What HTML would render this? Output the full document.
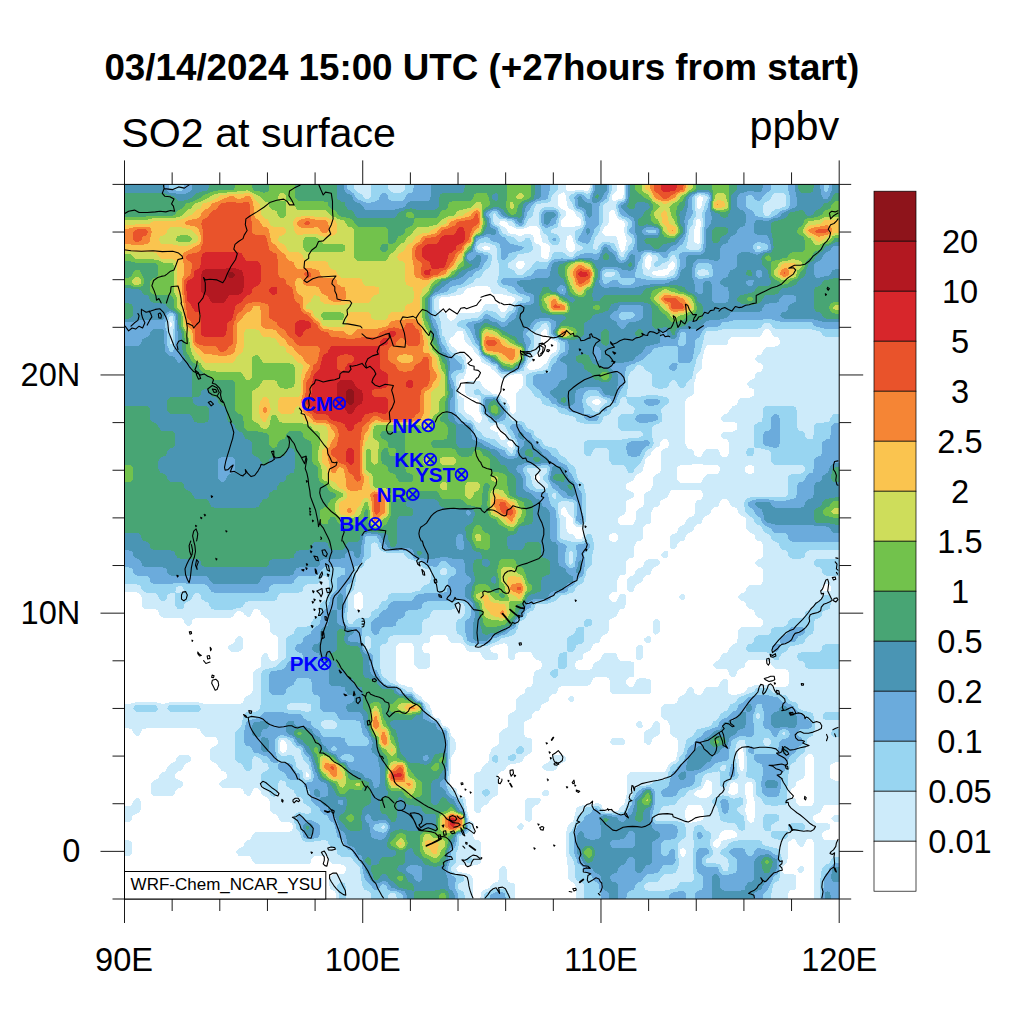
<!DOCTYPE html>
<html><head><meta charset="utf-8"><title>SO2 at surface</title>
<style>
html,body{margin:0;padding:0;background:#fff;}
body{width:1024px;height:1024px;overflow:hidden;position:relative;font-family:"Liberation Sans",sans-serif;}
svg{position:absolute;left:0;top:0;}
text{font-family:"Liberation Sans",sans-serif;fill:#000;}
</style></head><body>
<svg width="1024" height="1024" viewBox="0 0 1024 1024">
<rect width="1024" height="1024" fill="#fff"/>
<text x="481.8" y="80" font-size="36.75" font-weight="bold" text-anchor="middle">03/14/2024 15:00 UTC (+27hours from start)</text>
<text x="121.3" y="147" font-size="41.2">SO2 at surface</text>
<text x="839.3" y="140" font-size="41.4" text-anchor="end">ppbv</text>
<defs><clipPath id="mc"><rect x="124.5" y="184.4" width="714.7" height="714.6"/></clipPath></defs>
<g id="map" clip-path="url(#mc)" shape-rendering="crispEdges">
<rect x="124" y="184" width="716" height="716" fill="#fff"/>
<path fill="#cdebfa" d="M117,177 119,177 121,177 123,177 125,177 128,177 130,177 132,177 134,177 136,177 138,177 140,177 142,177 145,177 147,177 149,177 151,177 153,177 155,177 157,177 160,177 162,177 164,177 166,177 168,177 170,177 172,177 174,177 177,177 179,177 181,177 183,177 185,177 187,177 189,177 191,177 194,177 196,177 198,177 200,177 202,177 204,177 206,177 208,177 211,177 213,177 215,177 217,177 219,177 221,177 223,177 225,177 228,177 230,177 232,177 234,177 236,177 238,177 240,177 242,177 245,177 247,177 249,177 251,177 253,177 255,177 257,177 259,177 262,177 264,177 266,177 268,177 270,177 272,177 274,177 277,177 279,177 281,177 283,177 285,177 287,177 289,177 291,177 294,177 296,177 298,177 300,177 302,177 304,177 306,177 308,177 311,177 313,177 315,177 317,177 319,177 321,177 323,177 325,177 328,177 330,177 332,177 334,177 336,177 338,177 340,177 342,177 345,177 347,177 349,177 351,177 353,177 355,177 357,177 359,177 362,177 364,177 366,177 368,177 370,177 372,177 374,177 376,177 379,177 381,177 383,177 385,177 387,177 389,177 391,177 394,177 396,177 398,177 400,177 402,177 404,177 406,177 408,177 411,177 413,177 415,177 417,177 419,177 421,177 423,177 425,177 428,177 430,177 432,177 434,177 436,177 438,177 440,177 442,177 445,177 447,177 449,177 451,177 453,177 455,177 457,177 459,177 462,177 464,177 466,177 468,177 470,177 472,177 474,177 476,177 479,177 481,177 483,177 485,177 487,177 489,177 491,177 494,177 496,177 498,177 500,177 502,177 504,177 506,177 508,177 511,177 513,177 515,177 517,177 519,177 521,177 523,177 525,177 528,177 530,177 532,177 534,177 536,177 538,177 540,177 542,177 545,177 547,177 549,177 551,177 553,177 555,177 557,177 559,177 562,177 564,177 566,177 566,177 566,179 566,181 566,183 566,185 566,187 566,190 568,191 570,191 572,191 574,191 576,190 579,190 581,190 583,190 585,191 587,191 589,190 589,190 590,187 590,185 590,183 590,181 590,179 590,177 591,177 593,177 596,177 598,177 600,177 602,177 604,177 606,177 608,177 611,177 613,177 615,177 617,177 617,177 617,179 617,181 617,183 617,185 617,187 617,190 617,190 615,192 615,192 613,194 613,194 612,196 612,198 612,200 613,201 615,201 616,200 617,200 619,199 621,199 622,198 623,197 623,196 624,194 624,192 624,190 624,187 624,185 624,183 624,181 624,179 624,177 625,177 628,177 630,177 632,177 634,177 636,177 638,177 640,177 642,177 645,177 647,177 649,177 651,177 653,177 655,177 657,177 659,177 662,177 664,177 666,177 668,177 670,177 672,177 674,177 676,177 679,177 681,177 683,177 685,177 687,177 689,177 691,177 693,177 696,177 698,177 700,177 702,177 704,177 706,177 708,177 710,177 713,177 715,177 717,177 719,177 721,177 723,177 725,177 728,177 730,177 732,177 734,177 736,177 738,177 740,177 742,177 745,177 747,177 749,177 751,177 753,177 755,177 757,177 759,177 762,177 764,177 766,177 768,177 770,177 772,177 774,177 776,177 779,177 781,177 783,177 785,177 787,177 789,177 791,177 793,177 796,177 798,177 800,177 802,177 804,177 806,177 808,177 810,177 813,177 815,177 817,177 819,177 821,177 823,177 825,177 827,177 830,177 832,177 834,177 836,177 838,177 840,177 842,177 845,177 847,177 847,179 847,181 847,183 847,185 847,187 847,190 847,192 847,194 847,196 847,198 847,200 847,202 847,205 847,207 847,209 847,211 847,213 847,215 847,217 847,219 847,222 847,224 847,226 847,228 847,230 847,232 847,234 847,236 847,239 847,241 847,243 847,245 847,247 847,249 847,251 847,253 847,256 847,258 847,260 847,262 847,264 847,266 847,268 847,270 847,273 847,275 847,277 847,279 847,281 847,283 847,285 847,287 847,290 847,292 847,294 847,296 847,298 847,300 847,302 847,304 847,307 847,309 847,311 847,313 847,315 847,317 847,319 847,322 847,324 847,326 847,328 847,330 847,332 847,334 847,336 847,339 847,341 847,343 847,345 847,347 847,349 847,351 847,353 847,356 847,358 847,360 847,362 847,364 847,366 847,368 847,370 847,373 847,375 847,377 847,379 847,381 847,383 847,385 847,387 847,390 847,392 847,394 847,396 847,398 847,400 847,402 847,404 847,407 847,409 847,411 847,413 847,415 847,417 847,419 847,422 847,424 847,426 847,428 847,430 847,432 847,434 847,436 847,439 847,441 847,443 847,445 847,447 847,449 847,451 847,453 847,456 847,458 847,460 847,462 847,464 847,466 847,468 847,470 847,473 847,475 847,477 847,479 847,481 847,483 847,485 847,487 847,490 847,492 847,494 847,496 847,498 847,500 847,502 847,504 847,507 847,509 847,511 847,513 847,515 847,517 847,519 847,521 847,524 847,526 847,528 847,530 847,532 847,534 847,536 847,539 847,541 847,543 847,545 847,547 847,549 847,551 847,553 847,556 847,558 847,560 847,562 847,564 847,566 847,568 847,570 847,573 847,575 847,577 847,579 847,581 847,583 847,585 847,587 847,590 847,592 847,594 847,596 847,598 847,600 847,602 847,604 847,607 847,609 847,611 847,613 847,615 847,617 847,619 847,621 847,624 847,626 847,628 847,630 847,632 847,634 847,636 847,638 847,641 847,643 847,645 847,647 847,649 847,651 847,653 847,656 847,658 847,660 847,662 847,664 847,666 847,668 847,670 847,673 847,675 847,677 847,679 847,681 847,683 847,685 847,687 847,690 847,692 847,694 847,696 847,698 847,700 847,702 847,704 847,707 847,709 847,711 847,713 847,715 847,717 847,719 847,721 847,724 847,726 847,728 847,730 847,732 847,734 847,736 847,738 847,741 847,743 847,745 847,747 847,749 847,751 847,753 847,756 847,758 847,760 847,762 847,762 845,762 842,762 840,762 838,762 836,762 834,763 832,764 831,764 830,766 830,768 830,770 830,773 830,775 830,777 831,779 832,779 834,780 836,781 838,781 840,781 842,781 845,781 847,781 847,781 847,783 847,785 847,787 847,790 847,792 847,794 847,796 847,798 847,800 847,802 847,804 847,805 845,805 842,805 840,805 838,805 836,805 834,805 832,805 830,805 827,805 825,805 823,806 823,807 822,809 821,811 821,811 819,813 819,813 817,814 815,815 814,815 813,817 813,819 814,821 815,822 817,823 819,823 821,823 823,823 825,823 827,823 829,824 830,825 830,826 830,828 830,828 828,830 827,830 825,831 823,832 823,832 822,834 822,836 823,838 823,839 825,840 827,840 830,840 832,840 834,840 836,840 838,840 840,840 842,840 845,840 847,840 847,841 847,843 847,845 847,847 847,849 847,851 847,853 847,855 847,858 847,860 847,862 847,864 847,866 847,868 847,870 847,873 847,875 847,877 847,879 847,881 847,883 847,885 847,887 847,890 847,892 847,894 847,896 847,898 847,900 847,902 847,904 847,907 845,907 842,907 840,907 838,907 836,907 834,907 832,907 830,907 827,907 825,907 823,907 821,907 819,907 817,907 815,907 814,907 814,904 814,902 814,900 814,898 814,896 814,894 814,892 814,890 814,887 814,885 814,883 814,881 814,879 814,877 814,875 814,873 814,870 814,868 814,866 814,864 814,862 814,860 814,858 814,855 814,853 814,851 814,849 814,847 814,845 814,843 813,841 813,840 810,839 808,839 806,840 806,841 805,843 804,845 804,845 802,847 802,847 800,847 800,847 798,845 798,845 797,843 796,841 796,840 793,839 791,840 790,841 789,841 788,843 788,845 788,847 788,849 788,851 788,853 788,855 788,858 787,860 787,862 787,862 786,864 785,864 783,866 783,867 782,868 782,870 783,873 783,873 785,874 787,874 789,874 791,874 793,874 795,875 796,876 796,877 796,879 796,881 796,883 796,885 796,887 796,888 794,890 793,890 791,890 789,891 789,892 788,894 788,896 788,898 788,900 788,902 788,904 788,907 787,907 785,907 783,907 781,907 779,907 776,907 774,907 772,907 770,907 768,907 766,907 764,907 762,907 759,907 757,907 755,907 753,907 751,907 749,907 747,907 745,907 742,907 740,907 738,907 736,907 734,907 732,907 730,907 728,907 725,907 723,907 721,907 719,907 717,907 715,907 713,907 710,907 708,907 706,907 704,907 702,907 700,907 698,907 696,907 693,907 691,907 689,907 687,907 685,907 683,907 681,907 679,907 676,907 674,907 672,907 670,907 668,907 666,907 664,907 662,907 659,907 657,907 655,907 653,907 651,907 649,907 647,907 645,907 642,907 640,907 638,907 636,907 634,907 632,907 630,907 628,907 625,907 623,907 621,907 619,907 617,907 615,907 613,907 611,907 608,907 606,907 604,907 602,907 600,907 598,907 596,907 593,907 591,907 589,907 587,907 585,907 583,907 581,907 579,907 576,907 576,907 576,904 576,902 576,900 576,898 576,896 576,894 576,892 576,890 576,887 575,885 574,884 574,883 572,882 570,881 570,881 568,879 568,879 568,877 568,875 568,873 568,870 568,868 568,866 567,864 567,862 567,860 567,858 566,855 566,854 566,853 566,851 566,849 566,847 566,845 566,843 566,841 566,838 566,836 566,834 566,834 566,832 567,830 567,828 568,826 568,825 570,824 570,823 572,822 573,821 574,819 574,817 574,816 575,815 575,813 576,811 576,809 576,808 578,807 579,806 581,806 583,805 585,805 586,804 587,804 589,804 591,804 593,804 596,803 598,803 600,804 600,804 602,806 602,807 603,809 604,810 605,811 606,811 608,811 611,811 613,811 615,811 617,811 617,811 619,809 619,808 621,807 621,806 623,805 624,804 625,802 625,800 625,799 626,798 626,796 627,794 627,792 627,790 627,787 627,785 627,783 627,781 627,779 627,777 627,775 628,774 629,773 630,772 632,772 634,772 636,772 638,772 640,772 642,772 645,772 647,772 649,772 651,772 653,772 655,772 657,772 659,772 662,772 664,772 666,771 666,770 667,768 668,766 668,766 669,764 670,763 672,762 672,762 674,761 676,760 676,758 676,757 677,756 677,753 678,751 678,749 678,747 678,745 678,743 678,741 677,738 676,738 674,737 672,736 672,736 670,734 670,734 670,732 670,730 670,728 670,726 669,724 668,721 668,721 666,720 664,720 663,719 662,718 661,717 661,715 661,713 661,711 661,709 661,707 662,706 664,704 664,704 666,704 668,704 670,704 672,704 674,704 676,703 677,702 678,700 678,698 679,698 680,696 681,696 683,695 685,694 685,694 686,692 687,690 687,689 689,687 689,687 691,687 691,687 693,689 694,690 694,692 695,694 696,694 698,695 700,695 702,694 702,694 703,692 704,690 704,689 706,687 706,687 708,687 710,687 713,687 715,687 717,687 719,686 719,685 720,683 721,681 721,681 723,679 723,679 725,679 726,679 728,680 728,681 728,683 728,685 728,687 728,690 728,692 729,694 730,694 732,695 734,695 736,695 738,694 739,694 740,694 742,693 745,692 745,692 746,690 747,689 748,687 749,687 751,687 753,686 755,685 757,685 757,685 759,685 762,685 764,685 766,685 768,685 769,685 770,685 772,686 774,687 776,687 779,687 781,687 783,687 785,687 787,686 788,685 789,683 789,681 789,679 789,677 789,675 789,673 788,670 787,670 785,669 783,669 781,669 779,669 776,669 774,668 774,668 772,666 772,666 771,664 770,662 770,662 768,661 766,660 764,660 762,660 759,660 757,660 755,660 753,660 751,660 749,660 747,661 746,662 745,664 745,666 745,666 743,668 742,668 740,669 738,670 738,670 737,673 736,675 736,675 734,677 734,677 732,677 731,677 730,676 729,675 729,673 728,670 728,670 725,669 723,669 721,669 719,669 717,669 715,668 715,668 713,666 713,666 713,664 713,664 715,662 715,662 717,661 719,660 719,660 720,658 721,656 721,655 723,653 723,653 725,653 728,652 728,651 729,649 730,647 730,647 732,645 732,645 734,644 736,643 737,643 737,641 738,638 738,636 738,634 738,632 738,630 738,630 740,628 740,628 742,627 745,627 747,627 749,627 751,627 753,627 755,627 757,627 759,627 762,626 762,626 763,624 763,621 762,619 762,619 759,618 757,617 757,617 755,615 755,615 755,613 754,611 753,610 751,609 749,609 749,609 747,607 747,607 746,604 745,602 745,602 742,601 740,600 740,600 738,598 738,598 738,596 738,596 740,594 740,594 742,593 745,592 745,592 746,590 747,587 747,587 749,585 749,585 751,585 753,585 755,585 757,585 759,585 762,584 762,583 763,581 763,579 763,577 763,575 763,573 763,570 762,568 762,568 759,567 757,566 757,566 755,564 755,564 755,562 755,562 757,560 757,560 759,559 762,558 762,558 763,556 763,553 763,551 763,549 763,547 763,545 762,543 762,542 759,541 757,541 757,541 755,539 755,539 755,536 754,534 753,534 751,533 749,532 749,532 747,530 747,530 746,528 746,526 746,524 746,521 746,519 745,518 744,517 742,516 740,515 740,515 738,513 738,513 738,511 737,509 736,508 734,507 732,507 732,507 730,505 730,504 729,502 728,500 728,500 725,499 723,499 721,500 721,500 720,502 719,504 719,505 717,507 717,507 715,507 713,508 712,509 711,511 711,513 710,513 709,515 708,515 706,516 704,517 704,517 703,519 702,521 702,522 700,524 700,524 698,524 696,525 695,526 694,528 694,530 693,530 692,532 691,532 689,533 687,534 687,534 686,536 685,539 685,539 683,541 683,541 681,541 679,542 678,543 677,545 677,547 676,547 674,549 674,549 672,549 671,549 670,548 670,547 670,545 670,543 670,541 670,539 670,536 670,536 672,534 672,534 674,534 676,533 677,532 678,530 678,528 679,528 680,526 681,526 683,525 685,524 685,524 686,521 687,519 687,519 689,517 689,517 691,517 693,516 694,515 695,513 695,511 695,509 695,507 695,504 696,502 696,502 697,500 698,500 700,500 702,499 702,498 703,496 703,494 702,492 702,491 700,490 698,490 696,490 693,490 691,490 689,490 687,490 685,490 683,490 681,490 679,490 676,490 674,490 672,490 670,491 670,492 669,494 668,496 668,496 666,498 666,498 664,499 662,500 661,500 660,502 660,504 659,505 658,507 657,507 655,507 653,508 653,509 652,511 651,513 651,515 651,517 651,519 651,521 651,522 649,524 649,524 647,524 645,525 644,526 643,528 643,530 643,532 643,534 643,536 643,539 642,539 641,541 640,541 638,541 636,542 636,543 635,545 634,547 634,549 634,551 634,553 634,556 634,556 632,558 632,558 630,558 628,559 627,560 626,562 626,564 626,566 626,568 626,570 626,573 625,574 624,575 623,575 621,575 619,576 619,577 618,579 617,581 617,583 617,585 617,587 617,590 617,591 616,592 615,592 613,592 611,593 610,594 609,596 609,598 610,600 611,601 613,602 615,602 617,601 617,600 618,598 619,596 619,595 620,594 621,594 623,594 624,594 625,595 626,596 626,598 626,600 626,602 626,604 625,607 625,607 624,609 623,609 621,609 619,610 619,611 618,613 617,615 617,615 615,617 615,617 613,618 611,619 610,619 609,621 609,624 609,626 609,628 609,630 608,632 608,632 606,634 606,634 604,635 602,636 602,636 601,638 600,641 600,641 598,643 598,643 596,643 593,644 593,645 592,647 591,649 591,649 589,651 589,651 587,652 585,653 584,653 583,656 583,658 583,658 581,660 581,660 579,660 576,661 576,662 575,664 575,666 576,668 576,669 579,670 581,670 583,670 585,670 587,670 589,670 591,669 592,668 593,666 593,664 593,664 595,662 596,662 598,661 600,660 600,660 601,658 602,656 602,655 604,653 604,653 606,653 608,653 611,653 613,653 615,653 615,653 617,655 617,656 618,658 619,660 619,660 621,661 623,661 625,661 628,661 630,661 632,662 633,662 634,663 634,664 634,666 634,668 634,670 634,673 634,675 634,676 633,677 632,677 630,677 628,678 627,679 626,681 626,683 627,685 628,686 630,687 632,687 634,686 634,685 635,683 636,681 636,680 637,679 638,679 640,678 642,678 645,678 647,679 649,679 649,679 651,681 651,681 651,683 651,685 651,687 651,690 651,692 651,692 649,694 649,694 647,694 645,694 642,694 640,694 638,694 636,694 634,694 632,694 630,694 628,694 625,694 623,694 621,694 619,694 617,694 615,694 613,694 612,694 611,692 610,692 610,690 610,687 610,685 610,683 610,681 609,679 608,678 606,677 604,677 602,677 600,677 598,677 596,677 593,678 593,679 592,681 591,683 591,683 589,685 589,685 587,686 585,686 583,686 581,686 579,686 576,686 574,686 572,686 570,686 568,686 566,686 564,686 562,686 559,687 559,687 558,690 557,692 557,692 555,694 555,694 553,694 551,695 550,696 549,698 549,700 549,700 547,702 547,702 545,703 542,704 542,704 541,707 540,709 540,709 538,711 538,711 536,711 534,712 533,713 532,715 532,717 532,717 530,719 530,719 528,720 525,721 525,721 524,724 524,726 524,728 524,730 524,732 524,734 525,736 525,737 528,738 530,738 530,738 532,740 532,741 532,743 532,745 532,747 532,749 532,751 532,751 530,753 530,754 528,754 526,756 525,756 524,758 523,760 523,760 521,762 521,762 519,763 517,763 515,764 513,764 513,764 511,764 508,765 507,766 506,768 506,769 504,770 504,771 502,771 500,772 499,773 498,775 498,777 498,779 498,781 498,783 498,785 498,787 498,790 498,792 498,794 498,794 496,796 496,796 494,797 492,798 491,799 490,800 489,802 489,803 487,804 487,805 485,805 483,806 482,807 481,809 481,811 481,811 479,813 479,813 476,813 476,813 474,811 474,811 474,809 474,807 474,804 474,802 474,800 474,798 474,796 474,794 474,792 474,790 474,787 474,785 474,783 474,781 474,779 474,777 474,775 474,774 476,773 476,772 479,772 481,771 481,770 482,768 483,766 483,766 485,764 485,764 487,763 488,762 489,760 489,758 489,757 489,756 490,753 491,751 491,749 491,749 493,747 494,747 496,746 498,745 498,745 499,743 499,741 499,738 499,736 499,734 500,732 500,732 502,730 502,730 504,729 506,728 507,728 508,726 508,724 508,721 508,719 508,717 508,715 508,715 510,713 511,713 513,712 515,711 515,711 516,709 516,707 516,704 516,702 516,700 517,698 517,698 519,696 519,696 521,695 523,694 524,694 525,692 525,690 525,689 527,687 528,687 530,687 532,686 532,685 533,683 533,681 533,679 533,677 534,675 534,673 534,672 536,670 536,670 538,670 540,669 541,668 542,666 542,664 541,662 540,661 538,660 536,660 536,660 534,658 534,658 533,656 532,653 532,653 530,652 528,652 525,652 523,652 521,652 519,652 517,653 516,653 515,656 515,658 515,658 513,660 513,660 511,660 510,660 508,658 508,658 508,656 508,653 508,651 508,649 508,647 507,645 506,644 504,643 502,644 500,644 498,645 497,645 496,645 494,646 491,647 491,647 490,649 491,651 491,652 494,653 496,653 496,653 498,655 498,656 498,658 498,658 496,660 496,660 494,660 491,660 489,660 487,660 485,660 485,660 483,658 483,658 482,656 481,653 481,653 479,652 476,652 474,652 472,652 470,652 468,651 468,651 466,650 466,649 465,647 464,646 463,645 462,644 459,643 457,643 455,643 453,643 451,643 451,643 449,641 449,641 448,638 447,636 447,636 445,635 442,635 440,635 438,635 436,635 434,635 432,636 431,636 430,638 430,641 430,641 428,643 428,643 425,643 423,644 423,645 422,647 422,649 423,651 423,652 425,653 428,653 428,653 430,655 430,656 430,658 430,660 430,662 430,664 430,666 430,666 428,668 428,668 425,669 423,669 421,669 419,669 417,668 417,668 415,666 415,666 414,664 414,662 414,660 414,658 414,656 414,653 414,651 414,649 414,647 413,645 413,644 411,643 408,643 406,643 404,643 402,643 400,643 398,644 397,645 396,647 396,649 396,651 396,653 396,656 396,658 396,660 396,662 396,664 396,666 396,668 396,670 396,673 396,675 396,677 396,679 396,681 398,683 398,683 400,684 402,685 403,685 404,685 406,686 408,687 411,687 411,687 413,689 413,690 414,692 415,692 416,694 417,694 419,696 420,696 421,697 422,698 423,700 423,700 425,702 426,702 428,704 428,704 430,706 430,707 431,709 432,711 432,711 432,713 433,715 434,717 434,717 436,718 438,718 440,719 440,720 441,721 442,724 442,725 443,726 445,726 447,727 448,728 449,729 450,730 450,732 451,734 451,736 451,736 453,738 454,738 455,740 455,741 456,743 456,745 456,747 456,749 455,751 455,751 454,753 453,754 452,756 451,758 451,758 451,760 451,762 451,764 451,766 451,768 451,770 451,773 450,775 450,777 450,779 450,781 450,783 450,785 451,786 453,787 453,787 455,788 457,790 457,791 457,792 458,794 459,795 462,796 462,796 464,797 465,798 466,800 466,800 466,802 466,804 467,807 467,809 467,811 468,813 468,814 468,815 469,817 469,819 470,821 471,821 472,822 474,824 474,826 474,826 474,828 474,828 474,830 474,832 473,834 473,836 474,838 474,839 476,840 479,840 479,841 481,843 481,843 481,845 481,847 481,849 481,851 481,853 481,855 481,858 481,860 481,862 481,862 479,864 479,864 476,865 474,865 472,866 471,866 470,866 468,866 467,866 466,866 464,865 462,865 459,865 458,866 457,867 456,868 457,870 457,871 459,872 462,872 462,873 464,873 466,873 468,874 470,874 470,875 472,877 472,877 473,879 473,881 473,883 473,885 473,887 473,890 473,892 473,894 473,896 473,898 473,900 473,902 473,904 473,907 472,907 470,907 468,907 466,907 464,907 462,907 459,907 457,907 455,907 453,907 451,907 449,907 447,907 445,907 442,907 440,907 438,907 436,907 434,907 432,907 430,907 428,907 425,907 423,907 421,907 419,907 417,907 415,907 413,907 411,907 408,907 406,907 404,907 402,907 400,907 398,907 396,907 394,907 391,907 389,907 387,907 385,907 383,907 381,907 379,907 376,907 374,907 372,907 370,907 368,907 366,907 364,907 362,907 359,907 357,907 355,907 353,907 351,907 349,907 347,907 345,907 342,907 340,907 338,907 336,907 336,907 336,904 336,902 336,900 336,898 336,896 336,894 335,892 334,891 332,890 331,890 330,888 330,887 329,885 329,883 329,881 329,879 330,877 330,877 332,875 332,875 334,874 336,874 338,874 340,874 342,874 345,873 345,873 346,870 346,868 345,866 345,866 342,865 340,864 338,864 336,864 334,864 332,864 332,864 330,862 330,862 329,860 328,858 328,857 325,856 323,856 321,856 319,856 317,856 315,856 313,857 312,858 311,860 311,862 311,862 309,864 308,864 306,864 304,864 302,864 300,864 298,864 296,864 294,864 291,864 289,864 287,864 285,864 283,864 281,864 279,864 277,864 274,864 272,864 270,864 268,864 266,864 264,864 262,864 259,864 257,864 255,864 255,864 253,862 253,862 252,860 251,858 251,857 249,856 247,856 245,856 242,856 240,856 238,856 238,855 236,853 236,853 236,851 236,851 238,849 238,849 240,848 242,847 243,847 244,845 244,843 245,842 246,841 247,840 249,840 251,839 251,838 252,836 253,834 253,834 255,832 255,832 257,832 259,832 262,832 264,832 266,832 268,832 270,832 272,832 274,832 277,832 279,832 281,832 283,832 285,832 287,832 289,832 291,831 292,830 293,828 293,826 292,824 291,823 289,822 287,822 285,822 283,822 281,822 281,821 279,820 279,819 278,817 277,815 277,815 274,814 272,813 272,813 270,811 270,811 270,809 270,807 270,804 270,802 269,800 268,799 268,798 266,797 264,796 263,796 262,794 261,794 261,792 259,790 259,790 257,788 255,788 253,789 253,790 252,792 251,794 251,794 249,796 249,796 247,796 247,796 245,794 244,794 244,792 243,790 242,789 240,788 238,788 236,788 234,788 232,788 230,788 228,788 225,788 223,788 221,787 221,787 219,785 219,785 219,783 219,783 221,781 221,781 223,780 225,779 226,779 227,777 227,775 226,773 225,772 223,771 221,771 221,770 219,768 219,768 218,766 217,764 217,764 215,763 213,762 212,762 211,760 210,760 210,758 210,756 210,753 210,751 210,749 211,749 212,747 213,747 215,746 217,745 217,745 218,743 218,741 217,738 217,738 215,737 213,737 211,737 208,737 206,737 204,736 204,736 202,734 202,734 201,732 200,730 200,729 198,729 196,728 194,728 191,728 189,728 187,728 185,728 183,728 181,728 179,728 177,728 174,728 172,728 170,728 168,728 166,728 164,728 162,728 160,728 157,728 155,728 153,728 151,728 149,728 147,728 145,729 142,729 142,730 141,732 140,734 140,734 138,736 138,736 136,736 136,736 134,734 134,734 133,732 132,730 132,729 130,729 128,728 125,728 123,728 121,728 119,728 117,728 117,728 117,726 117,724 117,721 117,719 117,717 117,715 117,713 117,711 117,709 117,707 117,704 117,704 119,704 121,704 123,704 125,704 128,704 130,704 132,703 134,703 135,702 136,702 138,702 140,702 142,702 145,702 147,702 149,702 151,702 153,702 155,702 156,702 157,703 160,703 162,704 164,704 166,703 168,703 169,702 170,702 172,702 174,702 177,702 179,702 181,702 183,702 185,702 187,702 189,702 191,702 194,702 196,702 198,702 198,702 200,703 202,703 204,704 206,704 208,704 211,704 213,704 215,704 217,704 219,704 221,704 223,704 225,704 228,704 230,704 232,704 234,704 236,704 238,704 240,704 242,703 243,702 244,700 244,698 245,698 246,696 247,696 249,695 251,694 251,694 252,692 253,690 253,687 253,685 253,683 253,681 253,679 253,677 253,675 253,673 253,672 255,670 255,670 257,669 259,668 259,668 261,666 261,664 261,662 261,660 261,658 262,656 262,655 264,653 264,653 266,653 266,653 268,655 268,656 269,658 270,660 270,660 272,661 274,661 276,660 277,659 278,658 278,656 278,653 278,651 278,649 278,647 278,645 278,643 278,641 278,638 277,636 277,636 274,635 272,634 272,634 270,632 270,632 270,630 270,628 270,626 270,624 269,621 268,619 268,619 266,618 264,617 264,617 262,615 261,615 261,613 260,611 259,610 257,609 255,609 253,610 253,611 252,613 251,615 251,615 249,617 249,617 247,617 247,617 245,615 244,615 244,613 242,612 240,611 238,611 236,612 235,613 234,615 234,615 232,617 232,617 230,618 228,618 225,618 223,618 221,618 219,618 217,618 215,618 213,618 211,618 208,618 206,618 204,618 202,618 200,618 198,618 196,618 194,619 193,619 192,621 192,624 191,624 189,626 189,626 187,626 187,626 185,624 185,624 184,621 183,619 183,619 181,618 179,618 177,618 174,618 172,618 170,618 168,618 166,618 164,618 162,617 161,617 160,615 159,615 159,613 158,611 157,610 155,609 153,609 151,609 149,609 147,609 145,609 144,609 142,607 142,607 142,604 142,602 142,600 142,598 141,596 140,594 140,594 138,593 136,592 134,592 132,592 130,592 128,592 125,592 123,592 121,592 119,592 117,592 117,592 117,590 117,587 117,585 117,583 117,581 117,579 117,577 117,575 117,573 117,570 117,568 117,566 117,564 117,562 117,560 117,558 117,556 117,553 117,551 117,549 117,547 117,545 117,543 117,541 117,539 117,536 117,534 117,532 117,530 117,528 117,526 117,524 117,521 117,519 117,517 117,515 117,513 117,511 117,509 117,507 117,504 117,502 117,500 117,498 117,496 117,494 117,492 117,490 117,487 117,485 117,483 117,481 117,479 117,477 117,475 117,473 117,470 117,468 117,466 117,464 117,462 117,460 117,458 117,456 117,453 117,451 117,449 117,447 117,445 117,443 117,441 117,439 117,436 117,434 117,432 117,430 117,428 117,426 117,424 117,422 117,419 117,417 117,415 117,413 117,411 117,409 117,407 117,404 117,402 117,400 117,398 117,396 117,394 117,392 117,390 117,387 117,385 117,383 117,381 117,379 117,377 117,375 117,373 117,370 117,368 117,366 117,364 117,362 117,360 117,358 117,356 117,353 117,351 117,349 117,347 117,345 117,343 117,341 117,339 117,336 117,334 117,332 117,330 117,328 117,326 117,324 117,322 117,319 117,317 117,315 117,313 117,311 117,309 117,307 117,304 117,302 117,300 117,298 117,296 117,294 117,292 117,290 117,287 117,285 117,283 117,281 117,279 117,277 117,275 117,273 117,270 117,268 117,266 117,264 117,262 117,260 117,258 117,256 117,253 117,251 117,249 117,247 117,245 117,243 117,241 117,239 117,236 117,234 117,232 117,230 117,228 117,226 117,224 117,222 117,219 117,217 117,215 117,213 117,211 117,209 117,207 117,205 117,202 117,200 117,198 117,196 117,194 117,192 117,190 117,187 117,185 117,183 117,181 117,179ZM170,322 170,324 170,326 170,327 172,326 172,326 172,324 172,323ZM281,740 281,741 280,743 280,745 280,747 280,749 280,751 281,752 283,753 285,752 286,751 287,749 287,747 287,745 286,743 285,741 285,741 283,740ZM306,772 306,773 306,775 306,777 306,777 308,777 309,777 309,775 308,773 308,773ZM357,593 356,594 355,594 354,596 354,598 354,600 354,602 354,604 354,607 355,609 355,609 357,610 359,610 362,609 362,609 363,607 363,604 363,602 363,600 363,598 363,596 362,594 362,593 359,592ZM472,287 471,287 470,288 468,288 466,289 465,290 464,292 464,292 462,294 462,294 459,295 457,295 455,296 454,296 453,296 451,296 449,297 447,297 445,297 442,297 440,298 440,298 439,300 439,302 439,304 439,307 439,309 440,310 441,311 442,312 445,313 445,313 447,315 447,315 447,317 448,319 449,320 451,321 453,320 455,319 455,319 456,317 457,315 457,315 459,313 459,313 462,313 464,313 466,313 468,313 470,313 472,313 474,313 476,312 479,312 480,311 481,310 482,309 483,307 483,306 485,304 485,304 487,304 489,304 491,304 494,304 496,304 496,304 498,306 498,307 499,309 500,310 500,311 502,312 504,312 505,311 506,310 507,309 508,307 508,306 510,304 511,304 513,303 513,302 515,301 515,300 515,298 515,298 513,297 511,296 510,296 508,296 506,295 504,295 502,294 500,294 498,294 496,294 494,294 493,294 491,292 491,292 491,290 490,287 489,287 487,286 485,286 483,286 481,286 479,286 476,286 474,287ZM483,247 482,247 483,249 483,249 485,250 487,250 489,250 490,249 490,247 489,247 487,246 485,246ZM500,221 500,222 499,224 500,224 501,226 502,226 504,227 506,228 506,229 507,230 508,232 508,233 511,234 513,234 514,234 515,234 517,235 519,236 521,236 523,235 525,234 527,234 528,234 529,234 530,234 532,235 533,236 534,238 534,239 534,241 535,243 536,244 538,244 539,245 540,246 541,247 541,249 541,251 541,253 541,256 542,258 542,258 545,259 547,259 548,258 549,256 549,255 549,253 550,251 550,249 550,247 549,246 548,245 547,244 545,243 543,243 542,242 542,241 542,239 541,236 540,234 540,233 540,232 540,230 538,228 538,228 536,226 534,226 532,226 530,226 528,227 526,228 525,228 523,229 521,229 519,229 517,229 515,228 514,228 513,227 511,226 509,226 508,225 508,224 506,222 505,222 504,221 502,221ZM562,193 560,194 559,194 558,196 558,198 558,200 558,202 558,205 559,207 559,207 561,209 562,209 564,210 565,211 566,212 566,213 566,215 566,215 564,217 564,218 562,219 562,219 561,222 561,224 561,226 562,227 564,227 566,227 568,227 570,227 572,227 574,227 576,226 577,226 579,226 581,224 581,224 581,222 581,219 581,219 579,218 578,217 576,216 576,215 575,213 574,212 573,211 572,210 570,209 569,209 568,208 568,207 567,205 567,202 566,200 566,199 566,198 566,196 565,194 564,192ZM593,400 593,400 592,402 593,404 594,404 596,405 598,405 599,404 600,403 601,402 600,400 600,400 598,399 596,399ZM611,210 610,211 609,213 609,215 609,217 609,219 609,222 608,224 608,224 607,226 606,226 604,227 604,228 603,230 602,232 603,234 604,235 606,236 608,236 611,236 613,236 615,236 615,236 617,238 617,239 618,241 618,243 619,245 619,246 619,247 620,249 621,251 621,252 623,252 623,251 625,249 625,247 625,246 626,245 626,243 627,241 626,239 626,236 625,236 625,234 624,232 624,230 624,228 625,226 625,224 624,222 623,221 621,220 619,220 619,219 617,218 617,217 616,215 615,213 615,211 615,211 613,210ZM649,255 647,256 647,256 646,258 645,260 645,262 645,264 645,266 646,268 647,269 649,270 650,268 651,266 651,264 651,263 651,262 652,260 652,258 651,256 650,256ZM672,261 671,262 670,263 669,264 668,266 668,268 667,268 666,269 664,269 662,270 659,270 658,270 657,271 655,271 653,271 652,273 653,275 653,275 655,275 657,276 659,276 662,276 664,276 666,275 668,275 668,275 669,273 670,271 671,270 672,270 674,268 674,268 675,266 675,264 674,262 674,262ZM679,466 678,466 677,468 677,470 677,473 677,475 677,477 677,479 678,481 679,482 681,483 683,483 685,483 687,483 689,483 691,483 693,483 696,483 698,483 700,483 702,482 702,481 703,479 704,477 704,477 706,475 706,475 708,474 710,474 713,474 715,474 717,474 719,473 719,473 720,470 720,468 719,466 719,466 717,465 715,465 713,465 710,465 708,465 706,465 704,465 702,464 700,464 698,464 696,464 693,464 691,465 689,465 687,465 685,465 683,465 681,465ZM700,196 699,196 698,197 697,198 697,200 697,202 697,205 697,207 698,209 698,209 700,209 700,209 701,207 702,205 702,204 702,202 703,200 703,198 702,197 700,196ZM766,329 764,330 764,330 763,332 762,334 762,335 760,336 759,337 757,337 755,337 753,337 751,337 749,337 747,337 745,337 742,337 740,337 738,337 736,337 734,337 732,337 730,338 729,339 728,341 728,343 728,343 726,345 725,345 723,345 721,345 719,345 717,345 715,345 713,345 710,345 708,345 706,346 706,347 705,349 704,351 704,352 704,353 703,356 703,358 702,360 702,362 702,364 702,366 702,368 702,369 700,370 700,371 698,372 697,373 696,375 696,377 696,378 695,379 695,381 694,383 694,385 694,387 694,390 694,392 694,394 693,394 692,396 691,396 689,397 687,398 687,398 686,400 685,402 685,404 685,407 685,409 685,411 685,413 685,415 685,417 685,419 685,422 685,424 685,426 685,428 685,430 685,432 685,434 685,436 685,439 685,441 685,443 686,445 687,447 687,448 689,449 691,449 692,449 693,451 694,451 694,453 695,456 696,456 698,457 700,457 702,456 702,456 703,453 704,451 704,451 706,449 706,449 708,449 710,449 713,449 715,449 717,449 717,449 719,451 719,451 720,453 721,456 721,456 723,457 725,457 728,456 728,456 729,453 729,451 729,449 729,447 729,445 729,443 728,441 728,440 725,439 723,439 723,439 721,436 721,436 721,434 721,434 723,432 723,432 725,432 728,432 730,432 732,432 734,431 736,430 737,430 737,428 737,426 737,424 736,423 734,422 732,422 730,422 728,422 725,422 723,422 723,422 721,419 721,419 721,417 721,417 723,415 723,415 725,414 728,413 728,413 729,411 730,409 730,409 732,407 732,406 734,406 736,405 737,404 738,402 738,400 738,400 740,398 740,398 742,398 745,398 747,398 749,398 751,397 753,396 754,396 754,394 754,392 754,390 753,389 751,388 749,388 749,387 747,385 747,385 747,383 747,383 749,381 749,381 751,380 753,379 754,379 755,377 755,375 755,374 757,373 757,372 759,372 762,371 762,370 763,368 763,366 762,364 762,364 759,363 757,362 757,362 755,360 755,360 755,358 755,358 757,356 757,355 759,355 762,354 762,353 763,351 764,349 764,349 766,347 766,347 768,347 770,347 772,347 774,347 776,346 779,345 779,345 780,343 780,341 779,339 779,338 776,337 774,337 774,336 772,335 772,334 771,332 770,330 770,330 768,329ZM808,754 807,756 806,756 805,758 805,760 805,762 805,764 805,766 805,768 805,770 805,773 805,775 804,777 804,777 802,779 802,779 800,780 798,781 797,781 796,783 796,785 796,786 794,787 793,788 791,789 791,790 790,792 790,794 791,796 791,797 793,798 794,798 796,800 796,800 796,802 797,804 798,805 800,806 802,806 804,806 806,806 808,806 810,806 813,805 813,804 814,802 814,800 814,798 814,796 814,794 814,792 814,790 814,787 814,785 814,783 814,781 814,779 814,777 814,775 814,773 814,770 814,768 814,766 814,764 814,762 814,760 814,758 813,756 813,755 810,754ZM823,585 823,585 822,587 822,590 823,591 825,591 827,591 830,591 831,590 831,587 830,585 830,585 827,584 825,584ZM681,849 680,849 680,851 680,853 681,855 681,856 683,857 685,856 685,855 686,853 686,851 685,849 685,849 683,848ZM687,806 687,807 686,809 685,811 685,813 685,815 685,817 686,819 687,821 688,821 689,823 691,823 693,822 696,822 697,821 698,821 700,821 702,820 703,819 704,817 704,815 704,813 704,811 703,809 702,807 702,806 700,805 698,805 696,805 693,805 691,805 689,805ZM706,780 706,781 705,783 704,785 704,785 703,787 702,789 700,790 700,790 698,790 696,791 695,792 694,794 695,796 696,796 698,797 700,798 702,798 704,798 706,798 708,797 710,796 710,795 712,794 712,792 712,790 712,787 712,785 712,783 711,781 710,781 708,780ZM721,832 721,832 720,834 719,836 719,838 718,838 717,839 715,840 714,841 713,843 713,845 714,847 715,847 717,848 718,847 719,846 720,845 721,843 721,841 722,841 723,840 725,840 728,839 730,839 731,838 732,838 734,838 736,837 737,836 737,834 736,833 736,832 734,831 732,830 730,830 728,830 725,830 723,831ZM732,783 731,783 730,785 730,786 729,787 729,790 728,792 729,794 730,794 732,795 734,795 736,794 737,794 738,792 738,790 738,787 738,785 737,783 736,783 734,782ZM740,746 740,747 739,749 738,751 738,753 738,756 738,758 739,760 739,762 739,764 739,766 740,768 740,770 740,770 742,771 743,770 744,768 744,766 744,764 744,762 744,760 744,758 744,756 744,753 743,751 743,749 743,747 742,747ZM747,782 746,783 745,785 745,787 745,790 745,792 745,794 746,796 746,798 747,800 747,800 747,802 747,803 746,804 746,807 745,809 745,811 746,813 746,815 747,816 747,817 747,819 748,821 749,822 751,823 753,822 754,821 754,819 755,817 755,815 755,813 755,811 755,809 755,807 755,804 755,802 754,800 754,798 753,796 753,794 753,794 753,792 753,790 753,787 753,785 752,783 751,782 749,782ZM457,331 456,332 455,334 455,335 453,336 453,337 451,337 450,339 449,341 449,343 451,345 451,346 453,347 454,347 455,349 455,349 457,351 457,352 459,353 462,353 462,353 464,354 465,356 466,358 466,358 466,360 466,362 467,364 467,366 467,368 466,370 466,372 466,373 465,375 464,377 464,378 463,379 462,379 459,381 459,381 459,383 459,385 459,387 459,390 459,392 459,394 459,396 460,396 462,398 463,398 464,399 464,400 464,402 464,404 464,407 464,409 465,411 466,413 466,413 468,414 470,415 470,415 472,417 473,417 474,419 474,420 476,422 476,422 479,423 481,422 481,422 482,419 482,417 481,416 481,415 480,413 479,411 479,409 479,407 479,404 479,402 479,400 479,400 476,398 475,398 474,398 472,397 470,397 468,396 467,396 466,395 466,394 465,392 465,390 465,387 465,385 466,383 466,382 467,381 468,381 470,381 472,381 474,381 476,381 479,381 479,381 481,383 481,383 482,385 483,387 483,387 485,389 487,389 487,390 489,391 490,392 491,393 493,394 494,394 496,394 498,395 500,395 501,396 502,397 504,398 505,398 506,400 507,400 507,402 508,404 509,404 510,407 510,409 510,411 511,413 511,413 513,414 515,413 515,413 516,411 516,409 516,407 516,404 516,402 516,400 516,398 516,396 516,394 517,392 517,392 519,390 519,389 521,389 522,387 523,385 523,383 523,381 523,379 523,377 522,375 521,374 519,374 517,374 515,374 513,375 511,375 511,375 508,376 507,377 506,378 504,379 504,379 502,379 502,379 500,377 500,377 498,375 498,374 496,373 496,372 494,371 493,370 491,369 491,368 489,366 489,366 487,365 485,364 485,364 483,363 481,362 481,360 481,360 480,358 479,356 478,356 476,354 476,353 474,352 474,351 473,349 472,348 471,347 470,346 468,345 468,345 466,343 466,343 465,341 464,339 464,336 464,335 463,334 463,332 462,331 459,331ZM519,261 517,262 517,262 516,264 516,266 517,268 517,268 519,269 521,269 523,268 523,268 524,266 525,264 524,262 523,261 521,261ZM545,329 543,330 542,331 541,332 541,334 541,336 541,339 541,341 541,343 541,345 541,347 541,349 540,351 540,351 538,353 538,354 536,354 534,356 534,356 533,358 532,360 532,360 530,362 530,362 528,364 528,365 527,366 527,368 528,369 530,370 532,370 534,370 536,369 538,369 540,368 541,368 542,366 542,366 544,364 545,364 547,363 547,362 548,360 549,358 549,358 550,356 551,354 553,353 553,353 555,352 556,351 557,349 557,347 557,345 557,343 555,341 555,341 553,340 551,339 550,339 549,338 548,336 547,334 547,332 547,330 546,330ZM562,508 561,509 561,511 561,513 561,515 562,515 564,517 565,517 566,518 566,519 566,521 566,524 566,526 566,528 567,530 567,532 568,533 570,534 572,534 572,534 574,536 575,536 576,539 576,539 579,539 581,539 582,539 583,536 583,535 583,534 584,532 584,530 583,528 583,528 581,527 579,527 576,527 575,526 574,525 573,524 573,521 573,519 572,518 572,517 570,516 569,515 568,514 568,513 567,511 566,509 566,508 564,507ZM568,236 567,236 567,239 566,241 566,243 566,245 566,247 567,249 568,251 568,251 570,252 572,252 573,251 574,250 575,249 575,247 575,245 574,244 574,243 573,241 573,239 572,236 572,236 570,235ZM611,534 610,534 609,536 609,539 610,541 611,541 613,542 615,542 617,541 617,541 618,539 618,536 617,534 617,534 615,533 613,533ZM662,440 661,441 660,443 660,445 659,446 659,447 657,447 655,448 654,449 653,450 652,451 651,453 651,454 649,456 649,456 647,457 646,458 645,460 645,462 645,463 644,464 644,466 643,468 643,470 642,471 641,473 640,473 638,474 636,475 636,475 635,477 634,479 634,479 632,481 632,481 630,482 628,483 627,483 626,485 626,487 627,490 628,490 630,491 632,492 632,492 634,494 634,494 634,496 634,496 632,498 632,498 630,499 628,500 627,500 626,502 626,504 626,507 626,509 626,511 625,513 625,513 624,515 623,515 621,516 619,517 619,517 618,519 618,521 619,524 619,524 621,525 623,525 625,525 628,525 630,525 632,525 634,524 634,524 635,521 636,519 636,517 636,515 636,513 636,511 636,511 638,509 638,509 640,508 642,507 643,507 644,504 644,502 644,500 644,498 644,496 644,494 645,494 646,492 647,492 649,491 651,490 651,490 652,487 653,485 653,483 653,481 653,479 653,477 653,477 655,475 655,475 657,474 659,473 660,473 661,470 661,468 661,466 661,464 661,462 661,460 661,458 661,456 661,453 661,451 662,450 663,449 664,449 666,448 668,448 668,447 669,445 669,443 668,441 668,440 666,439 664,439ZM698,219 697,219 696,222 696,224 696,225 695,226 695,228 694,230 694,232 694,234 694,236 694,239 694,241 695,243 696,243 698,244 699,243 700,242 700,241 700,239 700,236 700,234 700,232 700,230 700,228 701,226 701,224 701,222 700,219 700,219ZM747,466 746,466 745,468 745,470 746,473 747,473 749,474 751,474 753,473 754,473 754,470 754,468 754,466 753,466 751,465 749,465ZM491,426 491,426 490,428 491,430 491,430 494,431 496,432 497,432 498,433 498,434 499,436 500,438 500,439 502,440 504,440 506,439 506,436 506,434 505,432 504,432 502,431 501,430 500,429 499,428 498,426 497,426 496,425 494,425ZM508,441 507,443 508,445 508,446 510,447 511,448 512,447 513,447 513,445 513,443 513,442 511,441ZM536,474 535,475 534,477 535,479 535,481 536,482 538,482 539,481 540,479 540,477 539,475 538,474ZM664,551 664,551 666,551 667,551 668,552 668,553 668,556 668,556 666,558 666,558 664,558 663,558 662,556 661,556 662,553 662,553ZM646,560 647,560 649,559 651,559 653,559 655,559 657,559 658,560 659,561 660,562 660,564 659,564 658,566 657,566 655,567 653,568 653,568 652,570 651,573 651,573 649,575 649,575 647,575 645,576 644,577 643,579 643,581 642,581 641,583 640,583 638,584 636,585 636,585 635,587 634,590 634,590 632,592 632,592 630,592 629,592 628,591 627,590 627,587 627,585 627,583 627,581 627,579 628,578 629,577 630,576 632,576 634,575 634,575 635,573 636,570 636,570 638,568 638,568 640,568 642,567 643,566 644,564 644,562 645,562ZM681,594 681,594 683,594 683,594 685,596 685,596 685,598 685,598 683,600 683,600 681,600 681,600 679,598 679,598 679,596 679,596ZM655,619 655,619 657,619 657,619 659,621 660,621 660,624 660,626 660,628 660,630 660,632 659,632 657,634 657,634 655,635 654,634 653,633 653,632 653,630 653,628 653,626 653,624 653,621 653,621ZM238,636 238,636 240,636 240,636 242,638 243,638 243,641 243,643 243,645 243,647 243,649 242,649 241,651 240,651 238,652 236,652 234,652 232,652 230,651 230,651 228,649 228,649 228,647 228,647 229,645 230,645 232,644 234,643 234,643 235,641 236,638 236,638ZM647,636 647,636 649,636 650,636 651,638 651,638 651,641 651,641 649,643 649,643 647,643 646,643 645,642 644,641 644,638 645,638ZM638,645 638,645 640,645 641,645 642,646 643,647 643,649 643,651 643,653 643,656 643,658 642,658 640,660 640,660 638,660 637,660 636,659 636,658 636,656 636,653 636,651 636,649 636,647 636,647ZM570,696 570,696 572,696 572,696 574,698 574,698 574,700 574,700 572,702 572,702 570,702 570,702 568,700 568,700 568,698 568,698ZM638,721 638,721 640,721 640,721 642,723 642,724 643,726 642,727 641,728 640,728 638,728 638,728 636,726 636,726 636,724 636,724ZM655,721 655,721 657,721 658,721 659,723 660,724 660,726 660,728 660,730 660,732 660,734 659,734 658,736 657,736 655,737 653,738 653,738 652,741 651,743 651,743 649,745 649,745 647,745 647,745 645,743 644,743 644,741 644,738 644,736 644,734 644,732 645,731 646,730 647,730 649,729 651,728 651,728 652,726 653,724 653,723ZM612,738 613,738 615,738 617,738 619,738 621,738 623,738 623,738 625,741 625,741 625,743 625,743 623,745 623,745 621,745 619,745 617,745 615,745 613,745 612,745 611,743 610,743 610,741 611,741ZM178,756 179,755 181,755 183,755 185,755 187,755 189,755 189,756 191,758 191,758 191,760 191,760 190,762 189,762 187,763 185,764 185,764 184,766 183,768 183,768 181,770 181,771 179,771 177,772 176,773 175,775 175,777 176,779 177,779 179,780 181,781 181,781 183,783 183,783 183,785 183,785 181,787 181,788 179,788 177,789 176,790 175,792 175,794 174,794 172,796 172,796 170,796 168,796 166,796 164,796 162,796 160,796 157,796 155,796 153,796 153,796 151,794 151,794 151,792 151,790 151,787 151,785 151,783 151,783 153,781 153,781 155,780 157,779 158,779 159,777 159,775 160,774 161,773 162,772 164,772 166,771 166,770 167,768 168,766 168,766 170,764 170,764 172,763 174,762 175,762 176,760 176,758 177,757ZM553,756 553,755 555,755 557,755 559,755 562,755 564,755 564,756 566,758 566,758 566,760 566,760 564,762 564,762 562,763 559,764 559,764 558,766 557,768 557,768 555,770 555,770 553,771 551,771 549,771 547,771 545,770 544,770 542,768 542,768 542,766 542,766 544,764 545,764 547,763 549,762 549,762 550,760 551,758 551,757ZM544,790 545,790 547,790 547,790 549,792 549,792 549,794 549,794 547,796 547,796 545,796 544,796 542,795 542,794 542,792 542,792ZM136,798 136,798 138,798 138,798 140,800 140,800 141,802 141,804 141,807 141,809 140,811 140,811 138,813 138,813 136,814 134,815 133,815 132,817 132,819 132,820 130,821 130,822 128,822 125,822 123,822 121,822 119,822 117,822 117,821 117,819 117,817 117,815 117,813 117,811 117,809 117,807 117,806 119,806 121,806 123,806 125,806 128,806 130,806 132,805 132,804 133,802 134,800 134,800ZM527,798 528,798 530,798 532,798 534,798 536,798 538,798 539,798 540,799 541,800 540,802 540,802 538,804 538,805 536,805 534,806 533,807 532,809 532,811 532,813 532,815 532,817 532,819 532,819 530,821 530,822 528,822 527,821 525,820 525,819 525,817 525,815 525,813 525,811 525,809 525,807 525,804 525,802 525,800 525,800ZM834,815 834,815 836,815 838,815 840,815 842,815 845,815 847,815 847,815 847,817 847,819 847,821 847,822 845,822 842,822 840,822 838,822 836,822 834,822 833,821 832,820 831,819 832,817 832,817ZM519,824 519,824 521,823 522,824 523,825 524,826 523,828 523,828 521,830 521,830 519,830 519,830 517,828 517,828 517,826 517,826ZM117,841 117,840 119,840 121,840 123,840 125,840 128,840 130,841 130,841 132,843 132,843 132,845 132,847 132,849 132,851 132,853 132,854 130,855 130,856 128,856 125,856 123,856 121,856 119,856 117,856 117,855 117,853 117,851 117,849 117,847 117,845 117,843ZM502,866 502,866 504,866 504,866 506,868 506,868 507,870 507,873 507,875 507,877 507,879 508,881 508,882 511,883 513,883 513,883 515,885 515,885 515,887 515,890 515,892 515,894 515,896 515,898 515,900 515,902 515,904 515,907 515,907 513,907 511,907 508,907 506,907 504,907 502,907 500,907 498,907 496,907 494,907 491,907 489,907 487,907 485,907 483,907 481,907 480,907 480,904 480,902 480,900 480,898 481,896 481,894 481,894 481,892 483,890 485,890 485,889 487,889 489,888 490,887 491,885 491,885 493,883 494,883 496,882 498,882 498,881 499,879 499,877 499,875 499,873 499,870 500,868 500,868ZM800,866 800,866 802,866 802,866 804,868 804,868 804,870 804,870 802,873 802,873 800,873 799,873 798,871 797,870 798,868 798,868Z"/>
<path fill="#98d5f1" d="M117,177 119,177 121,177 123,177 125,177 128,177 130,177 132,177 134,177 136,177 138,177 140,177 142,177 145,177 147,177 149,177 151,177 153,177 155,177 157,177 160,177 162,177 164,177 166,177 168,177 170,177 172,177 174,177 177,177 179,177 181,177 183,177 185,177 187,177 189,177 191,177 194,177 196,177 198,177 200,177 202,177 204,177 206,177 208,177 211,177 213,177 215,177 217,177 219,177 221,177 223,177 225,177 228,177 230,177 232,177 234,177 236,177 238,177 240,177 242,177 245,177 247,177 249,177 251,177 253,177 255,177 257,177 259,177 262,177 264,177 266,177 268,177 270,177 272,177 274,177 277,177 279,177 281,177 283,177 285,177 287,177 289,177 291,177 294,177 296,177 298,177 300,177 302,177 304,177 306,177 308,177 311,177 313,177 315,177 317,177 319,177 321,177 323,177 325,177 328,177 330,177 332,177 334,177 336,177 338,177 340,177 342,177 345,177 347,177 349,177 351,177 353,177 354,177 354,179 354,181 354,183 354,185 354,187 355,190 355,190 357,192 357,192 359,193 361,194 362,194 363,196 364,198 364,198 366,199 368,199 370,198 370,198 371,196 371,194 371,192 371,190 371,187 371,185 371,183 371,181 371,179 371,177 372,177 374,177 376,177 379,177 381,177 383,177 385,177 387,177 388,177 388,179 388,181 388,183 388,185 388,187 389,190 389,190 391,192 391,192 394,193 396,193 398,193 400,193 402,192 403,192 404,190 405,190 405,187 405,185 405,183 405,181 405,179 405,177 406,177 408,177 411,177 413,177 415,177 417,177 419,177 421,177 423,177 425,177 428,177 430,177 432,177 434,177 436,177 438,177 440,177 442,177 445,177 447,177 449,177 451,177 453,177 455,177 457,177 459,177 462,177 464,177 466,177 468,177 470,177 472,177 474,177 476,177 479,177 481,177 483,177 485,177 487,177 489,177 491,177 494,177 496,177 498,177 500,177 502,177 504,177 506,177 508,177 511,177 513,177 515,177 517,177 519,177 521,177 523,177 525,177 528,177 530,177 532,177 534,177 536,177 538,177 540,177 542,177 545,177 547,177 549,177 551,177 553,177 555,177 557,177 558,177 558,179 558,181 558,183 558,185 558,187 558,190 557,190 556,192 555,192 553,194 553,194 552,196 551,198 551,199 551,200 549,202 548,202 547,203 545,203 542,203 540,204 538,204 536,204 536,205 535,207 534,209 534,210 534,211 533,213 533,215 532,217 531,217 530,218 528,219 528,220 527,222 526,224 525,225 525,226 523,227 521,227 519,227 517,227 515,226 515,225 514,224 513,222 512,222 511,221 508,221 506,220 505,219 504,219 502,219 500,219 498,218 497,217 496,215 496,214 494,213 493,215 493,217 493,219 493,222 494,223 494,224 496,225 497,226 498,226 500,228 500,228 501,230 502,232 502,233 504,234 505,234 506,235 508,236 510,236 511,237 513,237 515,238 515,239 517,241 517,241 519,242 521,242 523,241 524,241 525,239 525,238 528,238 530,238 530,239 531,241 532,243 532,244 532,245 533,247 533,249 532,251 531,251 530,252 528,253 525,253 524,253 523,254 521,254 519,254 517,255 517,256 515,258 515,259 513,260 513,260 511,261 510,262 508,263 508,264 508,266 508,268 509,268 511,269 513,270 513,270 515,272 515,273 517,275 517,275 519,275 521,275 523,275 523,274 525,273 525,272 527,270 528,270 530,269 530,268 532,267 532,266 533,264 534,263 535,262 536,261 538,261 540,262 542,262 542,262 545,262 546,262 547,262 549,260 549,260 551,258 551,258 552,256 553,253 553,253 555,252 557,252 559,252 562,252 564,253 564,253 566,255 567,256 568,256 570,257 572,257 574,256 574,255 575,253 576,252 578,251 579,251 581,250 583,249 583,249 583,247 583,247 581,246 579,245 579,245 576,243 576,243 576,241 575,239 575,236 575,234 575,232 576,230 576,230 579,229 580,228 581,228 583,226 583,226 584,224 584,222 583,219 583,218 582,217 582,215 581,213 581,213 579,212 577,211 576,211 574,209 574,208 573,207 573,205 572,203 572,202 570,201 570,200 569,198 569,196 570,195 572,194 573,194 574,193 576,192 579,192 581,192 583,192 585,193 587,194 589,193 590,192 591,190 591,190 592,187 592,185 592,183 592,181 592,179 592,177 593,177 596,177 598,177 600,177 602,177 604,177 606,177 608,177 611,177 612,177 612,179 612,181 612,183 612,185 612,187 612,190 611,192 611,193 610,194 610,196 609,198 609,200 608,201 607,202 606,203 604,204 603,205 603,207 603,209 603,211 603,213 603,215 603,217 603,219 603,222 602,224 602,224 601,226 600,228 600,229 600,230 599,232 598,234 598,235 596,236 596,236 595,239 594,241 594,243 593,244 593,245 593,247 593,249 593,249 596,250 598,249 598,249 598,247 599,245 600,244 601,243 602,242 604,242 606,242 608,242 611,243 611,243 613,243 615,245 615,245 616,247 617,249 617,249 618,251 619,253 619,253 620,256 621,257 623,257 624,256 625,253 625,253 626,251 628,249 628,249 628,247 629,245 630,245 631,243 632,242 632,241 632,239 632,238 630,237 629,236 628,235 627,234 627,232 627,230 627,228 627,226 628,225 628,224 628,223 627,222 625,219 625,219 623,219 621,218 620,217 619,217 618,215 618,213 617,211 617,210 616,209 616,207 616,205 617,203 617,202 619,201 621,201 623,200 623,200 625,198 625,196 625,194 625,192 625,190 625,187 625,185 625,183 625,181 625,179 625,177 625,177 628,177 630,177 632,177 634,177 636,177 638,177 640,177 642,177 645,177 647,177 649,177 651,177 653,177 655,177 657,177 659,177 662,177 664,177 666,177 668,177 670,177 672,177 674,177 676,177 679,177 681,177 683,177 685,177 687,177 689,177 691,177 693,177 696,177 698,177 700,177 702,177 704,177 706,177 708,177 710,177 713,177 715,177 717,177 719,177 721,177 723,177 725,177 728,177 730,177 732,177 734,177 736,177 738,177 740,177 742,177 745,177 747,177 749,177 751,177 753,177 755,177 757,177 759,177 762,177 764,177 766,177 768,177 770,177 772,177 774,177 776,177 779,177 781,177 783,177 785,177 787,177 789,177 791,177 793,177 796,177 798,177 800,177 802,177 804,177 806,177 808,177 810,177 813,177 815,177 817,177 819,177 821,177 823,177 825,177 827,177 830,177 832,177 834,177 836,177 838,177 840,177 842,177 845,177 847,177 847,179 847,181 847,183 847,185 847,187 847,190 847,192 847,194 847,196 847,198 847,200 847,202 847,205 847,207 847,209 847,211 847,213 847,215 847,217 847,219 847,222 847,224 847,226 847,228 847,230 847,232 847,234 847,236 847,239 847,241 847,243 847,245 847,247 847,249 847,251 847,253 847,256 847,258 847,260 847,262 847,264 847,266 847,268 847,270 847,273 847,275 847,277 847,279 847,281 847,283 847,285 847,287 847,290 847,292 847,294 847,296 847,298 847,300 847,302 847,304 847,307 847,309 847,311 847,313 847,315 847,317 847,319 847,322 847,324 847,326 847,328 847,330 847,332 847,334 847,336 847,337 845,337 842,337 840,337 838,337 836,337 834,337 832,337 830,337 827,337 825,337 824,336 823,336 822,334 821,332 821,332 819,331 817,331 815,330 814,330 813,330 810,329 808,329 806,329 804,329 802,329 800,329 798,329 796,329 793,329 791,329 789,329 787,329 785,329 783,329 781,329 779,329 776,329 774,328 774,328 772,327 772,326 770,324 770,323 768,323 766,323 764,323 763,324 762,326 762,327 760,328 759,328 757,329 755,329 753,329 751,329 749,329 747,329 745,329 742,329 740,329 738,329 736,329 734,329 732,329 730,329 728,329 725,329 723,329 721,330 720,330 719,330 717,331 715,331 713,331 710,331 708,331 706,331 706,332 705,334 704,336 704,337 704,339 703,341 703,343 702,345 702,346 702,347 701,349 701,351 700,353 700,354 698,355 698,356 697,358 696,360 696,362 696,363 695,364 695,366 694,368 694,370 693,372 693,373 693,375 692,377 692,379 691,379 689,380 688,381 687,382 686,383 686,385 685,387 684,387 683,388 681,388 679,387 679,387 678,385 677,383 676,382 676,381 674,380 672,380 671,381 670,382 669,383 669,385 668,387 667,387 666,388 664,388 662,389 659,389 657,388 655,388 654,387 653,387 652,385 652,383 652,381 652,379 652,377 652,375 651,373 650,373 649,372 647,371 645,370 645,370 644,368 643,366 642,366 640,365 638,365 636,366 636,366 635,368 634,370 633,370 632,371 630,372 630,373 629,375 628,377 628,379 628,381 628,383 628,385 628,387 628,388 627,390 627,392 627,394 626,396 628,397 630,397 632,397 634,397 636,397 638,397 640,397 642,396 644,396 645,396 647,395 649,395 651,395 653,395 655,395 657,395 659,396 660,396 662,396 664,397 666,397 667,398 668,399 669,400 669,402 668,404 667,404 666,405 664,406 663,407 662,408 661,409 661,411 661,413 662,414 662,415 662,417 662,419 662,421 661,422 659,423 659,424 657,424 655,425 653,426 653,426 652,428 652,430 652,432 652,434 652,436 653,439 653,440 653,441 654,443 653,445 653,445 652,447 651,448 649,449 649,449 647,450 646,451 645,453 645,454 644,456 643,458 642,459 642,460 641,462 640,464 640,464 638,465 637,466 636,467 635,468 634,470 634,471 632,473 632,473 630,473 628,473 628,472 627,470 626,468 625,467 625,466 623,465 621,465 619,465 617,465 615,465 613,465 611,464 611,463 610,462 609,460 609,458 609,456 609,453 609,451 608,450 608,449 606,448 604,448 602,448 600,448 598,448 596,448 594,449 593,450 593,451 592,453 591,455 591,456 589,456 587,456 586,456 585,455 584,453 584,451 584,449 584,447 584,445 584,443 585,441 586,441 587,440 589,440 591,440 593,440 596,440 598,440 600,440 602,440 604,440 606,440 608,440 611,440 613,440 615,440 617,440 619,440 621,440 623,439 625,439 627,439 628,438 630,438 632,438 634,438 636,438 638,438 640,437 642,436 643,436 643,434 642,433 642,432 640,431 638,431 636,431 634,431 632,431 630,431 628,431 625,431 623,431 621,431 620,430 619,429 618,428 618,426 618,424 618,422 618,419 618,417 619,416 620,415 621,414 623,414 625,414 628,414 630,414 632,414 633,413 634,412 634,411 635,409 634,407 633,407 632,406 630,405 628,404 628,404 627,402 627,400 626,398 625,397 623,397 621,398 621,398 620,400 620,402 619,404 619,404 617,406 616,407 615,407 613,408 612,409 611,411 611,412 610,413 608,415 608,415 606,416 604,416 603,417 603,419 602,421 602,422 600,423 599,424 598,424 596,424 593,424 591,424 589,424 587,424 585,424 584,424 583,423 581,423 579,422 577,422 576,421 576,419 575,417 574,417 572,416 570,416 568,415 567,415 566,415 564,414 562,414 560,413 559,413 558,411 557,409 557,409 555,408 553,407 551,407 550,407 549,406 547,406 545,405 543,404 542,404 542,402 541,400 540,399 539,398 538,398 536,397 534,396 534,395 533,394 532,392 532,391 530,390 530,389 528,388 527,387 526,385 526,383 526,381 526,379 526,377 526,375 528,374 530,373 531,373 532,372 534,372 536,372 538,371 540,371 542,371 543,370 545,370 547,369 548,368 548,366 549,366 549,364 550,362 551,360 551,360 552,358 553,357 555,356 555,356 557,354 558,353 559,351 559,351 560,349 560,347 560,345 560,343 559,343 558,341 557,340 555,339 555,339 553,338 551,337 550,336 549,334 549,332 549,330 549,329 549,328 548,326 547,324 547,323 545,323 543,324 542,324 541,326 540,327 539,328 538,329 536,330 536,330 534,332 534,332 533,334 534,336 534,338 534,339 534,341 534,343 534,345 534,346 534,347 533,349 532,351 532,352 531,353 530,354 529,356 528,358 528,359 527,360 527,362 526,364 525,365 525,366 524,368 524,370 523,371 521,371 519,372 517,372 516,373 515,373 513,373 511,373 508,374 506,374 504,374 502,374 500,373 499,373 498,371 497,370 496,368 496,367 495,366 494,366 491,365 490,364 489,363 487,362 487,362 485,361 484,360 483,359 482,358 481,356 480,356 479,353 479,352 478,351 478,349 476,348 476,347 474,346 473,345 472,343 472,343 471,341 470,339 470,338 468,337 468,336 467,334 466,332 466,332 465,330 464,329 462,328 462,328 459,327 457,326 457,326 457,324 457,323 459,322 459,321 462,320 464,320 465,319 466,319 468,319 470,319 472,318 474,318 476,318 479,317 479,317 480,315 481,315 482,313 483,312 485,311 485,311 487,310 489,311 490,311 491,311 494,312 496,312 496,313 498,314 498,315 500,317 500,317 502,318 504,318 505,317 506,315 506,315 507,313 508,312 510,311 511,311 513,309 513,309 514,307 515,305 515,304 517,303 517,302 519,301 521,301 522,300 523,298 521,297 519,296 518,296 517,295 515,294 513,294 513,294 511,293 508,292 508,292 507,290 506,289 504,288 502,288 501,287 500,287 498,285 498,284 497,283 497,281 498,279 498,278 498,277 499,275 499,273 499,270 499,268 499,266 499,264 498,262 498,261 497,260 497,258 497,256 497,253 497,251 497,249 496,247 496,246 494,245 493,245 491,244 489,243 488,243 487,243 485,242 483,243 482,243 481,243 479,244 478,245 477,247 477,249 479,250 481,251 482,251 483,252 485,252 487,252 489,253 490,253 491,255 492,256 492,258 492,260 491,261 491,262 491,264 490,266 489,268 489,268 487,269 485,270 485,270 483,272 483,273 482,275 481,276 480,277 479,278 476,278 476,279 474,280 474,281 472,283 472,283 470,284 468,285 467,285 466,286 464,287 462,287 462,288 459,288 457,289 457,290 455,292 455,292 453,293 451,293 450,294 449,294 447,295 445,295 442,295 440,296 439,296 438,296 436,297 435,298 434,299 434,300 434,302 434,304 434,307 434,309 434,309 435,311 436,312 437,313 438,314 439,315 439,317 440,319 440,321 441,322 441,324 441,326 441,328 442,330 442,332 442,334 442,336 443,336 445,338 445,339 446,341 446,343 447,343 447,345 448,347 449,348 449,349 450,351 451,352 453,353 454,353 455,354 457,355 459,356 459,356 462,357 462,358 463,360 464,361 464,362 464,364 465,366 465,368 464,370 464,371 462,373 462,373 459,373 457,375 457,375 456,377 456,379 456,381 456,383 456,385 457,387 457,390 457,392 457,394 457,396 457,397 457,398 458,400 458,402 458,404 458,407 458,409 458,411 459,413 459,413 462,414 462,415 464,416 464,417 466,419 466,419 468,420 470,420 472,422 472,422 474,424 474,424 475,426 476,428 476,429 477,430 479,431 480,432 481,433 482,434 483,436 483,436 485,437 487,438 489,438 490,439 491,439 494,439 496,440 496,441 498,442 498,443 500,445 500,445 502,446 504,447 504,447 506,448 507,449 508,451 509,451 510,453 511,454 512,453 513,453 513,451 514,449 515,448 515,447 516,445 516,443 515,441 515,441 513,439 512,439 511,437 510,436 509,434 508,434 508,432 507,430 506,429 506,428 505,426 504,425 502,424 500,424 499,424 498,423 496,423 494,423 491,423 489,422 489,422 488,419 487,417 487,417 485,416 484,415 483,415 482,413 481,411 481,409 481,407 481,404 481,402 481,400 481,398 481,397 480,396 479,395 476,395 474,394 474,394 474,392 474,390 475,390 476,389 479,389 479,390 481,391 481,392 482,394 483,394 485,395 487,395 489,395 491,395 494,396 496,396 496,396 498,396 500,398 500,398 501,400 502,402 502,402 504,403 506,404 506,405 507,407 508,409 508,411 508,413 508,414 509,415 509,417 510,419 511,420 513,421 515,421 517,421 519,421 521,421 522,422 523,422 525,424 525,424 526,426 527,428 528,429 530,429 531,430 532,430 534,432 534,433 534,434 535,436 536,437 538,438 540,439 540,439 542,441 542,441 543,443 544,445 545,446 547,446 549,447 550,447 551,447 553,448 555,448 557,449 557,450 558,451 559,453 559,454 561,456 562,456 564,457 565,458 566,458 567,460 568,462 568,462 570,464 570,464 572,465 574,466 574,467 575,468 576,470 576,473 576,474 577,475 577,477 578,479 579,481 579,481 581,482 582,483 583,484 584,485 584,487 585,490 585,491 585,492 586,494 586,496 586,498 586,500 586,502 586,504 586,507 586,509 586,511 586,513 586,515 586,517 586,519 586,521 585,524 585,524 583,525 581,525 579,525 576,524 576,524 575,521 575,519 574,517 574,516 574,515 574,513 574,511 574,509 574,507 574,504 573,502 572,502 570,502 568,501 566,501 564,501 562,501 559,502 559,502 558,504 558,507 558,509 558,511 558,513 559,515 559,517 559,518 560,519 560,521 560,524 560,526 560,528 560,530 560,532 560,534 560,536 561,539 562,539 564,540 566,540 567,541 568,541 570,541 572,542 574,542 576,542 579,542 581,542 583,541 583,541 585,539 585,539 586,536 587,534 587,534 589,534 591,534 591,535 592,536 593,539 593,541 593,542 594,543 594,545 594,547 594,549 593,550 593,551 593,553 592,556 592,558 592,560 592,562 592,564 591,566 591,566 589,567 588,568 587,569 587,570 586,573 586,575 585,577 585,577 584,579 584,581 583,583 582,583 581,584 579,585 578,585 576,587 576,587 575,590 574,591 574,592 572,593 570,593 568,594 568,594 566,595 564,595 562,595 560,596 559,597 558,598 557,600 557,600 555,601 553,602 551,602 551,603 549,603 547,604 545,604 542,604 540,604 538,604 536,604 536,604 535,607 534,608 534,609 532,611 531,611 530,611 528,613 527,613 527,615 526,617 525,618 524,619 523,620 521,621 520,621 519,622 519,624 518,626 518,628 517,629 516,630 516,632 515,634 514,634 513,635 511,636 509,636 508,637 506,637 504,638 502,638 501,638 500,639 498,641 498,641 496,642 494,643 493,643 491,644 489,645 489,645 487,646 485,646 483,646 481,646 479,646 476,646 474,646 472,646 470,646 468,645 468,645 466,644 465,643 464,641 464,641 463,638 462,636 462,636 459,635 458,634 457,634 457,632 456,630 456,628 456,626 456,624 457,621 457,620 458,619 459,619 462,618 462,617 464,616 464,615 465,613 465,611 465,609 465,607 464,605 464,604 462,603 459,603 457,604 457,604 456,607 455,608 455,609 453,609 451,610 449,610 447,610 445,610 442,610 440,610 438,610 436,610 434,610 432,611 432,611 431,613 430,615 430,617 429,617 428,618 425,619 424,619 423,620 423,621 422,624 422,626 422,628 422,630 422,632 421,634 421,634 419,635 417,635 415,635 413,635 411,635 408,635 406,635 404,635 402,635 400,635 398,635 396,635 394,635 391,636 390,636 389,637 388,638 388,641 387,642 387,643 385,644 383,644 381,645 381,645 380,647 380,649 380,651 380,653 380,656 380,658 380,660 380,662 380,664 380,666 380,668 381,670 381,670 381,673 382,675 383,677 383,677 385,678 387,679 387,679 388,681 389,682 391,683 391,683 394,684 396,685 397,685 398,686 400,687 400,687 402,688 404,689 405,690 406,691 408,692 408,692 411,692 413,693 413,694 415,695 415,696 416,698 417,699 419,700 420,700 421,701 423,702 423,703 425,704 425,706 426,707 426,709 428,710 428,711 430,713 430,713 431,715 431,717 432,718 434,719 434,719 436,720 438,721 439,721 440,724 440,726 440,726 442,728 443,728 445,728 447,729 447,730 448,732 449,734 449,736 449,736 450,738 450,741 450,743 450,745 450,747 450,749 450,751 450,753 450,756 450,758 449,760 449,762 449,764 449,766 449,768 449,770 449,771 449,773 449,775 448,777 448,779 448,781 448,783 448,785 449,787 449,787 451,789 451,790 453,791 454,792 455,794 455,794 457,796 457,797 459,798 460,798 462,799 463,800 463,802 464,804 464,804 464,807 465,809 465,811 466,812 466,813 467,815 467,817 468,819 468,821 468,822 470,824 470,824 471,826 471,828 470,830 470,830 468,832 468,832 466,834 464,834 464,834 462,835 459,836 459,836 459,838 459,841 459,843 459,845 458,847 458,849 457,850 457,851 456,853 456,855 456,858 456,860 456,862 455,863 454,864 453,865 452,866 451,867 451,868 451,870 451,871 453,872 454,873 455,873 457,874 459,875 459,875 462,876 464,877 464,877 464,879 464,880 463,881 462,882 459,883 459,883 458,885 458,887 459,890 459,890 462,891 463,892 464,892 464,894 465,896 465,898 465,900 465,902 465,904 465,907 464,907 462,907 459,907 457,907 455,907 453,907 451,907 449,907 447,907 445,907 442,907 440,907 438,907 436,907 434,907 432,907 430,907 428,907 425,907 423,907 421,907 419,907 417,907 415,907 413,907 411,907 408,907 406,907 404,907 402,907 400,907 398,907 397,907 397,904 397,902 397,900 397,898 396,896 396,895 395,894 394,893 391,893 389,894 389,894 388,896 388,898 388,900 388,902 388,904 388,907 387,907 385,907 383,907 381,907 379,907 376,907 374,907 372,907 371,907 371,904 371,902 371,900 371,898 371,896 371,894 370,893 369,892 368,891 366,890 364,890 364,889 363,887 362,885 362,883 362,882 361,881 361,879 361,877 361,875 360,873 360,870 360,868 359,867 359,866 357,865 356,864 355,863 354,862 353,860 353,859 351,858 351,857 349,857 347,857 345,857 342,857 340,856 339,855 338,855 337,853 337,851 336,850 335,849 334,848 332,848 330,847 330,846 329,845 328,843 328,841 327,841 325,840 323,840 321,840 320,841 319,841 317,841 315,841 313,842 311,842 308,842 306,842 304,841 303,841 302,839 301,838 301,836 300,834 300,833 299,832 298,831 297,830 296,828 296,826 296,825 295,824 294,821 294,820 293,819 293,817 294,816 294,815 296,813 297,813 298,812 300,812 302,813 303,813 304,813 306,814 308,814 310,813 311,812 311,811 311,809 311,808 309,807 308,806 306,805 305,804 304,804 303,802 303,800 302,799 301,798 300,797 298,797 296,796 296,795 295,794 294,792 294,790 293,790 291,789 289,788 288,787 287,787 286,785 286,783 285,782 284,781 283,781 281,780 279,781 279,782 278,783 278,785 278,787 278,790 278,792 277,794 277,795 276,796 274,797 272,796 272,796 270,795 270,794 269,792 268,790 267,790 266,789 264,788 263,787 262,786 261,785 261,783 261,781 261,779 261,777 261,775 262,773 262,773 264,772 266,771 267,770 268,770 269,768 268,766 268,765 267,764 266,763 264,763 262,762 262,761 261,760 259,758 259,758 257,757 255,756 253,757 253,758 252,760 252,762 252,764 252,766 252,768 251,770 250,770 249,771 247,771 245,770 245,770 244,768 243,766 242,765 242,764 240,763 238,763 237,762 236,761 235,760 235,758 235,756 235,753 235,751 235,749 235,747 235,745 235,743 235,741 235,738 235,736 235,734 235,732 236,731 237,730 238,729 240,728 240,728 241,726 242,724 242,721 242,721 243,719 243,717 244,715 245,714 245,713 247,712 249,712 251,712 253,712 255,712 257,711 258,711 259,709 260,709 260,707 261,704 261,702 261,700 261,698 261,696 261,694 261,692 261,690 261,687 261,685 261,683 261,681 261,679 261,677 261,675 261,673 262,672 263,670 264,670 266,669 268,669 269,668 270,668 272,668 274,667 277,666 277,666 278,664 279,663 280,662 281,661 283,660 284,660 285,658 286,658 286,656 286,653 286,651 286,649 286,647 286,645 286,643 286,641 286,638 287,637 288,636 289,636 291,635 293,634 294,634 294,632 295,630 296,628 296,628 298,627 300,627 302,627 304,627 306,627 308,626 309,626 311,624 311,624 312,621 313,620 313,619 315,618 317,617 317,617 318,615 318,613 319,611 319,610 319,609 320,607 320,604 321,603 322,602 323,601 325,600 326,600 327,598 327,596 327,594 328,593 328,592 328,590 329,587 329,585 329,583 329,581 328,579 328,577 327,577 325,576 323,576 323,577 321,578 321,579 320,581 319,583 318,583 317,584 315,584 313,584 311,584 308,584 306,585 305,585 304,586 303,587 303,590 302,591 301,592 300,592 298,593 296,593 294,593 291,593 289,593 287,593 285,593 283,593 281,593 279,594 279,594 278,596 277,598 277,600 276,600 274,601 272,601 270,601 268,601 266,601 264,601 262,601 259,601 257,601 255,601 253,601 251,601 249,601 247,602 245,602 245,603 244,604 243,607 242,607 240,608 238,608 236,608 235,609 234,609 232,610 230,610 228,610 225,610 223,610 221,610 219,610 217,610 215,610 213,609 211,609 211,608 210,607 209,604 208,603 208,602 206,602 204,601 203,600 202,600 201,598 201,596 200,594 199,594 198,593 196,593 194,594 194,594 193,596 192,598 191,600 191,600 189,601 187,602 186,602 185,603 184,604 184,607 183,608 182,609 181,609 179,609 177,609 177,608 176,607 175,604 175,602 175,600 175,598 175,596 175,594 174,593 172,593 170,593 169,594 168,594 167,596 167,598 166,600 165,600 164,601 162,601 160,600 160,600 159,598 158,596 157,594 157,594 155,593 153,593 151,593 149,593 147,593 145,592 144,592 142,590 142,590 141,587 140,586 140,585 138,585 136,584 134,584 132,584 130,584 128,584 125,584 123,584 121,584 119,584 117,584 117,583 117,581 117,579 117,577 117,575 117,573 117,570 117,568 117,566 117,564 117,562 117,560 117,558 117,556 117,553 117,551 117,549 117,547 117,545 117,543 117,541 117,539 117,536 117,534 117,532 117,530 117,528 117,526 117,524 117,521 117,519 117,517 117,515 117,513 117,511 117,509 117,507 117,504 117,502 117,500 117,498 117,496 117,494 117,492 117,490 117,487 117,485 117,483 117,481 117,479 117,477 117,475 117,473 117,470 117,468 117,466 117,464 117,462 117,460 117,458 117,456 117,453 117,451 117,449 117,447 117,445 117,443 117,441 117,439 117,436 117,434 117,432 117,430 117,428 117,426 117,424 117,422 117,419 117,417 117,415 117,413 117,411 117,409 117,407 117,404 117,402 117,400 117,398 117,396 117,394 117,392 117,390 117,387 117,385 117,383 117,381 117,379 117,377 117,375 117,373 117,370 117,368 117,366 117,364 117,362 117,360 117,358 117,356 117,353 117,351 117,349 117,347 117,345 117,343 117,341 117,339 117,336 117,334 117,332 117,330 117,328 117,326 117,324 117,322 117,319 117,317 117,315 117,313 117,311 117,309 117,307 117,304 117,302 117,300 117,298 117,296 117,294 117,292 117,290 117,287 117,285 117,283 117,281 117,279 117,277 117,275 117,273 117,270 117,268 117,266 117,264 117,262 117,260 117,258 117,256 117,253 117,251 117,249 117,247 117,245 117,243 117,241 117,239 117,236 117,234 117,232 117,230 117,228 117,226 117,224 117,222 117,219 117,217 117,215 117,213 117,211 117,209 117,207 117,205 117,202 117,200 117,198 117,196 117,194 117,192 117,190 117,187 117,185 117,183 117,181 117,179ZM170,316 169,317 169,319 168,320 168,322 167,324 167,326 168,328 168,329 169,330 169,332 169,334 170,336 170,339 170,341 170,343 170,344 172,344 173,343 173,341 173,339 173,336 173,334 173,332 173,330 174,328 174,326 174,324 174,322 173,319 173,317 172,316ZM177,587 176,587 176,590 175,592 177,593 179,593 181,592 182,592 183,591 184,590 183,587 183,587 181,586 179,586ZM374,542 373,543 372,543 371,545 371,547 371,549 371,551 371,553 371,556 370,557 370,558 368,559 366,560 366,560 365,562 364,564 364,565 363,566 362,568 361,568 359,569 357,570 357,570 356,573 356,575 356,577 356,579 356,581 355,583 355,584 355,585 354,587 354,590 353,590 352,592 351,592 349,594 349,594 348,596 348,598 348,600 348,602 348,604 348,607 348,609 348,611 347,613 347,615 347,617 347,619 348,621 349,624 349,624 351,624 353,624 353,623 354,621 355,620 356,619 357,619 359,618 362,618 364,618 366,618 368,618 369,617 370,616 371,615 371,613 372,611 373,611 374,610 376,609 377,609 379,607 379,607 380,604 381,603 381,602 383,601 385,601 386,600 387,599 388,598 388,596 389,594 390,594 391,593 394,593 396,593 398,593 400,593 402,593 404,593 406,593 408,593 411,593 413,592 414,592 415,591 417,591 419,591 421,590 421,590 422,587 423,586 424,585 425,585 428,584 429,583 430,583 430,581 431,579 431,577 431,575 431,573 430,570 430,570 428,569 425,569 424,568 423,568 421,566 421,566 421,564 419,562 419,562 417,562 415,561 413,560 411,560 411,559 408,559 407,558 406,557 405,556 404,554 404,553 402,553 400,553 398,553 396,553 394,553 391,553 389,553 387,553 385,552 383,552 382,551 381,551 379,549 379,548 378,547 378,545 376,543 376,543ZM593,396 593,396 591,396 589,397 587,398 587,398 586,400 586,402 587,404 587,405 589,406 590,407 591,408 592,409 593,411 593,411 596,412 598,412 599,411 600,409 600,408 601,407 602,406 604,404 604,404 606,403 607,402 607,400 606,400 604,399 602,398 602,398 600,397 598,396 598,396 596,396ZM606,272 605,273 604,274 604,275 604,275 605,277 606,277 608,277 610,277 611,277 613,276 615,275 615,275 615,273 615,272 613,272 611,272 608,272ZM647,253 647,253 645,255 644,256 643,258 643,260 643,262 642,263 642,264 642,266 642,268 642,269 643,270 643,273 644,275 645,275 647,276 649,276 650,277 651,277 653,278 655,278 657,278 659,278 662,278 664,278 666,278 668,277 669,277 670,276 672,276 674,275 674,275 675,273 676,270 676,270 677,268 677,266 677,264 677,262 677,260 676,259 676,258 675,256 674,255 672,255 671,256 670,258 670,258 669,260 668,261 666,262 666,262 664,263 662,263 661,264 660,266 659,266 657,267 655,267 654,266 654,264 655,262 655,262 657,261 658,260 658,258 657,256 657,256 655,255 653,255 651,254 650,253 649,253ZM696,196 695,196 695,198 695,200 695,202 695,205 695,207 695,209 695,211 696,212 696,213 696,215 696,216 695,217 694,219 693,221 693,222 693,224 692,226 691,226 690,228 689,229 689,230 689,232 689,234 688,236 688,239 688,241 687,243 687,244 687,245 686,247 687,249 688,249 689,250 691,250 693,250 696,250 698,250 700,249 700,249 701,247 701,245 702,243 702,242 702,241 702,239 702,236 702,234 702,232 702,230 702,228 703,226 703,224 703,222 703,219 702,217 702,216 702,215 702,213 702,212 703,211 704,209 704,207 704,207 705,205 706,202 706,202 707,200 708,198 707,196 706,196 704,195 702,195 700,194 698,195ZM757,246 757,247 757,249 757,249 759,249 760,249 761,247 759,246ZM774,193 774,194 772,195 772,196 771,198 770,200 770,200 768,201 766,202 765,202 764,204 763,205 763,207 763,209 763,211 763,213 764,214 764,215 766,216 768,216 769,215 770,214 771,213 772,211 773,211 774,210 776,209 778,209 779,209 781,208 783,207 785,207 785,207 786,205 786,202 786,200 786,198 786,196 785,194 785,194 783,193 781,193 779,193 776,193ZM442,568 442,568 440,570 440,570 440,573 440,574 441,575 442,575 445,575 445,575 447,573 447,573 447,570 447,570 445,568 445,568ZM528,468 527,468 527,470 528,473 528,473 530,474 530,475 531,477 531,479 532,481 532,482 532,483 533,485 534,487 534,487 536,489 538,489 540,489 542,489 545,489 547,488 548,487 548,485 547,483 546,483 545,482 544,481 543,479 543,477 544,475 545,474 546,473 547,472 547,470 547,469 547,468 545,468 542,468 540,468 538,468 536,468 534,468 532,468 530,468ZM553,493 552,494 552,496 553,498 553,498 555,499 556,498 556,496 556,494 555,493ZM570,551 570,551 569,553 569,556 569,558 569,560 569,562 569,564 570,565 572,564 572,564 573,562 573,560 573,558 573,556 573,553 572,551 572,551ZM383,825 382,826 381,828 383,829 385,828 385,828 385,827 384,826ZM281,738 279,738 279,739 278,741 278,743 278,745 278,747 278,749 278,751 278,753 279,754 281,756 281,756 283,756 285,756 286,756 287,755 289,755 291,755 293,756 294,756 294,758 295,760 295,762 296,763 296,764 296,766 297,768 298,769 300,770 301,770 302,771 303,773 303,775 303,777 304,779 304,779 306,780 308,780 310,779 311,778 311,777 311,775 311,773 311,771 310,770 309,768 309,766 308,765 308,764 306,763 305,762 304,761 303,760 303,758 302,756 302,756 301,753 301,751 300,749 300,749 298,748 296,748 295,747 294,746 293,745 292,743 291,741 291,741 289,740 287,739 286,738 285,738 283,738ZM289,704 288,704 287,705 287,707 287,709 287,709 289,710 291,710 294,710 296,710 298,710 300,710 302,711 303,711 304,711 306,712 308,712 310,711 311,710 311,709 311,707 311,705 310,704 308,704 306,703 304,703 302,703 300,703 298,703 296,703 294,703 291,703ZM323,721 322,721 321,722 321,724 321,726 321,726 323,728 323,728 325,729 328,729 330,729 332,729 334,729 335,728 336,727 337,726 337,724 336,723 335,721 334,721 332,720 330,720 328,720 325,720ZM366,636 366,636 365,638 365,641 365,643 365,645 366,647 366,648 367,649 368,650 370,649 370,649 371,647 371,645 371,643 371,641 371,638 370,638 369,636 368,636ZM700,270 698,270 698,271 697,273 698,275 698,275 700,276 702,276 704,276 706,275 708,275 709,275 709,273 708,270 708,270 706,270 704,269 702,269ZM541,209 542,208 545,207 547,207 549,207 551,207 553,207 555,208 557,209 557,209 559,211 559,211 560,213 561,215 560,217 559,218 559,219 559,222 558,224 558,226 557,227 556,228 555,228 553,229 551,230 551,231 550,232 551,233 553,233 555,234 557,234 557,235 559,236 559,237 560,239 560,241 559,242 559,243 557,245 556,245 555,245 553,245 553,245 551,244 550,243 549,241 549,241 548,239 548,236 547,236 545,234 544,234 543,232 542,230 542,230 541,228 540,226 540,226 539,224 539,222 539,219 539,217 539,215 539,213 540,211 540,210ZM764,407 766,406 768,406 770,406 772,406 774,406 776,406 779,406 781,406 783,406 785,406 787,406 789,406 791,406 793,406 795,407 796,407 796,409 797,411 797,413 797,415 797,417 797,419 797,422 797,424 797,426 797,428 798,429 798,430 800,431 802,431 804,432 804,433 805,434 805,436 806,438 807,439 808,439 810,439 812,439 813,438 813,436 814,434 814,432 814,430 814,428 814,426 815,424 815,424 817,423 819,423 821,423 823,423 825,422 827,422 828,422 830,420 830,419 831,417 832,416 832,415 834,414 836,414 838,414 840,414 842,414 845,414 847,414 847,415 847,417 847,419 847,422 847,424 847,426 847,428 847,430 847,432 847,434 847,436 847,439 847,441 847,443 847,445 847,447 847,449 847,451 847,453 847,456 847,458 847,460 847,462 847,464 847,466 847,468 847,470 847,473 847,475 847,477 847,479 847,481 847,483 847,485 847,487 847,490 847,492 847,494 847,496 847,498 847,500 847,502 847,504 847,507 847,509 847,511 847,513 847,515 847,517 847,519 847,521 847,524 847,526 847,528 847,530 847,532 847,534 847,536 847,539 847,541 847,543 847,545 847,547 847,549 847,550 845,550 842,550 840,550 838,550 836,550 834,550 832,550 830,550 827,550 825,550 823,550 821,550 819,550 817,550 815,550 813,550 810,550 808,551 807,551 806,552 805,553 805,556 804,557 803,558 802,558 800,559 798,559 796,559 793,559 791,558 790,558 789,557 788,556 788,553 787,552 786,551 785,550 783,550 781,549 781,549 780,547 779,545 779,543 778,543 776,542 774,541 773,541 772,540 771,539 771,536 770,536 769,534 768,534 766,533 764,532 764,532 763,530 762,528 762,527 760,526 759,525 757,525 756,524 755,523 754,521 754,519 753,519 752,517 751,517 749,516 748,515 747,514 746,513 745,511 745,509 745,507 744,507 744,504 744,502 745,501 745,500 747,498 747,498 749,498 751,497 753,497 755,497 757,497 759,497 762,497 764,497 766,497 768,497 770,497 772,497 774,497 776,497 779,497 781,497 783,497 785,497 787,496 787,496 788,494 788,492 788,490 788,487 788,485 788,483 788,481 788,479 788,477 789,475 790,475 791,474 793,474 796,474 798,474 800,474 802,473 803,473 804,471 805,470 805,468 804,467 803,466 802,465 800,465 798,465 796,465 793,465 791,465 789,465 787,465 785,465 783,465 781,465 779,465 776,465 774,465 773,464 772,463 771,462 771,460 771,458 771,456 771,453 770,451 770,451 768,450 766,450 764,449 763,449 762,449 759,448 757,448 755,448 754,447 754,445 754,443 754,441 754,439 754,436 754,434 754,432 754,430 754,428 754,426 755,424 756,424 757,423 759,422 761,422 762,421 762,419 763,417 763,415 763,413 763,411 763,409 764,407ZM747,449 749,448 751,448 753,448 754,449 754,451 754,453 753,455 752,456 751,456 749,456 747,456 747,455 746,453 746,451 747,450ZM815,560 817,559 819,559 821,559 823,559 825,559 827,559 830,559 832,559 834,559 836,559 838,559 840,559 842,559 845,559 847,559 847,560 847,562 847,564 847,566 847,568 847,570 847,573 847,575 847,576 845,576 842,576 840,576 838,576 836,576 834,576 832,576 830,576 827,576 825,575 824,575 823,574 822,573 822,570 821,569 821,568 819,567 817,567 815,566 815,566 814,564 814,562 815,560ZM823,596 823,596 825,595 827,595 830,596 830,596 831,598 831,600 831,602 831,604 830,607 830,608 829,609 827,610 825,610 824,611 823,611 822,613 822,615 821,617 821,617 819,618 817,619 815,619 815,620 814,621 814,624 814,626 814,628 814,630 813,632 813,634 812,634 810,635 808,636 808,636 806,638 806,638 805,641 804,642 804,643 802,644 800,644 798,645 796,645 796,645 793,646 791,646 789,647 789,647 788,649 787,651 787,651 785,652 783,653 782,653 781,655 780,656 779,658 779,659 778,660 776,660 774,660 774,660 772,658 772,658 771,656 770,655 769,653 768,653 766,652 764,652 762,652 759,652 757,652 755,652 753,652 751,652 749,652 747,651 747,651 746,649 746,647 747,646 747,645 749,644 751,644 752,643 753,642 754,641 754,638 755,637 756,636 757,636 759,635 762,635 764,635 766,635 768,635 769,634 770,634 771,632 771,630 772,628 773,628 774,627 776,627 779,627 781,627 783,627 785,626 786,626 787,624 788,624 788,621 789,620 790,619 791,619 793,618 796,618 798,618 800,618 802,618 803,617 804,617 805,615 805,613 806,611 807,611 808,610 810,610 812,609 813,608 813,607 814,604 815,603 815,602 817,602 819,601 821,600 821,600 822,598ZM586,619 587,619 589,619 591,619 591,620 592,621 592,624 591,625 591,626 589,626 587,627 585,627 584,626 584,624 584,621 585,620ZM577,628 579,627 581,627 583,627 584,628 584,630 584,632 584,634 584,636 584,638 584,641 583,642 582,643 581,644 579,644 577,645 576,645 576,647 575,649 574,651 574,651 572,652 570,652 568,652 567,651 567,649 567,647 567,645 567,643 567,641 567,638 568,637 569,636 570,636 572,635 574,634 574,634 575,632 576,630 576,628ZM824,645 825,644 827,644 830,644 832,644 834,644 836,644 838,644 840,644 842,644 845,644 847,644 847,645 847,647 847,649 847,651 847,653 847,656 847,658 847,660 847,662 847,664 847,666 847,668 847,669 845,669 842,669 840,669 838,669 836,669 834,669 832,669 830,669 827,669 825,669 823,669 821,669 819,669 817,669 815,669 813,669 810,669 808,669 807,668 806,668 805,666 805,664 804,662 804,662 802,661 800,661 798,660 798,659 797,658 797,656 798,654 798,653 800,653 802,652 804,652 806,652 808,652 810,652 813,652 815,652 817,652 819,652 821,651 821,651 822,649 822,647 823,645ZM560,653 562,653 564,652 566,652 567,653 567,656 567,658 567,660 567,662 567,664 567,666 566,668 565,668 564,669 562,669 559,669 558,668 558,666 558,664 558,662 558,660 558,658 559,656 559,654ZM552,670 553,670 555,669 557,669 558,670 558,673 558,675 557,676 557,677 555,678 553,678 552,677 551,676 550,675 550,673 551,671ZM755,690 755,689 757,688 759,688 762,688 764,688 766,688 768,688 770,689 770,690 772,692 772,692 774,693 776,693 779,694 779,694 781,694 783,695 785,695 787,696 787,696 788,698 789,700 789,700 791,701 793,702 795,702 796,703 797,704 798,705 798,707 799,709 800,709 802,710 804,711 805,711 806,711 808,712 810,712 812,713 813,714 813,715 814,717 814,719 815,721 815,721 815,724 815,726 815,728 815,729 814,730 814,732 813,734 813,736 812,736 810,737 808,738 808,738 807,741 807,743 806,745 806,746 806,747 805,749 805,751 804,752 803,753 802,754 800,755 799,756 798,757 797,758 796,760 796,761 795,762 793,763 791,764 791,764 790,766 790,768 789,770 789,771 789,773 788,775 788,777 788,779 788,781 788,783 788,785 787,787 787,789 787,790 787,792 787,794 787,796 787,797 787,798 788,800 788,802 787,804 786,804 785,805 783,805 781,805 779,805 776,806 774,806 772,806 770,805 768,805 766,805 764,804 764,804 763,802 762,800 762,799 760,798 759,797 757,796 757,796 756,794 756,792 756,790 756,787 756,785 756,783 755,782 755,781 753,779 752,779 751,778 749,778 747,777 746,777 746,775 746,773 747,771 747,770 747,768 747,766 747,764 747,762 747,760 747,758 747,756 746,756 746,753 746,751 746,749 746,747 746,745 745,743 745,741 745,740 742,740 740,740 738,741 738,741 737,743 736,745 736,746 736,747 735,749 735,751 735,753 735,756 735,758 736,760 736,761 736,762 737,764 737,766 737,768 737,770 738,773 738,773 739,775 738,777 738,777 737,779 736,779 734,780 732,780 730,780 729,781 728,782 727,783 727,785 725,787 725,788 723,788 722,787 721,787 720,785 720,783 720,781 720,779 720,777 720,775 720,773 719,771 717,772 715,772 713,772 711,773 710,773 708,773 706,774 704,775 704,775 703,777 702,779 702,780 702,781 701,783 701,785 700,786 698,787 697,787 696,788 693,789 692,790 691,790 689,790 687,792 687,792 686,794 685,795 684,796 683,797 681,797 680,798 679,799 678,800 677,802 676,804 676,804 674,805 672,805 670,805 668,806 666,806 664,806 662,807 662,807 661,809 660,811 659,812 659,813 657,814 656,815 655,816 655,817 655,819 655,820 657,821 659,821 662,821 664,821 666,821 668,821 670,821 672,821 674,821 676,821 677,821 679,822 681,822 683,823 684,824 685,825 685,826 686,828 686,830 686,832 686,834 686,836 685,838 684,838 683,839 681,840 680,841 679,842 678,843 678,845 678,847 678,849 678,851 678,853 678,855 678,858 679,859 679,860 679,862 679,864 679,865 678,866 678,868 677,870 676,872 676,873 674,873 672,874 670,874 668,874 666,874 664,874 663,875 662,876 661,877 660,879 659,880 659,881 657,882 655,882 653,882 651,882 649,882 647,883 646,883 645,885 644,885 644,887 645,889 645,890 647,890 649,891 651,891 653,891 655,891 657,891 659,891 662,891 664,891 666,890 668,890 669,890 670,889 672,889 674,889 676,888 677,887 678,885 679,884 679,883 681,882 683,882 685,882 687,882 689,882 691,882 693,881 693,880 694,879 694,877 694,875 693,873 693,873 693,870 693,868 693,866 693,864 693,862 693,860 693,858 693,855 693,853 693,851 693,849 693,848 694,847 694,845 694,843 694,841 693,839 693,838 693,836 693,834 693,832 693,831 694,830 694,828 695,826 696,826 698,825 700,825 702,825 702,826 704,828 704,829 705,830 706,831 708,831 710,832 710,833 711,834 711,836 711,838 710,840 710,841 710,843 710,845 710,845 711,847 712,849 713,851 713,851 713,853 713,855 712,855 710,857 710,858 708,858 706,859 706,860 706,862 706,863 708,863 710,863 713,863 715,863 717,864 718,864 719,864 721,866 721,867 722,868 723,870 723,871 725,871 728,871 728,870 728,868 729,866 729,864 728,862 728,860 728,859 726,858 725,857 723,856 722,855 721,855 720,853 721,851 721,851 722,849 723,849 725,848 726,847 728,846 728,845 729,843 730,843 732,842 734,841 736,841 737,841 738,840 740,840 742,840 745,840 747,840 749,840 751,840 753,840 755,840 757,840 759,840 761,841 762,841 762,843 763,845 764,845 766,846 768,846 770,847 771,847 772,847 774,848 776,848 778,849 779,850 779,851 780,853 781,855 781,855 782,858 782,860 782,862 781,864 781,866 781,866 780,868 780,870 780,873 780,875 780,877 779,879 779,880 778,881 776,882 774,883 774,883 773,885 773,887 772,890 772,890 772,892 771,894 771,896 771,898 771,900 771,902 771,904 771,907 770,907 768,907 766,907 764,907 762,907 759,907 757,907 755,907 753,907 751,907 749,907 747,907 745,907 742,907 740,907 738,907 736,907 734,907 732,907 730,907 728,907 725,907 723,907 721,907 719,907 717,907 715,907 713,907 710,907 708,907 706,907 704,907 702,907 700,907 698,907 696,907 693,907 691,907 689,907 687,907 685,907 683,907 681,907 679,907 676,907 674,907 672,907 670,907 668,907 666,907 664,907 662,907 659,907 657,907 655,907 653,907 651,907 649,907 647,907 645,907 642,907 640,907 638,907 636,907 634,907 632,907 630,907 628,907 625,907 623,907 621,907 619,907 617,907 615,907 613,907 611,907 608,907 606,907 604,907 602,907 600,907 598,907 596,907 593,907 591,907 589,907 587,907 585,907 584,907 584,904 584,902 584,900 584,898 584,896 584,894 584,892 584,890 584,887 584,885 583,884 582,883 581,882 579,882 578,881 576,880 576,879 575,877 575,875 575,873 575,870 575,868 575,866 574,865 574,864 574,862 573,860 572,858 572,858 570,856 570,855 569,853 569,851 569,849 569,847 569,845 569,843 569,841 569,838 569,836 569,834 570,832 570,832 572,830 572,830 573,828 574,826 574,825 575,824 576,821 576,820 577,819 577,817 578,815 579,815 581,814 582,813 583,812 583,811 585,809 585,808 587,807 589,807 591,807 591,806 593,806 596,806 598,806 599,807 600,807 601,809 601,811 602,811 604,812 606,813 608,813 609,813 611,813 613,813 615,813 617,813 618,813 619,813 621,812 623,812 624,811 625,809 625,808 626,807 627,804 628,803 628,802 628,800 629,798 630,798 632,796 632,796 633,794 633,792 634,790 634,790 636,788 637,787 638,787 640,786 642,786 645,786 647,785 649,785 649,785 651,784 652,783 653,782 654,781 655,780 657,780 659,780 662,780 664,780 666,779 666,779 667,777 668,775 668,774 668,773 670,770 670,769 670,768 671,766 672,765 674,764 675,764 676,763 678,762 679,760 679,760 679,758 680,756 681,755 683,753 683,753 684,751 684,749 685,747 685,746 685,745 686,743 686,741 687,739 688,738 689,738 691,737 692,736 693,735 694,734 695,732 696,731 696,730 698,729 700,729 702,728 703,728 704,728 706,727 708,727 710,726 710,726 712,724 713,722 713,721 715,721 717,720 717,719 719,718 719,717 720,715 721,713 722,713 723,712 725,711 726,711 728,709 728,709 729,707 730,705 730,704 732,704 734,703 735,702 736,701 737,700 738,698 738,698 740,697 742,696 743,696 745,695 747,694 748,694 749,693 751,693 753,692 753,692ZM757,713 756,715 756,717 757,719 757,719 759,719 759,719 760,717 760,715 759,713ZM766,738 764,738 764,739 763,741 763,743 764,744 764,745 766,746 768,746 769,745 770,744 771,743 771,741 770,740 769,738 768,738ZM783,732 783,732 782,734 783,735 785,735 785,734 785,732 785,732ZM721,766 721,766 720,768 720,770 721,771 723,771 725,771 725,770 726,768 726,766 725,765 723,765ZM134,707 134,706 136,705 138,705 140,705 142,705 145,705 147,705 149,705 151,705 153,705 155,705 157,706 157,707 158,709 157,710 157,711 155,712 153,712 151,712 149,712 147,712 145,712 142,712 140,712 138,712 136,712 135,711 134,710 133,709ZM168,707 168,706 170,705 172,705 174,705 177,705 179,705 181,705 183,705 185,705 187,705 189,705 191,705 194,705 196,705 198,705 200,706 200,707 201,709 200,710 199,711 198,712 196,712 194,712 191,712 189,712 187,712 185,712 183,712 181,712 179,712 177,712 174,712 172,712 170,712 169,711 168,710 167,709ZM824,713 825,712 827,712 830,712 832,712 834,712 836,712 838,712 840,712 842,712 845,712 847,712 847,713 847,715 847,717 847,719 847,720 845,720 842,720 840,720 838,720 836,720 834,720 832,720 830,720 827,720 825,720 824,719 823,719 823,717 823,715 823,714ZM832,730 834,729 836,729 838,729 840,729 842,729 845,729 847,729 847,730 847,732 847,734 847,736 847,737 845,737 842,737 840,737 838,737 836,737 834,737 832,736 832,736 831,734 831,732 832,731ZM518,747 519,746 521,746 523,747 523,748 524,749 524,751 523,752 522,753 521,754 519,754 517,754 516,753 516,751 516,749 517,748ZM493,756 494,755 496,755 497,756 498,756 498,758 498,760 498,761 497,762 496,763 494,762 493,762 492,760 492,758ZM509,756 511,755 513,754 515,754 516,756 516,758 515,760 515,760 513,761 511,761 508,760 508,760 508,758 508,756ZM484,790 485,789 487,789 489,790 489,790 490,792 490,794 489,794 488,796 487,796 485,797 484,796 483,795 482,794 482,792 483,790ZM720,796 721,796 723,795 725,796 726,796 728,796 730,798 731,798 732,798 734,799 736,798 737,798 738,798 740,797 742,798 743,798 743,800 743,802 743,804 742,805 740,806 739,807 738,807 737,809 737,811 738,812 739,813 740,814 742,815 743,815 744,817 744,819 744,821 745,822 745,824 745,826 745,828 745,829 744,830 742,831 740,830 740,830 738,829 738,828 737,826 736,824 735,824 734,823 732,823 730,823 728,823 725,822 723,822 722,821 721,821 720,819 720,817 719,815 719,814 719,813 718,811 718,809 717,807 717,806 715,805 713,804 713,804 712,802 712,800 713,799 714,798 715,797 717,797 719,796ZM764,815 766,814 768,814 770,814 772,814 774,814 776,814 778,815 779,816 779,817 779,819 779,821 778,821 776,822 774,823 773,824 772,824 771,826 771,828 771,830 770,831 768,831 766,831 764,830 764,829 763,828 763,826 763,824 763,821 763,819 763,817 764,816ZM790,824 791,823 793,823 796,823 798,823 800,823 802,823 803,824 804,824 805,826 805,828 804,829 803,830 802,831 800,831 798,831 796,831 793,831 791,831 789,831 788,830 788,828 788,826 789,824ZM771,832 772,831 774,831 776,831 779,831 781,831 783,831 785,831 787,831 788,832 788,834 788,836 787,837 786,838 785,839 783,839 781,840 779,840 776,839 774,839 773,838 772,838 771,836 771,834ZM467,858 468,857 470,857 472,858 472,858 473,860 472,862 472,862 470,863 468,863 466,862 466,862 465,860 466,858ZM832,858 834,857 836,857 838,857 840,857 842,857 845,857 847,857 847,858 847,860 847,862 847,864 847,866 847,868 847,870 847,873 847,875 847,877 847,879 847,881 847,883 847,885 847,887 847,890 847,892 847,894 847,896 847,898 847,900 847,902 847,904 847,907 845,907 842,907 840,907 838,907 836,907 834,907 832,907 830,907 827,907 825,907 823,907 821,907 820,907 820,904 820,902 820,900 820,898 820,896 820,894 820,892 820,890 820,887 820,885 820,883 820,881 820,879 821,877 821,875 821,874 821,873 822,870 822,868 823,867 824,866 825,865 827,864 828,864 830,862 830,862 831,860 832,858ZM339,883 340,882 342,882 344,883 345,884 345,885 346,887 346,890 346,892 346,894 346,896 346,898 346,900 346,902 346,904 346,907 345,907 342,907 340,907 339,907 339,904 339,902 339,900 339,898 339,896 339,894 338,892 338,891 338,890 337,887 337,885 338,884ZM493,890 494,889 496,889 498,889 500,889 502,889 504,889 505,890 506,890 508,892 508,892 509,894 509,896 509,898 509,900 509,902 509,904 509,907 508,907 506,907 504,907 502,907 500,907 498,907 496,907 494,907 491,907 489,907 487,907 485,907 484,907 484,904 484,902 484,900 484,898 484,896 484,894 485,893 487,892 488,892 489,891 491,890Z"/>
<path fill="#6babdc" d="M117,177 119,177 121,177 123,177 125,177 128,177 130,177 132,177 134,177 136,177 138,177 140,177 142,177 145,177 147,177 149,177 151,177 153,177 155,177 157,177 160,177 162,177 164,177 166,177 168,177 169,177 169,179 169,181 169,183 169,185 169,187 170,190 170,190 172,190 174,190 177,191 179,191 181,191 183,190 183,190 184,187 184,185 184,183 184,181 184,179 184,177 185,177 187,177 189,177 191,177 194,177 196,177 198,177 200,177 202,177 204,177 206,177 208,177 211,177 213,177 215,177 217,177 219,177 221,177 223,177 225,177 228,177 230,177 232,177 234,177 236,177 238,177 240,177 242,177 245,177 247,177 249,177 251,177 253,177 255,177 257,177 259,177 262,177 264,177 266,177 268,177 270,177 272,177 274,177 277,177 279,177 281,177 283,177 285,177 287,177 289,177 291,177 294,177 296,177 298,177 300,177 302,177 304,177 306,177 308,177 311,177 313,177 315,177 317,177 319,177 321,177 323,177 325,177 328,177 330,177 332,177 334,177 336,177 338,177 340,177 342,177 345,177 347,177 347,177 347,179 347,181 347,183 347,185 347,187 348,190 349,190 351,191 351,192 353,193 354,194 355,196 355,196 356,198 357,199 359,200 360,200 362,201 364,202 365,202 366,203 368,203 370,203 371,202 372,202 374,202 376,201 378,200 379,200 379,198 380,196 381,194 381,194 383,193 385,193 386,194 387,195 388,196 388,198 389,200 390,200 391,201 394,201 396,201 398,201 400,201 402,201 403,200 404,199 405,198 406,196 406,195 408,194 408,193 411,193 412,192 413,191 413,190 414,187 414,185 414,183 414,181 414,179 414,177 415,177 417,177 419,177 421,177 423,177 425,177 428,177 430,177 432,177 434,177 436,177 438,177 440,177 442,177 445,177 447,177 449,177 451,177 453,177 455,177 457,177 459,177 462,177 464,177 466,177 468,177 470,177 472,177 474,177 476,177 479,177 481,177 483,177 485,177 487,177 489,177 491,177 494,177 496,177 498,177 500,177 502,177 504,177 506,177 508,177 511,177 513,177 515,177 517,177 519,177 521,177 523,177 525,177 528,177 530,177 532,177 534,177 536,177 538,177 540,177 542,177 545,177 547,177 549,177 550,177 550,179 550,181 550,183 550,185 550,187 550,190 549,192 549,193 549,194 548,196 548,198 547,199 545,200 543,200 542,200 540,201 538,201 536,202 535,202 534,203 532,205 532,205 531,207 530,209 530,209 528,211 528,211 527,213 527,215 526,217 525,218 525,219 524,222 524,224 523,224 521,226 519,226 517,224 516,224 515,222 515,221 513,220 511,219 510,219 508,219 506,218 504,218 502,217 502,217 500,216 499,215 498,213 498,212 496,211 495,211 494,211 493,211 491,212 490,213 489,215 490,217 491,219 491,222 491,224 491,224 493,226 494,226 496,227 497,228 498,229 498,230 499,232 499,234 500,235 501,236 502,237 504,237 506,239 506,239 507,241 508,242 509,243 511,244 513,244 515,245 516,245 517,245 519,246 521,246 523,247 524,247 523,249 523,249 521,250 519,251 517,251 516,251 515,252 513,252 511,253 509,253 508,254 508,256 507,258 506,258 505,260 504,260 502,260 502,260 501,258 501,256 501,253 501,251 501,249 500,247 500,246 500,245 498,243 497,243 496,242 494,242 491,241 491,241 490,239 489,238 487,237 485,237 483,238 481,238 480,239 479,239 477,241 476,242 476,243 476,245 475,247 475,249 476,251 476,252 479,253 481,253 482,253 483,254 485,255 487,255 488,256 488,258 487,260 487,260 485,262 485,262 484,264 483,266 483,266 482,268 481,269 479,270 479,271 476,271 474,273 474,273 473,275 472,276 471,277 470,277 468,278 467,279 466,280 465,281 464,283 464,283 462,284 459,285 457,285 456,285 455,286 453,286 451,287 450,287 449,289 448,290 447,291 446,292 445,292 442,293 440,293 439,294 438,294 436,295 434,296 433,296 432,298 432,299 432,300 432,302 432,304 432,307 432,309 432,311 432,311 432,313 433,315 433,317 434,319 434,319 436,321 436,322 437,324 438,326 438,327 438,328 439,330 439,332 439,334 440,336 440,338 441,339 441,341 442,343 442,344 443,345 445,347 445,347 446,349 447,351 447,351 448,353 449,354 451,356 451,356 453,357 455,358 455,358 456,360 457,361 458,362 459,363 461,364 462,365 462,366 462,368 462,369 459,370 457,370 456,370 455,371 453,372 452,373 451,375 451,377 452,379 453,381 453,381 454,383 454,385 455,387 455,390 455,390 455,392 455,394 455,396 455,397 455,398 455,400 455,402 455,404 455,407 455,409 455,411 455,411 456,413 457,415 457,417 458,417 459,419 459,420 462,421 463,422 464,422 466,422 468,423 470,423 471,424 472,425 473,426 473,428 474,430 474,432 474,433 475,434 476,436 476,437 479,438 479,439 481,439 483,440 484,441 485,441 487,442 489,443 490,443 491,445 491,445 494,446 496,447 496,447 498,448 500,449 501,449 502,450 504,450 505,451 506,453 506,454 508,456 508,456 511,456 513,456 514,456 515,455 516,453 516,451 517,449 517,448 517,447 518,445 518,443 517,441 517,440 516,439 515,436 515,436 514,434 513,432 513,432 511,430 511,430 510,428 510,426 511,425 513,424 515,424 517,424 519,424 521,425 522,426 523,428 523,428 524,430 525,431 527,432 528,432 530,433 531,434 532,436 532,437 533,439 534,440 536,441 536,441 538,442 539,443 540,445 540,445 541,447 542,448 544,449 545,449 547,450 549,451 549,451 550,453 551,454 552,456 553,456 555,457 556,458 557,459 558,460 559,462 559,462 562,463 564,464 564,464 566,465 567,466 568,468 568,468 569,470 570,473 570,473 572,474 572,475 573,477 574,479 574,479 575,481 576,483 577,483 578,485 578,487 579,489 579,490 581,491 581,492 582,494 582,496 582,498 582,500 582,502 582,504 582,507 582,509 582,511 582,513 583,514 583,515 584,517 584,519 583,521 583,522 581,524 581,524 580,524 579,523 577,521 576,521 576,519 576,517 576,516 577,515 577,513 577,511 577,509 577,507 577,504 577,502 576,502 575,500 574,500 572,499 570,499 568,499 566,498 565,498 564,498 562,497 561,496 560,494 559,494 558,492 557,491 555,490 555,489 553,489 552,487 551,485 551,485 550,483 549,481 549,481 548,479 548,477 548,475 549,474 549,473 550,470 550,468 549,466 549,466 547,465 545,465 542,465 540,466 538,466 536,466 534,466 532,465 530,465 528,465 525,466 525,466 523,468 523,469 523,470 523,471 524,473 525,475 525,476 526,477 526,479 526,481 526,483 526,485 527,487 528,488 530,489 530,490 532,490 534,491 535,492 536,492 538,492 540,492 542,492 545,492 547,493 548,494 548,496 549,498 549,499 549,500 550,502 550,504 551,505 552,507 553,507 555,509 555,509 556,511 556,513 556,515 556,517 557,519 557,521 557,524 557,526 557,528 557,530 557,532 557,534 557,536 557,539 557,539 558,541 559,542 561,543 562,543 564,544 566,545 566,545 567,547 566,549 566,550 566,551 565,553 565,556 565,558 565,560 565,562 566,564 566,564 567,566 568,567 570,568 570,568 571,568 572,568 574,567 575,566 575,564 575,562 576,560 576,558 576,557 577,556 577,553 577,551 576,550 576,549 576,547 576,545 577,545 579,544 581,544 583,544 585,543 586,543 587,542 589,543 589,543 590,545 590,547 589,549 589,549 587,550 586,551 585,552 584,553 584,556 585,558 585,559 585,560 585,562 585,564 585,565 585,566 584,568 584,570 584,573 583,575 583,575 581,577 581,577 579,578 578,579 577,581 576,581 575,583 574,584 573,585 572,586 570,587 569,587 568,590 568,590 566,592 566,592 564,593 562,593 559,593 557,594 557,594 555,594 553,595 552,596 551,598 551,598 549,600 549,600 547,601 545,601 542,601 540,601 538,601 536,601 534,602 534,602 532,604 532,604 531,607 530,608 528,609 528,609 525,611 525,611 525,613 524,615 523,617 523,617 521,618 519,619 518,619 517,621 517,621 516,624 516,626 515,627 514,628 513,629 511,630 510,630 509,632 508,632 507,634 506,634 504,635 502,635 500,636 499,636 498,637 496,638 494,638 493,638 491,640 491,641 489,643 489,643 487,644 485,644 483,644 481,644 479,644 476,644 474,643 472,643 471,643 470,642 468,641 467,641 467,638 466,636 466,635 466,634 465,632 465,630 465,628 465,626 465,624 465,621 466,621 467,619 468,619 470,617 470,617 471,615 471,613 471,611 471,609 471,607 470,604 470,604 468,603 467,602 466,602 464,601 462,600 462,600 459,600 457,600 456,600 455,601 453,601 451,601 449,601 447,601 445,601 442,601 440,601 438,601 436,601 434,601 432,601 430,601 428,601 425,602 424,602 423,603 422,604 422,607 421,608 421,609 419,609 417,610 415,610 413,610 411,610 408,610 407,611 406,611 405,613 405,615 404,617 404,617 402,618 400,619 398,619 398,620 397,621 396,624 396,625 395,626 394,626 391,627 389,627 387,627 385,627 383,627 381,628 381,628 380,630 379,632 379,634 378,634 376,635 374,635 374,634 372,633 372,632 371,630 371,628 371,626 371,624 372,621 372,621 374,619 374,619 376,618 378,617 379,617 379,615 380,613 381,612 382,611 383,610 385,610 387,609 387,608 388,607 389,604 389,604 391,602 391,602 394,601 396,601 398,601 400,601 402,601 404,601 406,601 408,601 411,601 412,600 413,600 414,598 415,596 415,596 417,595 419,594 421,594 422,594 423,594 425,593 428,593 430,593 432,593 434,593 436,593 438,593 440,593 442,593 445,592 446,592 447,591 447,590 448,587 448,585 448,583 448,581 448,579 449,578 450,577 451,576 453,576 455,575 455,574 456,573 456,570 455,569 455,568 453,567 451,567 450,566 449,565 448,564 447,562 447,562 445,561 442,561 440,562 440,562 439,564 438,565 437,566 436,567 434,567 432,566 431,566 430,566 428,566 425,565 425,564 423,562 423,562 421,560 420,560 419,560 417,559 415,559 413,558 413,557 412,556 411,553 411,553 408,552 407,551 406,551 404,551 402,550 400,550 398,551 396,551 394,551 391,551 389,551 387,550 385,549 385,549 383,548 382,547 381,545 381,544 380,543 379,541 379,539 378,539 377,536 376,536 374,536 372,536 370,536 368,536 366,536 366,536 365,539 365,541 365,543 364,545 364,547 364,549 364,551 364,553 364,556 364,556 363,558 362,560 362,561 361,562 360,564 359,565 357,566 356,566 355,566 353,568 353,569 353,570 352,573 352,575 352,577 352,579 352,581 351,583 351,583 349,584 347,585 347,586 346,587 346,590 346,592 346,594 346,596 346,598 346,600 346,602 346,604 346,607 345,609 345,611 345,612 344,613 344,615 344,617 344,619 344,621 345,623 345,624 347,626 347,626 349,627 351,627 353,627 355,627 357,627 359,627 361,628 362,628 362,630 362,632 362,634 362,636 361,636 361,638 361,641 362,641 362,643 363,645 363,647 364,649 364,649 365,651 366,652 368,652 370,653 371,653 372,655 373,656 373,658 373,660 373,662 373,664 373,666 374,668 374,669 376,670 377,670 378,673 379,675 379,675 380,677 381,679 381,679 382,681 383,683 383,683 385,684 387,685 389,685 390,685 391,686 394,686 396,687 397,687 398,689 399,690 400,691 400,692 402,692 404,693 406,694 407,694 408,694 411,694 413,696 413,696 414,698 415,699 416,700 417,701 419,701 421,702 421,702 423,704 423,704 424,707 425,709 425,711 425,712 426,713 428,715 428,715 429,717 430,719 430,719 432,720 434,721 436,721 436,722 438,724 438,724 439,726 440,728 440,729 442,730 444,730 445,730 447,732 447,732 447,734 447,736 447,738 448,741 448,743 448,745 448,747 448,749 448,751 448,753 448,756 448,758 448,760 448,762 448,764 448,766 448,768 448,770 447,773 447,775 447,777 447,779 447,779 446,781 446,783 446,785 447,787 447,788 448,790 449,792 449,792 450,794 451,795 453,796 453,796 455,797 456,798 457,800 457,800 458,802 459,804 459,804 461,807 462,807 462,809 464,811 464,811 465,813 466,815 466,815 466,817 467,819 467,821 467,824 468,826 468,828 467,830 466,831 465,832 464,833 462,833 459,834 458,834 457,836 457,836 457,838 457,841 456,843 456,845 455,847 455,847 453,849 453,849 451,851 451,851 451,853 451,855 450,858 450,860 450,862 449,864 449,865 448,866 448,868 448,870 449,873 449,873 451,875 451,875 453,876 455,877 455,877 456,879 456,881 455,882 455,883 455,885 455,887 455,888 456,890 457,892 457,893 458,894 458,896 458,898 458,900 458,902 458,904 458,907 457,907 455,907 453,907 451,907 449,907 447,907 445,907 442,907 440,907 438,907 436,907 434,907 432,907 430,907 428,907 425,907 423,907 421,907 419,907 417,907 415,907 413,907 411,907 408,907 406,907 404,907 403,907 403,904 403,902 403,900 403,898 403,896 402,894 402,894 400,893 398,892 397,892 396,891 394,891 391,891 389,890 388,890 387,888 387,887 386,885 385,885 383,884 381,885 381,885 380,887 379,889 378,890 376,890 374,890 374,890 372,888 372,887 371,885 370,885 368,883 368,883 366,881 366,881 365,879 364,877 364,875 364,875 363,873 363,870 362,868 362,866 362,865 361,864 360,862 360,860 359,859 357,858 357,858 355,857 354,855 353,854 353,853 352,851 351,850 349,850 347,849 347,849 345,847 345,846 344,845 344,843 343,841 342,840 340,839 339,838 338,838 337,836 337,834 336,832 336,831 336,830 335,828 335,826 334,824 334,824 332,822 330,821 330,821 329,819 328,817 328,816 326,815 325,815 323,814 322,813 321,812 320,811 320,809 319,808 318,807 317,806 315,805 314,804 313,803 312,802 311,800 311,798 311,797 310,796 310,794 310,792 309,790 308,789 306,788 305,787 304,787 304,785 304,783 304,783 306,783 308,782 311,782 312,781 313,780 313,779 314,777 314,775 313,773 313,772 312,770 312,768 311,766 311,764 311,763 310,762 309,760 309,758 308,757 306,756 306,756 304,754 304,753 303,751 303,749 302,748 301,747 300,746 298,746 296,745 296,744 295,743 294,741 294,740 292,738 291,738 289,737 287,737 286,736 285,736 283,735 281,735 279,736 278,736 277,737 276,738 275,741 275,743 275,745 275,747 275,749 275,751 276,753 276,756 277,756 277,758 277,760 278,762 277,763 274,763 272,762 272,762 270,761 270,760 268,758 268,757 266,756 264,756 263,756 262,755 259,754 258,753 257,753 255,753 253,752 253,751 252,749 251,748 250,747 249,746 247,746 245,745 245,744 244,743 244,741 244,738 244,736 244,734 244,732 244,730 245,729 245,728 245,726 246,724 247,721 247,721 249,720 251,720 252,719 253,719 255,719 257,718 259,717 260,717 261,715 262,714 263,713 264,712 266,712 268,712 270,712 272,712 274,712 277,712 279,712 281,712 283,712 285,713 286,713 287,713 289,714 291,714 294,714 296,714 298,714 300,714 302,715 302,715 303,717 304,719 305,719 306,720 308,721 310,721 311,722 311,724 312,726 313,726 314,728 315,728 317,729 318,730 319,731 320,732 321,734 321,735 323,736 323,737 325,737 328,737 330,737 332,737 334,737 336,737 338,737 340,737 342,738 344,738 345,739 345,741 346,743 347,744 347,745 349,746 351,746 353,746 355,746 357,746 359,746 362,746 364,746 366,746 368,745 368,745 369,743 369,741 368,739 367,738 366,737 364,736 364,736 363,734 362,732 362,730 362,729 361,728 361,726 361,724 360,721 359,721 357,721 355,720 353,720 351,720 349,720 347,720 345,720 342,720 340,720 340,719 338,718 338,717 337,715 336,714 335,713 334,712 332,712 330,712 328,712 325,712 323,712 322,711 321,710 320,709 320,707 320,704 320,702 320,700 320,698 319,697 318,696 317,695 315,695 313,694 313,693 312,692 312,690 312,687 312,685 312,683 311,681 311,680 310,679 308,678 306,678 304,678 302,678 300,678 298,678 296,679 296,680 295,681 294,683 294,685 293,685 291,686 289,687 288,687 287,688 286,690 286,692 285,693 284,694 283,695 281,695 279,695 277,695 274,695 272,695 271,694 270,693 269,692 269,690 269,687 269,685 269,683 269,681 269,679 269,677 269,675 270,673 270,672 272,671 274,671 277,671 277,670 279,670 281,670 283,669 284,668 285,668 286,666 287,664 287,663 289,662 289,661 291,661 294,661 296,661 298,661 300,661 301,660 302,659 303,658 303,656 302,654 301,653 300,653 298,652 296,651 296,651 295,649 295,647 296,646 296,645 298,644 300,644 301,643 302,642 303,641 303,638 304,637 305,636 306,636 308,635 310,634 311,634 311,632 312,630 313,629 314,628 315,627 317,626 318,626 319,624 320,624 320,621 321,619 321,618 321,617 322,615 322,613 323,611 323,611 325,609 326,609 328,607 328,607 329,604 329,602 330,601 330,600 330,598 331,596 332,594 332,594 334,592 335,592 336,590 337,590 337,587 337,585 337,583 337,581 337,579 338,577 339,577 340,576 342,575 344,575 345,574 345,573 345,570 345,569 344,568 342,568 340,567 338,567 336,567 334,567 332,567 330,567 328,567 325,567 323,568 323,568 321,570 321,570 320,573 319,573 318,575 317,575 315,576 313,576 311,576 308,576 306,576 304,576 302,576 300,576 298,576 297,577 296,578 295,579 294,581 294,583 293,583 291,584 289,584 287,584 285,584 283,584 281,584 279,584 277,584 274,584 272,585 271,585 270,586 269,587 269,590 268,591 267,592 266,592 264,593 262,593 259,593 257,593 255,593 253,593 251,593 249,593 247,593 245,593 242,593 240,593 238,593 236,593 234,593 232,593 230,593 228,593 225,593 223,593 221,593 219,593 217,593 215,593 213,592 211,592 211,591 210,590 209,587 208,587 207,585 206,585 204,584 202,584 200,584 198,584 196,584 194,584 191,584 189,584 187,584 185,583 184,583 183,583 181,583 179,583 177,583 176,583 174,583 172,584 170,584 168,584 166,584 164,584 162,584 160,584 157,584 155,584 153,584 152,583 151,583 150,581 150,579 149,577 148,577 147,576 145,576 142,576 140,576 138,576 136,575 135,575 134,574 133,573 133,570 132,569 131,568 130,568 128,567 125,567 123,567 121,567 119,567 117,567 117,566 117,564 117,562 117,560 117,558 117,556 117,553 117,551 117,549 117,547 117,545 117,543 117,541 117,539 117,536 117,534 117,532 117,530 117,528 117,526 117,524 117,521 117,519 117,517 117,515 117,513 117,511 117,509 117,507 117,504 117,502 117,500 117,498 117,496 117,494 117,492 117,490 117,487 117,485 117,483 117,481 117,479 117,477 117,475 117,473 117,470 117,468 117,466 117,464 117,462 117,460 117,458 117,456 117,453 117,451 117,449 117,447 117,445 117,443 117,441 117,439 117,436 117,434 117,432 117,430 117,428 117,426 117,424 117,422 117,419 117,417 117,415 117,413 117,411 117,409 117,407 117,404 117,402 117,400 117,398 117,396 117,394 117,392 117,390 117,387 117,385 117,383 117,381 117,379 117,377 117,375 117,373 117,370 117,368 117,366 117,364 117,362 117,360 117,358 117,356 117,353 117,351 117,349 117,347 117,345 117,343 117,341 117,339 117,336 117,334 117,332 117,330 117,328 117,326 117,324 117,322 117,319 117,317 117,315 117,313 117,311 117,309 117,307 117,304 117,302 117,300 117,298 117,296 117,294 117,292 117,290 117,287 117,285 117,283 117,281 117,279 117,277 117,275 117,273 117,270 117,268 117,266 117,264 117,262 117,260 117,258 117,256 117,253 117,251 117,249 117,247 117,245 117,243 117,241 117,239 117,236 117,234 117,232 117,230 117,228 117,226 117,224 117,222 117,219 117,217 117,215 117,213 117,211 117,209 117,207 117,205 117,202 117,200 117,198 117,196 117,194 117,192 117,190 117,187 117,185 117,183 117,181 117,179ZM170,313 170,313 168,314 167,315 167,317 166,319 166,321 165,322 165,324 165,326 165,328 166,329 166,330 167,332 167,334 167,336 167,339 167,341 167,343 167,345 168,347 168,348 169,349 169,351 170,352 172,352 173,351 174,349 174,348 175,347 175,345 175,343 175,341 175,339 175,336 175,334 175,332 175,330 175,328 175,326 175,324 175,322 175,319 175,317 174,316 174,315 172,313 170,313ZM379,823 378,824 376,824 374,825 374,826 373,828 374,830 374,830 376,831 379,832 380,832 381,832 383,833 384,832 385,832 387,830 387,830 388,828 388,826 387,825 386,824 385,823 383,823 381,823ZM332,747 332,747 331,749 332,751 333,751 334,751 335,751 336,750 337,749 336,748 335,747 334,746ZM342,755 341,756 340,757 340,758 340,758 342,760 342,760 345,760 347,761 349,762 349,762 351,762 352,762 353,761 354,760 354,758 353,756 352,756 351,755 349,754 347,754 345,754ZM593,177 593,177 596,177 598,177 600,177 602,177 604,177 606,177 608,177 609,177 609,179 609,181 609,183 609,185 609,187 609,190 609,192 608,193 608,194 607,196 607,198 606,199 604,200 604,200 602,202 601,202 600,205 600,205 599,207 599,209 599,211 599,213 599,215 599,217 599,219 599,222 599,224 598,226 598,226 596,227 595,228 594,230 594,232 593,233 593,234 592,236 591,238 591,239 590,241 589,243 589,243 587,244 585,243 584,243 583,243 581,242 579,241 578,241 578,239 579,237 579,236 581,235 581,234 582,232 583,230 583,230 584,228 585,226 585,226 586,224 586,222 585,219 585,218 585,217 584,215 584,213 583,211 582,211 581,210 579,209 577,209 576,208 576,207 575,205 575,202 575,200 574,199 574,198 574,197 575,196 576,195 578,194 579,194 581,194 581,194 583,195 585,196 585,196 586,198 587,199 589,199 590,198 590,196 591,194 591,194 592,192 593,190 593,187 593,185 593,183 593,181 593,179ZM626,177 628,177 630,177 632,177 634,177 636,177 638,177 640,177 642,177 645,177 647,177 649,177 651,177 653,177 655,177 657,177 659,177 662,177 664,177 666,177 668,177 670,177 672,177 674,177 676,177 679,177 681,177 683,177 685,177 687,177 689,177 691,177 693,177 696,177 698,177 700,177 702,177 704,177 706,177 708,177 710,177 713,177 715,177 717,177 719,177 721,177 723,177 725,177 728,177 730,177 732,177 734,177 736,177 738,177 740,177 742,177 745,177 747,177 749,177 751,177 753,177 755,177 757,177 759,177 762,177 764,177 766,177 768,177 770,177 771,177 771,179 771,181 771,183 771,185 771,187 771,190 770,190 769,192 768,192 766,193 765,194 764,195 763,196 762,198 762,199 760,200 759,201 757,201 756,200 755,200 754,198 753,196 753,196 751,195 749,195 747,196 746,196 746,198 746,200 746,202 746,205 746,207 747,207 748,209 749,209 751,210 752,211 753,211 754,213 755,215 755,216 757,216 759,217 761,217 762,217 764,218 766,218 768,218 770,218 771,217 772,217 774,216 776,215 777,215 778,213 779,213 780,211 781,211 783,210 785,210 787,209 787,209 789,207 789,206 790,205 790,202 790,200 790,198 790,196 789,194 789,193 789,192 788,190 788,187 788,185 788,183 788,181 788,179 788,177 789,177 791,177 793,177 796,177 798,177 800,177 802,177 804,177 806,177 808,177 810,177 813,177 815,177 817,177 819,177 821,177 823,177 824,177 824,179 824,181 824,183 824,185 824,187 824,190 825,192 827,192 828,190 829,187 829,185 829,183 829,181 829,179 829,177 830,177 832,177 834,177 836,177 838,177 840,177 842,177 845,177 847,177 847,179 847,181 847,183 847,185 847,187 847,190 847,192 847,194 847,196 847,198 847,200 847,202 847,205 847,207 847,209 847,211 847,213 847,215 847,217 847,219 847,222 847,224 847,226 847,228 847,230 847,232 847,234 847,236 847,239 847,241 847,243 847,245 847,247 847,249 847,251 847,253 847,256 847,258 847,260 847,262 847,264 847,266 847,268 847,270 847,273 847,275 847,277 847,279 847,281 847,283 847,285 847,287 847,290 847,292 847,294 847,296 847,298 847,300 847,302 847,304 847,307 847,309 847,311 847,313 847,315 847,317 847,319 847,322 847,324 847,326 847,328 847,329 845,329 842,329 840,329 838,329 836,329 834,329 832,329 830,329 827,329 825,329 823,328 822,328 821,328 819,327 817,327 815,326 814,326 813,324 813,323 810,322 808,322 806,322 804,322 802,322 800,322 798,322 796,322 793,322 791,322 789,322 787,322 785,322 783,322 781,322 780,322 779,321 776,321 774,320 772,320 771,319 770,319 768,319 766,319 764,319 763,319 762,320 759,320 757,320 755,320 753,320 751,320 749,320 747,320 745,320 742,320 740,320 738,320 736,320 734,320 732,321 730,321 728,322 728,322 725,322 723,322 721,323 721,324 719,326 719,326 717,327 715,327 713,327 710,327 708,327 706,328 706,328 704,329 703,330 702,332 702,332 701,334 700,336 700,337 698,338 696,339 696,339 695,341 695,343 695,345 695,347 694,349 694,351 694,353 693,355 693,356 693,358 692,360 691,362 691,362 689,363 687,363 685,363 683,363 681,363 679,363 678,362 678,360 678,358 678,356 678,353 678,351 678,349 678,347 676,346 674,346 672,346 670,346 668,346 666,346 664,346 662,347 660,347 659,347 657,348 655,348 653,349 653,349 652,351 651,353 650,353 649,354 647,355 646,356 645,357 644,358 643,360 642,360 640,361 638,362 638,362 636,362 634,364 632,364 632,364 630,365 628,366 627,366 626,368 626,370 625,372 625,373 625,375 625,377 625,379 625,381 625,383 624,385 623,387 623,388 621,389 621,390 620,392 619,394 619,394 618,396 617,398 617,400 616,400 616,402 615,403 613,403 612,402 611,400 611,400 609,398 608,398 606,397 604,397 602,396 602,396 600,394 600,394 599,392 598,391 596,390 593,390 591,390 589,390 587,391 585,392 585,392 584,394 583,396 583,397 583,398 582,400 582,402 583,404 583,405 583,407 584,409 584,411 584,413 583,414 581,414 579,414 576,413 575,413 574,413 572,412 570,412 568,411 568,411 566,409 566,409 564,408 562,408 559,407 559,407 557,406 555,404 555,404 553,404 551,403 551,402 549,400 549,399 548,398 547,398 545,397 544,396 542,395 542,394 541,392 540,390 540,390 538,389 536,388 535,387 534,386 533,385 533,383 533,381 533,379 533,377 534,375 535,375 536,374 538,374 540,374 542,374 545,373 547,373 548,373 549,372 551,370 551,370 551,368 552,366 553,364 553,364 555,363 556,362 557,360 557,358 557,358 559,356 559,355 562,353 562,353 564,352 565,351 565,349 565,347 565,345 565,343 564,342 562,341 562,341 559,340 558,339 557,338 555,337 553,336 553,336 551,334 551,334 551,332 551,330 551,329 551,328 551,326 551,324 551,324 549,322 549,321 547,321 545,321 542,321 540,321 539,322 538,322 536,323 535,324 534,326 534,326 533,328 532,329 530,330 530,330 528,331 527,332 526,334 527,336 528,337 530,338 530,339 531,341 531,343 530,345 530,345 529,347 528,349 528,350 527,351 527,353 527,356 526,358 526,360 525,361 525,362 524,364 523,366 523,366 521,368 521,369 519,370 518,370 517,371 515,372 513,372 511,372 508,372 506,372 504,372 502,372 500,371 499,370 498,368 498,367 498,366 496,364 495,364 494,364 491,363 490,362 489,361 488,360 487,359 485,358 485,358 483,356 482,356 481,354 481,353 480,351 479,349 479,347 479,346 477,345 476,344 475,343 475,341 474,340 474,339 473,336 472,335 472,334 471,332 470,330 470,330 468,328 468,328 466,326 466,326 466,324 466,324 468,322 470,322 471,322 472,321 474,321 476,321 479,320 481,319 481,319 483,317 483,317 484,315 485,314 487,314 489,315 490,315 491,317 491,317 494,318 496,319 496,319 498,320 500,321 502,322 502,322 504,322 504,322 506,320 507,319 508,318 509,317 510,315 511,314 513,313 513,313 515,311 515,311 516,309 516,307 517,305 518,304 519,304 521,303 523,303 525,303 526,302 528,302 530,301 530,300 530,298 530,297 528,296 527,296 525,295 523,294 522,294 521,294 519,293 517,292 517,292 515,290 515,289 513,287 513,287 511,286 508,286 507,285 506,285 504,285 502,284 501,283 501,281 502,279 502,279 504,278 506,278 508,278 511,278 513,278 515,278 517,278 519,278 521,278 523,278 525,277 526,277 528,276 530,276 532,275 532,275 533,273 534,272 535,270 536,270 538,269 540,269 542,269 545,269 547,269 547,268 548,266 549,264 549,264 550,262 551,261 553,260 553,260 555,259 557,259 559,259 562,258 564,259 566,259 568,259 570,259 572,259 574,258 575,258 576,256 578,256 579,255 581,254 583,254 584,253 585,253 587,253 589,253 591,253 593,253 593,254 596,254 597,253 598,253 600,251 600,251 601,249 601,247 602,246 603,245 604,244 606,244 608,245 609,245 611,247 611,247 612,249 613,250 615,251 615,251 617,253 617,254 618,256 618,258 619,259 620,260 621,261 623,260 624,260 625,259 626,258 627,256 628,254 628,253 630,251 630,251 632,250 633,249 633,247 634,246 634,245 635,243 635,241 635,239 634,236 634,236 632,234 632,234 630,233 629,232 629,230 630,228 630,228 632,226 632,226 632,224 632,222 632,221 630,220 630,219 628,218 626,217 625,217 623,216 621,215 621,215 620,213 619,211 619,210 619,209 618,207 618,205 619,204 621,202 621,202 623,202 625,200 625,200 626,198 626,196 626,194 626,192 626,190 626,187 626,185 626,183 626,181 626,179ZM647,230 646,230 646,232 647,232 649,233 651,233 653,233 655,233 656,232 656,230 655,230 653,230 651,230 649,230ZM698,193 696,194 696,194 693,196 693,196 692,198 692,200 692,202 692,205 692,207 692,209 693,211 693,213 692,215 691,217 691,217 689,219 689,219 688,222 688,224 687,226 687,226 687,228 687,230 687,232 686,234 686,236 685,238 685,239 684,241 683,243 683,243 681,245 680,245 679,247 678,247 677,249 676,250 674,251 672,251 672,251 670,252 669,253 668,255 668,256 667,258 666,258 664,258 663,258 662,256 662,256 659,254 658,253 657,253 655,253 653,253 651,252 649,252 647,252 645,252 643,253 642,254 641,256 641,258 640,259 640,260 638,262 638,262 638,264 637,266 637,268 636,270 636,271 635,273 635,275 635,277 636,278 638,278 640,278 642,279 644,279 645,279 647,280 649,280 651,280 653,280 655,280 657,280 659,280 662,280 664,280 666,280 668,279 669,279 670,279 672,278 674,278 676,277 676,276 677,275 678,273 678,270 679,269 679,268 680,266 680,264 680,262 680,260 679,258 679,256 680,253 681,253 683,252 685,252 687,252 689,252 691,252 693,252 696,252 698,252 700,252 701,251 702,251 703,249 703,247 703,245 704,243 704,241 704,239 704,236 704,234 704,232 704,230 704,228 704,228 705,226 705,224 705,222 705,219 705,217 705,215 705,213 706,211 706,211 707,209 708,207 708,205 708,204 709,202 709,200 710,198 709,196 708,194 707,194 706,194 704,193 702,193 700,193ZM757,242 756,243 755,243 753,245 753,246 753,247 753,249 753,249 755,251 755,252 757,252 759,252 762,251 762,251 764,250 766,250 767,249 768,248 768,247 768,246 767,245 766,244 764,243 762,243 762,243 759,242ZM562,289 561,290 562,291 563,290ZM604,270 603,270 602,272 602,273 602,275 602,277 602,278 602,279 603,281 603,283 604,284 606,284 608,283 609,283 610,281 611,281 613,280 615,280 617,280 618,281 619,283 619,283 621,284 623,285 625,285 628,285 630,285 632,284 634,283 634,283 635,281 635,279 634,278 632,278 630,278 628,278 625,278 623,278 621,278 620,277 620,275 619,273 619,273 617,270 617,270 615,270 613,269 611,269 608,269 606,269ZM683,332 681,332 681,332 680,334 680,336 679,339 679,339 678,341 678,343 678,345 679,346 681,346 683,346 684,345 685,344 686,343 686,341 686,339 686,336 686,334 685,333 684,332ZM698,263 697,264 696,266 696,268 695,268 695,270 695,273 695,275 695,277 696,277 698,279 698,279 700,279 701,279 702,279 704,278 706,278 708,278 710,277 712,277 713,275 713,275 713,273 713,270 713,270 712,268 712,266 711,264 710,264 708,263 706,263 704,263 702,263 700,263ZM621,312 620,313 619,314 619,315 619,317 619,318 620,319 621,320 623,320 625,320 627,319 628,319 630,319 632,318 634,317 634,317 635,315 634,314 633,313 632,312 630,312 628,312 625,312 623,312ZM543,211 545,210 547,210 549,210 551,210 553,210 555,210 556,211 557,212 558,213 558,215 558,217 557,218 557,219 556,222 556,224 555,224 553,225 552,226 551,226 549,227 547,228 547,228 546,228 545,228 543,226 542,226 542,224 541,222 541,219 541,217 541,215 542,213 542,212ZM552,239 553,238 555,238 556,239 556,241 555,241 553,241 553,241ZM671,364 672,363 674,363 676,363 678,364 677,366 677,368 676,370 676,370 674,371 672,371 671,370 670,370 669,368 669,366 670,365ZM484,398 485,397 487,397 489,397 491,397 494,397 496,397 498,398 498,398 499,400 500,402 500,402 501,404 502,405 504,406 505,407 506,409 506,409 506,411 506,413 506,414 506,415 506,417 505,419 504,420 502,421 500,421 499,422 498,422 496,422 494,422 493,422 491,420 491,419 490,417 489,416 488,415 487,415 485,414 484,413 483,411 483,411 483,409 483,407 483,404 483,402 483,400 483,400ZM644,400 645,400 647,399 649,399 651,399 653,399 655,399 657,399 659,400 660,400 660,402 659,403 658,404 657,405 655,405 653,406 651,406 649,406 647,405 645,404 645,404 644,402ZM604,409 604,408 606,408 607,409 607,411 606,411 604,412 603,411ZM584,415 585,414 587,414 589,414 591,415 593,415 593,415 596,416 598,416 599,417 598,419 598,420 596,421 593,421 591,421 589,421 587,420 585,419 585,419 584,417ZM637,415 638,415 640,414 642,414 645,414 647,414 649,414 651,414 653,414 655,414 657,415 657,415 658,417 658,419 657,420 655,421 653,421 652,422 651,422 649,422 647,423 645,423 642,423 640,423 638,422 637,422 636,421 635,419 636,417 636,417ZM773,415 774,414 776,414 778,415 779,416 779,417 780,419 780,422 780,424 780,426 780,428 780,430 780,432 780,434 780,436 780,439 780,441 780,443 779,445 779,446 778,447 776,448 774,448 772,447 771,447 770,447 768,446 766,446 764,445 764,445 763,443 763,441 763,439 763,436 763,434 764,433 764,432 766,431 768,431 769,430 770,429 771,428 771,426 771,424 771,422 771,419 771,417 772,416ZM833,424 834,423 836,423 838,423 840,423 842,423 845,423 847,423 847,424 847,426 847,428 847,430 847,432 847,434 847,436 847,439 847,441 847,443 847,445 847,447 847,449 847,451 847,453 847,456 847,458 847,460 847,462 847,464 847,466 847,468 847,470 847,473 847,475 847,477 847,479 847,481 847,483 847,485 847,487 847,490 847,492 847,494 847,496 847,498 847,500 847,502 847,504 847,507 847,509 847,511 847,513 847,515 847,517 847,519 847,521 847,524 847,526 847,528 847,530 847,532 847,534 847,536 847,539 847,541 847,542 845,542 842,542 840,542 838,542 836,542 834,542 832,542 830,542 827,542 825,542 823,542 821,542 819,542 817,542 815,542 813,542 810,542 808,542 806,542 804,542 802,542 800,542 798,542 796,542 793,542 791,541 790,541 789,540 788,539 788,536 787,535 786,534 785,533 783,533 781,533 779,533 776,533 774,533 774,532 772,531 772,530 770,528 770,528 768,527 766,526 766,526 764,525 763,524 762,522 761,521 761,519 760,517 759,517 757,516 756,515 755,514 755,513 754,511 753,510 752,509 751,508 749,507 749,507 748,504 748,502 749,502 751,501 752,500 753,500 755,500 757,499 759,499 762,499 764,499 766,499 768,499 770,500 772,500 773,500 774,501 776,501 779,501 781,501 783,501 785,501 787,500 788,500 789,500 791,499 793,499 795,498 796,497 796,496 797,494 797,492 797,490 797,487 797,485 798,484 798,483 800,482 802,482 804,481 804,481 805,479 806,477 806,476 808,475 808,474 810,473 812,473 813,472 813,470 814,468 814,466 814,464 814,462 814,460 815,458 815,458 817,457 819,456 821,456 821,455 822,453 822,451 822,449 822,447 822,445 822,443 823,441 824,441 825,440 827,439 829,439 830,438 830,436 831,434 831,432 831,430 831,428 831,426 832,425ZM643,441 645,440 647,440 649,441 649,441 650,443 649,445 649,446 647,446 645,447 645,447 643,449 642,450 642,451 641,453 640,456 640,456 638,456 636,457 634,457 632,457 630,456 628,456 628,455 627,453 627,451 626,449 626,447 627,445 627,443 628,443 630,442 632,441 634,441 636,441 638,441 640,441 642,441ZM791,628 791,627 793,627 796,627 798,627 800,627 802,627 803,628 804,629 805,630 805,632 804,633 803,634 802,635 800,636 798,636 798,637 797,638 796,641 796,641 793,642 791,642 789,642 788,643 787,643 785,644 783,644 781,644 780,643 780,641 780,638 781,637 781,636 783,636 785,635 786,634 787,634 788,632 789,630 789,629ZM773,645 774,644 776,644 779,644 780,645 780,647 779,649 779,650 777,651 776,652 774,652 774,651 772,650 772,649 772,647 772,646ZM754,696 755,696 757,695 759,695 762,695 764,695 766,695 768,695 770,696 771,696 772,696 774,697 776,697 779,698 779,698 780,700 781,701 783,702 785,702 786,702 787,703 789,704 791,704 791,705 793,706 794,707 795,709 796,709 797,711 798,712 800,713 800,713 802,714 804,715 804,715 805,717 806,719 807,719 808,720 810,721 811,721 812,724 812,726 811,728 810,728 808,729 806,729 804,729 802,729 800,729 799,730 798,731 797,732 797,734 798,736 798,736 800,737 802,738 802,738 803,741 803,743 802,745 802,745 800,746 798,747 798,748 797,749 796,751 796,752 794,753 793,754 791,755 791,756 789,757 789,758 788,760 787,762 787,763 787,764 786,766 786,768 785,770 785,771 783,772 781,773 781,773 780,775 780,777 780,779 781,780 781,781 781,783 781,785 781,787 781,788 780,790 780,792 779,794 779,795 778,796 776,797 774,797 772,797 770,797 768,797 766,796 765,796 764,795 763,794 762,792 762,790 762,788 761,787 761,785 761,783 761,781 762,780 762,779 762,777 763,775 763,773 763,770 763,768 762,766 762,765 761,764 759,763 757,763 756,762 755,761 754,760 754,758 754,756 755,754 757,754 759,754 762,754 764,754 766,754 768,754 770,754 772,754 774,754 776,754 777,753 778,751 778,749 778,747 779,746 779,745 779,743 780,741 781,740 783,739 785,739 786,738 787,738 789,736 789,735 790,734 789,732 789,732 787,730 787,730 785,729 783,729 781,730 780,730 779,732 779,732 778,734 777,736 776,737 774,737 774,736 772,735 772,734 771,732 770,731 769,730 768,729 766,729 764,728 764,727 763,726 763,724 763,721 764,720 764,719 764,717 764,715 764,713 764,712 763,711 763,709 762,707 762,705 761,704 759,704 757,704 757,704 756,707 755,709 755,709 755,711 754,713 753,715 753,715 753,717 753,719 753,720 753,721 754,724 754,726 754,728 754,730 754,732 754,734 753,736 752,736 751,737 749,737 747,737 745,736 745,736 742,736 740,736 740,736 738,737 736,738 735,738 734,739 732,740 731,741 731,743 731,745 730,747 730,748 729,749 729,751 729,753 729,756 729,758 728,760 728,760 725,761 723,761 721,762 720,762 719,762 717,763 715,763 714,764 713,765 712,766 711,768 710,768 708,769 706,770 706,770 704,771 702,772 700,773 700,773 698,773 696,775 695,775 695,777 695,779 695,781 694,783 693,785 693,785 691,786 689,787 687,787 686,787 685,788 683,788 681,789 679,790 679,790 678,792 677,794 676,795 675,796 674,796 672,797 670,797 668,797 666,797 664,797 662,796 662,795 661,794 661,792 662,790 662,790 664,789 666,788 667,787 668,787 669,785 669,783 670,781 670,780 670,779 671,777 671,775 672,773 672,772 674,771 675,770 676,769 677,768 678,766 679,766 680,764 681,764 683,762 683,762 684,760 685,758 685,757 685,756 687,753 687,752 687,751 688,749 689,747 689,747 691,745 692,745 693,744 694,743 695,741 696,740 697,738 698,738 700,737 701,736 702,735 703,734 704,732 704,732 706,731 708,730 709,730 710,729 713,728 714,728 715,727 717,727 718,726 719,724 719,723 720,721 721,720 723,719 723,719 725,718 728,717 728,717 729,715 730,714 731,713 732,712 734,711 735,711 736,710 737,709 738,707 738,706 739,704 740,704 742,703 743,702 745,701 745,700 747,698 747,698 749,697 751,697 753,696ZM750,747 751,746 752,747 753,748 754,749 754,751 754,753 753,754 751,754 750,753 749,753 748,751 748,749 749,748ZM278,764 279,763 281,763 283,763 285,763 287,763 289,763 291,764 292,764 293,766 293,768 294,770 294,770 296,772 296,773 298,773 300,774 300,775 300,777 300,779 300,779 298,780 296,780 294,780 291,780 289,779 289,779 287,778 287,777 286,775 285,773 284,773 283,772 281,771 279,770 279,770 278,768 278,766ZM731,764 732,764 733,764 734,765 734,766 735,768 735,770 735,773 735,775 734,777 734,777 732,777 730,777 730,777 729,775 729,773 730,771 730,770 730,768 731,766ZM646,787 647,787 649,787 650,787 651,788 653,789 654,790 655,792 655,794 655,796 655,798 655,800 655,802 655,804 654,807 654,809 653,811 653,812 653,813 652,815 652,817 652,819 653,821 653,822 655,824 655,824 657,824 659,824 662,824 664,824 666,824 668,824 670,824 672,824 674,825 676,826 677,826 677,828 678,830 678,832 677,834 677,836 676,837 675,838 674,839 672,839 670,840 668,840 666,840 664,840 663,841 662,842 661,843 661,845 661,847 661,849 661,851 661,853 662,855 662,855 664,856 666,856 667,855 668,855 669,853 669,851 670,850 671,849 672,849 674,849 674,850 675,851 675,853 675,855 675,858 676,860 675,862 674,864 674,864 672,865 670,865 668,865 666,865 664,865 662,866 662,867 661,868 660,870 659,871 658,873 657,873 655,873 653,874 651,874 649,874 647,874 646,875 645,876 644,877 643,879 642,880 641,881 640,882 638,882 637,883 636,884 635,885 635,887 634,889 633,890 632,890 630,891 628,892 628,892 627,894 627,896 626,898 626,900 626,902 626,904 626,907 625,907 623,907 621,907 619,907 617,907 615,907 613,907 611,907 608,907 606,907 604,907 602,907 601,907 601,904 601,902 601,900 601,898 601,896 601,894 600,892 600,890 600,890 599,887 599,885 598,883 598,883 596,882 594,881 593,880 593,879 592,877 591,876 590,875 589,874 587,873 586,873 585,872 584,870 583,868 583,868 581,866 581,866 579,864 578,864 577,862 577,860 576,859 576,858 575,855 574,854 574,853 574,851 574,849 574,847 574,845 574,843 574,841 574,838 574,836 574,834 574,834 575,832 576,830 576,828 577,828 577,826 579,824 579,824 581,822 582,821 583,821 584,819 584,817 585,816 586,815 587,815 589,814 591,813 591,812 592,811 593,809 594,809 596,808 598,809 598,809 599,811 600,813 600,813 602,814 604,814 606,814 608,814 611,814 613,815 615,815 617,815 618,815 619,815 621,815 623,815 623,815 625,814 627,813 628,811 628,811 628,809 630,807 630,806 632,804 632,804 632,802 633,800 634,798 634,798 635,796 636,794 636,794 637,792 638,791 640,790 640,790 642,788 645,788ZM721,800 721,800 723,799 725,799 727,800 728,800 728,802 729,804 729,807 729,809 728,811 728,812 727,813 725,814 723,813 723,813 722,811 722,809 721,807 721,806 721,804 720,802ZM297,817 298,816 300,816 302,817 302,817 304,819 304,820 306,820 308,820 311,820 313,821 313,821 315,822 317,823 319,824 319,824 320,826 320,828 320,830 320,832 320,834 319,836 319,836 317,838 315,838 314,838 313,839 311,839 308,839 306,839 305,838 304,838 303,836 303,834 302,832 302,831 302,830 301,828 301,826 300,824 300,823 298,821 298,821 297,819ZM698,832 698,832 700,832 700,832 702,834 702,834 703,836 702,838 701,838 700,839 698,839 698,838 697,836 697,834ZM698,849 698,849 700,848 702,848 704,848 706,848 708,849 708,849 709,851 709,853 708,854 706,855 705,855 704,856 702,858 702,858 702,860 702,862 702,863 702,864 704,866 705,866 706,867 708,867 710,867 713,867 715,867 717,867 718,868 719,870 719,871 720,873 721,874 723,875 723,875 725,875 728,875 728,875 730,874 732,874 734,873 735,873 736,872 737,870 737,868 737,866 737,864 737,862 737,860 736,858 735,858 734,857 732,856 731,855 730,854 729,853 729,851 730,851 731,849 732,849 734,848 736,848 738,848 740,848 742,848 744,849 745,850 745,851 746,853 747,855 747,855 749,856 751,856 752,855 753,854 754,853 754,851 755,850 756,849 757,848 759,848 762,849 763,849 764,849 766,850 768,850 770,851 770,851 772,853 772,853 774,854 776,855 777,855 779,857 779,858 779,860 780,862 779,864 779,866 779,868 779,870 779,871 778,873 776,875 776,875 774,876 773,877 773,879 772,880 772,881 771,883 770,885 770,885 769,887 768,890 768,890 766,891 765,892 764,893 763,894 763,896 763,898 763,900 763,902 763,904 763,907 762,907 759,907 757,907 755,907 753,907 751,907 749,907 747,907 745,907 742,907 740,907 738,907 736,907 734,907 732,907 730,907 728,907 725,907 723,907 721,907 719,907 717,907 715,907 713,907 710,907 708,907 706,907 704,907 702,907 700,907 698,907 696,907 695,907 695,904 695,902 695,900 695,898 695,896 695,894 696,892 696,892 698,891 700,890 701,890 702,889 703,887 703,885 703,883 703,881 703,879 703,877 702,875 701,875 700,874 698,873 698,873 697,870 696,868 696,866 696,864 696,862 696,860 696,858 696,855 696,853 697,851ZM834,864 834,864 836,863 838,863 840,863 842,863 845,863 847,863 847,864 847,866 847,868 847,870 847,873 847,875 847,877 847,879 847,881 847,883 847,885 847,887 847,890 847,892 847,894 847,896 847,898 847,900 847,902 847,904 847,907 845,907 842,907 840,907 838,907 836,907 834,907 832,907 830,907 827,907 825,907 823,907 822,907 822,904 822,902 822,900 822,898 822,896 822,894 823,892 823,890 823,889 824,887 824,885 824,883 824,881 824,879 824,877 825,875 825,874 827,873 828,873 829,870 829,868 830,868 831,866 832,865ZM677,892 679,891 681,891 683,891 684,892 685,892 686,894 686,896 686,898 686,900 686,902 686,904 686,907 685,907 683,907 681,907 679,907 676,907 674,907 672,907 670,907 669,907 669,904 669,902 669,900 669,898 669,896 670,894 670,894 672,893 674,892 676,892ZM491,894 494,893 496,892 498,892 500,892 502,892 504,893 505,894 505,896 506,898 506,900 506,902 506,904 506,907 504,907 502,907 500,907 498,907 496,907 494,907 491,907 490,907 490,904 490,902 490,900 490,898 490,896 491,894Z"/>
<path fill="#4a95b4" d="M117,177 119,177 121,177 123,177 125,177 128,177 130,177 132,177 134,177 136,177 138,177 140,177 142,177 145,177 147,177 149,177 151,177 153,177 155,177 157,177 160,177 162,177 164,177 165,177 165,179 165,181 165,183 165,185 165,187 166,190 166,190 168,192 168,192 170,193 172,193 174,193 177,194 177,194 179,194 181,194 183,194 184,194 185,194 187,193 189,192 190,192 191,190 192,190 192,187 192,185 192,183 192,181 192,179 192,177 194,177 196,177 198,177 200,177 202,177 204,177 206,177 208,177 211,177 213,177 215,177 217,177 219,177 221,177 223,177 225,177 228,177 230,177 232,177 234,177 236,177 238,177 240,177 242,177 245,177 247,177 249,177 251,177 253,177 255,177 257,177 259,177 262,177 264,177 266,177 268,177 270,177 272,177 274,177 277,177 279,177 281,177 283,177 285,177 287,177 289,177 291,177 294,177 296,177 298,177 300,177 302,177 304,177 306,177 308,177 311,177 313,177 315,177 317,177 319,177 321,177 323,177 325,177 328,177 330,177 332,177 334,177 336,177 338,177 340,177 342,177 344,177 344,179 344,181 344,183 344,185 344,187 344,190 345,191 345,192 347,194 347,194 349,194 351,195 352,196 353,198 353,200 353,200 355,202 356,202 357,203 359,203 362,205 362,205 363,207 364,208 364,209 366,210 368,210 370,210 372,210 374,210 376,210 379,210 381,210 383,210 385,210 387,210 389,210 391,210 394,210 396,209 397,209 398,209 400,208 402,208 404,207 404,207 406,205 406,204 408,202 408,202 411,201 413,201 415,201 417,201 419,201 421,201 423,201 425,201 428,201 429,200 430,200 430,198 431,196 431,194 431,192 431,190 431,187 431,185 431,183 431,181 431,179 431,177 432,177 434,177 436,177 438,177 440,177 442,177 445,177 447,177 449,177 451,177 453,177 455,177 457,177 459,177 462,177 464,177 466,177 468,177 470,177 472,177 474,177 476,177 479,177 481,177 483,177 485,177 487,177 489,177 491,177 494,177 496,177 498,177 500,177 502,177 504,177 506,177 508,177 511,177 513,177 515,177 517,177 519,177 521,177 523,177 525,177 528,177 530,177 532,177 534,177 536,177 538,177 540,177 541,177 541,179 541,181 541,183 541,185 541,187 541,190 541,192 541,194 541,196 540,197 540,198 538,199 536,199 535,200 534,201 532,202 531,202 530,203 528,204 527,205 526,207 525,208 525,209 525,211 524,213 524,215 524,217 523,218 523,219 522,222 521,223 519,223 518,222 517,220 516,219 515,219 513,218 511,218 508,218 507,217 506,217 504,216 502,215 502,215 501,213 500,212 499,211 498,210 496,209 494,209 491,210 489,211 489,211 487,212 486,213 486,215 487,217 487,217 489,219 489,221 489,222 490,224 490,226 491,228 491,228 494,229 495,230 496,230 496,232 496,234 495,234 494,235 491,235 490,234 489,234 487,234 486,234 485,235 483,236 481,236 481,236 479,237 476,238 476,239 476,241 475,243 474,244 474,245 474,247 473,249 473,251 472,252 470,253 469,253 468,254 467,256 467,258 468,260 468,260 470,261 472,260 473,260 474,258 475,258 476,256 476,255 479,255 480,256 481,257 481,258 481,260 481,261 480,262 480,264 479,266 479,267 476,268 476,268 474,269 472,270 471,270 470,271 468,271 466,273 466,273 464,275 464,276 462,277 462,277 459,278 458,279 457,279 455,280 453,280 451,281 450,281 449,282 448,283 447,284 445,285 445,286 442,287 442,287 440,289 440,290 438,291 438,292 436,292 434,293 433,294 432,295 431,296 430,298 430,300 430,302 430,304 430,307 430,309 430,311 430,313 431,315 431,317 431,319 432,321 432,322 433,324 433,326 434,327 434,328 436,330 436,330 437,332 437,334 438,336 438,337 439,339 439,341 439,343 440,345 440,346 441,347 442,349 442,351 442,352 445,353 445,353 447,355 447,356 449,358 449,358 449,360 450,362 450,364 450,366 450,368 450,370 449,373 449,375 449,377 449,379 450,381 450,383 451,385 451,386 451,387 453,390 453,391 453,392 453,394 453,395 453,396 451,398 451,399 450,400 450,402 450,404 450,407 450,409 450,411 451,413 451,413 453,415 453,415 454,417 455,419 455,420 456,422 457,423 459,424 459,424 462,424 464,425 466,425 468,425 470,426 470,426 471,428 471,430 471,432 471,434 472,436 472,438 472,439 474,440 475,441 476,441 479,442 481,443 481,443 483,445 483,445 485,446 487,447 488,447 489,448 491,449 493,449 494,449 496,450 498,451 498,451 499,453 500,454 501,456 502,456 504,457 506,458 506,458 508,459 511,459 513,459 515,458 516,458 517,457 518,456 518,453 519,451 519,450 520,449 521,448 522,447 523,446 524,445 524,443 524,441 525,440 528,440 530,440 530,441 532,442 532,443 533,445 534,446 535,447 536,448 538,449 539,449 540,451 541,451 542,453 542,454 544,456 545,456 547,457 547,458 549,459 549,460 549,462 549,462 547,463 545,463 542,463 540,464 540,464 538,464 536,464 534,464 534,464 532,463 530,463 528,463 525,463 523,464 523,464 521,465 519,465 517,466 517,467 516,468 516,470 517,471 518,473 519,473 521,475 521,475 522,477 523,479 523,481 523,483 523,485 523,487 523,489 524,490 525,491 526,492 528,492 530,493 532,494 532,494 533,496 534,497 535,498 536,499 538,499 540,500 540,501 541,502 542,504 542,506 543,507 545,507 547,508 547,509 549,510 549,511 550,513 550,515 550,517 550,519 550,521 550,524 550,526 550,528 550,530 550,532 550,534 550,536 550,539 551,540 551,541 553,542 555,542 556,543 557,545 558,545 558,547 558,549 558,551 558,553 558,556 558,558 558,560 558,562 559,564 559,566 560,566 562,567 564,568 564,568 566,570 566,570 567,573 568,574 569,575 570,575 572,576 573,577 573,579 573,581 572,582 570,583 569,583 568,583 566,585 566,586 565,587 564,590 564,590 562,590 559,590 557,591 555,591 553,591 552,592 551,592 549,594 549,595 548,596 547,598 547,598 545,599 542,599 540,599 538,599 536,599 534,599 532,600 531,600 530,601 528,602 528,603 527,604 526,607 525,607 524,609 523,611 523,611 522,613 521,615 521,615 519,616 518,617 517,618 516,619 515,621 515,624 515,624 513,626 513,626 511,627 509,628 508,628 506,630 506,630 505,632 504,632 502,633 500,634 499,634 498,635 496,635 494,635 491,636 491,636 489,638 489,638 487,641 487,641 485,641 483,641 481,641 479,641 476,641 475,641 474,640 473,638 473,636 473,634 473,632 473,630 473,628 473,626 473,624 474,621 474,619 474,618 475,617 475,615 475,613 474,612 474,611 474,609 473,607 473,604 472,603 472,602 470,601 469,600 468,599 466,598 466,598 465,596 465,594 465,592 465,590 465,587 466,586 466,585 468,584 470,583 470,583 471,581 471,579 470,577 470,577 468,576 466,575 466,574 465,573 465,570 465,568 465,566 465,564 464,562 464,560 463,560 462,559 459,559 457,559 455,559 453,559 451,558 449,558 448,558 447,557 445,557 442,557 440,557 439,558 438,558 436,558 434,559 432,559 430,559 428,559 425,559 423,558 421,558 419,558 417,558 417,558 415,556 414,556 414,553 413,551 413,550 411,549 411,549 408,548 406,548 404,548 402,548 400,548 398,548 396,549 395,549 394,549 391,549 391,549 389,548 387,547 387,546 386,545 385,543 385,542 383,541 383,541 382,539 381,536 381,536 379,535 377,534 376,534 374,534 372,534 370,533 368,533 366,534 364,534 364,535 363,536 363,539 362,541 362,543 362,544 361,545 361,547 361,549 361,551 361,553 360,556 359,558 359,558 357,558 356,558 355,557 354,556 354,553 353,552 352,551 351,551 349,551 348,551 347,553 346,553 345,556 345,557 344,558 342,558 340,559 338,559 336,559 334,559 332,559 330,559 328,559 325,559 323,559 322,560 321,560 320,562 320,564 319,565 318,566 317,567 315,567 313,567 311,567 308,567 306,567 304,567 302,567 300,567 298,568 296,568 296,569 295,570 294,573 294,573 292,575 291,575 289,576 287,576 285,576 283,576 281,576 279,576 277,576 274,576 272,576 270,576 268,576 266,576 264,576 262,577 262,577 261,579 260,581 259,583 259,583 257,584 255,584 253,584 251,584 249,584 247,584 245,584 242,584 240,584 238,584 236,584 234,584 232,584 230,584 228,584 225,584 223,584 221,584 219,584 217,584 215,584 213,584 212,583 211,582 210,581 209,579 208,577 208,577 206,576 204,576 202,576 200,576 198,576 196,576 194,576 191,576 189,576 187,576 185,576 183,576 181,576 179,576 177,576 174,576 172,576 170,575 169,575 168,574 167,573 167,570 166,569 165,568 164,568 162,567 160,567 157,567 155,567 153,567 151,567 149,567 147,567 145,567 143,566 142,566 142,564 141,562 140,560 140,560 138,559 136,558 135,558 134,557 133,556 133,553 132,552 131,551 130,551 128,550 125,550 123,550 121,550 119,550 117,550 117,549 117,547 117,545 117,543 117,541 117,539 117,536 117,534 117,532 117,530 117,528 117,526 117,524 117,521 117,519 117,517 117,515 117,513 117,511 117,509 117,507 117,504 117,502 117,500 117,498 117,496 117,494 117,492 117,490 117,487 117,485 117,483 117,481 117,479 117,477 117,475 117,473 117,470 117,468 117,466 117,464 117,462 117,460 117,458 117,456 117,453 117,451 117,449 117,447 117,445 117,443 117,441 117,439 117,436 117,434 117,432 117,430 117,428 117,426 117,424 117,422 117,419 117,417 117,415 117,413 117,411 117,409 117,407 117,404 117,402 117,400 117,398 117,396 117,394 117,392 117,390 117,387 117,385 117,383 117,381 117,379 117,377 117,375 117,373 117,370 117,368 117,366 117,364 117,362 117,360 117,358 117,356 117,353 117,351 117,349 117,347 117,346 119,346 121,346 123,346 125,346 128,346 130,346 132,346 134,346 136,346 138,346 140,345 140,344 141,343 142,341 142,339 143,339 145,338 147,337 148,336 149,336 150,334 150,332 151,331 152,330 153,329 155,329 157,329 160,329 162,329 163,330 164,331 164,332 164,334 164,336 164,339 164,341 164,343 165,345 165,347 165,349 165,351 166,353 166,353 168,355 169,356 170,356 172,356 174,357 175,358 176,360 177,361 177,362 179,363 181,362 181,362 182,360 182,358 181,356 181,356 179,354 178,353 177,351 177,349 177,347 178,345 178,343 178,341 178,339 178,336 178,334 178,332 177,330 177,328 177,326 177,324 177,322 177,321 176,319 176,317 176,315 175,313 174,313 172,312 170,311 168,312 166,313 166,313 165,315 164,317 164,319 163,319 162,320 160,320 157,320 155,320 153,320 151,320 149,320 147,320 145,320 142,320 140,320 138,320 136,321 134,321 133,322 132,322 130,322 128,322 125,322 123,322 121,322 119,322 117,322 117,322 117,319 117,317 117,315 117,313 117,311 117,309 117,307 117,304 117,302 117,300 117,298 117,296 117,294 117,292 117,290 117,287 117,285 117,283 117,281 117,279 117,277 117,275 117,273 117,270 117,268 117,266 117,264 117,262 117,260 117,258 117,256 117,253 117,251 117,249 117,247 117,245 117,243 117,241 117,239 117,236 117,234 117,232 117,230 117,228 117,226 117,224 117,222 117,219 117,217 117,215 117,213 117,211 117,209 117,207 117,205 117,202 117,200 117,198 117,196 117,194 117,192 117,190 117,187 117,185 117,183 117,181 117,179ZM221,457 220,458 219,458 218,460 218,462 218,464 218,466 218,468 218,470 218,473 218,475 218,477 218,479 219,480 220,481 221,482 223,482 225,481 225,480 226,479 227,477 228,475 228,475 230,474 232,473 233,473 234,472 235,470 235,468 235,466 235,464 235,462 235,460 234,458 233,458 232,457 230,457 228,457 225,457 223,457ZM459,534 458,534 457,535 457,536 456,539 456,541 456,543 456,545 457,547 457,549 458,549 459,550 462,550 463,549 464,549 464,547 464,545 464,543 464,542 463,541 463,539 463,536 462,534 462,534ZM468,510 466,511 466,512 465,513 466,514 467,515 468,516 470,515 470,515 471,513 470,511 470,511ZM595,177 596,177 598,177 600,177 602,177 604,177 606,177 607,177 607,179 607,181 607,183 607,185 607,187 607,190 606,191 606,192 604,193 604,194 603,196 602,198 602,198 600,200 600,201 598,202 597,202 596,203 593,203 592,202 592,200 592,198 593,196 593,194 593,193 594,192 595,190 595,187 595,185 595,183 595,181 595,179ZM628,177 630,177 632,177 634,177 636,177 638,177 640,177 642,177 645,177 647,177 649,177 651,177 653,177 655,177 657,177 659,177 662,177 664,177 666,177 668,177 670,177 672,177 674,177 676,177 679,177 681,177 683,177 685,177 687,177 689,177 691,177 693,177 696,177 698,177 700,177 702,177 704,177 706,177 708,177 710,177 713,177 715,177 717,177 719,177 721,177 723,177 725,177 728,177 730,177 732,177 734,177 736,177 738,177 740,177 742,177 745,177 747,177 749,177 751,177 753,177 755,177 757,177 759,177 762,177 763,177 763,179 763,181 763,183 763,185 763,187 762,190 762,190 760,192 759,192 757,192 755,192 754,192 753,191 751,191 749,191 747,191 746,192 745,192 742,193 740,193 739,194 738,195 738,196 737,198 737,200 737,202 737,205 737,207 738,208 739,209 740,210 742,210 743,211 745,212 745,213 746,215 746,217 746,219 746,222 745,224 745,225 744,226 742,227 740,227 739,228 738,229 737,230 737,232 736,234 735,234 734,235 732,236 731,236 730,238 729,239 728,241 728,242 727,243 725,244 723,244 722,245 721,246 721,247 720,249 720,251 720,253 720,256 720,258 719,259 718,260 717,261 715,261 713,260 711,260 710,260 708,259 706,259 704,259 702,259 700,259 698,259 696,260 696,260 694,262 693,263 693,264 693,266 692,268 692,270 692,273 692,275 692,277 693,279 693,280 694,281 694,283 695,285 695,287 695,290 695,292 696,292 698,294 698,294 700,294 701,294 702,293 703,292 703,290 703,287 703,285 703,283 704,282 705,281 706,281 708,281 710,281 710,281 711,283 712,285 712,287 712,290 712,292 712,294 712,296 712,298 712,300 713,302 713,302 715,303 717,303 719,303 721,303 723,303 725,303 727,302 728,302 728,300 729,298 729,296 729,294 729,292 728,290 728,288 727,287 725,287 723,286 722,285 721,285 720,283 720,281 721,280 722,279 723,278 725,278 727,277 728,276 728,275 729,273 730,271 730,270 732,270 734,269 735,268 736,268 737,266 737,264 737,262 737,260 737,258 737,256 738,254 739,253 740,253 742,252 745,252 747,252 749,252 751,253 752,253 753,254 755,254 757,255 759,254 761,253 762,253 764,252 766,252 768,251 768,251 770,250 771,249 771,247 771,245 770,243 770,242 770,241 769,239 768,236 768,236 766,235 764,235 762,235 759,235 757,235 756,234 755,234 754,232 754,230 754,228 754,226 754,224 755,222 755,221 757,220 759,220 762,220 764,221 766,221 768,221 770,220 771,219 772,219 774,218 776,218 779,217 779,217 781,215 781,215 782,213 783,213 785,212 787,211 787,211 789,210 791,209 791,209 793,208 796,207 796,207 797,205 797,202 797,200 797,198 796,196 796,194 796,193 795,192 795,190 795,187 795,185 795,183 795,181 795,179 795,177 796,177 798,177 800,177 802,177 804,177 806,177 808,177 810,177 813,177 815,177 817,177 819,177 820,177 820,179 820,181 820,183 820,185 820,187 821,190 821,192 821,193 821,194 822,196 823,198 823,199 825,199 827,199 828,198 829,196 830,195 830,194 831,192 832,190 832,190 832,187 832,185 832,183 832,181 832,179 832,177 834,177 836,177 838,177 840,177 842,177 845,177 847,177 847,179 847,181 847,183 847,185 847,187 847,190 847,192 847,194 847,196 847,198 847,200 847,202 847,205 847,207 847,209 847,211 847,213 847,215 847,217 847,219 847,222 847,224 847,226 847,228 847,230 847,232 847,234 847,236 847,239 847,241 847,243 847,245 847,246 845,246 842,246 840,246 838,246 836,246 834,246 832,247 832,247 831,249 830,251 829,251 827,252 825,253 825,253 823,255 823,256 822,258 821,259 821,260 819,261 817,262 816,262 815,264 814,264 814,266 814,268 814,270 814,273 814,275 815,276 815,277 817,278 819,278 821,277 822,277 823,277 825,276 827,276 830,275 830,275 831,273 832,271 832,270 834,270 836,269 838,269 840,269 842,269 845,269 847,269 847,270 847,273 847,275 847,277 847,279 847,281 847,283 847,285 847,287 847,290 847,292 847,294 847,296 847,298 847,300 847,302 847,304 847,307 847,309 847,311 847,313 847,315 847,317 847,319 847,322 847,322 845,322 842,322 840,322 838,322 836,322 834,322 832,322 830,322 827,322 825,322 823,322 822,322 821,321 819,321 817,320 815,320 813,319 813,319 810,319 808,319 806,319 804,319 802,319 800,319 798,319 796,319 793,319 791,319 789,319 787,319 785,319 783,318 781,317 781,317 780,315 781,314 781,313 783,312 785,312 786,311 787,310 788,309 788,307 789,305 790,304 791,304 793,303 795,302 796,302 796,300 796,298 796,297 795,296 793,295 791,295 789,295 787,295 785,295 783,295 782,296 781,297 780,298 779,300 779,302 778,302 776,303 774,303 772,303 770,303 768,304 766,304 765,304 764,306 763,307 762,309 762,310 761,311 759,312 757,312 755,312 753,312 751,312 749,312 747,312 745,312 742,312 740,312 738,312 736,312 734,312 732,312 730,313 730,314 729,315 728,317 728,317 725,318 723,319 721,319 720,319 719,320 717,320 715,320 713,320 710,320 708,321 706,321 705,322 704,323 703,324 702,326 702,326 700,328 700,328 698,329 696,329 693,329 691,329 689,329 687,329 685,329 683,329 681,329 679,330 679,331 678,332 677,334 677,336 676,337 674,339 674,339 672,339 671,339 670,338 668,336 668,336 667,334 667,332 666,331 664,331 662,332 661,332 661,334 661,336 660,339 660,341 660,343 659,343 657,344 655,344 653,345 652,345 651,345 649,346 647,346 645,347 645,348 644,349 643,351 642,352 641,353 640,354 638,355 637,356 636,356 635,358 634,360 634,360 632,361 630,361 628,362 627,362 625,362 623,363 621,363 619,363 617,363 615,363 613,363 611,364 611,365 610,366 610,368 611,368 612,370 613,371 615,372 616,373 617,373 618,375 618,377 618,379 618,381 618,383 618,385 617,387 617,389 617,390 616,392 616,394 615,396 615,396 613,396 611,396 611,396 608,395 606,395 604,394 604,394 603,392 602,390 602,390 600,388 599,387 598,387 596,387 593,387 591,387 589,387 587,387 585,387 584,387 583,388 581,388 579,389 577,390 576,390 576,392 575,394 575,396 575,398 575,400 575,402 574,404 574,404 572,405 570,406 568,406 566,406 564,406 562,405 560,404 559,404 557,402 557,402 557,400 556,398 555,398 553,397 552,396 551,395 550,394 550,392 551,390 552,390 553,389 555,388 557,387 557,387 558,385 559,383 559,382 560,381 562,380 564,380 565,379 566,378 567,377 567,375 567,373 567,370 567,368 567,366 566,365 565,364 564,363 562,362 561,362 560,360 561,358 562,357 564,356 565,356 566,355 568,353 568,353 568,351 569,349 569,347 569,345 568,343 568,342 567,341 566,340 564,340 562,340 559,339 559,339 557,337 556,336 555,336 553,334 553,333 553,332 553,331 553,330 555,328 555,327 556,326 556,324 556,322 555,321 553,320 551,319 551,319 549,318 547,318 545,318 542,318 540,318 538,319 536,319 535,319 534,320 532,322 532,322 531,324 530,326 530,327 528,327 526,328 525,328 524,330 523,331 523,332 523,334 523,336 523,337 524,339 524,341 525,343 525,344 526,345 526,347 526,349 526,351 526,353 525,354 525,356 525,358 525,360 524,362 523,363 522,364 521,365 519,366 519,366 517,368 517,369 515,370 514,370 513,371 511,371 508,371 506,371 504,371 503,370 502,370 500,368 500,368 499,366 498,364 498,364 496,363 494,362 493,362 491,361 491,360 489,358 489,358 487,357 485,356 484,356 483,355 482,353 481,351 481,351 480,349 480,347 479,345 479,343 479,342 478,341 477,339 476,337 476,336 475,334 475,332 475,330 474,329 474,328 474,326 474,324 475,324 476,323 479,323 481,322 481,322 483,320 485,319 485,319 487,319 488,319 489,320 491,321 493,322 494,322 496,322 498,324 498,324 500,326 500,326 502,327 504,327 506,326 507,326 508,324 508,323 510,322 511,321 513,320 514,319 515,319 516,317 516,315 517,314 517,313 518,311 518,309 519,307 519,307 521,306 523,306 525,305 528,305 530,305 531,304 532,304 534,302 534,301 534,300 534,298 534,297 534,296 532,294 531,294 530,293 528,293 525,292 525,292 524,290 523,288 523,287 521,287 519,286 518,285 517,284 517,283 517,282 517,281 519,281 521,280 523,280 525,280 528,280 530,280 532,279 533,279 534,279 536,278 538,278 540,278 542,278 545,278 547,278 548,277 549,276 550,275 550,273 551,270 551,269 551,268 552,266 552,264 553,263 555,262 557,262 557,262 559,261 562,261 564,261 566,261 568,260 570,260 572,260 574,260 574,260 576,259 579,258 581,258 583,258 585,258 587,258 589,258 591,258 593,259 595,260 596,260 598,260 598,260 599,258 600,256 600,256 601,253 602,252 602,251 603,249 604,247 605,247 606,247 607,247 608,249 608,250 609,251 611,252 612,253 613,254 615,255 615,256 616,258 616,260 617,261 618,262 619,263 621,263 623,263 625,262 625,262 627,260 628,260 629,258 629,256 630,255 632,254 634,255 635,256 635,258 635,260 635,262 635,264 635,266 634,268 634,269 632,270 632,270 630,271 628,271 627,270 625,270 623,270 621,269 620,268 619,268 617,267 615,267 613,267 611,267 608,267 606,267 604,267 602,268 602,268 601,270 600,273 600,275 600,277 600,278 600,279 599,281 599,283 600,284 600,285 602,287 603,287 604,288 606,288 608,288 609,287 611,287 613,287 615,287 617,287 618,287 619,288 621,288 623,288 625,288 628,288 630,288 632,288 634,288 635,287 636,287 638,287 640,286 642,286 644,285 645,285 647,285 649,285 651,284 653,284 655,284 657,284 659,284 662,284 664,284 666,283 667,283 668,283 670,281 671,281 672,281 674,280 676,280 677,279 679,278 679,277 680,275 680,273 681,271 681,270 683,269 684,268 685,268 686,266 686,264 686,262 686,260 686,258 687,256 687,256 689,255 691,255 693,255 696,255 698,255 700,255 702,254 703,253 704,252 705,251 705,249 706,247 706,245 706,243 706,241 706,239 706,236 706,234 706,232 706,230 706,229 707,228 708,227 709,226 710,224 711,224 711,222 712,219 712,217 711,215 711,213 710,212 710,211 710,209 710,207 710,205 710,202 710,201 711,200 711,198 711,196 710,195 710,194 708,192 706,192 704,192 702,192 702,192 700,192 699,192 698,192 696,193 693,194 693,194 691,195 690,196 689,197 689,198 688,200 688,202 688,205 688,207 687,209 687,210 687,211 686,213 686,215 685,217 685,219 685,219 684,222 685,224 685,226 685,226 685,228 685,230 685,232 685,233 684,234 683,236 683,236 681,238 680,239 679,241 679,241 678,243 676,244 675,245 674,245 672,246 670,247 670,247 668,249 668,250 666,251 666,252 664,252 662,252 659,252 657,252 655,251 654,251 653,251 651,250 649,250 647,250 645,250 642,251 641,251 640,252 638,252 638,251 637,249 637,247 637,245 637,243 637,241 637,239 637,236 636,234 636,234 635,232 635,230 635,228 635,226 635,224 635,222 634,219 634,218 632,217 632,217 630,216 628,215 628,215 626,213 625,212 624,211 623,210 622,209 621,208 621,207 621,205 622,205 623,204 625,203 626,202 627,200 628,198 628,198 628,196 628,194 628,192 628,190 628,187 628,185 628,183 628,181 628,179ZM645,228 644,228 642,230 642,230 642,232 642,233 643,234 645,235 647,235 649,235 651,235 653,235 655,235 657,235 658,234 659,232 659,230 657,228 656,228 655,228 653,227 651,227 649,227 647,227ZM747,281 746,281 746,283 747,285 747,285 749,286 751,286 752,285 753,284 753,283 754,281 753,280 751,280 749,280ZM757,270 757,270 756,273 756,275 757,277 757,277 759,278 761,277 762,276 762,275 762,273 762,272 760,270 759,270ZM562,285 561,285 559,286 558,287 557,289 557,290 557,290 558,292 559,293 561,294 562,294 564,295 565,294 566,292 566,292 566,290 566,289 565,287 564,286 562,285ZM596,346 594,347 593,348 593,349 593,351 593,353 593,355 594,356 594,358 595,360 596,361 598,361 600,360 600,360 601,358 601,356 601,353 601,351 600,349 600,348 598,347 598,347ZM619,306 619,307 618,309 617,310 616,311 615,311 613,312 612,313 611,314 610,315 610,317 611,319 611,319 613,320 615,321 616,322 617,323 617,324 618,326 619,327 620,328 621,329 623,329 625,328 625,327 626,326 627,324 628,323 630,322 632,322 634,322 635,322 636,321 638,321 640,320 642,319 642,319 643,317 643,315 643,313 643,311 643,309 643,307 642,306 640,305 638,305 636,305 634,305 632,305 630,305 628,305 625,305 623,305 621,305ZM577,198 579,196 581,196 582,198 583,200 583,200 585,202 586,202 587,203 589,203 591,203 592,205 592,207 592,209 592,211 592,213 592,215 591,217 591,217 589,218 588,217 587,216 587,215 586,213 586,211 585,210 584,209 583,208 581,207 579,207 579,207 578,205 578,202 578,200ZM545,213 547,212 549,212 551,212 553,212 555,213 555,213 556,215 555,216 554,217 553,218 551,219 551,220 550,222 549,224 549,224 547,225 545,224 544,224 544,222 544,219 544,217 544,215 545,213ZM589,228 589,228 589,228 590,230 590,232 589,234 588,234 587,235 587,234 586,232 586,230 587,228ZM485,400 487,399 489,399 491,399 494,398 496,399 497,400 498,401 498,402 499,404 500,405 501,407 502,407 504,409 504,410 504,411 504,412 504,413 502,415 502,415 500,417 500,417 498,419 497,419 496,420 494,419 494,419 492,417 491,417 490,415 489,414 488,413 487,412 485,411 485,410 485,409 485,407 485,404 485,402 485,401ZM519,432 519,432 521,432 521,432 523,434 524,434 524,436 524,439 523,440 521,439 520,439 519,438 518,436 518,434ZM833,464 834,464 836,463 838,463 840,463 842,463 845,463 847,463 847,464 847,466 847,468 847,470 847,473 847,475 847,477 847,479 847,481 847,483 847,485 847,487 847,490 847,492 847,494 847,496 847,498 847,500 847,502 847,504 847,507 847,509 847,511 847,513 847,515 847,517 847,519 847,521 847,524 847,526 847,528 847,530 847,532 847,533 845,533 842,533 840,533 838,533 836,533 834,533 832,532 832,532 831,530 830,528 830,528 827,527 825,526 823,526 821,526 819,526 817,526 815,526 814,526 813,525 810,525 808,525 806,525 804,525 802,525 800,525 798,525 796,525 793,525 791,525 789,525 787,525 785,525 783,525 781,525 779,525 776,525 774,524 772,524 771,524 770,523 768,523 766,522 765,521 764,519 764,517 764,516 763,515 763,513 762,511 762,509 761,509 759,508 757,507 757,507 755,505 755,504 755,504 756,502 757,502 759,502 762,502 764,502 766,502 768,502 769,502 770,503 771,504 772,506 773,507 774,507 776,508 779,508 781,508 783,508 785,508 787,508 789,508 791,508 793,508 796,508 798,508 800,508 802,507 803,507 804,506 805,504 805,502 806,501 807,500 808,499 810,499 812,498 813,497 813,496 814,494 814,492 814,490 814,487 814,485 815,484 815,483 817,482 819,482 821,481 821,480 822,479 822,477 823,475 824,475 825,474 827,473 828,473 829,470 829,468 830,467 830,466 832,464ZM553,466 553,466 555,465 557,466 559,466 559,466 562,467 564,468 564,468 565,470 566,471 566,473 567,475 568,476 568,477 569,479 570,480 572,481 572,481 574,483 574,483 575,485 575,487 575,490 575,492 575,494 574,496 574,496 572,497 570,496 568,496 568,496 567,494 566,493 565,492 564,491 562,490 561,490 559,488 559,487 558,485 557,485 555,484 554,483 553,483 551,481 551,481 550,479 550,477 551,475 551,474 551,473 552,470 552,468ZM579,519 581,519 581,519 581,520ZM578,562 579,561 581,560 582,562 582,564 582,566 582,568 581,570 581,573 581,573 579,574 576,573 576,573 576,570 576,569 577,568 578,566 578,564ZM340,594 340,593 341,594 342,594 343,596 343,598 343,600 343,602 343,604 343,607 342,608 342,609 340,610 338,610 337,609 337,607 337,604 337,602 337,600 337,598 338,596 338,595ZM331,611 332,610 334,610 336,610 337,611 337,613 337,615 337,617 337,619 337,621 338,624 338,624 340,625 342,626 343,626 345,627 346,628 347,628 349,629 351,629 353,630 353,631 354,632 353,633 353,634 351,635 349,636 349,636 348,638 348,641 349,641 351,642 353,642 355,642 357,642 359,643 359,643 361,645 362,646 362,647 362,649 363,651 364,653 364,653 366,654 368,655 368,656 369,658 369,660 369,662 369,664 370,666 370,668 370,669 370,670 371,673 372,675 372,675 374,676 376,677 376,677 379,679 379,679 379,681 380,683 381,685 381,685 383,686 385,686 387,687 389,687 391,687 393,687 394,687 396,689 396,690 397,692 398,693 400,694 400,694 402,694 404,695 406,695 408,696 410,696 411,696 413,698 413,698 414,700 415,701 417,702 418,702 419,702 421,703 422,704 423,707 423,708 423,709 423,711 423,711 423,713 423,715 423,717 423,719 424,719 425,720 428,721 428,721 430,722 432,723 434,723 435,724 436,725 436,726 437,728 438,730 439,730 440,731 442,732 443,732 445,733 445,734 445,736 445,738 445,741 445,743 445,745 445,747 445,749 446,751 446,753 447,754 447,756 447,758 447,760 447,762 447,764 447,765 447,766 446,768 446,770 445,773 445,775 445,777 445,778 444,779 442,780 441,781 440,782 440,783 440,785 440,787 441,787 442,788 444,790 445,790 446,792 446,794 447,794 448,796 449,797 451,798 451,798 453,799 454,800 455,802 455,802 456,804 457,806 457,807 459,809 459,810 461,811 462,811 464,813 464,813 465,815 466,817 466,819 466,821 466,821 466,824 467,826 467,828 466,829 465,830 464,831 462,832 461,832 459,833 457,834 456,834 456,836 455,838 455,838 455,841 454,843 453,845 453,845 452,847 451,847 450,849 449,851 449,851 449,853 448,855 448,858 448,860 448,862 447,864 447,865 446,866 446,868 445,870 446,873 446,875 447,875 447,877 448,879 448,881 448,883 448,885 449,887 449,888 450,890 451,890 453,892 453,892 454,894 455,896 455,898 455,900 455,902 455,904 455,907 453,907 451,907 449,907 447,907 445,907 442,907 440,907 438,907 436,907 434,907 432,907 430,907 428,907 425,907 423,907 421,907 419,907 417,907 415,907 413,907 411,907 408,907 407,907 407,904 407,902 407,900 407,898 407,896 406,894 406,894 405,892 404,891 402,891 400,890 398,890 397,890 396,889 394,888 391,888 391,887 390,885 389,885 388,883 387,882 385,881 385,881 383,881 382,881 381,882 379,883 377,883 376,883 374,883 374,883 372,882 371,881 370,879 370,879 369,877 368,875 368,874 366,873 366,872 365,870 365,868 364,866 364,865 363,864 363,862 363,860 362,858 362,856 360,855 359,855 357,854 357,853 356,851 355,850 355,849 353,847 352,847 351,846 349,846 348,845 347,843 347,841 347,840 346,838 346,836 345,834 345,833 343,832 342,831 340,830 340,830 339,828 339,826 338,825 338,824 337,821 336,820 336,819 335,817 334,815 334,815 332,814 331,813 330,812 329,811 328,809 328,807 327,807 325,806 323,805 323,804 321,803 321,802 320,800 320,798 321,797 323,797 325,797 327,796 328,795 328,794 328,792 328,790 328,788 327,787 327,785 326,783 325,783 323,782 321,782 320,781 319,780 318,779 318,777 317,775 317,773 316,773 315,770 315,770 314,768 314,766 313,764 313,763 312,762 312,760 311,758 311,756 310,756 308,753 308,753 306,752 306,751 305,749 304,747 304,747 302,745 302,745 300,744 298,743 298,743 297,741 296,740 295,738 294,737 292,736 291,735 289,735 288,734 287,733 286,732 286,730 286,728 286,726 286,724 287,722 288,721 289,721 291,721 293,721 294,722 294,724 296,726 296,726 298,726 300,726 302,727 304,727 306,727 308,728 309,728 311,729 312,730 313,732 313,732 314,734 315,735 317,736 317,736 319,737 320,738 321,740 321,741 322,743 323,745 323,745 325,746 326,747 327,749 328,750 328,751 330,752 332,753 332,753 334,754 336,754 337,756 338,758 338,759 339,760 340,761 342,762 343,762 345,762 347,764 347,764 348,766 349,768 349,768 351,770 353,770 354,770 355,771 357,771 359,772 361,773 362,773 363,775 364,776 364,777 366,778 368,778 369,779 370,779 372,781 372,782 373,783 373,785 374,787 374,788 376,788 378,787 379,787 379,785 380,783 380,781 380,779 380,777 380,775 380,773 380,770 380,768 379,766 379,764 379,763 378,762 378,760 378,758 376,756 376,756 374,754 373,753 372,753 372,751 371,749 372,747 372,746 372,745 373,743 372,741 372,741 371,738 370,737 369,736 369,734 368,732 368,732 367,730 366,728 365,728 365,726 364,724 364,721 364,721 363,719 363,717 362,715 362,714 360,713 359,712 357,712 355,712 353,712 351,712 349,712 347,711 347,710 346,709 346,707 347,705 347,704 349,704 351,703 352,702 353,702 354,700 354,698 353,697 352,696 351,695 349,695 347,694 347,693 346,692 345,690 345,688 344,687 342,687 340,686 338,686 336,686 334,686 332,686 330,685 330,685 329,683 329,681 329,679 329,677 329,675 329,673 329,670 329,668 329,666 328,664 328,663 326,662 325,661 323,661 322,660 321,659 320,658 320,656 319,654 318,653 317,653 315,652 313,651 313,651 312,649 312,647 313,646 313,645 315,644 317,644 318,643 319,642 320,641 320,638 320,636 320,634 320,632 321,630 321,629 323,628 323,627 325,627 327,626 328,625 328,624 329,621 329,619 329,617 329,615 329,613 330,612ZM408,866 408,866 406,868 406,868 406,870 406,871 408,873 408,873 411,874 412,875 413,875 414,877 414,879 415,880 416,881 417,881 419,882 420,881 421,880 422,879 422,877 422,875 422,873 422,870 422,868 421,867 420,866 419,866 417,865 415,865 413,865 411,865ZM425,755 424,756 423,756 423,758 423,760 423,760 425,761 428,760 428,760 429,758 428,756 428,755ZM340,800 338,800 338,801 338,802 338,804 339,804 340,805 342,805 343,804 343,802 343,800 342,800ZM366,815 366,815 365,817 365,819 366,821 366,822 368,823 369,824 369,826 370,828 370,830 370,831 370,832 371,834 371,836 372,838 373,838 374,839 376,839 379,840 381,840 383,839 385,838 385,838 386,836 387,834 387,834 388,832 389,830 389,830 390,828 390,826 389,824 389,824 387,822 387,821 385,820 383,820 381,820 379,820 376,821 374,821 372,820 371,819 371,817 370,816 369,815 368,814ZM748,704 749,704 751,704 751,704 752,707 752,709 751,711 751,711 749,712 747,712 746,711 746,709 746,707 747,706ZM780,707 781,706 783,705 785,706 787,707 787,707 788,709 789,710 790,711 791,712 793,713 794,713 796,715 796,715 797,717 797,719 797,721 797,724 796,726 796,726 794,728 793,728 791,728 790,728 789,728 787,727 785,727 783,727 781,727 779,728 778,728 776,728 774,728 774,728 772,726 772,726 771,724 771,721 771,719 771,717 771,715 772,714 773,713 774,712 776,712 778,711 779,710 779,709ZM740,713 740,712 742,712 745,712 746,713 746,715 746,717 746,719 746,721 746,724 745,726 745,727 744,728 742,729 740,729 739,730 738,730 737,732 736,734 736,734 734,735 732,736 731,736 730,737 729,738 729,741 728,743 728,745 728,745 725,747 725,747 723,748 721,749 721,749 720,751 719,753 718,753 717,754 715,755 713,756 713,756 712,758 711,760 710,761 709,762 708,762 706,763 705,764 704,765 703,766 702,768 702,768 700,769 698,770 696,770 695,770 693,771 691,771 689,771 687,771 686,770 686,768 686,766 687,764 687,763 687,762 688,760 688,758 689,756 689,756 691,754 693,753 693,753 694,751 695,749 696,748 697,747 698,746 700,746 701,745 702,744 703,743 704,741 704,740 705,738 706,738 708,737 709,736 710,735 711,734 713,732 713,732 715,731 717,730 718,730 719,730 721,728 721,727 722,726 723,724 723,723 725,722 728,722 728,721 730,721 732,721 734,720 735,719 736,719 737,717 738,715 738,714ZM260,721 262,721 264,721 266,721 267,721 268,722 269,724 269,726 268,727 267,728 266,729 264,729 262,730 262,731 261,732 261,734 261,736 259,737 257,737 255,737 254,736 253,736 252,734 252,732 252,730 252,728 252,726 253,724 253,723 255,722 257,722 259,722ZM261,738 262,737 264,737 266,738 267,738 268,739 269,741 269,743 269,745 269,747 269,749 268,751 268,752 266,752 264,752 262,751 262,751 261,749 261,747 261,745 261,743 261,741ZM783,747 783,747 785,746 786,747 787,748 788,749 788,751 787,752 786,753 785,754 783,754 783,753 782,751 782,749ZM680,773 681,772 683,772 685,771 686,773 686,775 686,777 685,778 684,779 683,780 681,780 679,779 679,778 678,777 678,775 679,774ZM766,781 766,781 768,780 770,780 772,780 774,780 776,781 777,781 778,783 778,785 777,787 776,788 774,788 772,788 770,788 768,788 766,788 766,787 765,785 765,783ZM314,790 315,789 317,789 318,790 319,790 320,792 320,794 320,796 319,797 317,797 315,796 315,796 314,794 314,792ZM644,790 645,789 647,789 649,789 651,789 651,790 652,792 653,794 653,796 653,798 653,798 653,800 653,802 653,803 653,804 652,807 651,809 651,809 650,811 650,813 650,815 650,817 650,819 650,821 651,824 651,824 652,826 652,828 653,829 654,830 655,831 657,831 659,832 659,833 660,834 660,836 659,837 658,838 657,839 655,840 654,841 653,841 652,843 652,845 652,847 652,849 652,851 652,853 652,855 652,858 652,860 652,862 651,863 650,864 649,865 647,865 645,866 645,867 644,868 643,870 642,871 641,873 640,873 638,873 637,873 636,872 635,870 635,868 635,866 635,864 635,862 635,860 634,858 633,858 632,857 630,857 628,858 628,858 627,860 626,862 625,863 625,864 623,865 621,865 620,866 619,867 618,868 618,870 617,872 616,873 615,873 613,874 611,875 611,875 610,877 610,879 611,880 611,881 613,882 615,882 616,883 617,884 618,885 618,887 618,890 618,892 618,894 618,896 618,898 618,900 618,902 618,904 618,907 617,907 615,907 613,907 611,907 609,907 609,904 609,902 609,900 609,898 609,896 609,894 608,892 608,892 606,891 604,890 604,890 603,887 603,885 602,883 602,882 602,881 601,879 601,877 600,875 599,875 598,874 596,873 595,873 593,871 593,870 592,868 591,868 589,867 587,866 587,866 585,865 584,864 583,862 583,862 582,860 581,858 581,858 579,856 578,855 577,853 577,851 577,849 577,847 577,845 577,843 577,841 577,838 577,836 578,834 579,832 579,832 581,831 582,832 583,833 584,834 584,836 585,838 586,838 587,839 589,839 591,840 593,840 596,839 598,839 599,838 600,838 601,836 601,834 601,832 601,830 601,828 601,826 600,824 600,822 600,821 599,819 600,817 600,817 602,816 604,815 606,815 608,816 611,816 613,817 615,817 616,817 617,818 618,819 619,821 620,821 621,822 623,822 625,821 625,821 626,819 627,817 628,817 629,815 630,815 632,813 632,813 633,811 633,809 634,807 634,807 635,804 635,802 635,800 636,798 636,798 638,796 638,796 640,794 641,794 642,792 642,791ZM630,831 628,832 628,833 627,834 626,836 625,838 625,838 623,839 621,839 619,840 617,840 615,840 613,840 611,841 611,841 610,843 610,845 611,846 611,847 613,848 615,848 617,848 619,848 621,848 623,848 625,848 628,848 630,848 632,848 633,847 634,846 635,845 635,843 635,841 635,838 635,836 635,834 634,833 633,832 632,831ZM304,824 306,823 308,823 311,823 311,824 313,826 313,826 313,828 313,830 313,831 312,832 312,834 311,836 310,836 308,837 306,836 306,836 305,834 305,832 304,831 304,830 303,828 303,826 304,824ZM761,855 762,855 764,855 766,854 768,854 770,855 770,855 772,857 774,858 774,858 776,859 777,860 777,862 777,864 777,866 777,868 776,870 776,870 774,872 774,873 772,874 771,875 770,876 770,877 769,879 768,881 768,881 766,882 764,883 764,884 763,885 762,887 762,888 760,890 759,890 757,891 756,892 755,892 754,894 754,896 754,898 754,900 754,902 754,904 754,907 753,907 751,907 749,907 747,907 745,907 742,907 740,907 738,907 736,907 734,907 732,907 730,907 728,907 725,907 723,907 721,907 719,907 717,907 715,907 713,907 712,907 712,904 712,902 712,900 712,898 712,896 712,894 712,892 712,890 712,887 712,885 712,883 712,881 712,879 712,877 713,875 713,875 715,874 717,874 717,875 719,876 719,877 720,879 720,881 720,883 720,885 720,887 721,889 722,890 723,890 725,891 728,891 730,891 732,891 734,891 736,891 738,891 740,891 742,890 744,890 745,889 745,887 746,885 747,884 747,883 749,882 751,882 752,881 753,880 754,879 754,877 754,875 754,873 754,870 754,868 754,866 754,864 754,862 755,860 755,859 756,858 757,857 759,856ZM833,868 834,868 836,867 838,867 840,867 842,867 845,867 847,867 847,868 847,870 847,873 847,875 847,877 847,879 847,881 847,882 845,882 842,882 840,882 838,882 836,882 834,882 832,881 832,880 831,879 831,877 831,875 832,873 832,873 832,870ZM826,892 827,891 829,892 830,892 830,894 831,896 831,898 831,900 831,902 831,904 831,907 830,907 827,907 825,907 825,907 825,904 825,902 825,900 825,898 825,896 825,894 825,892Z"/>
<path fill="#48a574" d="M209,177 211,177 213,177 215,177 217,177 219,177 221,177 223,177 225,177 228,177 230,177 232,177 234,177 236,177 238,177 240,177 242,177 245,177 247,177 249,177 251,177 253,177 255,177 257,177 259,177 262,177 264,177 266,177 268,177 270,177 272,177 274,177 277,177 279,177 281,177 283,177 285,177 287,177 289,177 291,177 294,177 296,177 298,177 300,177 302,177 304,177 306,177 308,177 311,177 313,177 315,177 317,177 319,177 321,177 323,177 325,177 328,177 330,177 332,177 334,177 336,177 337,177 337,179 337,181 337,183 337,185 337,187 337,190 337,192 337,194 337,196 337,198 338,200 339,200 340,201 342,202 344,202 345,203 345,205 346,207 347,208 347,209 349,210 351,210 353,211 353,211 354,213 355,215 355,216 357,217 357,218 359,218 362,218 364,218 366,218 368,218 370,218 372,218 374,218 376,218 379,218 381,218 383,218 385,218 387,218 389,218 391,218 394,218 395,217 396,217 397,215 398,213 398,213 400,212 402,211 403,211 404,210 406,209 408,209 408,209 411,208 413,209 414,209 415,209 417,210 419,210 421,210 423,210 425,210 428,210 430,210 432,210 434,210 436,209 437,209 438,207 439,207 439,205 439,202 439,200 439,198 440,196 440,194 441,194 442,193 445,193 447,193 449,193 451,193 453,193 455,193 457,193 459,193 462,193 463,192 464,191 464,190 465,187 465,185 465,183 465,181 465,179 465,177 466,177 468,177 470,177 472,177 474,177 476,177 479,177 481,177 483,177 485,177 487,177 489,177 491,177 494,177 496,177 498,177 500,177 502,177 504,177 506,177 508,177 511,177 513,177 515,177 517,177 519,177 521,177 523,177 525,177 528,177 530,177 532,177 534,177 535,177 535,179 535,181 535,183 535,185 535,187 535,190 535,192 535,194 534,196 534,197 534,198 532,200 531,200 530,201 528,202 526,202 525,202 523,205 523,205 523,207 522,209 522,211 522,213 522,215 521,216 520,217 519,218 517,217 515,217 515,217 513,217 511,217 508,216 507,215 506,214 505,213 504,211 504,211 502,209 501,209 500,208 498,207 496,207 494,207 491,208 490,209 489,209 487,210 485,211 485,211 484,213 484,215 485,217 485,218 486,219 487,221 487,222 487,224 487,226 487,226 486,228 485,229 485,230 484,232 483,234 482,234 481,235 479,236 476,236 476,236 475,239 474,241 474,241 474,243 473,245 472,247 472,248 472,249 470,251 470,251 468,252 467,253 466,255 466,256 465,258 466,260 466,260 467,262 468,263 470,264 472,264 472,266 470,267 468,268 467,268 466,269 464,270 462,270 462,271 459,272 459,273 457,275 457,275 456,277 455,277 453,278 451,278 449,279 449,279 447,280 445,281 443,281 442,281 441,283 440,284 439,285 438,286 436,287 436,288 434,289 434,290 433,292 432,293 431,294 430,296 430,296 428,298 428,300 428,302 428,304 428,307 428,309 428,311 428,313 428,315 429,317 429,319 430,320 430,322 431,324 431,326 431,328 432,329 432,330 433,332 433,334 434,336 434,336 436,339 436,339 437,341 437,343 438,345 438,346 439,347 439,349 440,351 440,353 441,353 442,355 443,356 445,357 445,358 446,360 447,361 447,362 447,364 448,366 448,368 448,370 448,373 448,375 448,377 448,379 448,381 448,383 449,385 449,387 449,387 449,390 450,392 450,394 449,396 449,397 448,398 448,400 448,402 448,404 448,407 448,409 448,411 448,413 448,415 448,417 448,419 449,420 450,422 451,422 453,423 454,424 455,425 456,426 456,428 456,430 456,432 456,434 456,436 456,439 456,441 456,443 457,445 457,446 459,447 459,448 462,448 464,448 466,448 468,448 470,448 472,447 474,447 474,447 476,447 479,447 479,447 481,448 483,449 484,449 485,449 487,450 489,451 489,451 491,453 491,454 493,456 494,456 496,457 496,458 498,459 498,460 499,462 500,463 500,464 502,465 504,465 506,466 506,467 507,468 508,470 508,471 510,473 511,473 513,474 513,475 515,476 515,477 516,479 516,481 516,483 516,485 516,487 516,490 516,492 516,494 517,496 517,496 519,497 521,497 523,498 524,498 525,498 528,499 530,500 530,500 532,502 532,502 533,504 533,507 533,509 533,511 533,513 533,515 533,517 533,519 533,521 532,523 531,524 530,524 528,525 525,525 524,526 523,526 521,526 519,527 518,528 518,530 517,531 517,532 515,534 514,534 513,535 511,535 508,536 508,536 507,539 507,541 507,543 507,545 508,547 508,549 509,549 511,550 513,550 515,550 517,550 519,550 521,550 523,549 523,549 524,547 525,545 525,543 526,543 528,542 530,542 532,542 534,542 536,542 538,542 540,543 540,543 541,545 541,547 541,549 541,551 541,553 542,556 542,557 543,558 545,558 547,559 548,560 549,560 550,562 550,564 550,566 550,568 550,570 550,573 549,574 548,575 547,575 545,576 543,577 542,577 542,579 541,581 541,583 541,585 541,587 541,590 540,591 540,592 538,592 536,593 534,594 533,594 532,594 530,595 528,596 528,596 527,598 526,600 525,601 525,602 523,604 523,605 522,607 521,609 521,609 519,610 519,611 518,613 517,615 517,615 515,617 515,618 514,619 513,621 513,623 512,624 511,625 508,626 508,626 506,627 504,628 504,628 502,629 500,630 499,630 498,632 497,632 496,633 494,633 491,633 489,634 489,634 487,635 485,635 484,634 483,634 482,632 482,630 481,628 481,627 480,626 480,624 480,621 480,619 480,617 479,615 479,613 479,611 478,611 477,609 476,608 476,607 475,604 474,603 474,602 473,600 472,599 471,598 471,596 471,594 471,592 472,590 472,587 472,587 473,585 474,583 474,582 475,581 475,579 475,577 474,576 474,575 474,573 473,570 473,568 473,566 473,564 474,562 474,560 475,560 476,559 479,559 481,559 482,558 482,556 481,553 481,553 479,552 476,552 475,551 474,551 472,549 472,548 472,547 471,545 470,543 470,543 468,541 468,541 467,539 466,536 466,534 466,533 466,532 465,530 465,528 466,526 466,526 468,525 470,524 471,524 472,522 473,521 473,519 474,517 474,516 475,515 475,513 474,511 474,511 473,509 472,509 470,508 468,508 466,508 464,508 462,508 459,508 457,508 455,508 453,508 451,508 449,508 447,508 445,508 442,507 441,507 440,506 439,504 439,502 438,502 437,500 436,500 434,499 432,499 430,499 428,499 425,499 423,499 421,499 419,499 417,499 415,500 414,500 413,500 411,501 408,501 406,502 406,502 406,504 406,506 407,507 408,507 411,508 412,509 413,509 413,511 413,513 413,514 412,515 411,516 408,516 406,516 404,516 402,516 400,516 398,517 398,518 397,519 397,521 397,524 397,526 397,528 397,530 397,532 397,534 397,536 397,539 397,541 397,543 396,545 396,546 394,547 394,547 392,547 391,547 390,545 390,543 389,542 389,541 388,539 388,536 387,535 387,534 385,533 383,533 381,533 379,533 376,532 374,532 373,532 372,532 370,531 368,531 366,531 364,531 363,532 362,533 361,534 360,536 360,539 359,540 359,541 357,542 355,542 353,542 351,542 349,542 347,543 347,543 346,545 345,547 345,548 343,549 342,550 340,550 338,550 336,550 334,550 332,550 330,549 330,549 329,547 328,545 328,543 327,543 325,542 323,542 321,542 319,542 317,542 315,542 313,543 313,543 312,545 311,547 311,549 310,549 308,550 306,550 304,550 302,550 300,550 298,551 296,551 296,552 295,553 294,556 294,557 293,558 291,558 289,559 287,559 285,559 283,559 281,559 279,559 277,559 274,559 272,559 271,560 270,560 269,562 269,564 268,566 267,566 266,567 264,567 262,567 259,567 257,567 255,567 253,567 251,567 249,567 247,567 245,567 242,567 240,567 238,567 236,567 234,567 232,567 230,567 228,567 225,567 223,567 221,567 219,567 217,567 215,567 213,567 211,567 208,567 206,567 204,567 203,566 202,566 201,564 201,562 200,560 199,560 198,559 196,559 194,559 191,559 189,559 187,559 185,559 183,559 181,559 179,558 177,558 177,557 176,556 175,553 174,552 174,551 172,551 170,550 168,550 166,550 164,550 162,550 160,550 157,550 155,550 153,550 152,549 151,549 150,547 150,545 149,543 148,543 147,542 145,541 143,541 142,540 142,539 141,536 140,535 140,534 138,533 136,533 134,533 132,533 130,533 128,533 125,533 123,533 121,533 119,533 117,533 117,532 117,530 117,528 117,526 117,524 117,521 117,519 117,517 117,515 117,513 117,511 117,509 117,507 117,504 117,502 117,500 117,498 117,496 117,494 117,492 117,490 117,487 117,485 117,483 117,481 117,479 117,477 117,475 117,473 117,470 117,468 117,466 117,464 117,462 117,460 117,458 117,456 117,453 117,451 117,449 117,447 117,445 117,443 117,441 117,439 117,436 117,434 117,432 117,430 117,428 117,426 117,424 117,422 117,419 117,417 117,415 117,413 117,411 117,409 117,407 117,406 119,406 121,406 123,406 125,406 128,406 130,406 132,406 134,406 136,406 138,406 140,406 142,406 145,406 147,406 148,407 149,407 150,409 150,411 150,413 150,415 150,417 150,419 151,421 152,422 153,422 155,423 157,424 157,424 158,426 159,428 160,429 160,430 162,431 164,431 166,431 168,431 170,431 172,431 174,432 174,433 175,434 175,436 175,439 175,441 175,443 175,445 174,446 174,447 172,448 170,448 169,449 168,450 167,451 167,453 166,455 165,456 164,456 162,457 160,458 160,458 159,460 158,462 158,464 158,466 158,468 159,470 160,472 160,473 162,473 164,474 165,475 166,475 167,477 167,479 168,480 169,481 170,482 172,482 174,482 177,482 179,482 181,482 182,483 183,484 184,485 184,487 185,489 186,490 187,490 189,491 191,492 191,492 192,494 193,496 194,497 194,498 196,499 198,499 200,499 202,499 204,499 206,499 208,500 208,501 209,502 210,504 211,506 211,507 213,507 215,508 217,508 219,508 221,508 223,508 225,508 228,508 230,508 232,508 234,508 236,508 238,508 240,508 242,508 245,508 247,508 249,508 251,508 253,508 255,508 257,507 259,507 259,506 260,504 261,502 262,501 262,500 264,499 266,499 267,498 268,497 269,496 269,494 270,492 271,492 272,491 274,490 276,490 277,489 277,487 278,485 279,484 279,483 281,482 283,482 284,481 285,480 286,479 286,477 287,475 288,475 289,474 291,473 293,473 294,472 294,470 295,468 295,466 295,464 295,462 295,460 295,458 295,456 295,453 294,451 294,450 293,449 291,448 289,448 288,449 287,450 286,451 286,453 285,455 284,456 283,456 281,457 279,457 277,457 274,457 272,457 271,458 270,458 269,460 269,462 268,463 267,464 266,465 264,465 262,464 262,463 261,462 260,460 259,458 259,458 257,457 255,456 254,456 253,455 252,453 252,451 252,449 252,447 252,445 252,443 251,441 250,441 249,440 247,439 245,439 245,438 244,436 243,434 242,433 241,432 240,432 238,431 237,430 236,429 235,428 235,426 234,424 233,424 232,423 230,422 228,422 228,421 227,419 227,417 227,415 227,413 226,411 226,409 225,407 225,407 223,406 221,405 220,404 219,404 218,402 218,400 217,399 216,398 215,397 213,397 211,396 211,395 210,394 209,392 208,390 208,390 206,389 204,389 203,390 202,390 201,392 201,394 200,395 199,396 198,397 196,397 194,397 192,398 193,400 193,402 194,404 194,404 196,405 198,406 200,406 202,406 204,406 206,406 208,407 208,407 209,409 209,411 209,413 209,415 209,417 209,419 208,421 208,422 206,422 204,423 202,423 200,423 198,423 196,422 194,422 194,421 193,419 192,417 191,416 191,415 189,414 187,414 185,414 183,414 181,414 179,414 177,414 174,414 172,414 170,414 169,413 168,412 167,411 167,409 167,407 167,404 167,402 167,400 168,399 169,398 170,397 172,397 174,397 177,397 179,397 181,397 183,397 185,397 187,397 189,397 191,397 192,396 192,394 192,392 192,390 192,387 192,385 192,383 192,381 192,379 192,377 192,375 192,373 192,370 192,368 192,366 191,366 190,364 189,364 187,362 187,362 186,360 185,358 185,357 184,356 183,353 183,352 183,351 182,349 182,347 182,345 182,343 182,341 182,339 182,336 182,334 181,332 181,331 180,330 179,328 179,326 179,326 178,324 178,322 178,319 178,317 178,315 177,313 176,313 174,311 174,311 172,310 170,309 169,309 168,308 167,307 166,305 165,304 164,304 162,303 160,303 157,303 155,303 153,303 152,302 151,302 150,300 149,298 149,297 148,296 147,295 145,295 143,294 142,293 142,292 140,290 139,290 138,289 136,289 134,289 132,289 130,288 128,288 125,288 123,288 121,288 119,288 117,288 117,287 117,285 117,283 117,281 117,279 117,277 117,275 117,273 117,270 117,268 117,266 117,264 117,262 117,260 117,258 117,256 117,253 117,251 117,249 117,247 117,245 117,243 117,241 117,239 117,236 117,234 117,232 117,230 117,228 117,226 117,224 117,222 117,219 117,217 117,215 117,213 117,211 117,209 117,207 117,205 117,202 117,200 117,198 117,196 117,194 117,193 119,193 121,193 123,193 125,193 128,193 130,193 132,193 134,193 136,193 138,193 140,193 142,193 145,193 147,193 149,193 151,193 153,193 155,193 157,193 160,193 162,193 164,193 165,194 166,194 168,195 170,195 172,196 174,196 174,197 176,198 177,200 177,200 179,201 181,201 183,201 184,200 185,200 187,200 189,199 191,198 191,198 193,196 194,195 195,194 196,193 198,193 200,192 201,192 202,191 204,191 206,191 208,190 208,190 209,187 209,185 209,183 209,181 209,179ZM494,194 493,194 492,196 492,198 493,200 494,200 496,201 497,200 498,200 498,198 498,196 498,195 497,194 496,193ZM483,559 482,560 482,562 482,564 483,566 484,566 485,567 487,567 489,566 489,565 490,564 490,562 489,560 489,560 487,559 485,559ZM494,576 492,577 491,578 491,579 491,581 491,582 493,583 494,584 495,583 496,583 496,581 496,579 496,578 495,577ZM630,177 630,177 632,177 634,177 636,177 638,177 640,177 642,177 645,177 647,177 649,177 651,177 653,177 655,177 657,177 659,177 662,177 664,177 666,177 668,177 670,177 672,177 674,177 676,177 679,177 681,177 683,177 685,177 687,177 689,177 691,177 693,177 696,177 698,177 700,177 702,177 704,177 706,177 708,177 710,177 713,177 715,177 717,177 719,177 721,177 723,177 725,177 728,177 730,177 732,177 734,177 736,177 737,177 737,179 737,181 737,183 737,185 737,187 737,190 736,190 735,192 734,192 732,194 732,194 731,196 731,198 731,200 731,202 731,205 731,207 731,209 730,211 730,212 729,213 728,215 728,217 727,217 725,218 723,218 722,217 721,217 720,215 719,214 717,213 717,213 715,213 713,211 712,211 711,209 711,207 711,205 711,202 712,200 712,198 712,196 712,194 710,192 710,192 708,190 706,190 704,190 702,190 700,190 698,190 696,191 695,192 693,192 691,193 689,194 689,194 687,196 687,196 686,198 686,200 685,202 685,203 685,205 684,207 683,209 683,209 681,211 680,211 680,213 679,215 680,217 680,219 680,222 680,224 681,225 681,226 683,228 683,229 683,230 683,232 683,232 681,234 681,235 679,236 679,236 677,239 676,239 675,241 674,242 672,242 670,243 669,243 668,243 666,244 664,244 662,245 662,245 661,247 659,248 658,249 657,249 655,249 655,249 653,248 652,247 651,245 650,245 649,244 647,244 645,243 645,242 644,241 645,239 645,239 647,238 649,238 651,238 653,238 655,238 657,238 659,236 659,236 660,234 660,232 660,230 659,228 659,228 657,227 655,226 653,226 653,226 651,225 649,225 647,224 645,225 642,226 642,226 640,226 639,226 638,225 638,224 638,222 638,219 638,219 640,218 642,217 642,217 643,215 644,213 645,211 645,211 647,210 649,209 649,209 650,207 649,205 649,204 647,203 645,203 644,202 642,202 640,202 638,202 637,202 636,203 635,205 635,207 634,208 633,209 632,209 630,209 629,209 628,207 627,207 627,205 628,204 629,202 629,200 629,198 630,196 630,194 630,192 630,190 630,187 630,185 630,183 630,181 630,179ZM798,177 800,177 802,177 804,177 806,177 808,177 810,177 813,177 814,177 814,179 814,181 814,183 814,185 814,187 813,190 813,191 812,192 810,193 808,193 806,193 804,193 802,193 800,192 800,192 799,190 798,187 798,185 798,183 798,181 798,179ZM598,194 598,194 598,194 599,196 598,198 598,199 596,198 595,198 595,196 596,195ZM834,194 836,193 838,193 840,193 842,193 845,193 847,193 847,194 847,196 847,198 847,200 847,202 847,205 847,207 847,209 847,211 847,213 847,215 847,217 847,219 847,222 847,224 847,226 847,228 847,230 847,232 847,234 847,236 847,239 847,241 847,242 845,242 842,242 840,242 838,242 836,242 834,243 834,243 832,244 830,245 830,245 827,246 825,247 825,247 824,249 823,250 822,251 821,252 819,253 819,254 817,255 816,256 815,258 815,258 814,260 813,261 811,262 810,262 808,264 808,264 808,266 807,268 806,270 806,271 806,273 805,275 804,276 804,277 802,278 800,279 800,279 798,281 798,281 797,283 796,285 795,285 793,286 791,287 789,287 788,287 787,288 785,288 783,288 781,289 780,290 779,292 779,293 777,294 776,294 774,295 772,295 770,295 768,295 766,295 764,296 764,297 763,298 762,300 762,301 760,302 759,303 757,304 755,304 754,304 753,305 751,305 749,305 747,305 746,304 745,304 742,304 740,303 739,302 738,302 737,300 737,298 738,297 739,296 740,295 742,295 745,294 746,294 747,294 749,293 751,293 753,292 754,292 755,290 755,289 757,287 757,287 759,286 762,286 764,286 766,286 768,286 769,285 770,285 771,283 771,281 770,280 770,279 769,277 769,275 768,273 768,271 768,270 766,269 765,268 764,267 763,266 762,264 762,262 762,261 761,260 761,258 762,257 762,256 764,254 766,253 766,253 768,253 770,253 772,252 772,251 773,249 774,247 773,245 773,243 773,241 773,239 772,236 772,236 772,234 771,232 771,230 771,228 771,226 771,224 772,222 773,222 774,221 776,221 779,220 781,220 781,219 783,219 785,218 787,217 787,217 788,215 789,213 789,213 791,212 793,212 796,211 796,211 798,211 800,210 802,210 803,211 804,211 805,213 806,215 806,215 808,216 810,216 812,215 813,215 814,213 815,211 815,211 817,210 819,209 820,209 821,207 822,207 823,205 823,204 825,203 827,203 828,202 830,201 831,200 832,198 832,198 833,196 834,194ZM714,228 715,227 717,227 719,227 721,227 723,227 725,227 727,228 728,229 728,230 728,232 728,233 726,234 725,235 723,236 722,236 721,237 720,239 720,241 719,241 718,243 717,243 715,243 713,243 713,242 712,241 712,239 712,236 712,234 712,232 712,230 713,229ZM606,253 606,253 606,253 608,255 609,256 609,258 608,259 608,260 606,260 604,260 604,260 603,258 603,256 604,254ZM577,260 579,259 581,259 583,259 585,260 585,260 587,260 589,260 591,261 593,262 593,263 595,264 595,266 596,267 596,268 598,270 598,271 598,273 598,275 598,276 598,277 597,279 596,281 596,281 595,283 595,285 594,287 593,289 593,290 593,292 592,294 592,296 593,298 593,300 593,301 596,301 598,301 600,301 600,300 601,298 602,297 603,296 604,295 606,295 608,295 611,295 613,295 615,295 617,295 619,295 621,295 623,295 625,295 628,295 630,295 632,295 634,295 636,295 638,295 640,295 642,294 642,293 643,292 644,290 645,289 647,288 649,288 650,287 651,287 653,287 655,286 657,286 659,286 662,286 664,286 666,286 668,286 669,285 670,285 672,285 674,285 676,285 677,285 679,286 681,286 683,287 684,287 685,288 686,290 687,291 688,292 689,292 691,293 693,294 693,294 695,296 696,296 697,298 697,300 698,302 698,302 700,303 702,304 702,305 703,307 703,309 703,311 703,313 703,315 703,317 702,318 701,319 700,320 698,320 696,320 693,320 691,321 689,321 688,322 687,323 686,324 685,326 685,326 683,326 681,327 679,327 678,328 676,329 676,330 675,332 675,334 674,335 672,335 672,334 671,332 670,331 670,330 668,328 667,328 666,327 664,327 662,328 661,328 659,328 657,329 655,329 654,328 653,327 652,326 652,324 652,322 652,319 652,317 652,315 652,313 652,311 652,309 651,307 651,306 649,304 649,304 647,303 645,303 643,302 642,302 640,302 638,302 636,302 634,302 632,302 630,302 628,302 625,302 623,302 621,302 619,302 618,302 617,303 615,303 613,304 611,304 611,305 610,307 609,309 608,310 607,311 606,311 604,312 602,313 601,313 600,313 598,314 596,314 593,315 593,315 592,317 591,319 591,319 589,320 587,321 586,322 585,322 584,324 584,326 584,328 584,330 584,332 584,334 583,336 582,336 581,337 579,338 577,339 576,339 574,340 572,340 570,340 568,339 566,339 564,339 563,339 562,338 559,338 558,336 557,336 556,334 555,332 556,330 557,328 557,328 559,326 559,325 560,324 561,322 562,321 564,320 565,319 566,318 566,317 566,317 564,316 562,315 559,315 557,315 555,315 554,315 553,315 551,315 549,315 547,314 545,313 543,313 542,313 541,311 540,310 540,309 540,307 539,304 539,302 539,300 539,298 539,296 540,294 540,293 541,292 542,290 542,288 543,287 545,287 547,287 548,287 549,288 550,290 551,291 553,292 553,292 555,292 557,293 558,294 559,295 561,296 562,296 564,297 566,298 567,298 568,300 568,300 570,302 571,302 572,303 574,302 574,302 575,300 574,299 574,298 572,297 570,297 569,296 568,295 568,294 568,292 567,290 567,287 566,285 566,285 565,283 564,281 564,280 563,279 562,278 560,277 559,276 559,275 558,273 558,270 558,268 559,266 559,265 560,264 562,264 564,263 566,262 567,262 568,262 570,261 572,261 574,261 576,260ZM628,264 628,264 630,262 632,263 632,264 632,266 632,266 630,267 628,266 628,266ZM747,270 749,270 751,270 751,270 752,273 752,275 751,276 749,276 747,275 746,275 746,273 747,271ZM831,279 832,279 834,278 836,278 838,278 840,278 842,278 845,278 847,278 847,279 847,281 847,283 847,285 847,287 847,290 847,292 847,294 847,296 847,298 847,300 847,302 847,304 847,307 847,309 847,311 847,313 847,315 847,317 847,319 845,319 842,319 840,319 838,319 836,319 834,319 832,319 830,319 827,319 825,318 823,317 823,317 822,315 821,314 821,313 819,312 817,312 815,311 815,310 814,309 814,307 814,304 814,302 814,300 814,298 814,296 814,294 814,292 814,290 815,288 815,287 817,287 819,286 821,285 821,285 822,283 823,281 823,281 825,280 827,280 830,279ZM117,304 117,303 119,303 121,303 123,303 125,303 128,303 130,304 131,304 132,305 133,307 133,309 133,311 133,313 133,315 132,317 132,317 130,318 128,319 125,319 123,319 121,319 119,319 117,319 117,317 117,315 117,313 117,311 117,309 117,307ZM483,324 485,323 487,323 489,324 489,324 491,325 492,326 494,326 496,327 498,328 498,328 500,329 502,330 502,330 504,331 506,332 507,332 508,334 509,334 511,335 513,336 514,336 515,337 517,339 517,339 518,341 519,343 519,343 521,343 523,345 523,345 524,347 525,349 525,351 525,353 524,356 524,358 524,360 523,361 523,362 521,363 519,364 519,364 517,366 516,366 515,368 515,369 513,369 511,370 508,370 506,369 504,369 503,368 502,368 501,366 500,365 499,364 498,362 497,362 496,361 494,360 494,360 492,358 491,358 489,356 487,356 487,355 485,355 483,354 483,353 482,351 481,349 481,347 481,346 480,345 480,343 480,341 480,339 479,336 479,334 479,332 479,330 480,328 481,327 481,326 483,324ZM603,330 604,329 606,329 608,330 608,331 609,332 609,334 609,336 609,339 609,341 609,343 608,344 608,345 606,346 604,345 603,345 602,344 601,343 601,341 601,339 601,336 601,334 601,332 602,331ZM637,330 638,329 640,329 642,330 642,331 643,332 643,334 642,336 642,336 640,337 638,337 637,336 636,336 635,334 635,332 636,331ZM577,356 579,355 581,355 583,354 585,354 587,355 589,355 589,356 590,358 591,360 591,361 592,362 593,364 594,364 596,365 598,365 600,366 600,366 602,368 602,368 604,369 606,369 608,370 608,371 610,373 611,373 612,375 612,377 611,379 611,380 609,381 608,382 606,382 604,382 602,382 600,381 599,381 598,380 596,380 594,379 593,378 593,377 592,375 591,373 591,373 589,372 587,371 586,370 585,370 584,368 584,366 583,365 582,364 581,363 579,363 577,362 576,361 576,360 576,358 576,356ZM561,398 562,398 564,397 565,398 566,399 566,400 566,402 565,402 564,403 562,402 561,402 561,400ZM490,402 491,401 494,400 496,401 496,402 498,404 498,405 499,407 500,408 500,409 501,411 500,413 500,413 498,415 497,415 496,416 494,416 493,415 491,414 490,413 489,411 489,411 488,409 488,407 489,404 489,404ZM527,449 528,449 530,449 530,449 532,451 532,451 533,453 533,456 532,457 530,457 528,456 526,456 525,455 525,453 525,451 525,451ZM533,458 534,457 536,457 538,457 539,458 540,459 541,460 540,460 539,462 538,462 536,462 536,462 534,461 533,460ZM833,468 834,468 836,467 838,467 840,467 842,467 845,467 847,467 847,468 847,470 847,473 847,475 847,477 847,479 847,481 847,482 845,482 842,482 840,482 838,482 836,482 834,482 832,481 832,480 831,479 831,477 831,475 832,473 832,473 832,470ZM554,475 555,474 557,474 559,474 562,474 564,475 564,475 565,477 565,479 564,481 564,482 562,482 559,481 558,481 557,481 555,480 553,479 553,479 553,477 553,476ZM567,485 568,485 570,484 572,485 572,485 573,487 572,489 571,490 570,490 570,490 568,488 568,487ZM831,498 832,498 834,498 836,497 838,497 840,497 842,497 845,497 847,497 847,498 847,500 847,502 847,504 847,507 847,509 847,511 847,513 847,515 847,517 847,519 847,521 847,524 847,525 845,525 842,525 840,525 838,525 836,525 834,524 832,524 830,524 830,523 827,523 825,523 823,523 821,523 819,523 817,523 815,522 815,521 814,519 814,517 814,515 814,513 814,511 815,509 815,509 817,508 819,507 820,507 821,505 822,504 822,502 823,501 824,500 825,499 827,499 830,498ZM417,551 419,551 420,551 421,552 422,553 421,554 420,556 419,556 419,556 417,554 417,553 417,552ZM338,630 338,630 340,629 342,629 344,630 345,631 345,632 345,634 345,635 344,636 344,638 344,641 345,642 345,643 347,645 348,645 349,645 351,646 353,646 355,646 357,646 359,647 359,647 360,649 360,651 361,653 362,655 362,656 363,658 363,660 363,662 363,664 363,666 363,668 363,670 363,673 363,675 364,676 364,677 366,678 368,678 370,679 371,679 372,679 374,680 376,681 377,681 377,683 378,685 379,686 380,687 381,688 383,689 385,689 387,689 389,689 391,689 393,690 394,690 394,692 395,694 396,694 398,695 400,696 402,696 403,696 404,696 406,697 408,698 410,698 411,698 412,700 413,701 415,702 415,702 417,703 419,703 421,704 421,704 422,707 422,709 422,711 421,713 421,713 419,715 417,715 417,715 415,716 414,717 413,719 412,719 411,720 408,720 406,720 404,720 402,720 400,720 398,720 396,720 394,720 391,721 391,721 390,724 391,726 391,727 392,728 394,729 395,730 396,731 396,732 397,734 397,736 398,738 398,738 398,741 399,743 399,745 399,747 400,749 400,751 400,752 401,753 402,755 404,756 404,756 405,758 406,759 406,760 408,762 409,762 411,763 413,763 415,763 417,763 419,763 421,764 422,764 423,764 425,765 428,764 428,764 430,763 431,762 432,760 432,760 433,758 434,756 434,755 436,754 438,754 439,753 440,753 442,753 443,753 445,754 445,756 446,758 446,760 446,762 445,764 445,766 445,768 445,768 443,770 442,772 441,773 440,774 440,775 439,777 438,778 437,779 436,779 434,780 432,781 432,782 431,783 431,785 431,787 431,790 431,792 431,794 431,796 431,798 431,800 431,802 432,804 432,804 434,805 436,805 438,804 438,804 439,802 440,800 440,799 441,798 442,797 445,798 445,798 447,800 447,800 448,802 449,803 451,804 453,804 453,805 455,807 455,807 456,809 457,811 457,811 459,812 462,812 462,813 464,814 464,815 465,817 465,819 465,821 465,824 466,826 465,828 464,830 464,830 462,831 459,832 458,832 457,832 455,834 455,834 453,836 453,838 452,838 451,841 451,841 450,843 450,845 449,847 449,847 448,849 447,851 447,853 447,855 447,855 446,858 445,860 445,862 445,863 444,864 442,865 440,866 439,866 438,866 436,867 434,867 432,866 431,866 430,866 428,865 425,865 425,864 423,863 423,862 422,860 421,859 419,858 419,857 417,856 415,855 415,855 414,853 413,851 413,850 412,849 411,848 408,849 408,849 406,851 406,851 405,853 405,855 405,858 405,860 405,862 404,863 403,864 402,865 400,865 398,866 398,867 397,868 397,870 398,871 400,872 402,872 402,873 404,874 405,875 406,877 406,877 407,879 408,881 408,882 411,883 411,883 413,885 413,885 414,887 414,890 413,891 411,890 408,890 407,890 406,889 404,889 402,888 400,888 398,887 398,887 396,885 396,884 394,883 394,882 391,881 391,881 389,879 389,879 388,877 387,875 386,875 385,874 383,874 381,875 381,875 380,877 379,879 379,879 376,880 374,880 374,879 373,877 373,875 372,874 372,873 371,870 371,868 371,866 372,865 374,865 376,865 378,864 379,863 379,862 380,860 381,858 381,858 383,857 385,857 387,857 389,857 391,857 394,856 395,855 396,855 396,853 396,852 395,851 394,850 391,850 390,849 389,849 387,847 387,846 387,845 387,843 387,842 388,841 389,838 389,837 390,836 390,834 391,832 392,832 394,831 396,830 397,830 398,830 400,829 402,829 404,830 405,830 406,830 408,831 411,831 413,831 415,831 417,831 419,831 421,830 421,830 423,829 425,829 428,829 430,829 432,829 434,829 436,828 436,828 436,826 436,824 436,821 436,819 436,817 436,816 435,815 434,814 432,814 430,814 428,814 425,814 424,813 423,812 422,811 422,809 421,807 421,807 419,806 417,806 415,806 413,805 411,805 408,805 407,804 406,804 405,802 404,800 404,800 402,798 402,798 400,797 398,798 398,799 397,800 397,802 397,804 397,807 397,809 397,811 397,813 397,815 397,817 396,819 396,821 395,821 394,822 391,822 391,821 389,819 389,819 388,817 387,816 387,815 385,814 383,814 381,813 381,812 380,811 380,809 380,807 380,804 380,802 380,800 381,799 381,798 383,797 385,797 387,796 387,795 388,794 388,792 387,791 386,790 386,787 385,785 385,783 385,781 385,779 385,779 385,777 385,775 385,773 385,772 385,770 385,768 385,766 385,765 385,764 383,762 383,762 382,760 381,758 381,757 380,756 379,753 379,752 378,751 378,749 377,747 377,745 376,743 376,743 376,741 374,739 373,738 372,737 371,736 371,734 370,732 370,732 369,730 369,728 368,726 368,724 368,721 368,719 368,717 368,715 368,715 367,713 366,712 365,711 364,709 363,709 363,707 363,704 363,702 363,700 363,698 363,696 363,694 363,692 362,690 362,688 361,687 359,687 357,686 356,685 355,685 354,683 354,681 353,680 352,679 351,678 349,678 347,677 347,676 346,675 345,673 345,671 344,670 342,670 340,669 339,668 338,668 337,666 337,664 336,662 336,662 334,661 332,660 331,660 330,658 329,658 329,656 330,654 330,653 332,653 334,652 335,651 336,651 337,649 337,647 337,645 337,643 337,641 337,638 337,636 337,634 337,632ZM295,730 296,729 298,729 300,729 302,729 304,730 305,730 306,730 308,731 309,732 310,734 311,736 311,736 313,738 313,738 315,739 317,740 318,741 319,743 319,743 320,745 321,747 321,748 322,749 323,751 323,751 325,752 328,753 328,753 330,754 332,755 334,755 334,756 336,757 336,758 337,760 338,761 339,762 340,763 342,763 345,764 345,764 346,766 347,768 347,769 348,770 349,772 350,773 351,773 353,774 353,775 355,777 355,777 357,777 359,778 362,779 362,779 364,780 366,781 366,781 368,782 369,783 369,785 370,787 370,788 370,790 371,792 371,794 371,796 371,798 371,800 371,802 370,804 370,804 368,805 366,806 364,807 364,807 363,809 362,811 362,813 362,814 361,815 361,817 361,819 361,821 362,822 362,824 362,826 362,828 362,829 361,830 359,831 357,831 355,831 353,831 351,831 349,830 348,830 347,829 346,828 345,826 345,825 343,824 342,823 340,821 340,821 339,819 339,817 340,815 340,815 342,814 343,813 345,812 345,811 346,809 346,807 347,805 347,804 347,802 347,800 347,800 346,798 345,797 342,797 340,797 338,796 337,796 336,794 336,794 335,792 334,790 334,789 332,788 332,787 330,785 330,784 329,783 328,782 327,781 325,780 323,780 322,779 321,778 320,777 320,775 319,773 319,773 318,770 317,768 317,766 317,766 316,764 315,762 315,761 314,760 314,758 313,756 313,755 312,753 311,751 311,751 310,749 309,747 308,746 306,745 306,745 304,743 304,743 303,741 302,740 300,739 299,738 298,738 296,737 295,736 294,734 294,733 293,732 294,732ZM715,736 715,736 717,736 719,736 720,736 721,737 723,737 725,738 725,738 726,741 726,743 725,743 723,744 723,745 721,745 719,746 717,747 717,747 715,747 714,747 713,747 711,745 710,744 710,743 710,741 710,740 712,738 713,737ZM644,792 645,791 647,790 649,790 651,792 651,792 651,794 652,796 652,798 652,800 652,802 651,804 651,805 649,807 649,807 647,808 645,809 645,809 644,811 643,813 643,815 643,817 643,819 642,821 642,821 640,822 638,822 637,821 636,821 635,819 635,817 636,815 636,814 636,813 637,811 637,809 637,807 637,804 637,802 638,800 638,800 640,798 640,798 642,796 642,796 643,794ZM603,819 604,818 606,818 608,819 609,819 608,820 608,821 606,822 604,822 604,821ZM308,826 308,826 309,826 309,828 308,830 306,829 306,828 306,826ZM584,847 585,846 587,846 589,846 591,846 592,847 593,848 594,849 595,851 595,853 595,855 594,858 593,858 593,860 592,862 591,862 589,863 587,863 586,862 585,860 585,860 584,858 583,856 583,855 582,853 582,851 582,849 583,848ZM366,858 368,857 369,858 370,858 371,860 371,862 371,864 370,865 368,865 367,864 366,863 365,862 365,860 366,858ZM763,858 764,857 766,857 768,857 770,858 770,858 772,860 772,861 773,862 772,864 772,865 772,866 771,868 770,870 770,871 768,873 768,873 766,873 764,873 764,872 763,870 762,868 762,866 762,865 761,864 761,862 762,860 762,860ZM439,890 440,889 442,889 445,889 445,890 447,891 448,892 449,894 449,894 449,896 449,898 449,900 449,902 449,904 449,907 449,907 447,907 445,907 442,907 440,907 438,907 436,907 434,907 432,907 430,907 428,907 425,907 423,907 421,907 419,907 417,907 415,907 414,907 414,904 414,902 414,900 414,898 414,896 414,894 414,892 415,891 417,891 419,891 421,891 423,891 425,891 428,891 430,891 432,891 434,891 436,890 438,890Z"/>
<path fill="#72c24c" d="M235,177 236,177 238,177 240,177 242,177 245,177 247,177 249,177 251,177 252,177 252,179 252,181 252,183 252,185 252,187 253,189 253,190 255,191 257,191 259,191 260,192 262,192 264,193 266,192 267,192 268,191 269,190 269,187 269,185 269,183 269,181 269,179 269,177 270,177 272,177 274,177 277,177 279,177 281,177 283,177 285,177 287,177 289,177 291,177 294,177 295,177 295,179 295,181 295,183 295,185 295,187 295,190 295,192 295,194 295,196 295,198 296,199 297,200 298,201 300,201 302,201 304,201 306,201 308,201 311,201 313,201 315,201 317,201 319,201 321,201 323,201 325,202 327,202 328,203 328,205 329,207 330,207 331,209 332,209 334,210 336,211 336,211 337,213 338,215 338,215 340,216 342,217 345,217 345,217 347,218 349,218 351,219 352,219 353,221 354,222 355,224 355,224 357,226 357,226 359,227 362,227 364,227 366,227 368,227 370,227 372,227 374,227 376,227 379,227 381,227 383,227 385,227 387,228 387,229 388,230 388,232 388,234 388,236 388,239 388,241 388,243 389,244 391,244 394,243 394,243 396,241 396,241 397,239 398,237 398,236 400,236 402,235 403,234 404,233 405,232 405,230 406,228 407,228 408,227 411,226 411,226 413,224 413,224 414,222 414,219 415,218 417,218 419,218 421,218 423,218 425,218 428,218 430,218 432,218 434,218 436,218 437,217 438,216 439,215 440,213 440,212 442,211 442,210 445,210 446,209 447,208 448,207 448,205 449,203 449,202 451,202 453,201 455,201 457,201 459,201 462,201 464,201 466,201 468,201 470,201 471,200 472,199 473,198 474,196 474,194 475,194 476,193 479,193 481,193 483,193 485,193 487,193 487,194 488,196 489,198 489,200 489,201 490,202 490,205 489,205 488,207 487,207 485,208 484,209 483,211 483,212 483,213 483,215 483,216 483,217 484,219 485,222 485,224 484,226 483,228 483,229 483,230 482,232 481,234 480,234 479,235 476,235 475,236 474,237 474,239 474,241 473,243 472,245 472,245 471,247 470,249 470,249 468,250 467,251 466,253 465,253 465,256 464,258 464,260 464,262 464,264 464,266 464,266 462,267 460,268 459,269 457,270 457,270 455,273 455,273 454,275 453,275 451,276 450,277 449,277 447,278 445,279 445,279 442,279 440,280 439,281 438,282 437,283 436,284 434,285 434,285 432,287 432,288 431,290 430,292 430,293 429,294 428,296 427,296 425,298 425,298 425,300 425,302 425,304 425,307 425,309 425,311 425,313 425,315 425,317 425,319 426,319 427,322 428,322 428,324 429,326 429,328 430,329 430,330 431,332 431,334 431,336 432,338 432,339 433,341 433,343 434,345 434,345 436,347 436,348 437,349 437,351 438,353 439,353 440,356 440,356 441,358 442,360 442,362 443,362 444,364 445,364 445,366 445,368 446,370 446,373 446,375 447,377 447,379 447,379 447,381 447,383 447,385 447,387 447,390 448,392 448,394 447,396 447,397 446,398 446,400 445,402 445,404 445,407 445,409 445,411 445,413 444,413 442,414 442,415 440,417 440,417 440,419 440,421 441,422 442,422 445,423 445,424 447,425 447,426 448,428 448,430 448,432 448,434 447,436 447,438 446,439 445,439 442,440 440,440 438,440 436,440 434,440 432,441 432,441 431,443 431,445 432,446 432,447 434,448 436,448 438,448 440,448 442,448 445,448 447,448 449,448 451,448 453,449 454,449 455,450 456,451 457,453 457,454 459,456 459,456 462,457 464,457 466,457 468,457 470,456 472,456 472,455 473,453 474,451 474,451 476,450 479,450 481,451 481,451 482,453 483,455 483,456 485,456 487,457 488,458 489,459 490,460 490,462 490,464 490,466 490,468 491,470 491,471 494,472 496,472 498,472 499,473 500,473 502,473 504,474 505,475 506,476 507,477 507,479 507,481 507,483 507,485 508,487 508,490 508,491 509,492 509,494 510,496 511,496 513,497 515,498 515,498 517,499 519,500 519,500 521,501 523,502 524,502 524,504 525,507 525,508 526,509 526,511 526,513 526,515 525,516 525,517 524,519 524,521 523,522 521,523 520,524 519,524 517,526 517,526 515,528 515,528 514,530 513,531 511,531 508,531 508,530 506,528 506,528 504,527 502,526 501,526 500,525 498,524 498,523 497,521 496,519 496,519 494,519 491,518 490,517 489,516 489,515 488,513 488,511 488,509 488,507 487,504 487,502 488,500 488,498 488,496 488,494 488,492 489,490 489,489 490,487 490,485 489,485 488,483 487,483 485,483 485,483 484,485 483,487 483,490 483,490 483,492 482,494 482,496 482,498 482,500 482,502 482,504 481,506 480,507 479,507 476,507 475,507 474,506 472,506 470,505 468,505 466,504 466,504 464,502 464,501 462,500 462,500 459,499 457,499 455,499 453,499 451,499 449,499 447,499 445,499 442,499 442,498 440,497 440,496 439,494 438,493 437,492 436,491 434,491 432,491 430,491 428,491 425,491 423,491 421,491 419,491 417,491 415,492 415,492 414,494 413,496 413,496 411,497 408,497 406,498 405,498 404,498 402,499 400,499 398,499 396,499 394,499 393,500 391,502 391,502 391,504 391,507 391,509 391,511 391,513 391,515 390,517 389,519 389,519 388,521 387,523 387,524 385,525 383,526 383,526 381,528 380,528 379,530 378,530 376,530 374,530 374,530 372,529 371,528 370,527 369,526 369,524 368,521 368,519 368,517 368,515 368,513 368,512 368,511 366,509 365,511 364,513 364,515 364,516 363,517 363,519 362,521 362,523 361,524 359,524 357,525 355,525 353,525 351,525 349,525 347,525 345,525 342,525 340,524 339,524 338,523 337,521 336,519 336,519 334,517 334,517 332,517 330,517 330,518 329,519 328,521 328,523 327,524 325,524 323,524 322,524 321,523 320,521 320,519 320,517 320,515 320,513 320,511 321,509 322,509 323,508 325,507 327,507 328,506 328,504 329,502 330,501 330,500 332,499 334,498 334,498 336,496 336,496 336,495 336,494 334,493 332,492 330,492 330,491 328,490 328,489 327,487 326,485 325,485 323,484 322,483 321,483 319,481 319,480 319,479 318,477 318,475 318,473 318,470 318,468 317,466 317,466 315,465 313,464 313,463 312,462 312,460 312,458 312,456 312,453 312,451 312,449 312,447 312,445 311,443 311,441 310,441 308,440 306,439 305,439 304,438 303,436 303,434 302,433 301,432 300,431 298,431 296,431 294,431 291,431 289,431 288,432 287,433 286,434 286,436 285,438 284,439 283,439 281,440 279,441 279,441 278,443 277,445 277,446 276,447 274,448 272,448 271,447 270,446 269,445 269,443 269,441 269,439 269,436 268,434 268,434 266,433 264,433 262,432 261,432 259,432 257,431 255,431 253,431 251,431 249,431 247,431 246,430 245,429 244,428 244,426 244,424 244,422 243,419 243,417 242,416 242,415 240,414 238,414 237,413 236,412 235,411 235,409 235,407 235,404 235,402 235,400 235,398 235,396 235,394 235,392 235,390 235,387 235,385 235,383 234,382 233,381 232,380 230,380 228,380 225,380 223,380 221,380 219,380 217,380 215,380 213,380 211,379 211,378 210,377 209,375 208,375 206,374 204,373 203,373 202,372 200,370 200,370 199,368 199,366 198,365 196,364 195,364 194,363 192,362 191,360 191,360 190,358 189,356 189,355 187,354 187,353 186,351 186,349 186,347 186,345 186,343 185,341 185,339 185,339 184,336 184,334 184,332 183,330 183,330 182,328 181,326 181,324 181,322 181,319 181,317 181,316 181,315 179,313 179,313 177,311 177,311 175,309 174,308 174,307 174,304 174,302 174,300 173,298 172,296 172,296 170,295 168,295 166,295 164,295 162,295 160,295 157,295 155,295 153,294 152,294 151,292 150,292 150,290 150,287 150,285 150,283 150,281 151,280 152,279 153,278 155,278 157,277 157,276 158,275 158,273 158,270 158,268 158,266 157,264 157,264 155,263 153,263 151,263 149,263 147,263 145,263 142,263 140,263 138,263 136,263 134,262 133,262 132,262 130,261 128,261 125,261 123,261 121,261 119,261 117,261 117,260 117,258 117,256 117,253 117,251 117,249 117,247 117,245 117,243 117,241 117,239 117,236 117,234 117,232 117,230 117,228 117,226 117,224 117,222 117,219 117,217 117,217 119,217 121,217 123,217 125,217 128,217 130,217 132,217 134,217 136,217 138,217 140,217 142,217 145,217 147,216 149,216 151,216 153,216 155,216 157,216 160,216 162,216 164,216 166,216 168,216 170,216 172,216 174,215 174,215 176,213 177,211 177,211 179,210 181,209 182,209 183,207 184,207 185,205 185,204 187,203 189,203 190,202 191,202 194,201 195,200 196,200 198,199 200,198 200,198 202,196 202,196 204,195 206,194 207,194 208,193 211,192 212,192 213,191 215,191 217,191 219,190 221,190 223,190 225,190 228,190 230,190 232,190 233,190 234,189 235,187 235,185 235,183 235,181 235,179ZM383,244 381,245 381,246 380,247 380,249 381,251 381,251 383,252 385,252 386,251 387,250 388,249 388,247 388,245 387,244 385,244ZM383,431 381,432 381,433 380,434 380,436 381,437 382,439 383,439 385,440 387,441 387,441 388,443 388,445 388,447 389,448 391,448 394,448 395,449 396,450 396,451 396,453 396,455 395,456 394,456 391,456 390,456 389,455 389,453 388,451 388,449 387,448 385,448 383,449 383,449 382,451 381,453 381,456 381,458 381,460 382,462 382,464 383,464 385,465 387,466 387,467 388,468 388,470 389,472 390,473 391,473 394,474 395,475 396,475 396,477 397,479 398,480 398,481 400,482 402,482 404,482 406,482 408,482 411,482 412,481 413,480 413,479 413,477 413,475 412,475 411,474 408,473 407,473 406,472 406,470 405,468 405,466 405,464 405,462 405,460 405,458 405,456 405,453 405,451 405,449 405,447 405,445 405,443 405,441 405,439 405,436 405,434 404,433 404,432 402,431 400,431 398,431 396,431 394,431 391,431 389,431 387,431 385,431ZM507,177 508,177 511,177 513,177 515,177 517,177 519,177 521,177 523,177 525,177 528,177 530,177 531,177 531,179 531,181 531,183 531,185 531,187 531,190 531,192 531,194 531,196 530,198 530,198 528,199 525,200 525,200 523,201 521,202 521,202 519,204 518,205 518,207 517,209 517,210 517,211 516,213 515,214 513,215 511,215 509,213 508,212 508,211 507,209 506,207 506,207 506,205 506,202 506,202 507,200 507,198 507,196 507,194 507,192 507,190 507,187 507,185 507,183 507,181 507,179ZM635,177 636,177 638,177 640,177 642,177 645,177 647,177 649,177 651,177 653,177 655,177 657,177 659,177 662,177 664,177 666,177 668,177 670,177 672,177 674,177 676,177 679,177 681,177 683,177 685,177 687,177 689,177 691,177 693,177 696,177 696,177 696,179 696,181 696,183 696,185 696,187 696,188 695,190 693,191 691,192 691,192 689,192 687,194 687,194 685,196 685,196 684,198 683,200 683,200 681,202 680,202 679,204 678,205 677,207 677,209 676,210 676,211 676,213 676,215 676,216 677,217 677,219 677,222 678,224 678,226 679,226 679,228 680,230 680,232 679,234 678,234 676,236 676,236 674,238 672,238 670,238 668,238 666,237 664,237 664,236 662,234 662,232 662,231 662,230 661,228 659,226 659,226 657,224 655,224 654,224 653,223 652,222 651,219 651,218 651,217 650,215 651,213 651,212 651,211 653,209 653,207 653,207 653,206 653,205 651,202 651,202 649,200 648,200 647,199 645,198 644,198 643,196 642,196 641,194 640,194 638,193 637,192 636,191 635,190 635,187 635,185 635,183 635,181 635,179ZM712,177 713,177 715,177 717,177 719,177 721,177 723,177 725,177 728,177 729,177 729,179 729,181 729,183 729,185 729,187 729,190 729,192 729,194 729,196 729,198 729,200 729,202 729,205 729,207 729,209 728,210 727,211 725,212 723,212 721,212 719,211 717,211 716,211 715,211 713,209 712,209 712,207 712,205 712,202 713,200 713,200 713,198 713,196 713,194 713,192 713,191 712,190 712,187 712,185 712,183 712,181 712,179ZM834,202 834,202 836,201 838,201 840,201 842,201 845,201 847,201 847,202 847,205 847,207 847,209 847,211 847,213 847,215 847,217 847,219 847,222 847,224 847,226 847,228 847,230 847,232 847,234 847,236 847,238 845,238 842,238 840,238 838,238 836,238 834,238 834,239 832,241 832,241 830,243 830,243 827,244 825,244 823,245 823,245 821,247 821,247 820,249 819,250 817,251 815,251 815,252 813,253 813,254 812,256 811,258 810,258 808,259 808,260 806,261 806,262 805,264 805,266 804,268 804,269 802,270 802,271 800,272 800,273 799,275 798,277 798,277 796,279 795,279 793,280 791,281 790,281 789,282 788,283 787,284 785,284 783,285 781,284 780,283 779,282 778,281 776,280 774,279 774,279 772,277 772,277 771,275 771,273 771,270 771,268 771,266 771,264 771,262 772,261 774,261 776,260 778,260 779,260 781,259 783,258 785,258 786,258 787,257 788,256 789,254 790,253 791,253 793,252 796,252 798,252 800,252 802,252 803,251 804,251 805,249 805,247 805,245 805,243 805,241 804,239 804,238 802,236 802,236 800,235 798,234 798,234 797,232 797,230 798,229 798,228 800,227 802,226 802,226 803,224 804,222 804,221 805,219 806,219 808,218 810,218 813,218 815,217 816,217 817,217 819,216 821,215 821,215 823,213 823,212 825,211 825,210 827,210 829,209 830,208 831,207 831,205 832,204ZM406,213 408,212 411,212 413,213 413,213 414,215 414,217 413,218 411,218 408,218 407,217 406,217 406,215 406,213ZM767,256 768,255 769,256 770,256 771,258 771,260 770,261 768,261 766,260 766,260 765,258 766,256ZM573,262 574,262 576,261 579,261 581,260 583,261 585,261 587,262 589,262 589,262 591,263 592,264 593,266 593,268 594,268 595,270 595,273 595,275 595,277 594,279 594,281 594,283 593,283 593,285 592,287 591,288 589,289 588,290 587,290 586,292 586,294 585,295 584,296 583,297 581,297 579,297 576,296 576,296 574,295 572,294 572,294 570,292 570,292 570,290 569,287 568,286 568,285 567,283 567,281 566,279 566,278 565,277 565,275 565,273 565,270 565,268 565,266 566,265 567,264 568,263 570,263 572,262ZM135,270 136,270 138,270 140,270 140,271 141,273 142,275 142,276 143,277 144,279 144,281 144,283 143,285 142,286 140,287 138,287 136,287 134,287 132,286 130,285 130,285 128,285 125,285 123,285 121,285 119,285 117,285 117,283 117,281 117,279 117,278 119,278 121,278 123,278 125,278 128,278 130,277 130,277 132,275 132,275 133,273 134,271ZM662,287 664,287 666,287 668,287 669,287 670,288 672,288 674,288 676,289 677,290 679,291 680,292 681,292 683,292 685,293 687,294 687,294 689,295 691,295 693,296 693,297 694,298 695,300 695,302 696,304 696,304 697,307 697,309 696,311 696,312 694,313 693,314 691,314 689,315 688,315 687,316 686,317 685,318 684,319 683,320 681,321 679,321 677,322 676,322 674,322 672,322 671,322 670,321 668,319 668,319 667,317 666,315 666,315 664,314 662,313 662,313 660,311 659,310 659,309 658,307 657,306 655,305 655,304 653,303 652,302 651,300 651,300 650,298 651,296 651,295 651,294 652,292 653,290 654,290 655,289 657,289 659,288 662,288ZM545,294 545,294 547,293 549,293 551,294 553,294 554,294 555,294 557,295 559,296 559,297 561,298 562,299 563,300 564,301 566,301 567,302 568,303 569,304 570,307 570,309 569,311 568,312 567,313 566,313 564,314 562,314 559,314 557,314 555,314 553,314 551,313 551,313 549,312 547,311 546,311 545,310 544,309 543,307 542,305 542,304 542,302 541,300 542,298 542,296 542,296ZM747,298 747,298 749,297 751,297 753,298 753,298 753,300 753,300 751,301 749,301 747,300 747,300ZM833,302 834,302 836,302 838,302 840,302 842,302 845,302 847,302 847,302 847,304 847,307 847,309 847,311 847,313 847,314 845,314 842,314 840,314 838,314 836,314 834,313 833,313 832,313 830,311 830,310 829,309 829,307 830,305 830,304 832,303ZM593,307 593,306 596,305 598,305 600,306 600,307 600,309 600,309 598,310 596,310 593,309 593,309ZM484,328 485,327 487,327 489,327 490,328 491,328 494,329 496,329 498,330 498,330 500,332 500,332 502,334 502,335 504,335 506,336 506,336 508,337 510,339 511,339 513,340 514,341 515,342 515,343 517,344 519,345 519,345 521,346 523,347 523,348 524,349 524,351 524,353 523,355 523,356 523,358 522,360 521,361 520,362 519,362 517,364 516,364 515,366 514,366 513,368 511,368 508,367 506,366 506,366 504,366 502,365 502,364 500,363 499,362 498,360 497,360 496,358 496,358 494,357 491,356 491,356 489,355 487,355 485,354 484,353 483,352 482,351 482,349 482,347 481,345 481,343 481,341 481,339 481,336 481,334 481,332 482,330 483,328ZM559,328 559,328 562,326 564,326 566,326 568,326 570,327 572,327 574,328 574,328 576,330 576,331 577,332 576,334 576,334 575,336 574,337 572,337 570,338 568,338 566,338 564,338 562,338 559,337 559,336 557,334 557,334 557,332 557,331 558,330ZM601,373 602,372 604,372 606,372 607,373 608,374 609,375 609,377 608,378 608,379 606,380 604,380 602,379 602,379 600,377 600,377 600,375 600,374ZM491,407 491,406 494,405 496,405 497,407 498,408 498,409 498,411 498,412 497,413 496,414 494,413 493,413 491,412 491,411 491,409ZM117,466 117,465 119,465 121,465 123,465 125,465 128,465 130,465 131,466 132,467 133,468 133,470 133,473 133,475 133,477 133,479 132,480 131,481 130,482 128,482 125,482 123,482 121,482 119,482 117,482 117,481 117,479 117,477 117,475 117,473 117,470 117,468ZM832,502 832,502 834,501 836,501 838,501 840,501 842,501 845,501 847,501 847,502 847,504 847,507 847,509 847,511 847,513 847,515 847,517 847,518 845,518 842,518 840,518 838,518 836,518 834,518 832,517 831,517 830,517 827,516 825,516 824,515 823,514 823,513 823,511 823,510 825,509 825,508 827,507 828,507 830,505 830,504ZM476,526 476,525 479,525 480,526 481,526 482,528 482,530 483,531 484,532 485,533 487,533 489,534 489,535 490,536 490,539 490,541 490,543 490,545 490,547 489,549 489,549 487,550 485,550 483,549 482,549 481,549 479,548 476,548 476,547 475,545 474,544 474,543 473,541 472,539 472,539 472,536 472,534 472,533 473,532 473,530 474,528 474,527ZM500,560 502,559 504,559 506,559 508,559 511,559 513,559 514,560 515,560 516,562 516,564 517,565 518,566 519,567 521,567 523,568 523,569 524,570 525,573 525,574 526,575 526,577 527,579 527,581 528,582 528,583 530,584 531,585 532,586 532,587 532,590 532,590 530,591 529,592 528,592 526,594 525,596 525,596 525,598 524,600 523,601 522,602 521,603 519,604 517,604 517,605 516,607 515,609 515,610 515,611 514,613 514,615 513,617 512,617 511,619 510,619 508,621 508,621 506,624 506,624 504,625 502,625 500,626 499,626 498,626 496,627 494,627 491,627 489,627 487,627 485,626 485,626 484,624 483,621 483,620 483,619 482,617 482,615 482,613 481,611 481,610 480,609 480,607 479,604 479,604 477,602 476,602 475,600 474,600 474,598 473,596 474,594 474,592 474,591 475,590 475,587 476,585 477,585 479,584 481,584 483,584 485,584 487,585 488,585 489,587 490,587 491,590 491,590 493,592 494,592 496,593 498,593 499,592 499,590 499,587 499,585 499,583 499,581 499,579 498,577 498,575 498,574 497,573 497,570 498,568 498,567 498,566 499,564 499,562 500,560ZM500,593 499,594 499,596 500,597 501,598 502,598 504,598 504,598 505,596 504,594 504,594 502,593ZM399,698 400,698 402,698 403,698 404,699 406,700 407,700 408,701 411,701 412,702 413,702 415,703 417,704 419,704 420,704 421,706 421,707 422,709 421,711 421,711 419,713 418,713 417,713 415,714 413,714 411,715 408,715 406,715 404,714 402,714 400,714 398,713 397,713 396,713 394,712 391,712 390,711 389,710 389,709 389,707 389,705 390,704 391,704 394,703 394,702 396,701 396,700 398,698ZM373,702 374,702 376,702 378,702 379,703 380,704 381,705 381,707 382,709 382,711 382,713 383,715 383,717 383,718 384,719 385,721 386,721 386,724 387,725 387,726 389,728 389,729 390,730 391,732 391,734 391,735 392,736 394,738 394,738 395,741 395,743 396,743 396,745 397,747 397,749 397,751 397,753 397,756 397,758 398,758 400,760 400,760 402,760 404,761 405,762 406,763 407,764 408,766 408,768 408,768 410,770 411,771 412,773 413,773 414,775 415,777 415,777 417,779 417,779 419,780 421,781 421,782 422,783 422,785 422,787 422,790 422,792 422,794 421,795 421,796 419,797 417,797 415,798 414,798 413,798 411,799 408,798 408,798 406,797 405,796 404,794 404,794 402,792 402,791 400,791 398,791 396,791 394,791 391,791 390,790 389,789 388,787 388,785 387,783 387,782 387,781 386,779 386,777 386,775 386,773 387,770 387,769 387,768 387,766 388,764 388,762 388,760 387,758 387,757 386,756 385,755 383,753 383,753 382,751 381,750 381,749 379,747 379,745 379,745 378,743 378,741 377,738 376,738 374,737 374,736 372,734 372,734 372,732 371,730 370,728 370,727 370,726 370,724 370,721 370,719 370,717 370,715 370,713 370,711 370,709 370,707 370,705 370,704 372,703ZM298,732 298,732 300,732 301,732 302,734 302,734 302,734 300,735 298,735 297,734ZM714,741 715,740 717,740 719,741 719,743 717,744 715,743 714,743ZM315,747 315,747 316,747 317,747 318,749 318,751 319,753 320,753 321,754 323,754 325,754 328,755 329,756 330,756 332,757 333,758 334,758 335,760 336,761 337,762 338,763 340,764 341,764 342,765 344,766 345,767 345,768 346,770 347,773 347,773 348,775 348,777 349,779 349,779 351,780 353,780 355,780 357,780 359,780 361,781 362,781 364,783 364,784 364,785 364,786 363,787 362,789 361,790 359,790 357,790 355,790 354,790 353,789 351,789 349,789 348,790 347,791 346,792 345,794 345,794 342,794 340,794 340,794 339,792 338,791 338,790 337,787 336,786 336,785 334,783 334,783 332,782 330,781 330,781 328,780 326,779 325,778 323,777 323,777 322,775 321,774 321,773 320,770 319,768 319,768 319,766 319,764 318,762 318,760 318,758 317,756 317,755 315,753 315,753 314,751 314,749ZM440,758 440,758 442,757 443,758 444,760 443,762 442,762 440,763 439,762 439,760ZM434,764 434,764 436,763 438,763 439,764 439,766 439,768 438,769 437,770 436,771 434,771 432,770 432,770 431,768 432,766 432,766ZM646,794 647,793 649,793 649,794 650,796 650,798 651,800 650,802 649,804 649,805 647,805 645,805 643,804 642,803 642,802 642,801 642,800 643,798 645,796 645,796ZM448,809 449,808 451,807 453,808 453,809 455,811 455,811 457,812 459,813 459,813 462,814 463,815 464,816 464,817 464,819 465,821 465,824 465,826 464,828 464,829 463,830 462,830 459,831 457,831 456,832 455,833 453,834 451,834 451,834 449,836 448,836 448,838 448,841 448,843 447,845 447,847 447,847 446,849 445,851 445,853 445,854 444,855 442,857 442,858 440,859 440,860 438,862 438,862 436,863 434,863 432,862 431,862 430,860 430,860 428,859 425,858 425,858 423,857 422,855 421,854 421,853 420,851 420,849 420,847 420,845 420,843 420,841 420,838 420,836 421,834 421,834 423,832 423,832 425,831 428,831 430,831 432,832 433,832 434,832 436,832 436,832 438,830 438,830 438,828 438,826 438,824 438,821 438,819 439,817 439,815 440,813 440,813 442,812 445,811 446,811 447,810ZM348,815 349,815 351,814 352,815 353,816 354,817 354,819 353,821 352,821 351,822 349,822 348,821 347,820 346,819 346,817 347,817ZM397,834 398,834 400,833 402,833 404,834 404,834 406,836 406,838 406,838 407,841 408,843 407,845 406,847 406,847 404,849 404,849 402,850 400,850 398,849 398,849 396,848 394,847 394,847 391,846 391,845 390,843 391,841 391,841 394,839 394,838 396,837 396,836ZM586,849 587,848 589,848 591,849 591,850 592,851 592,853 592,855 591,856 589,858 587,857 585,855 585,855 584,853 584,851 585,850ZM766,860 766,860 768,860 768,860 769,862 768,864 768,864 766,864 766,864 765,862ZM397,877 398,876 400,876 402,876 403,877 403,879 402,881 402,881 400,881 399,881 398,880 397,879ZM440,894 440,894 442,893 445,893 445,894 446,896 446,898 446,900 446,902 446,904 446,907 445,907 442,907 440,907 439,907 439,904 439,902 439,900 439,898 439,896Z"/>
<path fill="#cedd5b" d="M642,177 642,177 645,177 647,177 649,177 651,177 653,177 655,177 657,177 659,177 662,177 664,177 666,177 668,177 670,177 672,177 674,177 676,177 679,177 681,177 683,177 685,177 687,177 689,177 691,177 693,177 693,179 693,181 693,183 693,185 693,187 691,190 691,190 689,190 688,192 687,192 685,194 684,194 683,195 681,196 681,196 680,198 679,200 678,200 676,202 676,202 674,203 672,204 671,205 670,206 669,207 670,209 670,210 670,211 671,213 671,215 672,217 672,218 674,219 674,220 675,222 675,224 676,225 677,226 678,228 678,230 678,232 677,234 676,234 674,236 672,236 670,236 668,235 666,234 666,234 664,232 664,232 663,230 663,228 662,226 661,226 660,224 659,223 659,222 658,219 657,219 655,218 655,217 654,215 654,213 655,211 655,211 657,209 658,209 659,207 660,207 659,206 659,205 657,204 655,203 654,202 653,202 652,200 651,199 650,198 649,196 649,196 647,194 646,194 645,193 643,192 642,190 642,190 642,187 642,185 642,183 642,181 642,179ZM235,192 236,192 238,191 240,191 242,191 245,191 247,190 249,191 251,192 251,192 253,193 255,194 255,194 257,195 259,196 260,196 261,198 262,199 263,200 264,201 266,202 267,202 268,203 269,205 269,207 270,208 271,209 272,210 274,210 276,211 277,211 277,213 278,215 279,217 279,217 281,218 283,218 284,217 285,217 286,215 286,213 286,211 286,209 286,207 286,205 286,202 287,201 289,201 291,202 292,202 294,204 294,205 295,207 296,208 296,209 298,210 300,210 302,210 304,210 306,210 308,210 311,210 313,210 315,210 317,210 319,210 321,210 323,210 325,210 326,211 328,212 328,213 330,215 330,215 332,216 334,217 335,217 336,218 338,219 340,219 340,220 342,220 345,221 345,222 346,224 347,225 347,226 349,227 351,227 352,228 353,229 354,230 354,232 354,234 354,236 354,239 354,241 354,243 354,245 354,247 354,249 354,251 354,253 354,256 354,258 355,259 356,260 357,261 359,261 362,261 364,261 366,261 368,261 370,261 372,261 374,261 376,261 379,261 381,261 383,261 385,261 387,260 387,259 388,258 389,256 389,255 391,253 391,253 394,252 394,251 396,250 396,249 397,247 398,246 399,245 400,244 402,243 403,243 404,242 405,241 406,239 406,238 408,236 408,236 411,235 411,234 413,233 413,232 414,230 415,229 416,228 417,227 419,227 421,227 423,227 425,227 428,227 430,226 431,226 432,226 434,225 436,225 438,224 438,223 440,222 440,221 442,219 442,219 445,218 446,217 447,217 449,216 451,216 453,216 454,215 455,214 456,213 457,211 458,211 459,210 462,210 464,209 465,209 466,209 468,208 470,208 472,207 472,206 474,205 474,204 476,202 476,202 479,202 480,202 481,203 482,205 482,207 482,209 482,211 482,213 482,215 482,217 483,219 483,222 483,224 482,226 482,228 481,230 481,231 480,232 479,233 476,234 476,234 474,236 474,236 473,239 473,241 472,243 472,243 471,245 470,246 468,247 468,247 467,249 466,251 465,251 464,253 464,255 463,256 463,258 463,260 462,262 461,262 459,264 459,264 458,266 457,267 457,268 455,270 454,270 453,271 451,272 451,273 449,275 449,275 447,277 447,277 445,278 442,278 440,279 439,279 438,279 436,280 434,281 434,281 432,283 432,283 431,285 430,287 430,287 429,290 428,292 428,292 425,294 425,294 423,296 423,296 422,298 422,300 422,302 422,304 422,307 422,309 422,311 422,313 422,315 422,317 423,319 423,321 424,322 424,324 425,326 425,327 426,328 427,330 428,330 428,332 429,334 429,336 430,337 430,339 431,341 431,343 431,345 432,347 432,348 432,349 433,351 434,352 436,353 436,354 438,356 438,356 439,358 439,360 440,362 440,364 440,365 441,366 441,368 442,370 442,371 444,373 445,375 445,375 445,377 445,379 445,381 445,383 445,385 445,387 445,390 445,392 445,394 445,395 444,396 442,397 441,398 440,399 440,400 439,402 439,404 439,407 439,409 439,411 438,412 437,413 436,414 434,415 434,415 433,417 432,419 432,422 432,422 431,424 431,426 430,428 430,429 429,430 428,431 425,431 424,430 423,429 422,428 421,426 421,426 419,425 417,425 415,425 413,425 411,425 408,425 406,425 404,425 402,425 400,425 398,425 396,425 394,425 391,425 389,425 387,425 385,425 383,425 381,425 379,425 376,425 375,426 374,426 374,428 373,430 373,432 373,434 373,436 374,439 374,439 376,440 377,441 379,442 379,443 379,445 379,447 379,448 378,449 378,451 378,453 378,456 378,458 378,460 378,462 377,464 376,464 374,465 373,464 372,463 371,462 371,460 371,458 371,456 371,453 371,451 370,450 369,449 368,449 367,449 366,451 366,451 366,453 366,456 366,458 366,460 366,462 366,464 366,466 366,468 366,470 366,470 368,472 369,473 370,473 372,475 372,476 373,477 373,479 373,481 373,483 373,485 374,487 374,487 376,488 379,488 381,488 383,488 385,488 387,489 388,490 389,491 390,492 391,494 390,496 390,498 389,500 389,501 389,502 389,504 389,507 389,509 389,511 389,513 388,515 387,517 386,517 385,518 383,519 383,519 382,521 381,523 381,524 379,526 378,526 376,527 374,527 373,526 372,525 371,524 371,521 370,519 370,517 370,516 370,515 370,513 370,511 369,509 369,507 368,504 368,503 368,502 366,502 365,502 364,504 364,505 363,507 362,509 362,510 361,511 361,513 360,515 359,515 357,517 356,517 355,517 353,518 351,519 349,519 347,518 345,518 342,518 340,517 340,517 338,516 337,515 336,513 336,513 335,511 335,509 335,507 335,504 336,502 336,502 337,500 338,499 340,498 340,498 342,497 343,496 343,494 342,493 340,492 340,492 338,491 336,490 335,490 334,489 332,488 331,487 330,485 330,485 329,483 328,482 326,481 325,481 323,480 322,479 322,477 322,475 322,473 322,470 321,468 321,468 321,466 320,464 319,462 319,462 318,460 318,458 318,456 318,453 318,451 319,449 319,448 319,447 320,445 320,443 320,441 320,439 320,436 320,434 319,433 318,432 317,431 315,431 313,430 313,430 312,428 311,426 310,426 308,425 306,424 304,424 303,424 302,423 300,423 298,423 296,423 294,423 291,423 289,423 287,423 285,423 283,423 281,422 279,422 279,421 278,419 277,417 277,416 275,415 274,415 273,415 272,415 271,417 271,419 270,422 270,422 270,424 269,426 268,428 268,428 266,429 264,429 262,428 261,428 260,426 259,425 258,424 257,423 255,422 254,422 253,421 252,419 252,417 252,415 252,413 252,411 252,409 252,407 252,404 252,402 252,400 252,398 252,396 252,394 252,392 253,390 254,390 255,389 257,388 259,387 259,387 260,385 261,383 262,382 262,381 264,380 266,380 268,380 270,380 272,380 274,380 276,381 277,382 277,383 278,385 279,387 279,387 281,388 283,388 285,389 287,389 289,388 291,388 293,387 294,387 294,385 295,383 295,381 295,379 295,377 295,375 295,373 295,370 295,368 294,366 294,365 292,364 291,364 289,363 287,363 285,363 283,363 281,363 279,363 277,363 274,363 272,363 270,363 268,363 266,363 264,363 262,362 262,361 261,360 260,358 259,356 259,356 257,355 255,355 254,356 253,356 252,358 252,360 252,362 252,364 252,366 252,368 252,370 252,373 252,375 252,377 251,378 250,379 249,380 247,380 245,379 245,378 244,377 243,375 242,373 242,373 240,372 238,372 236,372 234,372 232,372 230,372 228,372 225,372 223,372 221,372 219,372 217,372 215,371 213,371 211,371 209,370 208,370 206,370 204,369 203,368 202,366 202,366 201,364 200,363 198,362 198,362 196,361 195,360 194,358 194,357 193,356 192,353 191,352 191,351 191,349 190,347 190,345 190,343 189,341 189,340 189,339 187,336 187,336 187,334 186,332 185,330 185,330 184,328 183,326 183,324 183,322 183,320 183,319 183,317 182,315 182,313 181,311 180,311 179,309 178,309 177,307 177,304 177,302 177,300 177,298 177,298 176,296 175,294 174,292 174,292 174,290 174,287 174,285 174,283 174,281 174,279 174,277 174,275 174,273 174,270 174,268 174,266 173,264 172,263 170,263 168,263 166,263 164,263 162,262 161,262 160,261 157,260 156,260 155,260 153,259 151,259 149,259 147,259 145,259 142,259 140,259 138,259 136,259 134,258 134,258 132,256 132,255 130,254 128,254 125,254 123,254 121,254 119,254 117,254 117,253 117,251 117,249 117,247 117,245 117,243 117,241 117,239 117,236 117,234 117,232 117,230 117,228 117,226 117,224 117,222 117,220 119,220 121,220 123,220 125,220 128,220 130,220 132,220 134,220 136,220 138,220 140,220 142,220 145,220 147,220 148,219 149,219 151,219 153,218 155,218 157,218 160,218 162,218 164,218 166,218 168,218 170,218 172,218 174,218 177,217 177,217 179,217 181,216 183,215 183,215 184,213 185,212 186,211 187,210 189,209 190,209 191,208 192,207 193,205 194,204 196,203 198,203 198,202 200,202 202,201 204,200 204,200 206,199 208,198 209,198 210,196 211,196 213,195 215,194 216,194 217,194 219,193 221,193 223,193 225,193 228,192 230,192 232,192 234,192ZM304,238 304,239 303,241 303,243 303,245 303,247 304,249 304,250 306,251 306,252 308,252 311,252 313,252 315,252 317,252 319,252 321,252 323,252 325,252 328,252 330,252 332,252 334,252 336,252 338,252 340,252 342,252 344,251 345,251 345,249 345,247 345,246 344,245 342,244 340,244 338,244 336,244 334,244 332,244 330,244 328,244 325,244 323,244 322,243 321,242 320,241 319,239 319,239 317,238 315,237 313,237 311,237 308,237 306,237ZM179,236 177,236 177,237 176,239 176,241 177,241 179,242 181,242 183,242 185,242 187,242 189,242 191,241 191,240 192,239 191,238 190,236 189,236 187,235 185,235 183,235 181,235ZM323,312 322,313 321,314 321,315 321,317 321,317 323,319 323,320 325,320 328,320 330,320 332,320 334,320 336,320 338,320 340,320 342,320 343,319 344,317 344,315 343,313 342,313 340,312 338,312 336,312 334,312 332,312 330,312 328,312 325,312ZM279,194 281,193 283,193 284,194 285,195 286,196 286,198 286,200 285,201 283,201 281,201 279,200 279,200 278,198 278,196 279,195ZM518,194 519,193 521,193 523,194 523,195 524,196 523,197 523,198 521,199 519,199 517,199 516,198 516,196 517,195ZM716,194 717,193 719,193 721,193 723,193 725,194 725,194 726,196 726,198 727,200 727,202 728,203 728,205 728,207 728,207 726,209 725,209 723,210 721,210 719,210 717,210 715,209 714,209 713,207 713,205 713,205 713,204 713,202 714,200 715,198 715,197 715,196ZM510,202 511,202 513,202 513,202 514,205 514,207 513,209 511,209 510,207 510,205ZM825,217 825,217 827,217 830,217 832,217 834,217 836,217 838,217 840,217 842,217 845,217 847,217 847,217 847,219 847,222 847,224 847,226 847,228 847,230 847,232 847,234 847,235 845,235 842,235 840,235 838,235 836,235 834,236 832,236 832,237 830,239 830,239 828,241 827,241 825,242 823,243 823,243 821,244 819,245 819,245 817,245 816,245 815,245 813,243 813,242 812,241 811,239 810,238 808,238 807,236 806,236 804,234 804,234 803,232 803,230 804,228 804,228 805,226 806,224 806,224 808,222 808,221 810,221 813,221 815,220 817,220 819,220 820,219 821,219 823,218ZM790,260 791,259 793,259 796,260 796,260 798,260 800,261 802,262 802,262 802,264 802,266 802,267 800,268 800,268 798,270 797,270 797,273 796,275 796,276 795,277 793,278 791,278 789,279 789,279 787,280 785,280 783,280 781,280 780,279 779,278 776,277 776,277 774,275 774,275 774,273 774,271 774,270 776,268 776,268 778,266 778,264 779,264 780,262 781,262 783,261 785,261 787,261 789,260ZM577,262 579,262 581,262 583,262 583,262 585,263 587,263 589,264 589,264 591,266 591,267 592,268 593,270 593,271 594,273 594,275 594,277 593,277 593,279 593,281 592,283 591,285 591,285 589,287 587,287 587,287 585,289 584,290 584,292 583,293 582,294 581,295 579,295 577,294 576,294 574,292 574,291 573,290 572,287 572,287 570,285 570,285 570,283 569,281 568,279 568,278 568,277 567,275 567,273 567,270 568,268 568,268 569,266 570,265 571,264 572,264 574,263 576,262ZM136,277 136,277 137,277 138,277 140,279 141,279 141,281 141,283 140,284 138,285 138,285 136,285 136,285 134,285 132,283 132,281 132,281 132,281 133,279 134,278ZM663,290 664,289 666,289 667,290 668,290 670,291 671,292 672,292 674,292 676,293 679,294 680,294 681,294 683,294 685,295 687,296 687,296 689,297 691,298 691,298 692,300 693,302 693,303 694,304 694,307 694,309 693,310 693,311 691,312 689,312 687,313 687,313 685,314 683,315 681,315 680,315 679,316 677,317 676,318 674,318 672,318 671,317 670,316 670,315 668,313 668,313 666,311 665,311 664,310 663,309 662,307 661,307 660,304 659,304 657,303 657,302 655,301 654,300 654,298 655,296 655,296 657,294 658,294 659,292 660,292 662,290ZM547,296 549,296 551,295 553,295 555,295 557,296 557,296 559,298 559,300 560,300 562,302 563,302 564,302 566,303 567,304 568,307 568,309 567,311 566,312 564,312 562,312 559,312 557,312 555,312 553,312 551,312 549,311 549,310 548,309 547,307 547,305 546,304 545,302 545,302 544,300 544,298 545,298 547,296ZM833,307 834,306 836,305 838,305 840,305 842,305 845,305 847,305 847,307 847,309 847,310 845,310 842,310 840,310 838,310 836,310 834,309 833,309ZM564,328 564,328 564,328 566,328 568,329 570,330 570,330 572,331 573,332 573,334 572,335 570,335 568,336 568,336 566,337 564,337 562,337 561,336 559,336 558,334 558,332 559,330 559,329 562,328ZM484,330 485,329 487,329 489,330 490,330 491,330 494,331 496,332 496,332 498,334 498,334 500,336 500,336 502,337 504,338 506,339 506,339 508,341 508,341 510,343 511,343 513,344 514,345 515,345 517,346 519,347 520,347 521,348 522,349 522,351 522,353 522,356 521,358 521,358 520,360 519,360 517,362 517,362 515,363 513,364 513,365 511,365 508,364 507,364 506,364 504,363 502,362 501,362 500,360 499,360 498,358 498,357 496,356 496,355 494,355 491,355 489,354 487,354 486,353 485,353 484,351 483,349 483,349 483,347 482,345 482,343 482,341 482,339 482,336 482,334 483,332 483,332ZM604,375 604,375 604,375 604,377 604,377 604,377ZM424,458 425,457 428,457 429,458 430,458 430,460 430,462 430,463 429,464 428,465 425,465 424,464 423,463 423,462 423,460 423,458ZM441,458 442,457 445,457 447,457 449,457 451,457 453,457 454,458 455,459 456,460 456,462 455,463 455,464 453,465 451,465 449,465 447,465 445,465 442,465 441,464 440,463 440,462 440,460 440,458ZM491,477 491,477 494,476 496,476 498,477 498,477 498,479 498,480 497,481 496,482 494,482 493,481 491,480 491,479ZM441,483 442,482 445,482 446,483 447,484 447,485 447,487 447,489 446,490 445,490 442,490 442,490 440,488 440,487 440,485 440,484ZM466,483 468,482 470,482 472,482 474,482 476,482 479,483 479,483 480,485 480,487 479,490 479,490 476,491 475,492 474,492 474,494 473,496 472,497 472,498 470,499 468,499 467,498 466,497 465,496 465,494 465,492 465,490 465,487 465,485 466,484ZM493,490 494,490 496,489 498,489 499,490 500,490 502,490 504,491 504,492 505,494 506,495 507,496 508,498 509,498 511,499 513,499 515,500 515,500 517,502 517,503 518,504 519,506 519,507 521,508 521,509 522,511 522,513 521,515 521,516 520,517 519,518 518,519 518,521 517,523 516,524 515,525 514,526 513,527 511,527 508,526 508,526 506,525 504,524 504,524 502,522 501,521 500,520 500,519 498,518 497,517 496,517 494,516 492,515 491,515 491,513 490,511 490,509 490,507 490,504 490,502 490,500 490,498 490,496 490,494 491,492 491,491ZM833,509 834,508 836,508 838,508 840,508 842,508 845,508 847,508 847,509 847,511 847,513 847,514 845,514 842,514 840,514 838,514 836,514 834,514 832,513 832,513 831,511 832,510ZM476,534 476,534 479,534 479,534 481,536 481,536 481,539 481,540 480,541 479,541 477,541 476,541 476,539 475,536ZM502,568 502,568 504,567 506,567 508,567 511,567 513,568 513,568 515,570 515,570 517,573 517,573 519,574 521,575 521,575 523,576 523,577 524,579 525,581 525,583 525,584 526,585 527,587 527,590 526,592 525,592 525,594 524,596 523,598 523,598 522,600 521,601 519,601 517,601 515,601 513,601 511,601 509,602 509,604 509,607 509,609 510,611 510,613 509,615 508,617 508,617 506,619 506,619 504,620 502,621 500,621 498,620 496,620 494,620 491,620 491,619 489,619 487,618 485,617 485,617 484,615 484,613 483,611 483,610 482,609 482,607 482,604 481,602 481,602 479,600 479,600 476,598 476,598 476,596 476,594 477,594 479,593 481,592 482,592 483,591 485,591 487,592 487,592 489,593 490,594 491,596 492,596 493,598 494,599 496,600 497,600 498,600 500,601 502,601 504,601 506,601 508,601 509,600 509,598 508,596 508,596 507,594 506,592 506,592 505,590 505,587 504,585 504,585 502,583 502,583 501,581 501,579 501,577 501,575 501,573 501,570ZM399,704 400,704 402,703 404,703 406,703 408,703 411,703 413,704 415,704 417,704 417,705 419,705 420,707 421,709 420,711 419,711 417,712 415,712 413,712 411,713 408,713 406,712 404,711 402,711 402,711 400,710 398,709 398,709 397,707 398,706ZM374,707 374,706 376,706 377,707 378,709 379,709 379,711 380,713 380,715 381,717 381,718 381,719 382,721 382,724 383,725 383,726 385,727 386,728 387,729 388,730 389,732 389,734 389,735 390,736 390,738 391,741 391,743 391,743 393,745 394,745 395,747 396,749 396,749 396,751 396,752 395,753 394,755 392,756 391,756 391,756 389,754 388,753 387,752 387,751 385,749 385,749 383,748 381,747 381,746 380,745 379,743 379,741 379,739 379,738 377,736 376,736 375,734 374,734 374,732 372,730 372,730 371,728 371,726 371,724 371,721 371,719 371,717 371,715 371,713 372,711 372,709 373,709ZM323,756 323,755 325,756 325,756 328,757 329,758 330,758 331,760 332,760 334,761 335,762 336,762 338,764 338,764 340,766 342,766 342,767 343,768 344,770 345,772 345,773 345,775 346,777 346,779 346,781 346,783 345,785 345,786 343,787 342,788 341,787 340,787 339,785 338,783 338,783 336,781 335,781 334,781 332,780 330,779 329,779 328,777 327,777 326,775 325,774 323,773 323,773 321,771 321,770 320,768 320,766 320,764 320,762 320,760 320,758 321,756ZM392,762 394,761 396,761 398,762 400,762 401,762 402,762 404,763 405,764 406,766 406,767 407,768 407,770 408,773 408,775 408,776 409,777 411,778 412,779 413,779 415,781 415,781 416,783 416,785 416,787 415,790 415,790 414,792 413,794 413,794 411,795 408,795 408,794 406,792 406,792 404,790 404,790 402,789 400,789 398,788 396,788 394,788 391,788 391,787 389,785 389,785 389,783 388,781 388,779 387,777 387,775 388,773 388,770 389,768 389,766 389,765 390,764 391,762ZM356,783 357,783 359,783 360,783 360,785 359,786 357,786 355,785ZM646,800 647,799 648,800 647,802 647,802 647,802ZM447,813 447,813 449,812 451,811 453,811 455,812 456,813 457,813 459,814 462,815 462,815 464,817 464,818 464,819 464,821 464,824 464,826 464,826 463,828 462,829 460,830 459,830 457,831 455,832 454,832 453,832 451,833 449,833 447,833 445,833 442,832 442,832 440,830 440,830 440,828 440,826 440,824 440,821 440,819 440,817 440,817 441,815 442,814 445,814ZM425,834 425,834 428,834 429,834 430,835 431,836 432,837 434,838 436,838 438,838 439,838 440,839 442,839 444,841 445,841 445,843 445,845 445,846 444,847 442,849 442,849 441,851 440,853 440,854 439,855 438,857 436,858 436,858 434,858 433,858 432,857 430,856 428,855 428,855 425,854 425,853 424,851 423,850 423,849 423,847 422,845 422,843 423,841 423,838 423,838 424,836ZM400,838 400,838 401,838 402,839 404,840 404,841 405,843 405,845 404,846 403,847 402,848 400,848 398,847 398,847 396,845 396,843 396,843 396,843 397,841 398,840ZM589,853 589,853 589,853 589,853Z"/>
<path fill="#fac44f" d="M645,177 647,177 649,177 651,177 653,177 655,177 657,177 659,177 662,177 664,177 666,177 668,177 670,177 672,177 674,177 676,177 679,177 681,177 683,177 685,177 687,177 688,177 688,179 688,181 688,183 688,185 688,187 687,190 687,190 685,192 685,192 683,193 681,194 681,194 679,195 678,196 677,198 676,199 676,200 674,201 672,201 670,202 669,202 668,203 666,204 664,204 662,203 661,202 659,202 657,201 655,201 654,200 653,199 652,198 652,196 651,194 651,194 649,192 649,192 647,190 646,190 645,187 645,185 645,183 645,181 645,179ZM228,194 230,194 232,194 234,194 235,194 236,194 238,194 240,194 242,194 242,194 245,193 247,193 249,193 251,194 251,194 253,196 253,196 254,198 255,200 255,200 257,202 258,202 259,204 260,205 260,207 261,209 261,211 261,213 261,215 262,216 263,217 264,218 266,219 267,219 268,220 269,222 270,224 270,224 271,226 272,226 274,227 277,227 279,227 281,227 283,227 284,228 285,229 286,230 286,232 285,234 284,234 283,235 281,236 279,236 279,237 278,239 278,241 279,241 280,243 281,243 283,244 284,245 285,245 286,247 287,249 287,250 289,251 289,252 291,252 294,252 296,252 298,252 300,253 301,253 302,255 303,256 303,258 304,259 305,260 306,261 308,261 311,261 313,261 315,261 317,261 319,261 321,261 323,261 325,261 327,262 328,263 328,264 329,266 330,268 330,268 332,269 334,270 335,270 336,271 337,273 338,275 338,275 340,277 340,277 342,278 345,278 347,278 349,278 351,278 353,278 355,278 357,278 359,278 361,279 362,280 362,281 363,283 364,285 364,285 366,286 368,286 370,286 372,286 374,286 376,287 378,287 379,288 379,290 379,292 379,293 378,294 376,295 374,295 373,296 372,297 371,298 371,300 370,302 369,302 368,303 366,303 364,303 362,303 359,303 357,303 355,303 353,303 351,303 349,304 347,304 345,304 345,305 342,305 340,305 338,305 336,305 334,305 332,305 330,305 329,304 328,304 325,304 323,303 322,302 321,302 320,300 320,298 319,297 318,296 317,296 315,295 313,296 313,297 312,298 311,300 311,302 310,302 308,303 307,304 306,305 306,307 306,309 306,309 308,309 311,310 312,311 313,312 313,313 314,315 315,317 315,317 317,318 319,319 319,320 321,322 321,322 322,324 323,326 323,326 325,326 328,327 330,327 332,327 334,327 336,327 338,327 340,327 342,327 345,326 345,326 346,324 346,322 347,320 347,319 347,317 348,315 348,313 349,313 351,312 353,312 355,312 357,312 359,312 362,312 364,312 366,312 368,312 369,313 370,314 371,315 371,317 372,319 373,319 374,320 376,320 379,320 381,320 383,320 385,320 386,319 387,318 388,317 388,315 389,314 390,313 391,312 394,312 396,312 398,312 400,312 402,312 404,311 404,310 405,309 405,307 406,305 407,304 408,304 411,303 412,302 413,302 413,300 414,298 414,296 414,294 414,292 413,290 413,288 412,287 411,287 408,286 407,285 406,285 406,283 405,281 405,279 405,277 405,275 405,273 405,270 405,268 405,266 405,264 404,263 404,262 402,261 400,261 398,260 398,259 397,258 397,256 398,255 399,253 400,253 402,252 404,251 404,251 405,249 406,247 406,246 408,245 408,244 411,243 411,243 413,241 413,241 414,239 415,238 416,236 417,236 419,235 421,234 421,234 423,233 425,233 428,233 429,232 430,232 431,230 432,230 434,229 436,228 436,228 438,227 440,226 440,226 442,225 445,224 445,224 447,222 447,221 448,219 449,219 451,219 453,218 455,218 456,217 457,217 459,216 462,216 463,215 464,215 465,213 466,213 468,212 470,211 470,211 472,210 474,209 474,209 476,208 479,208 479,209 481,211 481,212 481,213 481,215 481,217 481,219 482,222 482,224 481,226 481,227 480,228 479,230 479,231 477,232 476,232 474,234 474,234 473,236 472,239 472,239 472,241 471,243 470,244 468,245 468,245 466,247 466,247 465,249 464,251 464,252 463,253 462,256 462,257 461,258 459,260 459,260 457,262 457,262 456,264 456,266 455,267 454,268 453,269 451,270 450,270 449,272 448,273 447,275 447,275 445,276 442,277 442,277 440,277 438,278 436,278 434,279 434,279 432,280 430,281 430,282 429,283 428,285 427,285 425,287 424,287 423,288 422,290 422,292 421,293 421,294 420,296 420,298 420,300 420,302 420,304 420,307 420,309 420,311 420,313 420,315 420,317 421,319 421,320 422,322 422,324 422,326 423,328 423,329 424,330 424,332 425,334 425,336 426,336 427,339 428,339 428,341 428,343 428,345 429,347 429,349 430,351 430,351 431,353 432,354 434,356 434,356 436,357 436,358 437,360 437,362 437,364 438,366 438,368 438,369 439,370 440,373 440,374 441,375 441,377 441,379 440,380 440,381 439,383 439,385 438,387 438,387 436,388 434,389 434,390 432,391 431,392 431,394 431,396 431,398 431,400 431,402 431,404 431,407 431,409 430,411 430,413 430,414 429,415 429,417 429,419 428,422 428,422 425,422 423,423 421,423 419,423 417,423 415,423 413,423 411,423 408,423 406,423 404,423 402,423 400,423 398,423 396,423 394,423 391,423 389,423 387,423 385,423 383,423 381,423 379,423 376,423 374,423 373,424 372,425 372,426 371,428 371,430 370,432 370,433 370,434 369,436 368,439 368,439 366,441 366,441 365,443 365,445 364,447 364,449 364,450 364,451 363,453 363,456 363,458 363,460 363,462 363,464 363,466 363,468 364,470 364,471 364,473 366,474 366,475 368,476 369,477 369,479 369,481 369,483 370,485 370,487 370,488 372,489 373,490 374,490 376,490 379,490 381,490 383,491 385,491 387,492 387,492 388,494 388,496 388,498 388,500 387,502 387,504 387,507 387,509 387,511 387,513 387,513 386,515 385,516 383,516 382,517 381,518 380,519 379,521 379,523 378,524 376,524 374,524 374,524 372,522 372,521 372,519 372,517 371,515 371,513 371,511 371,509 371,507 370,504 370,502 370,502 369,500 368,498 367,498 366,498 365,498 364,498 362,500 362,501 361,502 361,504 359,507 359,507 357,508 357,509 356,511 355,513 355,513 353,515 353,515 351,516 349,516 347,516 345,515 344,515 342,515 340,514 340,513 339,511 339,509 339,507 339,504 340,502 340,502 342,501 344,500 345,500 346,498 347,497 347,496 347,494 347,494 346,492 345,491 343,490 342,489 340,489 338,487 338,487 337,485 336,484 336,483 334,482 332,481 331,481 330,479 329,479 328,477 328,475 328,473 327,473 327,470 327,468 326,466 325,466 323,464 323,464 322,462 322,460 322,458 322,456 322,453 322,451 323,449 323,449 325,447 325,447 327,445 327,443 327,441 328,440 328,439 328,436 328,434 328,432 328,431 327,430 327,428 326,426 325,426 323,425 321,425 319,425 317,425 315,425 313,424 312,424 311,423 308,422 308,421 306,421 304,420 304,419 303,417 302,416 302,415 301,413 301,411 300,409 300,408 299,407 298,406 296,407 296,407 295,409 294,411 294,412 293,413 291,414 289,414 287,414 285,414 283,414 281,414 280,413 279,412 278,411 278,409 278,407 278,404 278,402 278,400 279,399 279,398 281,397 283,397 285,397 287,397 289,397 291,397 294,397 296,397 298,397 299,396 300,395 300,394 301,392 301,390 301,387 301,385 301,383 301,381 301,379 301,377 301,375 302,373 302,372 302,370 303,368 303,366 302,365 301,364 300,363 298,363 297,362 296,361 295,360 294,358 294,357 292,356 291,355 289,354 288,353 287,353 286,351 286,349 285,348 284,347 283,346 281,346 279,345 279,344 278,343 277,341 277,340 275,339 274,338 272,338 270,337 268,337 266,337 264,337 262,336 262,336 261,334 260,332 259,331 258,330 257,330 255,329 253,329 251,329 249,329 247,329 245,330 245,331 244,332 244,334 244,336 244,339 244,341 244,343 244,345 244,347 243,349 243,351 242,353 242,353 240,354 238,355 237,356 236,357 236,358 235,360 234,361 233,362 232,363 230,363 228,363 225,363 223,363 221,363 219,363 217,363 215,363 213,363 211,363 208,363 206,363 204,362 204,362 202,360 202,360 201,358 200,357 199,356 198,355 196,353 196,353 195,351 194,349 194,349 193,347 192,345 192,343 192,341 191,339 191,339 191,336 190,334 190,332 189,332 188,330 187,330 186,328 185,326 185,326 185,324 184,322 184,319 184,317 184,315 184,313 183,311 183,311 182,309 182,307 181,304 181,302 181,300 181,298 181,297 180,296 179,294 178,294 178,292 177,290 177,287 177,285 177,283 177,281 177,279 177,277 177,275 177,273 177,270 177,268 177,266 177,264 177,263 176,262 174,260 174,260 172,259 170,259 168,259 166,259 164,259 162,259 160,258 160,258 158,256 157,254 157,253 155,253 153,252 151,252 149,252 147,252 145,252 142,252 140,252 138,252 136,252 134,252 133,251 132,251 130,251 128,251 125,251 123,251 121,251 119,251 117,251 117,249 117,247 117,245 117,243 117,241 117,239 117,236 117,234 117,232 117,230 117,228 117,226 117,225 119,225 121,225 123,225 125,225 128,225 130,225 132,225 134,225 136,224 138,224 140,224 142,224 145,224 147,224 149,224 149,224 151,222 152,222 153,221 155,221 157,221 160,221 162,221 164,221 166,221 168,221 170,221 172,221 174,221 177,220 179,220 181,220 181,219 183,219 185,218 187,217 187,217 189,216 191,215 192,215 193,213 194,212 195,211 196,210 198,209 199,209 200,208 201,207 202,205 202,204 204,203 206,203 207,202 208,202 211,201 212,200 213,200 215,199 217,198 217,198 219,196 219,196 221,195 223,195 225,195 228,194ZM170,227 169,228 168,229 167,230 167,232 166,234 165,234 164,235 162,236 160,236 160,237 159,239 159,241 160,242 160,243 162,244 164,244 166,244 168,244 170,244 172,244 174,245 176,245 177,245 179,246 181,246 183,246 185,246 187,246 189,245 190,245 191,244 194,243 195,243 196,242 198,241 198,241 198,239 198,237 197,236 196,235 195,234 194,233 193,232 192,230 191,230 189,229 187,229 185,228 184,228 183,228 181,227 179,227 177,227 174,227 172,227ZM717,200 717,200 719,200 720,200 721,201 723,201 724,202 725,204 725,205 725,205 725,207 723,207 721,208 719,208 717,208 715,208 714,207 714,205 714,202 715,202ZM663,211 664,210 666,211 666,211 667,213 667,215 668,217 668,218 668,219 669,222 669,224 670,224 672,225 673,226 674,226 676,228 676,230 676,230 676,230 676,232 674,234 673,234 672,234 672,234 670,234 668,232 668,231 667,230 667,228 666,227 665,226 664,225 663,224 662,222 662,219 662,218 661,217 661,215 661,213 662,212ZM296,217 298,217 300,217 302,216 304,216 306,216 308,216 311,216 313,216 315,217 317,217 319,217 321,217 323,217 325,217 326,217 328,218 330,219 331,219 332,220 334,220 336,222 336,222 337,224 337,226 337,228 337,230 337,232 336,234 335,234 334,235 332,236 330,236 328,236 328,237 325,237 323,237 323,236 321,236 319,235 317,234 317,234 315,234 313,234 311,234 308,234 306,234 304,234 303,234 302,235 300,235 298,235 296,234 296,234 295,232 294,230 294,228 294,227 293,226 293,224 293,222 294,220 294,219 296,218ZM823,222 823,221 825,220 827,220 830,220 832,220 834,220 836,220 838,220 840,220 842,220 845,220 847,220 847,222 847,224 847,226 847,228 847,230 847,232 847,233 845,233 842,233 840,233 838,233 836,233 834,233 833,234 832,235 830,236 829,236 827,237 825,238 824,239 823,239 821,241 821,241 819,242 817,241 816,241 815,239 815,239 813,237 812,236 810,236 808,235 807,234 806,233 806,232 805,230 806,228 806,228 808,226 809,226 810,225 813,225 815,225 817,224 819,224 821,224 821,223ZM575,264 576,264 579,263 581,263 583,263 584,264 585,265 587,266 587,266 589,267 590,268 591,269 592,270 593,273 593,275 592,277 592,279 591,281 591,281 591,283 589,285 589,285 587,286 585,287 584,287 583,289 582,290 581,292 581,292 579,292 578,292 577,290 576,289 575,287 574,286 574,285 573,283 573,281 572,279 572,279 570,277 570,276 570,275 570,273 570,271 570,270 572,268 572,268 574,266 574,265ZM782,264 783,264 785,263 787,263 789,263 791,263 793,263 796,264 796,264 796,266 796,268 795,268 795,270 794,273 793,275 793,275 791,276 790,277 789,277 787,278 785,278 783,278 781,278 780,277 779,275 778,275 778,273 778,270 779,270 780,268 781,266 781,266ZM136,281 136,281 138,281 138,281 138,281 136,282ZM662,294 664,293 666,293 668,293 670,294 670,294 672,294 674,294 676,295 679,295 681,296 683,296 683,296 685,297 687,298 687,299 688,300 689,302 689,303 691,304 691,305 692,307 691,309 691,309 689,310 687,311 687,311 685,312 683,313 681,313 679,313 679,313 676,314 674,314 672,314 671,313 670,312 669,311 668,310 667,309 666,307 666,306 664,305 663,304 662,304 660,302 659,301 659,300 659,298 659,296 660,296 662,294ZM549,298 551,297 553,296 555,297 557,298 557,299 558,300 559,302 559,302 562,303 564,304 565,304 566,305 566,307 566,309 566,310 564,311 564,311 562,311 559,311 557,311 555,311 553,311 552,311 551,310 550,309 549,307 549,304 549,303 549,302 548,300 549,299ZM561,330 562,329 564,329 566,330 566,330 568,332 568,332 568,334 568,334 566,336 564,336 562,336 560,334 559,333 559,332 559,332ZM486,332 487,332 488,332 489,333 491,334 492,334 494,335 496,336 497,336 498,337 500,338 501,339 502,339 504,340 505,341 506,343 506,343 508,345 508,345 511,346 513,346 515,347 515,347 517,348 519,349 520,349 521,351 520,353 519,355 519,356 518,358 517,359 516,360 515,361 514,362 513,363 511,363 508,362 507,362 506,361 504,361 502,360 502,360 501,358 500,356 499,356 498,354 496,354 494,354 492,353 491,353 489,353 487,352 485,352 485,351 484,349 484,347 483,345 483,343 483,343 483,341 483,340 483,339 484,336 484,334 485,333ZM262,398 264,397 266,397 267,398 268,399 269,400 269,402 270,404 270,406 270,407 271,409 270,411 270,411 270,413 269,415 268,417 268,417 267,419 266,422 266,422 264,422 263,422 262,420 261,419 260,417 260,415 259,414 259,413 259,411 259,409 259,407 259,406 260,404 260,402 261,400 262,399ZM493,494 494,493 496,493 498,494 498,494 500,496 500,496 502,497 504,497 505,498 506,498 508,500 509,500 511,501 513,502 513,502 515,504 515,505 516,507 517,509 517,509 518,511 518,513 517,515 517,516 516,517 516,519 515,521 515,522 514,524 513,524 511,524 509,524 508,524 506,521 506,521 505,519 504,519 502,518 501,517 500,517 498,515 497,515 496,514 494,513 493,513 493,511 492,509 491,507 491,506 491,504 491,502 491,501 491,500 492,498 493,496ZM509,577 511,576 513,576 515,576 516,577 517,577 519,577 521,578 521,579 522,581 523,583 523,583 524,585 525,587 525,590 524,592 523,593 523,594 522,596 521,598 520,598 519,599 517,598 517,598 515,596 515,596 513,595 511,594 511,594 508,592 508,592 508,590 507,587 507,585 507,583 507,581 508,579 508,577ZM483,596 483,596 485,595 487,595 488,596 489,598 489,600 490,600 491,602 492,602 494,603 496,603 498,603 500,604 502,604 504,604 505,604 506,607 506,608 506,609 507,611 507,613 507,615 506,616 505,617 504,618 502,618 500,618 498,617 497,617 496,617 494,616 491,615 491,615 490,613 489,611 489,611 487,610 486,609 485,608 485,607 484,604 484,602 483,600 483,600 482,598ZM408,704 408,704 411,704 411,704 413,705 415,705 417,706 419,706 419,707 419,709 419,709 417,710 415,711 414,711 413,711 411,711 408,711 408,711 406,710 405,709 404,707 406,705ZM373,713 374,711 376,711 378,713 379,715 379,715 379,717 379,719 380,721 380,724 381,726 381,727 381,728 383,729 385,729 386,730 387,732 387,732 388,734 388,736 388,738 389,741 389,743 389,745 387,746 385,747 383,746 381,745 381,744 380,743 380,741 380,738 379,736 379,734 379,734 377,732 376,731 374,730 374,730 373,728 372,727 372,726 372,724 372,721 372,719 372,718 372,717 373,715ZM391,749 391,748 393,749 393,751 391,752 391,751ZM323,760 323,758 325,758 327,760 328,760 330,762 331,762 332,762 334,763 336,764 336,764 338,766 338,766 340,768 340,770 340,770 342,773 342,773 343,775 343,777 342,779 342,779 340,780 338,779 336,779 334,779 332,779 332,779 330,777 329,777 328,775 328,773 327,773 325,772 323,771 323,770 322,768 322,766 322,764 322,762ZM394,764 396,764 398,763 400,763 402,763 403,764 404,765 405,766 405,768 406,770 406,773 406,774 406,775 407,777 408,779 408,780 411,780 412,781 413,782 413,783 413,785 413,787 413,788 411,789 408,789 406,788 404,787 404,787 402,786 400,786 398,786 396,786 394,786 392,785 391,785 391,783 390,781 389,781 389,779 388,777 388,775 389,773 389,771 390,770 391,768 391,766 391,766 394,764ZM446,815 447,815 449,814 451,813 453,813 455,814 457,814 459,815 460,815 462,816 463,817 463,819 463,821 463,824 463,826 462,828 462,828 459,829 457,830 457,830 455,831 453,831 451,831 449,831 447,831 445,830 445,830 442,828 442,828 442,826 442,824 442,821 442,819 442,818 443,817 445,816ZM426,841 428,840 430,840 431,841 432,841 434,841 436,842 438,843 438,843 439,845 438,847 438,848 438,849 437,851 437,853 436,854 434,854 432,853 432,853 431,851 430,850 429,849 428,848 426,847 425,846 425,845 425,843 425,841ZM399,843 400,842 402,843 402,843 402,843 400,845 400,845 400,845Z"/>
<path fill="#f58535" d="M650,177 651,177 653,177 655,177 657,177 659,177 662,177 664,177 666,177 668,177 670,177 672,177 674,177 676,177 679,177 681,177 683,177 685,177 686,177 686,179 686,181 686,183 686,185 686,187 685,190 685,190 683,192 683,192 681,192 679,193 677,194 676,195 676,196 674,198 674,198 672,199 670,200 669,200 668,201 666,201 664,201 662,201 660,200 659,200 657,199 655,198 655,198 654,196 653,194 653,194 652,192 651,190 651,190 650,187 650,185 650,183 650,181 650,179ZM229,196 230,196 232,196 233,196 234,197 236,198 236,198 238,199 240,199 242,198 243,198 245,196 245,196 247,196 249,196 249,196 251,198 251,199 252,200 253,202 253,204 253,205 254,207 254,209 254,211 254,213 254,215 255,217 255,218 257,219 258,219 259,221 260,222 261,224 262,225 262,226 264,227 266,227 267,228 268,229 269,230 269,232 270,234 270,236 270,236 271,239 271,241 272,243 272,243 274,244 275,245 277,246 277,247 278,249 279,250 280,251 281,252 283,253 284,253 285,255 286,256 286,258 287,259 288,260 289,261 291,261 293,262 294,263 294,264 295,266 296,268 296,268 298,269 300,269 302,269 303,268 304,268 306,268 308,268 311,268 311,268 313,269 315,269 317,270 318,270 319,271 320,273 320,275 321,276 322,277 323,278 325,278 328,278 330,278 332,278 334,278 335,279 336,280 337,281 337,283 338,285 339,285 340,286 342,287 344,287 345,288 345,290 346,292 346,294 346,296 346,298 345,300 345,300 342,301 340,302 338,302 336,302 334,302 332,301 330,300 329,300 328,298 328,297 327,296 325,295 323,294 323,294 321,293 321,292 320,290 319,288 318,287 317,287 315,286 313,286 311,286 308,286 306,286 305,285 304,285 303,283 303,281 302,280 301,279 300,278 298,278 296,279 296,280 295,281 295,283 295,285 296,287 296,287 296,290 297,292 298,294 298,294 300,295 301,296 302,297 303,298 303,300 303,302 303,304 303,307 303,309 304,310 305,311 306,312 308,312 310,313 311,314 311,315 312,317 313,318 314,319 315,320 317,321 318,322 319,322 320,324 320,326 321,327 322,328 323,329 325,329 328,329 330,330 331,330 332,330 334,331 336,331 338,331 340,331 342,331 345,332 345,332 346,334 347,334 349,335 351,335 353,334 353,334 354,332 355,331 356,330 357,329 359,329 362,329 364,329 366,329 368,329 370,329 372,329 374,329 376,329 379,328 380,328 381,328 383,327 385,327 387,326 387,326 389,324 389,323 391,322 391,321 394,321 396,320 398,320 400,320 402,320 404,320 405,319 406,319 408,319 411,319 413,319 414,319 415,320 417,320 418,322 419,322 420,324 420,326 421,328 421,329 422,330 422,332 422,334 423,336 423,339 423,339 424,341 424,343 424,345 423,346 423,347 423,349 423,351 423,352 425,353 427,353 428,353 430,355 430,356 432,358 432,358 432,360 432,362 432,364 432,366 433,368 434,370 434,371 436,373 436,373 437,375 437,377 436,379 436,379 434,381 434,381 433,383 432,385 432,386 431,387 430,389 428,390 428,390 425,391 425,392 424,394 424,396 424,398 424,400 424,402 424,404 424,407 424,409 424,411 424,413 423,414 423,415 422,417 421,419 421,419 419,420 417,420 415,421 413,421 412,422 411,422 408,422 406,422 404,422 402,422 400,422 398,422 396,422 394,422 391,422 389,422 387,422 385,422 383,422 381,422 381,421 379,421 376,420 374,421 373,422 372,422 370,424 370,424 369,426 369,428 368,430 368,430 366,432 366,432 365,434 364,436 364,438 364,439 363,441 363,443 363,445 362,447 362,449 362,451 362,453 362,456 362,458 362,460 362,462 362,464 362,466 362,468 362,470 362,473 363,475 364,477 364,477 364,479 364,481 364,482 363,483 363,485 362,487 362,489 361,490 359,490 357,491 355,491 353,491 351,491 349,490 348,490 347,488 346,487 346,485 346,483 346,481 346,479 345,477 345,475 345,473 344,473 344,470 343,468 342,468 340,467 338,468 338,468 337,470 336,472 335,473 334,473 332,473 332,473 331,470 330,468 330,466 330,465 329,464 329,462 328,460 328,458 328,456 327,456 327,453 327,451 328,451 328,449 329,447 330,446 330,445 331,443 332,441 332,440 334,439 334,439 335,436 335,434 334,432 334,432 332,430 332,430 331,428 330,426 330,426 328,424 327,424 325,423 323,423 321,423 319,423 317,423 315,422 313,422 313,421 311,419 311,419 309,417 308,416 306,415 306,415 304,413 304,413 303,411 303,409 302,407 302,405 302,404 301,402 301,400 302,398 302,397 302,396 303,394 303,392 303,390 303,387 303,385 303,383 303,381 304,379 304,378 305,377 305,375 306,373 306,372 308,371 308,370 309,368 310,366 309,364 308,364 306,363 305,362 304,361 304,360 303,358 302,356 301,356 300,355 298,354 297,353 296,352 295,351 294,349 294,348 292,347 291,346 289,346 288,345 287,344 287,343 286,341 285,340 284,339 283,338 281,337 280,336 279,335 278,334 277,332 277,331 275,330 274,330 272,329 270,329 268,329 266,329 264,328 263,328 262,327 261,326 261,324 261,322 261,319 261,317 261,315 261,313 261,311 260,309 260,307 259,306 257,306 255,306 253,306 253,307 252,309 251,310 250,311 249,312 247,312 246,313 245,314 244,315 243,317 242,319 242,319 240,320 238,322 238,322 237,324 237,326 237,328 237,330 237,332 237,334 237,336 237,339 237,341 237,343 236,345 236,346 236,347 235,349 235,351 234,352 233,353 232,354 230,355 228,355 226,356 225,356 223,356 221,356 219,356 218,356 217,355 215,355 213,355 211,354 208,354 206,354 204,354 203,353 202,352 201,351 200,349 200,349 198,348 196,347 196,347 194,345 194,343 193,343 193,341 193,339 193,336 193,334 192,332 192,330 191,330 190,328 189,328 187,326 187,326 187,324 186,322 186,319 185,317 185,315 185,314 185,313 185,311 184,309 184,307 184,304 183,302 183,300 183,298 183,296 183,296 182,294 182,292 182,290 182,287 182,285 182,283 182,281 182,279 183,277 183,276 184,275 184,273 184,270 184,268 184,266 184,264 183,262 183,261 183,260 182,258 182,256 183,254 183,253 185,252 186,251 187,251 189,250 191,249 192,249 193,247 194,247 196,246 198,245 198,245 200,243 200,243 201,241 201,239 201,236 200,234 200,233 199,232 199,230 198,228 198,228 196,227 194,226 192,226 191,226 189,225 187,225 185,224 185,224 185,224 185,222 187,221 189,220 191,220 192,219 194,219 196,219 198,218 199,217 200,216 201,215 201,213 202,212 203,211 204,210 206,209 207,209 208,208 209,207 211,205 211,204 213,203 215,203 215,202 217,202 219,201 221,200 221,200 223,199 225,198 226,198 228,197ZM400,355 398,356 398,356 397,358 397,360 398,361 399,362 400,362 402,363 404,363 406,363 408,363 411,362 411,362 413,361 413,360 413,358 413,356 412,356 411,355 408,355 406,354 404,354 402,355ZM716,205 717,204 718,205 717,205ZM475,211 476,210 479,211 479,211 480,213 480,215 480,217 480,219 480,222 480,224 479,226 479,227 478,228 476,229 475,230 474,231 474,232 473,234 472,235 472,236 471,239 471,241 470,242 469,243 468,243 466,244 465,245 464,247 464,249 464,249 462,251 462,253 460,253 459,254 458,256 457,258 457,258 456,260 455,262 455,262 454,264 453,266 453,266 451,267 450,268 449,269 447,270 447,271 446,273 445,274 443,275 442,275 440,276 438,276 437,277 436,277 434,277 432,278 430,279 429,279 428,280 425,280 423,280 421,279 421,279 419,278 417,278 415,277 415,276 414,275 414,273 414,270 414,268 414,266 413,264 413,262 413,261 412,260 412,258 412,256 412,253 412,251 412,249 413,247 413,247 414,245 415,244 417,243 417,243 419,242 420,241 421,239 421,238 423,236 423,236 425,236 428,235 430,235 432,234 433,234 434,234 436,233 437,232 438,230 438,230 440,228 440,228 442,227 445,227 447,226 447,226 449,224 449,224 450,222 451,221 453,221 455,220 456,219 457,219 459,219 462,218 464,218 466,217 467,217 468,217 470,216 471,215 472,213 472,213 474,211ZM301,219 302,219 304,219 306,218 308,218 311,219 313,219 314,219 315,220 317,220 319,220 321,220 323,220 325,220 328,222 328,222 328,224 329,226 329,228 329,230 328,232 328,232 325,233 323,233 321,232 321,232 320,230 319,228 318,228 317,227 315,227 313,228 311,228 311,228 308,228 306,228 304,228 303,228 302,228 300,227 298,226 298,226 297,224 297,222 298,221 300,220ZM824,226 825,225 827,225 829,226 830,226 831,228 832,229 832,230 832,231 831,232 830,234 829,234 827,235 825,235 823,236 821,236 820,236 819,237 817,236 817,236 815,235 813,234 813,234 810,233 809,232 808,231 808,230 808,230 810,229 812,228 813,228 815,227 817,227 819,227 821,226 823,226ZM131,228 132,228 134,227 136,227 138,227 140,227 142,227 145,227 147,227 149,227 150,228 151,229 151,230 152,232 151,234 151,235 151,236 150,239 150,241 149,242 148,243 147,244 145,244 142,245 141,245 140,245 138,245 136,245 134,245 133,245 132,245 130,244 128,244 125,244 123,244 121,244 119,244 117,244 117,243 117,241 117,239 117,236 117,234 117,232 117,230 117,229 119,229 121,229 123,229 125,229 128,229 130,228ZM672,230 672,230 673,230 672,231ZM577,266 579,265 581,265 583,266 583,266 585,268 586,268 587,269 589,269 591,270 591,272 592,273 592,275 591,277 591,277 590,279 590,281 589,282 588,283 587,284 585,285 584,285 583,286 581,287 579,287 577,285 576,285 576,283 575,281 575,279 574,278 574,277 573,275 573,273 574,270 574,270 575,268 576,267ZM784,268 785,268 786,268 787,269 789,270 789,272 789,273 789,273 789,275 787,276 785,277 785,277 784,277 783,277 781,275 780,275 780,273 781,271 781,270 783,269ZM663,296 664,295 666,295 668,295 670,295 672,296 674,296 675,296 676,296 679,297 681,298 683,298 683,298 684,300 685,301 685,302 687,304 687,306 687,307 687,307 687,309 685,310 683,311 683,311 681,311 679,311 676,312 674,312 672,311 671,311 670,310 669,309 669,307 668,305 667,304 666,304 664,303 663,302 662,301 661,300 661,298 662,297ZM552,300 553,299 555,299 556,300 557,302 557,303 559,304 561,304 562,305 564,305 565,307 565,309 564,310 562,310 559,310 557,310 555,310 553,310 552,309 551,307 551,307 551,304 551,303 551,302ZM561,332 562,331 564,331 566,332 566,332 566,333 565,334 564,335 562,335 561,334ZM487,336 487,336 488,336 489,337 491,337 494,337 496,338 497,339 498,339 500,341 500,342 501,343 502,345 502,345 504,346 506,347 506,347 508,348 511,348 513,349 514,349 515,350 515,351 515,353 515,355 515,356 514,358 513,360 513,360 511,360 509,360 508,359 507,358 506,356 506,356 504,355 502,354 501,353 500,353 498,352 496,352 494,352 491,351 490,351 489,351 487,351 486,349 485,348 485,347 484,345 484,343 484,341 485,339 485,337ZM264,407 264,407 266,407 266,407 267,409 267,411 266,413 264,413 263,411 263,409ZM373,492 374,491 376,492 378,492 379,492 381,492 383,493 385,494 385,494 386,496 386,498 385,500 385,502 385,504 385,507 385,509 385,511 385,512 385,513 383,514 381,515 381,515 379,517 379,518 377,519 376,521 374,521 374,519 373,517 373,515 373,513 372,511 372,509 372,508 372,507 372,504 372,502 371,500 371,498 370,496 370,496 370,494 370,494 372,492ZM495,500 496,499 498,499 500,499 502,499 504,500 506,500 506,501 508,502 508,503 509,504 511,505 512,507 513,507 515,509 515,509 516,511 516,513 515,515 515,516 514,517 513,519 513,521 512,521 511,522 510,521 509,519 508,519 507,517 506,517 504,516 502,516 500,515 500,515 498,513 498,512 497,511 496,509 496,508 494,507 494,505 493,504 493,502 494,502ZM347,509 349,508 351,508 351,509 352,511 351,513 351,513 349,513 348,513 347,512 346,511 347,510ZM516,583 517,583 519,583 520,583 521,584 522,585 523,587 523,587 523,589 523,590 522,592 521,593 519,594 519,594 519,594 517,593 515,592 513,592 513,591 511,590 510,590 510,587 511,586 511,585 513,584 515,584ZM501,611 502,610 503,611 504,612 504,613 504,615 504,615 502,615 501,615 500,614 499,613 500,612ZM410,707 411,706 412,707 413,707 415,709 413,709 411,709 410,709ZM374,717 374,717 376,716 377,717 377,719 378,721 379,723 379,724 379,726 379,726 378,728 376,729 374,728 374,728 373,726 373,724 373,721 374,719ZM382,732 383,732 384,732 385,733 385,734 386,736 387,738 387,740 387,741 387,743 387,743 385,745 383,744 382,743 382,741 381,738 381,736 382,734ZM325,764 325,763 328,763 330,764 332,764 333,764 334,764 336,766 336,766 337,768 337,770 337,773 337,775 336,776 335,777 334,777 333,777 332,776 331,775 330,773 330,773 328,771 327,770 325,769 324,768 324,766ZM396,766 398,765 400,765 402,765 403,766 404,768 404,769 404,770 405,773 405,775 405,777 405,779 405,781 404,782 402,782 400,782 398,782 396,782 394,782 391,781 391,781 390,779 389,777 389,777 389,775 389,775 390,773 391,770 391,770 394,769 394,768 396,767ZM406,783 406,783 408,783 410,783 411,785 411,785 411,785 408,786 407,785 406,784ZM449,815 449,815 451,814 453,814 455,815 456,815 457,815 459,816 462,817 462,817 462,819 462,821 462,824 462,825 461,826 459,828 459,828 457,828 455,830 454,830 453,830 451,830 449,830 449,830 447,828 446,828 445,826 445,824 445,821 445,819 446,817 447,817Z"/>
<path fill="#e9532b" d="M654,177 655,177 657,177 659,177 662,177 664,177 666,177 668,177 670,177 672,177 674,177 676,177 679,177 681,177 683,177 684,177 684,179 684,181 684,183 684,185 683,187 683,189 682,190 681,190 679,191 678,192 676,192 674,194 674,194 672,195 670,196 670,196 668,198 667,198 666,199 664,199 662,198 662,198 660,196 659,195 658,194 657,193 655,192 655,192 654,190 654,187 654,185 654,183 654,181 654,179ZM226,202 228,202 230,202 232,202 234,202 235,202 236,203 238,203 240,203 242,203 243,202 245,202 247,202 249,202 249,202 250,205 250,207 250,209 250,211 250,213 250,215 251,217 251,218 251,219 252,222 252,224 252,226 252,228 252,230 252,232 253,234 254,234 255,235 257,235 259,235 262,235 264,235 266,236 266,236 267,239 267,241 268,243 268,244 268,245 269,247 269,249 270,251 271,251 272,252 274,253 275,253 277,255 277,256 277,258 278,260 278,262 278,264 278,266 278,268 278,270 278,273 278,275 279,276 279,277 281,278 283,278 284,279 285,280 286,281 286,283 287,285 288,285 289,286 291,287 292,287 293,290 293,292 293,294 294,295 294,296 294,298 295,300 296,302 296,302 298,303 300,304 300,305 300,307 301,309 301,311 302,312 303,313 304,314 306,314 308,315 308,315 309,317 311,319 311,319 313,321 313,322 315,323 317,324 317,324 318,326 318,328 319,329 320,330 321,331 323,331 325,332 327,332 328,333 329,334 330,336 330,336 332,337 334,337 336,337 338,337 340,338 342,338 345,338 346,339 347,339 349,339 351,339 353,339 354,339 355,338 357,338 359,338 362,337 364,337 366,337 368,337 370,337 372,337 374,337 376,337 377,336 379,335 379,334 380,332 381,332 383,331 385,330 386,330 387,329 389,328 391,328 391,328 394,327 396,328 396,328 398,328 400,329 402,329 404,328 404,327 405,326 406,324 406,323 408,323 411,323 413,323 413,324 414,326 415,327 415,328 417,329 418,330 419,331 419,332 420,334 420,336 420,339 420,341 420,343 419,345 419,345 417,346 415,346 413,346 411,346 408,346 407,345 406,344 405,343 405,341 404,339 403,339 402,338 400,338 399,339 398,340 397,341 396,343 396,344 395,345 394,346 391,346 391,347 389,348 389,349 388,351 388,353 388,356 388,358 388,360 389,361 390,362 391,363 394,364 394,364 396,365 396,366 397,368 398,370 398,370 400,371 402,371 404,372 406,372 408,371 411,371 412,370 413,370 414,368 414,366 415,365 416,364 417,364 419,363 421,362 421,361 422,360 423,358 423,357 425,357 428,357 428,358 429,360 429,362 429,364 429,366 429,368 429,370 430,371 430,373 430,375 430,377 430,379 430,380 429,381 429,383 428,385 428,386 425,387 424,387 423,388 421,390 421,390 421,392 421,394 420,396 420,398 420,400 420,402 420,404 420,407 420,409 420,411 419,413 419,413 417,414 415,415 415,416 414,417 413,418 411,419 411,420 408,420 406,420 404,420 402,420 400,420 398,420 396,420 394,420 391,420 389,420 387,420 385,420 383,420 382,419 381,419 379,417 379,417 376,416 374,416 372,417 372,417 370,419 370,420 368,422 368,422 366,423 365,424 364,425 363,426 362,428 362,430 362,431 361,432 361,434 361,436 361,439 360,441 360,443 360,445 360,447 360,449 360,451 360,453 360,456 360,458 360,460 360,462 360,464 360,466 360,468 360,470 360,473 360,475 361,477 361,479 360,481 359,481 357,482 356,481 355,480 354,479 354,477 353,475 353,475 351,474 349,473 349,473 348,470 347,468 347,468 346,466 345,465 343,464 342,464 340,463 338,462 338,462 337,460 336,458 336,458 334,457 332,456 332,456 331,453 331,451 332,449 332,449 334,448 336,447 336,446 337,445 337,443 338,441 338,439 338,439 339,436 339,434 338,432 338,431 338,430 337,428 336,426 336,426 334,425 332,424 332,424 330,423 328,422 328,421 325,420 323,420 321,420 319,420 317,420 315,420 314,419 313,417 313,417 312,415 311,414 309,413 308,413 306,411 306,411 305,409 305,407 304,406 304,404 303,402 303,400 304,398 304,397 305,396 305,394 306,392 306,390 306,387 306,385 306,383 306,382 307,381 308,379 309,379 310,377 310,375 311,374 311,373 312,370 313,369 313,368 313,366 314,364 315,364 317,362 317,362 318,360 318,358 319,356 319,355 319,353 320,351 320,349 319,348 318,347 317,346 315,346 313,346 311,346 308,346 306,346 304,346 302,346 300,346 298,345 297,345 296,344 295,343 294,341 294,340 292,339 291,338 289,337 288,336 287,335 287,334 286,332 285,331 284,330 283,329 281,328 280,328 279,327 278,326 277,324 277,322 276,322 274,321 272,320 271,319 270,319 269,317 269,315 269,313 269,311 269,309 269,307 268,305 267,304 266,304 264,303 262,303 260,302 259,302 257,302 255,302 253,302 252,302 251,303 249,303 247,304 246,304 245,306 244,307 243,309 242,310 241,311 240,312 238,313 238,313 237,315 236,317 236,318 236,319 234,322 234,323 234,324 233,326 233,328 233,330 233,332 233,334 233,336 233,339 233,341 233,343 232,345 232,345 230,346 228,347 228,348 227,349 226,351 225,351 223,352 221,352 219,351 219,351 218,349 217,348 216,347 215,346 213,346 211,346 208,346 206,346 204,346 202,345 201,345 200,345 198,344 196,343 196,343 195,341 195,339 195,336 195,334 195,332 195,330 194,328 194,327 193,326 192,324 191,322 191,322 189,320 188,319 187,317 187,317 187,315 187,313 187,311 186,309 186,307 186,304 185,302 185,302 185,300 185,298 185,296 184,294 184,292 184,290 184,287 184,285 184,283 184,281 185,279 185,279 187,277 187,277 189,276 190,275 191,273 191,270 191,270 192,268 192,266 192,264 191,263 191,262 189,261 187,260 187,260 186,258 186,256 187,255 189,254 191,254 192,253 194,253 196,253 198,252 199,251 200,250 201,249 201,247 202,245 202,245 203,243 203,241 203,239 203,236 203,234 203,232 203,230 202,228 202,227 202,226 201,224 202,222 202,221 203,219 204,219 206,218 208,217 208,217 209,215 210,213 211,212 212,211 213,210 215,210 216,209 217,208 218,207 219,205 219,205 221,203 223,203 225,203ZM475,215 476,213 478,215 478,217 479,219 479,220 479,222 479,222 478,224 476,225 475,226 474,226 472,228 472,229 472,230 471,232 470,234 470,236 470,236 469,239 468,241 468,241 466,242 465,243 464,244 463,245 462,247 462,249 461,249 459,251 459,251 457,252 456,253 455,255 455,256 454,258 453,260 453,260 451,262 451,262 450,264 449,266 449,266 447,268 447,269 445,270 444,270 442,271 440,272 440,273 438,274 437,275 436,275 434,275 432,276 430,277 430,277 428,278 425,278 423,277 423,277 421,275 421,275 421,273 421,270 421,270 421,268 422,266 422,264 421,263 420,262 419,261 417,260 417,260 416,258 415,256 415,253 415,251 416,249 416,247 417,246 419,245 419,245 421,244 422,243 423,241 424,241 425,239 425,238 428,238 430,238 432,237 434,237 436,237 436,236 438,235 439,234 440,233 441,232 442,230 442,230 445,229 447,229 449,228 449,228 451,227 453,226 454,226 455,225 456,224 457,222 458,222 459,221 462,221 464,221 466,220 468,220 470,220 471,219 472,219 474,217 474,217ZM305,222 306,221 308,221 310,222 310,224 308,225 306,225 304,224ZM135,230 136,230 138,229 140,229 142,229 145,229 147,230 147,230 148,232 147,234 147,234 145,236 143,236 142,237 142,239 141,241 140,241 138,242 136,242 134,241 134,241 133,239 133,236 133,234 133,232 134,231ZM816,230 817,230 819,229 821,229 823,229 825,229 827,229 828,230 828,232 827,232 825,233 823,233 821,233 819,233 817,233 815,232ZM577,270 579,269 581,268 583,269 585,270 587,270 588,270 589,271 590,273 590,275 590,277 589,278 588,279 587,280 585,281 585,281 583,283 582,283 581,284 579,284 578,283 578,281 577,279 576,278 576,277 576,275 576,273 576,271ZM304,273 304,273 306,272 308,272 311,273 311,273 311,275 311,276 310,277 308,278 306,277 306,277 304,275 304,275ZM783,273 785,272 785,273 785,274ZM664,298 666,298 668,298 670,298 672,298 674,298 675,298 676,299 677,300 679,302 679,302 681,303 683,304 683,305 684,307 683,308 682,309 681,309 679,309 676,309 674,309 672,309 672,309 671,307 671,304 670,303 669,302 668,302 666,301 664,300ZM555,304 555,304 555,304 557,306 559,306 561,307 559,308 557,308 555,308 553,307ZM486,341 487,340 489,340 491,340 494,340 496,341 496,341 497,343 496,345 496,345 494,346 491,346 489,346 487,345 487,345 486,343ZM375,494 376,494 377,494 379,495 379,496 380,498 380,500 380,502 380,504 380,507 380,509 380,511 379,513 379,513 376,515 375,513 374,512 374,511 374,509 374,507 374,504 374,502 374,500 374,498 373,496 374,494ZM500,502 502,502 504,502 504,502 506,504 506,506 507,507 508,508 509,509 511,509 513,511 513,511 513,513 513,514 511,515 511,516 509,515 508,515 506,514 504,514 502,513 502,513 501,511 500,509 500,508 500,507 499,504 500,503ZM517,587 519,587 521,587 521,590 519,590 517,590ZM331,766 332,766 332,766 334,767 334,768 334,770 332,770 330,768ZM398,768 400,767 402,768 402,768 403,770 403,773 404,775 404,777 403,779 402,780 400,780 398,780 396,780 394,780 391,779 391,779 391,777 391,775 391,773 391,773 394,771 396,771 396,770 398,769ZM449,817 449,817 451,816 453,816 455,816 457,817 459,817 459,818 460,819 460,821 459,823 459,824 458,826 457,826 456,828 455,828 453,829 451,829 449,828 449,828 448,826 448,824 448,821 448,819Z"/>
<path fill="#d7262b" d="M661,177 662,177 664,177 666,177 668,177 670,177 672,177 674,177 676,177 678,177 678,179 678,181 678,183 677,185 677,187 676,189 676,190 674,191 672,191 670,191 669,192 668,192 666,192 664,192 663,192 662,190 661,190 661,187 661,185 661,183 661,181 661,179ZM459,228 459,227 462,227 463,228 464,229 464,230 465,232 465,234 465,236 465,239 464,241 464,241 462,243 462,243 459,244 458,245 457,245 456,247 456,249 455,250 453,251 453,252 451,253 449,253 449,254 448,256 448,258 447,260 447,261 446,262 446,264 445,266 445,267 442,268 440,268 439,268 438,269 436,269 434,269 432,269 431,268 431,266 430,264 430,263 429,262 428,261 425,260 425,260 423,258 423,258 422,256 422,253 422,251 422,249 423,247 423,247 425,245 425,245 428,244 430,244 432,244 434,244 436,244 438,243 438,242 439,241 440,239 440,238 442,236 442,236 445,235 447,235 449,235 451,235 453,235 455,234 455,234 456,232 457,230 457,229ZM203,253 204,253 206,252 208,252 211,252 213,252 215,252 217,252 219,252 221,252 223,252 225,252 228,252 230,252 232,252 234,252 236,252 238,252 240,253 242,253 242,254 243,256 244,258 245,259 245,260 247,261 249,261 251,261 253,261 255,261 257,261 259,262 259,263 260,264 261,266 261,268 261,270 261,273 261,275 261,277 261,279 261,281 260,283 259,285 259,285 257,286 255,287 254,287 253,288 252,290 252,292 251,293 250,294 249,295 247,295 246,296 245,297 244,298 243,300 242,301 241,302 240,303 238,304 237,304 236,305 235,307 235,309 234,311 234,312 234,313 233,315 233,317 232,319 232,319 230,321 228,322 228,322 227,324 227,326 227,328 227,330 226,332 226,334 225,336 225,336 223,337 221,337 219,337 217,337 215,337 213,337 211,337 208,337 206,337 204,337 203,336 202,336 201,334 201,332 201,330 201,328 201,326 201,324 201,322 201,319 201,317 201,315 200,314 199,313 198,312 196,312 194,311 194,310 193,309 192,307 191,305 191,304 189,303 188,302 187,301 187,300 187,298 187,296 187,294 187,292 186,290 186,287 186,285 187,283 187,281 187,281 189,280 191,279 191,279 193,277 194,276 194,275 194,273 195,270 196,270 198,269 199,268 200,267 200,266 201,264 201,262 201,260 201,258 202,256 202,255ZM425,270 425,270 428,270 430,269 431,270 430,273 430,274 429,275 428,275 425,275 425,275 424,273ZM578,273 579,272 581,271 583,272 585,272 587,272 587,273 588,275 587,276 585,277 584,277 583,277 581,277 580,277 579,276 578,275ZM271,287 272,287 274,287 276,287 277,288 277,290 277,292 277,293 276,294 274,295 272,295 271,294 270,293 269,292 269,290 270,288ZM296,322 298,321 300,320 302,320 304,320 306,321 308,321 309,322 311,324 311,324 311,326 311,327 310,328 308,329 306,329 305,330 304,331 303,332 303,334 302,336 301,336 300,337 298,337 297,336 296,335 295,334 295,332 295,330 295,328 295,326 295,324 296,322ZM389,332 391,331 394,331 396,332 396,332 396,334 396,335 394,336 394,337 391,337 389,337 388,336 388,334 389,332ZM382,339 383,338 385,338 387,338 388,339 388,341 388,343 387,344 386,345 385,345 383,346 381,346 380,345 380,343 380,341 381,340ZM330,347 332,346 334,346 336,346 338,346 340,346 342,346 345,346 347,346 349,346 351,346 353,346 355,346 357,346 359,346 362,346 364,346 366,346 368,346 370,346 372,346 374,346 376,346 379,346 380,347 380,349 380,351 380,353 380,356 380,358 380,360 380,362 380,364 380,366 380,368 381,370 381,370 383,371 385,372 387,373 387,373 388,375 388,377 388,379 388,381 388,383 388,385 387,387 387,387 385,388 383,388 381,389 379,389 376,389 374,389 373,390 372,390 372,392 372,394 372,395 373,396 374,397 376,397 379,397 381,397 383,397 385,397 387,398 387,399 388,400 388,402 388,404 388,407 388,409 388,411 387,412 386,413 385,414 383,414 381,413 379,413 379,413 376,412 374,412 372,413 371,413 370,413 368,414 366,414 364,415 364,416 363,417 362,419 362,420 360,422 359,422 357,423 356,424 355,424 354,426 354,428 353,429 352,430 351,431 349,431 347,430 347,429 346,428 345,426 345,424 344,424 342,423 340,422 338,422 337,422 336,421 334,421 332,420 330,419 330,419 329,417 328,416 327,415 325,414 323,414 321,414 319,414 317,414 315,413 314,413 313,411 312,411 311,409 311,407 310,407 308,406 307,404 306,404 306,402 306,400 306,399 307,398 308,397 310,396 311,395 311,394 312,392 312,390 312,387 312,385 312,383 312,381 313,380 313,379 313,377 314,375 315,373 315,373 317,371 319,370 319,370 320,368 320,366 321,364 321,363 321,362 322,360 322,358 323,356 323,355 325,354 327,353 328,353 328,351 329,349 330,348ZM340,355 339,356 338,356 337,358 337,360 337,362 337,364 337,366 337,368 338,370 339,370 340,371 342,371 344,370 345,370 345,368 346,366 347,365 347,364 349,363 351,363 352,362 353,361 354,360 354,358 353,356 352,356 351,355 349,355 347,354 345,354 342,355ZM407,381 408,380 411,380 412,381 413,382 413,383 413,385 413,387 412,387 411,388 408,388 407,387 406,387 406,385 406,383 406,382ZM347,449 349,448 351,448 352,449 353,450 354,451 354,453 354,456 354,458 354,460 354,462 353,463 352,464 351,465 349,464 349,464 347,462 346,462 346,460 346,458 346,456 346,453 346,451 347,450ZM399,773 400,772 400,773 402,775 401,777 400,777 398,777 396,777 394,777 393,777 393,775 394,774 396,774 398,773ZM450,819 451,818 453,818 455,819 456,819 455,821 455,823 455,824 454,826 453,827 451,826 451,826 450,824 450,821Z"/>
<path fill="#b31821" d="M227,268 228,268 230,268 232,268 234,268 235,268 236,269 238,269 240,270 242,270 242,271 243,273 243,275 244,277 244,279 244,281 244,283 244,285 244,287 243,290 243,292 242,292 241,294 240,294 238,295 236,295 234,295 232,295 230,295 228,296 228,297 227,298 226,300 225,302 225,302 223,303 221,303 219,303 217,303 215,303 213,303 211,302 211,302 210,300 209,298 208,297 208,296 206,295 204,295 203,294 202,293 201,292 201,290 201,287 201,285 201,283 201,281 201,279 201,277 201,275 202,273 202,272 203,270 204,270 206,269 208,269 211,269 213,269 215,269 217,269 219,269 221,269 223,269 225,269ZM339,381 340,380 342,380 345,380 347,380 349,380 351,380 352,381 353,382 354,383 355,385 355,386 357,387 357,388 359,389 361,390 362,390 362,392 363,394 363,396 363,398 363,400 362,402 362,404 361,404 359,405 357,406 357,407 355,408 355,409 354,411 353,412 352,413 351,414 349,414 347,413 347,412 346,411 345,409 345,408 343,407 342,406 340,405 339,404 338,404 337,402 337,400 337,398 337,396 337,394 337,392 337,390 337,387 337,385 337,383 338,382Z"/>
<path fill="#8e141b" d="M227,273 228,273 230,272 232,272 234,273 234,273 235,275 234,276 233,277 232,278 230,278 228,277 228,276 227,275ZM347,390 349,389 351,389 352,390 353,391 354,392 354,394 354,396 354,398 354,400 354,402 353,403 352,404 351,405 349,405 348,404 347,403 346,402 346,400 346,398 346,396 346,394 346,392 347,390Z"/>
</g>
<g clip-path="url(#mc)" fill="none" stroke="#000" stroke-linejoin="round" stroke-linecap="round"><path stroke-width="1.1" d="M124.0,214.0 128.6,211.3 134.5,210.1 139.1,212.5 147.2,212.5 155.4,211.9 160.0,211.3 165.8,211.9 170.5,210.5 174.6,211.3 173.4,206.1 171.6,203.8 174.0,199.1 169.9,196.8 164.7,196.2 162.3,193.3 164.1,188.6 163.5,185.7 164.1,184.0M164.1,188.6 172.8,189.6 178.6,186.9 184.4,188.1 189.1,184.9M124.0,249.7 131.0,250.8 141.4,251.2 153.1,250.8 162.3,251.6 172.8,251.2 178.6,253.1 182.1,256.1 182.7,258.4 178.0,259.5 176.3,264.2 174.0,270.0 170.5,271.2 167.0,274.1 164.7,275.8 161.2,276.4 157.7,277.5 153.6,280.5 151.9,285.7 154.2,290.9 156.0,296.1 156.5,300.2 158.9,298.5 161.2,303.0M166.4,303.0 168.7,295.6 170.5,292.1 171.1,286.8 175.1,286.3 178.0,286.0 179.8,292.1 180.9,297.9 181.5,303.0M243.0,238.6 238.5,241.5 235.0,244.4 233.8,249.1 237.3,253.7 235.6,259.5 230.9,266.5 227.4,273.5 225.1,279.3 222.8,282.8 217.0,279.9 210.0,279.3 205.3,279.9 203.6,277.5 205.3,282.8 205.3,290.9 203.0,297.9 199.0,303.0M243.0,238.6 244.2,235.1 247.1,230.5 245.3,224.7 245.9,218.9 250.0,216.0 256.9,211.9 263.9,207.2 269.7,202.6 276.7,200.3 283.7,199.1 287.2,201.4 289.5,204.9 294.1,204.9 291.8,200.3 288.9,195.6 289.5,191.0 294.1,188.1 299.9,185.2 301.1,184.0M318.5,184.0 320.9,189.8 323.2,195.0 325.5,192.1 331.3,193.3 332.5,201.4 332.5,210.7 333.1,218.9 331.3,224.7 329.0,229.3 330.7,234.0 326.7,237.5 323.2,240.9 318.5,241.5 316.2,246.8 311.6,250.2 308.7,254.9 308.7,258.4 304.6,261.3 304.0,267.7 307.5,271.2 308.1,275.8 304.0,280.5 306.9,282.5 312.7,278.7 318.5,277.0 324.3,276.7 336.0,276.0 332.5,280.5 331.9,283.9 334.8,286.8 334.8,290.9 336.5,294.4 337.1,299.0 341.8,300.2 349.9,300.8 351.7,303.0M481.0,297.3 485.6,295.6 490.3,294.4 493.8,296.7 495.5,300.2 499.6,303.0M756.2,303.0 756.2,295.6 759.7,293.8 765.5,290.9 771.3,288.0 777.1,286.3 781.8,283.9 787.6,278.1 793.4,274.1 795.7,270.0 793.4,267.7 788.7,268.3 794.5,265.3 800.3,265.3 805.0,264.2 809.6,260.7 813.1,256.1 817.8,252.6 821.3,249.1 823.6,244.4 827.1,240.9 829.4,237.5 830.6,232.8 828.2,229.3 830.6,224.7 834.0,223.5 836.4,221.2 838.0,218.9M838.0,213.1 834.0,215.4 830.6,218.9 829.4,213.1 831.7,211.3 835.2,211.9 838.0,210.7M827.7,287.4 829.4,288.6 828.2,290.3 827.1,288.6 827.7,287.4M825.3,293.8 826.5,294.4 825.7,295.3 825.3,293.8M180.9,303.0 182.7,307.6 184.4,313.5 186.2,320.4 187.3,327.4 186.8,335.5 187.3,343.7 184.4,342.5 181.5,340.2 178.6,341.3 176.9,344.8 178.0,349.5M198.4,303.0 199.0,308.8 200.1,315.8 199.5,321.6 196.6,324.5 193.7,328.0 192.6,325.7 189.1,323.9 186.8,323.3M141.4,309.4 146.1,312.3 150.7,311.1 155.4,309.4 160.0,308.8 163.5,312.3 165.8,316.9 167.6,321.6 168.2,327.4 168.7,332.1 170.5,336.7 172.2,341.3 174.0,346.0 176.3,349.5 179.2,353.0 182.1,357.0 184.4,359.9 187.3,363.4 189.1,366.3 191.4,369.2 193.7,371.6 196.1,372.7 198.4,373.9 200.7,375.1 204.2,373.9 207.7,376.2 211.2,377.4 213.5,379.7 212.3,383.2 215.8,384.3 219.3,387.8 221.0,391.3 220.5,394.8 221.6,399.5 223.9,402.9 225.1,406.4 226.8,411.1 228.6,415.1 230.3,419.2 231.5,422.0M125.2,326.2 128.6,330.9 132.1,328.0 135.6,329.1 139.1,326.2 142.6,328.0 144.9,322.8 142.6,318.1 141.4,313.5 141.4,309.4M131.0,326.2 134.5,322.8 137.9,320.4 139.1,315.8 137.9,313.5M147.2,325.1 149.6,320.4 151.9,316.9 150.7,313.5 149.0,311.1M158.3,314.0 160.0,312.9 161.4,315.2 161.0,318.1 158.9,317.9 158.3,314.0M195.5,370.4 198.4,372.7 200.7,378.5 198.4,379.1 196.6,375.1 195.5,370.4M197.2,361.1 196.6,365.8 194.9,369.8M207.7,389.0 212.3,385.5 217.0,387.8 219.3,392.5 217.0,396.0 212.3,394.8 208.8,392.5 207.7,389.0M212.3,389.0 215.8,389.6 217.0,391.9 214.1,392.5 212.3,389.0M208.3,402.4 210.6,401.2 213.5,404.1 211.2,405.8 208.3,402.4M217.0,396.0 219.3,398.3 221.0,401.2 222.8,402.4M351.7,303.0 349.9,306.5 347.0,310.0 347.6,314.6 344.7,319.3 342.9,323.7 347.6,323.9 354.6,325.1 360.4,326.2 362.0,328.0M362.0,363.4 356.9,365.2 352.2,366.3 349.9,365.8 351.1,369.2 348.8,372.1 342.9,371.6 340.0,373.9 339.5,378.0 334.8,379.7 329.0,380.6 323.2,382.0 318.5,380.3 315.6,379.7 314.5,383.2 311.6,385.5 309.8,389.0 310.4,392.5 309.2,396.0 308.7,400.6 309.2,405.3 308.1,408.8M299.4,408.2 301.7,411.1 301.1,413.4 304.6,414.6 306.3,419.2 307.5,422.0M362.0,333.8 366.6,337.9 372.5,339.0 379.4,336.7 385.2,334.4 389.3,333.4 391.1,339.0 393.4,346.0 399.2,346.6 405.0,347.2 405.6,341.3 404.4,333.2 402.1,326.2 400.3,321.6 402.7,316.9 407.3,317.5 413.1,316.4 416.0,318.1 418.9,313.5 422.4,309.4 427.1,311.1 431.7,314.6 435.2,315.8 438.7,312.9 443.3,308.8 445.7,312.3 449.2,308.8 453.8,311.7 457.3,314.0 460.8,308.2 464.3,307.6 466.6,308.8 471.2,307.1 476.5,305.3 478.2,303.0 481.0,299.7M389.3,333.4 389.3,337.9 385.2,342.5 379.4,346.0 377.1,351.8 378.3,354.1 372.5,355.9 367.8,358.8 365.5,363.4 366.6,368.1 370.1,366.3 374.2,370.4 375.9,373.9 373.0,378.5 371.9,382.0 374.8,384.9 379.4,386.7 385.2,384.3 393.4,385.5 391.6,390.2 393.4,396.0 394.5,401.8 392.2,407.6 389.3,412.2 389.9,419.2 390.5,422.0M362.0,363.4 365.5,367.5 366.6,368.1M416.0,318.1 417.8,322.8 422.4,327.4 425.9,332.1 428.8,335.5 430.6,330.9 433.5,334.4 432.9,339.0 430.6,343.7 434.1,348.3 438.7,353.0 443.3,355.3 448.0,357.0 451.5,357.6 455.0,354.1 459.6,352.4 464.3,352.4 468.9,356.5 471.8,359.9 467.8,363.4 470.1,365.2 474.1,366.3 474.1,369.8 478.2,370.4 480.5,372.7 478.2,377.4 476.5,378.5 473.6,383.2 466.6,382.6 460.8,383.2 459.6,386.7 456.7,390.7 460.8,393.6 466.6,397.1 472.4,400.6 477.0,402.9 481.0,403.5M435.2,422.0 437.5,416.9 442.2,412.8 446.8,411.7 451.5,412.8 456.1,415.7 459.6,419.2 461.9,422.0M500.8,303.0 504.2,304.7 510.1,304.2 514.7,305.9 520.5,305.3 524.0,307.6 523.4,311.1 520.5,314.0 519.9,318.1 521.7,322.2 523.4,326.8 527.5,328.0 531.0,330.9 535.6,333.8 542.6,336.1 548.4,336.7 553.1,337.9M550.7,337.9 547.2,341.3 543.8,343.7 539.1,346.0 535.6,349.5 531.0,351.2 525.2,351.8 520.5,351.2 521.1,355.3 521.7,358.8 519.9,363.4 518.2,368.1 514.7,370.4 510.1,372.7 506.6,375.1 504.2,377.4 502.5,382.0 501.3,386.7 500.8,391.3 498.4,396.0 496.7,399.5 498.4,402.9 501.3,406.4 504.2,409.9 507.7,413.4 511.2,416.9 514.7,419.8 517.0,422.0M520.5,350.6 525.2,354.1 529.8,353.0 532.1,356.5 529.8,357.0 526.3,355.3 522.8,354.7 520.5,353.0 520.5,350.6M521.7,351.8 527.5,352.4 531.0,354.7M539.1,343.7 542.6,343.1 545.5,346.0 544.3,350.6 541.4,355.3 539.1,356.5 537.9,353.0 539.7,349.5 539.1,343.7M540.8,346.0 543.2,347.2 542.6,351.8 540.3,354.1M547.2,349.5 549.6,350.1 548.4,351.8 546.7,350.9 547.2,349.5M532.7,359.4 534.5,359.9 533.3,360.8 532.7,359.4M551.3,344.8 552.8,345.4 551.9,346.2 551.3,344.8M546.1,371.0 547.5,371.6 546.7,372.4 546.1,371.0M503.1,389.0 504.5,389.6 503.7,390.4 503.1,389.0M504.0,402.9 505.2,403.3 504.5,404.1 504.0,402.9M553.1,337.9 556.5,337.3 560.0,336.1 562.3,336.7 564.7,334.4 566.4,330.3 568.2,332.1 570.5,334.4 573.4,333.2 574.0,336.1 577.5,336.1 579.8,337.9 580.9,340.8 584.4,340.2 587.9,338.4 590.2,337.9 589.7,334.4 591.4,333.8 592.6,336.7 596.0,337.9 600.0,340.2M557.7,336.7 561.2,334.4 564.7,332.1 567.0,330.9M579.2,348.9 580.7,349.5 579.8,350.6 579.2,348.9M581.5,352.7 582.7,353.2 581.9,353.9 581.5,352.7M600.0,340.2 596.0,343.1 593.7,347.2 593.1,353.0 595.5,357.6 597.2,362.3 599.0,366.3 600.0,367.5M600.0,375.1 594.9,375.6 590.2,377.4 584.4,379.7 580.9,382.0 577.5,384.3 572.8,387.8 568.7,391.3 568.2,396.0 568.7,401.8 569.3,407.6 572.8,411.1 577.5,412.8 582.1,414.6 586.8,415.7 590.2,417.5 593.7,416.3 597.2,414.6 600.0,413.4M481.0,404.1 483.9,405.8 485.6,409.9 485.1,413.4 488.0,415.7 491.5,418.0 493.8,420.4 495.5,422.0M600.0,366.3 603.5,368.1 608.1,368.1 611.6,365.8 613.9,362.3 611.6,358.8 609.3,355.9 605.8,354.1 605.2,351.2 608.1,348.9 611.6,347.7 614.5,347.2 611.0,343.7 610.5,341.9 612.8,344.3 616.3,343.1 619.8,340.8 624.4,339.0 629.1,339.6 632.5,340.2 636.0,337.9 639.5,337.3 643.0,335.5 641.8,333.2 644.7,335.0 647.6,335.5 648.2,333.2 650.0,331.5 653.5,332.1 656.9,333.8 659.3,332.1 658.1,329.1 660.4,330.9 662.8,332.6 666.2,330.9 668.6,328.6 670.9,328.0 672.6,325.1 674.4,320.4 673.2,315.8 675.5,317.5 676.7,322.8 677.9,327.4 680.2,323.9 680.8,320.4 682.5,322.2 684.8,323.9 686.6,320.4 686.6,314.6 686.0,308.8 685.4,304.2 687.7,305.3 689.5,310.0 693.0,314.6 696.5,314.6 694.1,318.1 693.0,321.6 696.5,320.4 698.8,316.9 702.3,315.8 704.6,312.3 708.1,313.5 710.4,310.6 713.9,310.0 715.0,307.6 719.0,308.8M660.4,335.5 663.3,334.4 665.1,336.7 668.0,336.1 669.7,336.7M688.9,326.8 690.4,327.4 689.5,328.3 688.9,326.8M696.5,330.3 699.9,328.0 703.4,325.7M612.8,351.8 615.7,353.0 614.5,354.1 612.8,351.8M611.6,361.1 615.1,361.7 613.9,363.4M600.0,376.2 604.6,374.5 610.5,372.7 615.1,371.6 617.4,371.6 620.9,373.9 623.8,377.4 625.0,382.0 622.7,384.3 619.8,386.7 617.4,390.2 615.7,394.8 613.9,399.5 612.2,402.9 609.9,405.8 605.8,407.6 602.3,410.5 600.0,412.8M719.0,311.1 721.3,308.8 724.8,307.6 728.3,309.4 731.8,311.1 733.5,308.8 735.3,306.5 738.8,307.6 742.2,307.1 745.7,305.3 749.2,304.7 752.7,303.6 756.2,303.0M230.3,422.0 232.1,426.6 233.8,432.5 232.7,438.3 230.9,444.1 229.2,449.9 227.4,455.7 225.7,461.5 224.5,467.3 225.1,470.2 228.0,469.6 230.9,466.7 233.2,465.0 231.5,468.5 230.3,472.0 234.4,471.4 237.3,473.1 240.2,474.9 243.0,476.0M193.7,541.0 192.6,535.9 193.7,531.2 196.1,528.9 197.8,533.6 197.2,538.2 196.6,541.0M211.2,495.8 212.6,496.4 211.7,497.5 211.2,495.8M204.2,514.4 205.6,515.0 204.8,515.9 204.2,514.4M200.7,517.3 201.9,517.9 201.2,518.7 200.7,517.3M195.5,525.4 196.7,525.9 195.9,526.6 195.5,525.4M225.8,530.7 227.0,531.2 226.3,531.9 225.8,530.7M243.0,475.5 245.9,473.1 245.3,469.6 247.6,473.1 251.1,476.6 254.6,475.5 258.1,470.8 260.4,466.7 261.0,464.4 263.9,465.0 268.0,462.7 272.1,460.9 274.4,459.2 273.2,455.7 271.5,451.6 273.8,451.1 273.8,455.7 275.5,458.0 280.2,457.4 283.7,454.5 286.6,451.1 288.9,447.0 289.5,442.3 288.9,438.3 287.2,435.9 289.5,437.1 291.8,440.6 294.1,443.5 295.3,446.4 296.5,449.9 298.8,453.4 301.1,456.9 303.4,461.5 304.6,463.8 306.3,456.3 302.3,457.4 305.8,456.3 306.9,459.2 305.8,465.0 305.2,468.5 306.9,473.1 308.1,478.9 308.7,484.8 309.8,490.6 310.4,496.4 312.1,501.0 313.9,505.7 315.6,510.3 316.8,516.1 318.0,521.9 318.5,526.6 319.7,523.1 320.3,519.6 320.3,524.3 323.2,527.8 325.5,532.4 327.8,537.0 329.6,541.0M306.3,480.7 307.3,481.3 306.7,482.2 306.3,480.7M309.5,508.0 310.4,508.6 309.8,509.4 309.5,508.0M309.8,510.9 310.6,511.5 310.1,512.4 309.8,510.9M309.8,513.8 310.8,514.4 310.2,515.2 309.8,513.8M312.4,520.2 313.4,520.8 312.7,521.7 312.4,520.2M320.6,537.0 321.6,538.2 320.9,539.4M307.5,422.0 308.1,426.6 311.6,430.1 315.1,433.6 318.5,437.1 321.4,441.2 324.3,445.2 327.3,448.7 327.8,453.4 330.2,458.0 331.9,462.1 334.8,462.7 337.1,462.1 336.0,465.6 333.1,467.3 329.6,469.1 328.4,473.1 328.4,478.9 328.4,483.6 324.3,485.9 320.3,488.2 319.7,492.9 320.9,497.5 323.2,502.2 326.7,506.8 331.3,511.5 336.0,515.0 339.5,518.5 341.8,523.1 343.5,527.8 344.1,532.4 342.4,537.0 341.8,541.0M389.9,422.0 387.0,425.5 386.4,430.1 388.1,433.6 390.5,434.2 392.8,432.5M462.5,422.0 465.4,424.9 470.1,429.0 474.1,433.6 476.5,438.3 476.5,444.1 475.3,449.9 476.5,455.7 478.8,460.3 481.0,462.7M481.0,508.6 476.5,508.0 471.2,508.9 465.4,508.6 459.6,508.9 453.8,508.2 448.0,508.6 442.2,509.4 437.5,510.9 434.1,513.2 431.1,516.1 428.8,519.6 426.5,523.1 423.6,525.4 420.7,527.2 419.5,530.1 418.9,533.6 419.5,537.0 421.3,541.0M362.0,535.3 364.3,531.8 369.0,530.1 374.8,529.5 380.6,530.1 385.8,530.7 385.2,534.1 384.1,538.2 383.5,541.0M496.1,422.0 497.3,426.6 500.8,431.3 505.4,434.8 508.9,439.4 512.4,440.6 515.9,445.2 518.8,447.0 518.2,451.6 519.9,455.7 522.8,458.6 525.7,458.0 526.9,460.9 531.0,462.7 534.5,465.0 537.9,467.9 540.3,470.2 537.9,473.1 535.6,475.5 535.6,478.9 537.9,481.8 541.4,484.8 544.3,487.7 544.9,491.1 542.0,493.5 541.4,496.4 543.8,497.5 541.4,500.4 539.7,502.2M516.4,422.0 517.0,426.6 519.3,431.3 522.8,435.9 527.5,440.6 531.6,444.1 533.3,448.7 536.8,451.1 541.4,455.1 546.1,458.6 549.6,462.1 553.1,463.8 556.5,466.2 560.0,467.9 562.3,472.0 565.8,477.2 569.3,481.8 573.4,484.8 575.1,489.4 576.3,494.1 578.0,499.9 579.8,505.7 581.5,512.6 582.7,518.5 583.3,523.1 582.7,528.9 583.8,533.6 585.0,538.2 586.2,541.0M536.8,441.8 537.9,442.3 537.2,443.2 536.8,441.8M565.3,470.8 566.4,471.4 565.7,472.2 565.3,470.8M579.2,484.2 580.5,484.8 579.7,485.7 579.2,484.2M585.0,526.0 586.1,526.6 585.4,527.5 585.0,526.0M548.4,461.5 550.7,462.1 549.6,463.6 548.4,461.5M539.7,502.2 535.6,505.1 531.0,507.4 526.3,508.6 520.5,508.0 515.9,506.8 513.0,505.7 510.6,508.6 507.1,510.3 506.6,515.0 504.2,516.1 500.8,514.4 497.3,512.1 493.8,510.3 490.3,509.7 486.8,510.3 484.5,512.6 482.2,510.9 481.0,509.2M481.0,463.3 482.7,466.7 486.8,468.5 491.5,469.6 492.0,473.1 490.9,475.5 494.9,477.2 496.7,480.1 496.1,484.8 493.8,488.2 493.2,492.9 494.9,497.5 494.4,503.3 491.5,506.8 486.8,509.7M539.7,502.2 539.1,508.0 537.9,513.8 539.7,518.5 542.0,523.1 543.8,528.9 543.8,534.7 542.0,541.0M838.0,460.9 834.6,461.5 833.5,465.0 833.5,469.6 835.2,472.0 836.4,475.5 835.8,480.1 837.0,484.8 838.0,485.3M190.8,541.0 189.1,545.6 189.7,551.5 191.4,556.1 189.1,559.6 186.8,564.2 185.0,568.9 185.6,574.7 187.3,579.3 189.1,582.8 190.2,578.2 190.8,573.5 191.4,567.7 192.6,561.9 194.3,557.3 195.5,551.5 194.9,545.6 193.7,541.0M191.4,544.5 192.6,550.3 192.0,554.9M196.6,559.6 198.4,561.9 196.6,566.6 197.2,569.5 195.5,565.4 196.6,559.6M176.9,575.3 178.4,575.9 177.5,577.0 176.9,575.3M215.8,558.4 217.0,559.0 216.3,559.8 215.8,558.4M182.7,592.1 185.6,591.6 187.3,595.0 186.2,599.1 183.8,600.8 181.5,599.1 181.5,595.0 182.7,592.1M189.3,631.9 191.2,631.6 191.6,633.4 190.0,634.2 189.3,631.9M192.0,640.1 192.8,640.7 192.2,641.4 192.0,640.1M197.8,652.0 199.5,654.3 201.3,655.5 199.5,656.0 197.8,653.7 197.8,652.0M210.2,647.3 211.4,649.1 210.6,650.8 210.2,647.3M207.1,656.0 209.4,655.5 210.0,658.4 207.7,659.0 207.1,656.0M329.6,541.0 330.7,545.6 331.9,551.5 330.2,556.1 329.0,560.8 331.3,564.2 333.1,568.9 332.5,574.7 331.3,580.5 332.5,586.3 331.3,591.0 329.0,594.5 327.3,597.9 326.1,602.6 326.7,607.2 327.3,611.9 328.4,616.5 327.3,621.2 325.5,625.8 323.8,630.5 322.6,635.1 321.4,639.8 320.3,645.6 320.3,650.2 321.4,654.9 322.6,660.0M311.0,545.6 312.1,546.8 311.3,548.0 311.0,545.6M310.4,550.9 311.8,551.5 311.0,552.6 310.4,550.9M313.9,556.1 317.4,556.7 318.5,560.8 316.2,560.2 313.9,556.1M322.0,550.3 324.9,549.7 327.3,553.8 326.1,556.7 323.2,554.9 322.0,550.3M306.3,563.7 307.6,564.2 306.9,565.4 306.3,563.7M305.8,567.7 307.1,568.3 306.5,569.4 305.8,567.7M301.7,569.8 304.0,569.5 303.4,571.0 301.7,569.8M315.1,568.9 316.2,570.1 317.1,574.1 315.6,573.0 315.1,568.9M319.1,578.2 320.3,574.7 322.0,571.8 322.6,574.1 320.9,577.6 319.1,578.2M325.5,563.7 328.4,565.4 329.6,571.2 327.3,570.1 325.5,563.7M327.3,574.1 329.0,574.7 328.1,576.4 327.3,574.1M319.9,581.9 322.0,582.3 321.4,584.2 319.9,581.9M312.5,590.7 314.1,591.2 313.4,592.8 312.5,590.7M316.8,591.0 319.7,589.8 322.0,588.6 322.6,593.3 321.1,596.8 319.7,593.9 316.8,591.0M326.1,588.6 329.6,588.1 330.2,592.1 327.3,592.7 326.1,588.6M312.1,601.4 313.7,602.0 312.7,603.2 312.1,601.4M313.9,599.1 315.3,599.7 314.5,600.7 313.9,599.1M319.7,600.3 321.1,600.8 320.3,601.9 319.7,600.3M313.9,609.0 315.1,609.6 314.4,610.5 313.9,609.0M319.1,608.4 322.0,609.0 323.0,611.9 320.3,615.4 318.5,615.4 319.7,611.9 319.1,608.4M315.1,616.5 316.4,617.1 315.6,618.2 315.1,616.5M311.3,625.6 313.0,626.1 312.3,627.6 311.3,625.6M324.9,616.5 326.7,617.1 326.9,620.6 325.3,620.0 324.9,616.5M322.0,631.6 323.8,632.8 324.3,637.5 322.6,638.6 321.8,635.1 322.0,631.6M342.9,541.0 345.3,545.6 348.2,550.3 349.9,556.1 351.7,561.9 353.4,567.7 354.0,570.1 351.7,573.5 348.8,578.2 345.3,582.8 341.8,587.5 338.3,592.1 334.8,595.6 333.1,599.1 332.5,603.8 331.3,608.4 329.6,613.1 328.4,616.5M362.0,563.1 359.2,566.6 357.5,570.1 355.1,573.5 353.4,578.2 352.2,582.8 351.1,587.5 349.3,592.1 347.0,596.8 344.7,601.4 342.9,604.9 342.4,610.7 342.4,616.5 343.5,622.3 345.3,627.0 344.7,630.5 347.6,631.6 352.2,630.5 356.3,629.9 359.2,632.8 360.4,637.5 361.0,643.3 362.0,645.6M358.0,610.1 359.4,610.7 358.7,611.9 358.0,610.1M326.1,660.0 326.1,655.5 327.3,652.0 329.6,651.4 331.3,654.3 333.1,658.4 333.6,660.0M383.5,541.0 382.9,544.5 382.3,548.0 385.2,550.3 389.9,549.7 395.7,549.1 401.5,548.6 406.2,549.7 409.6,552.0 413.1,554.9 416.6,557.3 418.9,558.4 416.6,560.8 417.8,564.2 420.1,566.0 418.9,562.5 421.3,561.3 424.8,563.1 427.7,565.4 430.0,568.9 431.7,572.4 433.5,575.9 435.2,579.3 434.6,582.3 436.4,584.0 437.0,587.5 437.5,591.0 439.3,592.1 442.2,591.6 444.5,589.8 445.7,586.9 447.4,585.2 449.7,586.9 450.9,591.0 450.3,594.5 448.0,596.8 446.8,599.1 449.2,600.3 452.1,602.0 453.8,600.3 455.0,597.4 456.1,599.1 460.8,599.7 464.3,600.3 467.8,602.6 470.7,606.1 473.6,609.6 477.0,610.1 481.0,610.7M422.4,541.0 423.6,545.6 425.9,550.3 428.0,554.4 428.2,558.4 427.3,562.5M421.8,569.5 424.2,571.8 424.8,575.3 423.0,574.7 421.8,569.5M434.1,579.9 436.4,579.3 437.0,582.3 434.6,582.8 434.1,579.9M438.7,594.5 441.0,595.6 441.6,597.4 439.3,596.8 438.7,594.5M455.0,604.3 458.5,602.6 460.2,604.9 459.6,609.6 459.0,613.1 457.9,610.7 456.1,607.2 455.0,604.3M481.0,615.4 478.2,620.0 477.6,625.8 477.0,632.8 477.6,638.6 478.2,643.3 475.9,645.6 475.3,646.8 478.2,647.3 481.0,646.8M362.0,618.3 363.7,618.9 364.6,622.3 363.7,626.4 362.0,627.0M362.0,621.2 364.3,621.2M362.0,624.1 364.3,624.1M362.0,643.3 364.9,646.8 367.2,651.4 369.0,656.0 370.1,660.0M542.0,541.0 543.2,545.6 543.8,550.3 542.6,554.9 539.1,558.4 533.3,560.8 527.5,563.1 521.7,564.8 517.0,566.6 515.9,570.1 514.7,571.8 511.2,570.6 507.7,571.2 504.8,573.5 503.1,577.0 503.7,581.1 506.0,584.0 508.3,586.9 509.5,591.0 508.3,593.3 505.4,593.3 503.1,592.1 501.3,589.8 499.0,588.6 494.9,589.8 490.9,591.6 487.4,592.1 484.5,591.0 482.7,592.1 483.3,595.6 481.0,597.9M585.6,541.0 587.3,544.5 586.2,548.0 584.4,550.3 582.1,553.8 583.3,557.3 582.1,561.9 580.9,566.6 580.4,570.1 578.6,573.5 577.5,577.0 576.9,580.5 572.8,582.3 569.3,584.6 565.8,586.9 562.3,589.2 558.9,591.0 555.4,592.7 553.6,595.6 550.7,596.8 547.2,598.5 543.8,600.3 540.3,601.4 536.8,602.6 533.3,603.8 531.6,602.0 529.2,603.2 526.3,603.8 524.0,600.8 522.8,603.8 524.6,607.2 524.0,610.7 521.7,613.1 522.3,616.5 518.2,615.4 519.3,620.0 517.6,622.3 514.7,623.5 512.4,622.3 511.2,624.7 509.5,627.0 506.0,628.7 501.9,630.5 498.4,632.2 494.9,634.0 492.6,636.3 490.9,639.2 488.6,641.5 486.2,643.3 483.9,645.0 481.0,646.2M481.0,610.7 483.3,611.9 482.7,614.2 481.0,615.4M575.1,599.9 576.3,600.5 575.6,601.4 575.1,599.9M519.1,643.0 521.1,642.7 521.4,644.7 519.6,645.1 519.1,643.0M585.6,549.1 587.0,549.7 586.2,550.9 585.6,549.1M827.7,579.3 828.8,582.8 828.2,587.5 827.7,591.0 829.4,594.5 831.1,597.9 832.3,600.3 829.4,602.0 826.5,603.2 823.6,604.3 821.3,607.2 820.7,610.7 817.8,612.5 813.1,613.6 810.2,614.8 809.1,617.7 809.6,621.2 807.9,624.7 805.6,627.6 802.1,630.5 799.2,632.2 795.1,633.4 793.4,635.7 791.6,639.8 788.7,642.1 785.2,643.8 781.8,644.4 779.4,646.2 777.7,648.5 774.8,650.8 772.5,652.6 771.9,650.2 773.0,646.8 775.9,643.3 778.8,639.8 782.3,636.3 785.8,632.8 789.9,630.5 793.4,629.3 795.7,626.4 799.2,622.9 802.7,619.4 805.6,616.0 808.5,612.5 810.8,609.0 813.7,606.1 816.0,603.2 818.9,601.4 821.3,599.1 823.0,596.2 823.6,593.3 821.3,593.9 820.7,591.0 822.4,589.2 823.6,586.3 824.8,582.8 825.9,579.9 827.7,579.3M834.0,598.5 837.0,597.9 838.0,599.7 835.8,602.0 833.5,600.8 834.0,598.5M832.3,577.6 835.2,577.0 835.8,579.3 833.5,579.9 832.3,577.6M835.8,557.9 838.0,558.4M835.2,561.9 837.0,564.2 836.4,568.9 838.0,570.1M836.4,572.4 837.5,574.1M770.1,654.3 772.5,655.5 775.4,653.7 775.9,656.0 773.0,657.2 770.7,656.6 770.1,654.3M766.6,659.0 769.0,658.4 769.6,660.0M203.6,660.6 205.9,663.5 210.0,662.1M212.1,675.1 214.1,675.7 213.5,677.7 211.7,677.4 212.1,675.1M212.3,680.3 215.8,679.2 218.1,681.5 218.7,685.0 217.0,689.6 215.2,690.2 213.5,686.7 211.7,683.2 212.3,680.3M248.2,717.5 251.1,716.4 254.6,716.9 259.3,717.5 263.3,719.3 266.2,722.2 269.7,724.5 274.4,726.2 279.0,727.2 283.7,726.8 288.3,725.7 291.8,725.7 294.7,727.4 297.6,728.0 301.1,726.8 303.4,726.2 306.3,729.7 309.2,732.6 312.1,735.5 313.9,739.0 315.6,742.5 318.5,743.7 320.9,746.0 321.4,748.9 320.3,751.8 319.7,753.0 323.2,753.0 326.7,755.3 329.6,757.0 331.9,759.9 334.8,762.3 338.3,764.0 341.8,766.3 345.3,769.2 348.8,772.1 352.8,775.0 358.0,778.0 360.4,779.0M248.2,717.5 248.8,721.6 250.0,726.2 252.3,730.9 254.6,734.4 257.5,738.4 261.0,742.5 264.5,746.6 268.0,750.6 271.5,754.1 274.4,757.6 277.9,760.5 281.3,762.3 284.8,762.3 287.7,764.0 290.6,766.9 293.0,770.4 295.9,774.5 297.6,779.0M243.6,714.6 245.9,715.8 247.1,717.5 245.3,716.9 243.6,714.6M248.8,710.6 251.7,711.1 251.1,713.5 249.4,712.9 248.8,710.6M336.5,660.0 338.9,663.5 341.2,668.1 344.1,671.6 347.6,676.3 351.1,679.8 354.6,683.2 357.5,687.9 360.4,690.8 362.0,692.0M339.2,670.2 341.5,672.6 340.4,673.0 339.2,670.2M348.5,676.6 350.8,678.4 349.7,678.8 348.5,676.6M343.9,694.0 346.8,695.2 345.3,695.8 343.9,694.0M354.0,691.4 355.1,694.9 353.4,695.4 354.0,691.4M356.3,698.3 359.8,697.2 360.4,700.7 358.0,703.6 356.3,701.8 356.3,698.3M370.7,660.0 371.9,664.6 373.6,670.5 375.9,676.3 379.4,680.9 383.5,685.0 387.6,687.3 392.2,687.3 396.3,687.3 400.3,689.6 402.7,693.1 405.6,696.6 409.1,700.1 413.1,703.0 417.2,704.7 420.1,707.1 423.0,710.6 427.1,714.0 431.7,717.5 436.4,721.0 439.3,725.1 442.2,729.7 443.9,734.4 445.1,739.6 445.7,744.8 445.1,749.5 443.9,754.1 443.3,758.8 442.2,762.3 443.9,765.2 445.1,769.2 445.4,773.9 445.1,779.0M362.0,694.3 364.9,696.0 366.1,699.5 368.4,704.2 370.1,708.8 371.3,714.6 371.9,720.4 370.7,723.3 371.3,727.4 373.6,732.1 375.9,736.7 376.5,741.3 377.1,747.2 378.3,751.8 380.6,756.5 382.3,759.9 385.2,764.0 388.1,768.1 391.1,771.6 392.8,775.0 394.0,779.0M367.2,721.0 369.6,720.4 370.1,724.5 367.8,725.1 367.2,721.0M379.4,755.9 382.3,756.5 383.5,758.8M372.5,679.2 374.8,678.6 376.5,680.3 374.8,681.8 372.5,680.9 372.5,679.2M365.5,697.2 366.6,693.1 369.0,692.0 370.7,694.3 374.8,696.0 379.4,697.2 382.9,698.9 385.2,701.8 388.7,703.0 389.3,706.5 388.1,711.1 386.4,713.5 389.3,716.9 392.2,714.0 395.1,711.7 399.2,711.1 402.7,712.9 405.6,713.5 408.5,711.1 409.6,708.2 412.6,706.5 415.5,704.7M552.5,754.7 555.4,753.0 558.3,750.6 561.2,754.1 562.9,757.0 562.3,760.5 560.0,762.3 556.5,763.4 554.2,761.1 553.1,758.2 552.5,754.7M554.2,763.4 556.5,762.3 558.9,764.0 556.5,765.2 554.2,764.6 554.2,763.4M546.1,742.7 547.5,743.2 546.7,743.9 546.1,742.7M549.1,751.8 550.3,752.4 549.6,753.2 549.1,751.8M550.3,757.6 551.4,758.2 550.7,759.0 550.3,757.6M510.1,770.4 513.0,769.8 513.5,773.3 511.2,776.2 510.1,773.3 510.1,770.4M496.7,776.2 498.4,776.8 499.6,778.5M514.1,775.0 515.6,775.6 514.7,776.6 514.1,775.0M719.0,732.6 715.0,735.5 711.6,737.9 708.1,740.2 704.0,741.3 699.9,742.5 695.9,741.9 695.3,746.0 694.7,750.1 691.8,753.5 688.3,757.6 684.8,761.1 681.3,764.6 677.9,769.2 674.4,773.3 670.9,776.2 667.4,777.4 663.9,778.5M695.9,741.9 700.5,743.1 702.8,746.0 704.0,748.9 706.9,751.2 709.8,754.1 712.1,755.9 714.5,754.1 716.2,750.6 716.8,746.6 715.6,742.5 715.0,739.0 716.8,737.3 719.0,736.7M719.0,732.6 721.9,730.9 724.2,728.6 722.5,726.2 725.4,723.3 728.9,723.9 732.4,726.8 734.1,726.2 730.6,723.3 730.0,720.4 732.9,719.3 736.4,717.5 739.9,714.6 742.8,710.6 745.7,706.5 748.6,702.4 751.5,698.9 755.0,695.4 757.9,692.0 759.1,687.3 760.8,684.4 763.2,685.0 763.7,689.1 762.6,692.5 763.2,694.3 765.5,692.0 767.2,688.5 768.4,685.0 770.7,683.8 773.0,686.1 774.2,689.6 775.9,692.5 778.3,693.7 780.0,694.9 782.3,696.6 784.7,698.9 785.2,701.8 782.9,704.2 782.3,707.6 783.5,710.0 781.8,710.6 785.8,710.0 789.3,708.2 792.2,707.1 794.5,710.0 795.7,712.9 793.4,714.6 789.9,713.5 791.1,715.2 794.5,714.0 798.0,712.9 801.5,713.5 804.4,715.8 805.0,718.7 806.2,716.9 808.5,718.1 810.8,720.4 813.1,722.8 816.6,721.6 820.1,722.8 821.8,725.7 821.3,728.6 817.8,730.3 813.1,732.1 808.5,733.2 803.8,733.2 800.3,731.5 797.4,732.6 795.1,735.0 795.7,737.9 798.0,740.2 801.5,740.2 804.4,741.3 802.7,743.1 805.6,744.3 809.1,745.4 805.6,746.6 800.3,747.7 794.5,749.5 789.9,750.1 787.6,748.3 784.7,746.6 782.3,748.3 781.8,751.8 779.4,753.0 776.5,753.0 778.3,754.7 781.8,756.5 784.7,758.2 787.0,761.1 787.6,764.0 785.2,765.2 781.8,764.0 777.7,764.6 773.6,765.2 769.0,765.2 773.0,766.3 775.9,768.7 779.4,769.8 782.3,771.6 780.6,774.5 777.1,775.0 779.4,776.8 782.3,779.0M766.6,660.0 766.9,663.5 768.4,665.2 769.6,662.9 769.2,660.0M764.3,678.6 767.8,677.4 770.7,676.3 774.2,676.3 774.8,679.8 771.9,680.9 769.0,681.5 765.5,679.8 764.3,678.6M774.2,682.7 775.5,683.2 774.8,684.2 774.2,682.7M801.3,683.6 803.6,683.8 803.3,685.3 801.5,685.1 801.3,683.6M826.5,734.4 827.7,737.3 826.5,740.8M832.9,729.7 835.2,728.6 838.0,727.4M834.6,733.8 835.8,736.7M721.9,730.9 723.6,735.0 724.2,739.0 724.8,743.7 726.6,746.6 727.7,748.3 725.4,746.6 723.1,745.4 722.5,741.3 720.7,736.7 719.0,732.6M776.5,690.2 778.8,690.8 779.4,693.7 777.1,694.3 776.5,690.2M789.3,712.9 792.8,712.3 793.4,714.6 790.5,715.2 789.3,712.9M730.6,779.0 732.4,773.9 733.5,768.1 733.5,762.3 734.7,756.5 736.4,751.8 739.3,748.9 742.2,747.2 748.1,746.6 753.9,748.3 759.7,747.2 765.5,747.2 771.3,747.7 775.9,748.9 778.8,751.8M782.3,746.6 784.1,749.5 787.6,751.8 788.7,754.1 786.4,755.3 784.1,753.0 782.9,749.5M785.2,765.8 787.6,766.3 788.1,769.2 786.4,768.7 785.2,765.8M298.8,779.0 302.3,781.3 305.8,784.8 306.9,789.5 308.1,794.1 311.6,797.0 316.2,798.8 320.9,801.1 324.9,804.0 328.4,806.9 331.3,809.8 333.1,813.9 334.2,818.5 336.0,823.2 337.7,827.8 339.5,832.5 340.6,837.1 341.8,841.8 343.5,845.2 346.4,846.4 349.9,848.1 352.8,850.5 355.1,853.4 357.5,856.9 359.2,859.8 362.0,861.5M331.9,809.8 334.2,811.0 333.6,813.3 331.9,812.1 331.9,809.8M260.4,783.6 262.8,781.3 265.7,782.5 269.1,785.4 272.6,788.3 276.1,790.6 279.0,793.5 277.9,795.9 274.4,794.7 270.9,791.8 267.4,790.0 263.9,788.3 261.6,786.6 260.4,783.6M281.9,799.3 283.1,800.5 282.7,802.2 281.7,801.1 281.9,799.3M293.0,799.9 295.3,798.2 298.2,798.2 299.7,800.5 298.5,801.7 296.5,800.5 294.1,802.8 293.0,801.7 293.0,799.9M292.4,817.3 295.9,816.8 299.4,814.4 302.8,817.3 306.3,821.4 310.4,824.9 313.3,828.4 312.7,833.0 311.0,838.3 308.1,837.7 306.3,834.8 304.0,831.3 301.1,829.0 299.9,824.9 297.6,820.8 294.7,818.5 292.4,817.3M327.8,848.1 331.3,847.0 334.8,847.6 335.4,849.3 331.9,850.1 328.4,849.9 327.8,848.1M321.4,852.2 324.3,851.1 326.1,854.0 327.3,856.9 328.4,859.2 327.8,862.1 326.9,866.2 324.9,865.6 323.2,863.8 324.3,860.3 324.3,856.9 322.6,854.5 321.4,852.2M311.0,852.0 312.4,852.6 311.6,853.4 311.0,852.0M329.6,874.9 333.1,873.1 336.5,873.1 338.3,876.6 340.6,881.3 342.9,885.9 345.3,890.6 345.8,895.2 343.5,894.6 340.0,892.3 336.5,888.8 333.6,885.3 331.3,881.8 329.6,878.4 329.6,874.9M394.0,779.0 394.5,781.9 396.9,784.8 400.3,787.1 403.8,789.5 407.3,792.4 410.8,795.3 414.3,798.2 417.8,800.5 421.3,802.8 424.8,805.1 428.2,806.9 431.7,808.6 435.2,810.4 438.7,812.1 442.2,813.9 444.5,816.2 446.8,819.1 449.2,820.3M449.7,816.8 452.6,815.6 455.5,816.8 456.7,819.1 455.0,820.8 452.1,821.1 449.7,819.7 449.7,816.8M445.1,779.0 447.4,782.5 450.3,785.4 452.6,788.3 455.0,792.4 456.7,796.4 458.5,801.1 460.8,805.1 463.1,809.2 464.3,813.9 463.7,817.3 460.8,819.1 459.0,817.9 457.3,816.2M449.2,820.3 452.6,822.6 458.5,823.2 460.2,824.9 457.3,826.6 453.8,827.2M362.0,781.3 363.7,784.8 366.1,787.7 364.9,790.6 367.2,786.0 370.1,789.5 372.5,794.1 374.8,797.6 378.3,799.9 381.2,800.5 382.3,798.2 385.2,796.4 388.7,797.6 391.6,800.5 394.0,802.8M382.3,798.2 382.9,802.2 384.7,807.5M395.1,804.0 396.9,801.7 400.9,800.5 404.4,802.2 405.6,805.1 404.4,808.6 401.5,810.4 398.0,810.4 395.7,808.6 394.5,806.3 395.1,804.0M401.5,810.4 405.0,812.1 408.5,813.9 410.8,816.2 413.7,819.7 415.5,823.2 416.6,826.6 419.5,829.0 422.4,830.7 427.1,831.3 431.7,831.9 435.2,833.0 437.5,835.4 439.9,837.1 442.2,836.5 445.7,837.1 448.6,839.4 450.9,842.3 452.1,845.8 452.6,849.9 450.3,851.6 447.4,853.4 445.1,855.7 448.0,856.3 451.5,856.9 452.6,859.2 449.2,859.8 445.7,860.9 443.3,862.7 443.9,865.6 442.2,867.9 443.3,869.1 446.8,871.4 450.3,873.1 455.0,874.3 459.6,874.9 464.3,875.5 467.2,877.2 468.3,881.3 468.9,885.9 470.1,890.6 471.8,895.2 473.0,898.0M410.2,813.3 414.3,812.7 418.9,813.9 421.8,816.2 422.4,819.7 421.3,823.2 418.9,824.9 420.7,827.8 423.6,825.5 426.5,823.7 431.7,823.7 435.8,825.5 437.5,829.0 435.8,830.7 431.7,829.0 428.2,827.8 424.8,829.0 421.3,830.7 418.9,830.1 416.6,826.6 414.9,822.6 413.1,818.5 410.2,813.3M442.2,825.5 443.9,824.9 443.3,827.2 442.2,825.5M443.3,831.3 445.7,830.7 446.3,834.8 443.9,835.4 443.3,831.3M438.1,835.4 440.4,834.8 441.0,838.3 438.7,838.8 438.1,835.4M450.3,831.9 453.8,830.7 455.0,833.0 452.1,833.6 450.3,831.9M463.1,825.5 466.0,823.7 469.5,822.6 472.4,824.3 473.6,827.8 475.3,831.3 474.1,833.6 471.8,831.9 469.5,830.1 466.6,828.4 463.7,827.8 463.1,825.5M460.8,827.8 463.1,831.3 464.8,835.9 463.1,834.8 461.4,831.3 460.8,827.8M476.5,826.6 477.7,827.2 477.0,828.0 476.5,826.6M465.7,842.3 467.2,842.7 466.9,844.3 465.8,843.8 465.7,842.3M462.9,846.2 464.8,848.1M461.9,859.8 464.8,860.3 467.2,859.2 470.1,856.9 473.0,855.1 476.5,855.7 479.4,858.0 480.5,859.2 477.0,859.2 473.6,859.2 471.8,862.1 470.7,865.6 467.8,866.7 466.0,865.6 464.8,862.7 461.9,859.8M461.0,783.1 462.6,782.7 463.1,784.3 461.5,784.8 461.0,783.1M465.0,789.0 466.0,789.5 465.3,790.2 465.0,789.0M470.1,791.9 471.2,792.4 470.5,793.1 470.1,791.9M460.3,796.0 461.5,796.4 460.8,797.1 460.3,796.0M362.0,862.1 364.9,866.2 367.8,870.8 370.1,875.5 372.5,880.1 375.9,883.6 377.7,888.2 380.0,892.3 382.3,896.4 383.5,898.0M592.6,801.1 590.2,803.4 586.8,804.6 584.4,806.9 583.3,811.0 580.9,813.9 578.6,817.3 576.9,820.8 579.8,822.0 576.3,823.7 575.1,827.8 574.0,832.5 575.1,837.1 575.7,841.8 577.5,846.4 579.8,849.9 580.9,854.5 579.2,858.0 580.4,862.7 583.3,865.6 587.9,866.2 590.2,868.5 586.2,867.9 583.3,869.1 583.3,872.0 586.8,872.5 590.8,873.7 587.9,875.5 587.3,880.1 588.5,882.4 592.6,880.1 596.0,877.8 599.0,878.9 600.0,881.3M592.6,801.1 592.0,805.7 593.7,809.2 597.2,811.5 600.0,813.9M498.4,779.0 498.4,783.1 500.2,783.6 501.9,780.7 501.9,779.0M508.0,780.2 509.1,780.7 508.4,781.6 508.0,780.2M547.2,779.0 548.4,779.9 547.7,780.6M572.2,782.5 574.0,780.2 574.5,783.1 572.8,783.6 572.2,782.5M574.7,784.9 575.8,785.4 575.1,786.1 574.7,784.9M566.4,786.7 567.7,787.1 567.0,787.9 566.4,786.7M576.3,790.0 579.8,791.2 578.6,792.4 576.3,791.2 576.3,790.0M537.9,823.9 539.1,824.3 538.4,825.1 537.9,823.9M539.7,827.8 542.0,826.6 543.8,827.2 543.2,830.1 540.8,829.6 539.7,827.8M533.9,847.8 535.2,848.4 534.5,849.2 533.9,847.8M553.6,845.0 554.9,845.5 554.2,846.2 553.6,845.0M481.0,857.4 481.9,858.0 481.2,858.8M572.8,888.8 575.7,888.2 576.3,890.0 574.0,891.1 572.8,888.8M569.1,891.5 571.9,892.0M485.1,898.0 488.0,894.6 490.3,891.1 493.2,888.8 496.1,887.7 497.9,890.6 499.6,893.5 499.0,889.4 498.4,887.7 502.5,887.1 505.4,888.8 507.1,892.3 508.9,895.8 509.8,898.0M598.4,893.5 600.0,895.2M663.3,779.0 658.1,780.2 652.3,781.3 646.5,782.5 641.8,783.6 638.3,785.4 634.9,787.1 634.3,790.6 633.1,786.0 632.0,785.4 631.4,789.5 632.0,792.9 630.2,794.1 629.1,797.6 630.2,799.9 632.0,800.5 629.1,801.7 627.9,805.7 626.1,810.4 624.4,813.9 626.1,816.2 628.5,817.9 626.1,813.3 625.0,812.1M624.4,813.9 620.9,815.0 618.0,813.9 613.9,812.1 611.6,809.8 608.1,809.2 604.6,810.4 600.0,810.4M607.6,808.6 608.7,810.4M611.6,809.4 612.8,811.0M600.0,817.9 602.9,820.8 605.8,824.3 609.3,827.2 612.8,830.1 616.3,830.7 619.8,829.0 623.2,827.2 627.9,826.6 632.5,826.4 637.2,826.6 641.8,827.2 645.9,826.1 649.4,824.3 651.7,821.4 652.3,817.9 654.6,816.2 658.1,814.4 662.8,813.9 667.4,813.6 672.6,814.4 673.2,816.8 676.7,817.9 681.3,819.7 685.4,821.4 688.3,822.0 691.8,820.3 695.3,817.9 699.9,816.8 704.6,816.2 709.8,815.6 711.6,812.7 713.3,808.1 715.0,804.6 716.2,800.5 716.8,797.6 719.0,795.9M600.0,881.3 601.7,883.0 602.3,887.1 601.2,890.6 600.0,892.3M781.8,779.0 783.5,782.5 785.8,786.0 787.6,789.5 790.5,792.9 793.4,795.9 792.2,798.2 788.7,799.3 786.4,800.5 785.8,802.8 788.1,802.2 788.7,805.1 791.1,808.1 794.0,810.4 796.9,812.7 800.3,815.0 803.8,817.9 806.7,820.3 809.6,823.2 813.1,825.5 815.5,826.6 813.7,829.6 810.8,831.3 807.3,830.7 803.8,831.3 800.3,830.7 796.9,830.1 793.4,829.6 791.6,830.7 789.9,832.5 787.0,833.0 785.2,834.8 782.9,838.3 781.2,842.3 780.0,847.0 779.4,851.1 778.8,855.7 778.3,859.2 780.0,861.5 782.3,860.9 781.8,863.8 779.4,865.6 781.8,867.9 782.3,870.2 779.4,870.8 777.1,872.0 773.6,873.1 771.3,875.5 769.0,877.8 766.6,880.7 764.9,881.8 762.6,880.1 760.8,877.8 762.6,881.3 760.8,883.6 758.5,885.3 756.8,888.2 753.9,890.6 751.0,891.7 748.6,893.5 751.0,894.0 753.9,895.2 754.4,898.0M804.8,796.4 806.2,797.6 805.6,799.9 804.4,798.8 804.8,796.4M730.6,779.0 727.1,780.2 724.2,781.9 723.1,785.4 724.2,789.5 722.5,792.4 720.2,794.1 719.0,795.3M838.0,839.4 836.4,842.9 835.8,846.4 833.5,849.9 831.1,851.6 830.0,853.4 832.3,854.5 834.6,852.8 834.0,856.9 834.6,862.7 834.0,867.3 835.2,870.8 836.4,872.0 835.2,868.5 833.5,867.3 830.6,869.1 827.7,873.1 824.8,877.2 822.4,881.8 821.8,887.1 823.0,891.7 822.4,895.2 821.8,898.0"/><path stroke-width="1.8" d="M502.5,613.6 506.0,617.7 510.1,622.9M510.1,609.6 514.7,613.6 519.3,617.1M516.4,606.1 520.5,607.8 524.0,608.4M551.7,740.0 553.3,737.6M324.9,811.0 327.8,812.1 329.6,811.5M426.5,845.8 431.7,843.5 437.5,840.6 441.0,838.8M469.5,845.8 475.3,849.9M510.1,783.6 511.8,786.6M579.8,882.2 583.3,879.5M789.3,824.9 791.1,827.2 792.2,830.1"/></g>
<g font-size="20.6" font-weight="bold" text-anchor="end">
<text x="333.0" y="410.7" style="fill:#0000ff">CM</text>
<text x="422.0" y="432.8" style="fill:#0000ff">NK</text>
<text x="424.0" y="466.9" style="fill:#0000ff">KK</text>
<text x="455.2" y="482.0" style="fill:#0000ff">YST</text>
<text x="406.5" y="501.6" style="fill:#0000ff">NR</text>
<text x="369.0" y="531.1" style="fill:#0000ff">BK</text>
<text x="318.3" y="670.9" style="fill:#0000ff">PK</text>
</g><g stroke="#0000ff" stroke-width="1.8" fill="none">
<circle cx="339.3" cy="403.3" r="5.9"/><path d="M335.2,399.2l8.2,8.2M335.2,407.4l8.2,-8.2"/>
<circle cx="428.3" cy="425.4" r="5.9"/><path d="M424.2,421.3l8.2,8.2M424.2,429.5l8.2,-8.2"/>
<circle cx="430.3" cy="459.5" r="5.9"/><path d="M426.2,455.4l8.2,8.2M426.2,463.6l8.2,-8.2"/>
<circle cx="461.5" cy="474.6" r="5.9"/><path d="M457.4,470.5l8.2,8.2M457.4,478.7l8.2,-8.2"/>
<circle cx="412.8" cy="494.2" r="5.9"/><path d="M408.7,490.1l8.2,8.2M408.7,498.3l8.2,-8.2"/>
<circle cx="375.3" cy="523.7" r="5.9"/><path d="M371.2,519.6l8.2,8.2M371.2,527.8l8.2,-8.2"/>
<circle cx="324.6" cy="663.5" r="5.9"/><path d="M320.5,659.4l8.2,8.2M320.5,667.6l8.2,-8.2"/>
</g>
<g id="frame" stroke="#000" stroke-width="1" fill="none">
<rect x="124.5" y="184.4" width="714.7" height="714.6"/>
</g>
<g id="ticks" stroke="#000" stroke-width="0.9" fill="none">
<path d="M124.50,899.00v24M124.50,184.40v-24M172.15,899.00v12M172.15,184.40v-12M219.79,899.00v12M219.79,184.40v-12M267.44,899.00v12M267.44,184.40v-12M315.09,899.00v12M315.09,184.40v-12M362.73,899.00v24M362.73,184.40v-24M410.38,899.00v12M410.38,184.40v-12M458.03,899.00v12M458.03,184.40v-12M505.67,899.00v12M505.67,184.40v-12M553.32,899.00v12M553.32,184.40v-12M600.97,899.00v24M600.97,184.40v-24M648.61,899.00v12M648.61,184.40v-12M696.26,899.00v12M696.26,184.40v-12M743.91,899.00v12M743.91,184.40v-12M791.55,899.00v12M791.55,184.40v-12M839.20,899.00v24M839.20,184.40v-24M124.50,899.00h-12M839.20,899.00h12M124.50,851.36h-24M839.20,851.36h24M124.50,803.72h-12M839.20,803.72h12M124.50,756.08h-12M839.20,756.08h12M124.50,708.44h-12M839.20,708.44h12M124.50,660.80h-12M839.20,660.80h12M124.50,613.16h-24M839.20,613.16h24M124.50,565.52h-12M839.20,565.52h12M124.50,517.88h-12M839.20,517.88h12M124.50,470.24h-12M839.20,470.24h12M124.50,422.60h-12M839.20,422.60h12M124.50,374.96h-24M839.20,374.96h24M124.50,327.32h-12M839.20,327.32h12M124.50,279.68h-12M839.20,279.68h12M124.50,232.04h-12M839.20,232.04h12M124.50,184.40h-12M839.20,184.40h12"/>
</g>
<g font-size="32.6" text-anchor="middle">
<text x="124" y="970.6">90E</text><text x="362.7" y="970.6">100E</text><text x="600.9" y="970.6">110E</text><text x="839.2" y="970.6">120E</text>
</g>
<g font-size="32.6" text-anchor="end">
<text x="80.3" y="386.3">20N</text><text x="80.3" y="624.3">10N</text><text x="80.3" y="862.3">0</text>
</g>
<rect x="124.5" y="871.5" width="201.3" height="27.5" fill="#fff" stroke="#000" stroke-width="1"/>
<text x="130.6" y="889.6" font-size="17.0">WRF-Chem_NCAR_YSU</text>
<rect x="874.0" y="191.20" width="42" height="50.00" fill="#8e141b" stroke="#000" stroke-width="0.7"/>
<rect x="874.0" y="241.20" width="42" height="50.00" fill="#b31821" stroke="#000" stroke-width="0.7"/>
<rect x="874.0" y="291.20" width="42" height="50.00" fill="#d7262b" stroke="#000" stroke-width="0.7"/>
<rect x="874.0" y="341.20" width="42" height="50.00" fill="#e9532b" stroke="#000" stroke-width="0.7"/>
<rect x="874.0" y="391.20" width="42" height="50.00" fill="#f58535" stroke="#000" stroke-width="0.7"/>
<rect x="874.0" y="441.20" width="42" height="50.00" fill="#fac44f" stroke="#000" stroke-width="0.7"/>
<rect x="874.0" y="491.20" width="42" height="50.00" fill="#cedd5b" stroke="#000" stroke-width="0.7"/>
<rect x="874.0" y="541.20" width="42" height="50.00" fill="#72c24c" stroke="#000" stroke-width="0.7"/>
<rect x="874.0" y="591.20" width="42" height="50.00" fill="#48a574" stroke="#000" stroke-width="0.7"/>
<rect x="874.0" y="641.20" width="42" height="50.00" fill="#4a95b4" stroke="#000" stroke-width="0.7"/>
<rect x="874.0" y="691.20" width="42" height="50.00" fill="#6babdc" stroke="#000" stroke-width="0.7"/>
<rect x="874.0" y="741.20" width="42" height="50.00" fill="#98d5f1" stroke="#000" stroke-width="0.7"/>
<rect x="874.0" y="791.20" width="42" height="50.00" fill="#cdebfa" stroke="#000" stroke-width="0.7"/>
<rect x="874.0" y="841.20" width="42" height="50.00" fill="#ffffff" stroke="#000" stroke-width="0.7"/>
<g font-size="32.6" text-anchor="middle">
<text x="960" y="252.9">20</text>
<text x="960" y="302.9">10</text>
<text x="960" y="352.9">5</text>
<text x="960" y="402.9">3</text>
<text x="960" y="452.9">2.5</text>
<text x="960" y="502.9">2</text>
<text x="960" y="552.9">1.5</text>
<text x="960" y="602.9">1</text>
<text x="960" y="652.9">0.5</text>
<text x="960" y="702.9">0.2</text>
<text x="960" y="752.9">0.1</text>
<text x="960" y="802.9">0.05</text>
<text x="960" y="852.9">0.01</text>
</g>
</svg>
</body></html>
